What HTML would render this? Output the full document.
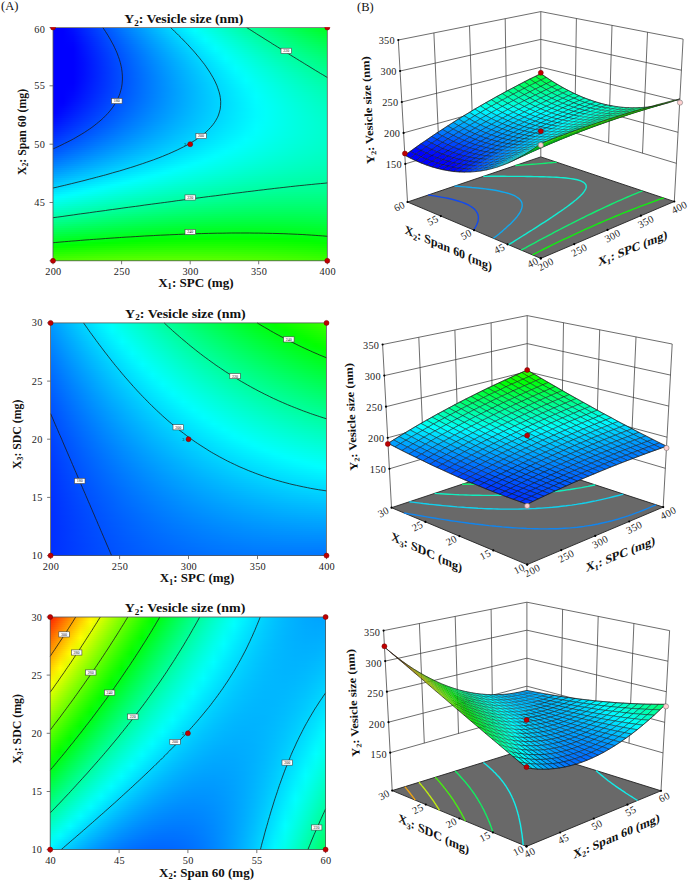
<!DOCTYPE html><html><head><meta charset="utf-8"><title>Figure</title><style>
html,body{margin:0;padding:0;background:#fff}
#w{position:relative;width:688px;height:882px;overflow:hidden;background:#fff;font-family:"Liberation Serif","DejaVu Serif",serif}
.hm{position:absolute;overflow:hidden}
.hm i{display:block;height:2px}
svg{position:absolute;left:0;top:0;opacity:.999}
text{font-family:"Liberation Serif","DejaVu Serif",serif;fill:#111;-webkit-font-smoothing:antialiased}
.a{stroke-width:.28}.b{stroke-width:.14}
.tk{font-size:10.3px;letter-spacing:0.3px;fill:#222}
</style></head><body><div id="w"><div class="hm" style="left:53px;top:27.5px;width:274.3px;height:233.3px"><i style="background:linear-gradient(90deg,#0000ff,#0000ff,#0011ff,#0027ff,#003cff,#0051ff,#0066ff,#007bff,#008fff,#00a3ff,#00b7ff,#00caff,#00ddff,#00f0ff,#00fffc,#00ffe9,#00ffd7,#00ffc5,#00ffb3,#00ffa2,#00ff91,#00ff81,#00ff70,#00ff60,#00ff51,#00ff41,#00ff32,#00ff23)"></i><i style="background:linear-gradient(90deg,#0000ff,#0000ff,#000eff,#0024ff,#0039ff,#004eff,#0063ff,#0078ff,#008cff,#009fff,#00b3ff,#00c6ff,#00d9ff,#00ecff,#00feff,#00ffee,#00ffdc,#00ffca,#00ffb9,#00ffa7,#00ff97,#00ff86,#00ff76,#00ff66,#00ff57,#00ff47,#00ff38,#00ff2a)"></i><i style="background:linear-gradient(90deg,#0000ff,#0000ff,#000cff,#0022ff,#0037ff,#004cff,#0060ff,#0075ff,#0089ff,#009cff,#00b0ff,#00c3ff,#00d5ff,#00e8ff,#00faff,#00fff2,#00ffe0,#00ffcf,#00ffbd,#00ffac,#00ff9c,#00ff8c,#00ff7c,#00ff6c,#00ff5c,#00ff4d,#00ff3f,#00ff30)"></i><i style="background:linear-gradient(90deg,#0000ff,#0000ff,#000aff,#0020ff,#0035ff,#0049ff,#005eff,#0072ff,#0086ff,#0099ff,#00acff,#00bfff,#00d2ff,#00e4ff,#00f6ff,#00fff7,#00ffe5,#00ffd3,#00ffc2,#00ffb1,#00ffa1,#00ff91,#00ff81,#00ff71,#00ff62,#00ff53,#00ff45,#00ff37)"></i><i style="background:linear-gradient(90deg,#0000ff,#0000ff,#0008ff,#001dff,#0032ff,#0047ff,#005bff,#006fff,#0083ff,#0096ff,#00a9ff,#00bcff,#00ceff,#00e0ff,#00f2ff,#00fffb,#00ffe9,#00ffd8,#00ffc7,#00ffb6,#00ffa6,#00ff96,#00ff86,#00ff77,#00ff68,#00ff59,#00ff4b,#00ff3d)"></i><i style="background:linear-gradient(90deg,#0000ff,#0000ff,#0007ff,#001cff,#0030ff,#0045ff,#0059ff,#006cff,#0080ff,#0093ff,#00a6ff,#00b8ff,#00cbff,#00dcff,#00eeff,#00ffff,#00ffed,#00ffdc,#00ffcb,#00ffbb,#00ffab,#00ff9b,#00ff8b,#00ff7c,#00ff6d,#00ff5f,#00ff51,#00ff43)"></i><i style="background:linear-gradient(90deg,#0000ff,#0000ff,#0005ff,#001aff,#002eff,#0042ff,#0056ff,#006aff,#007dff,#0090ff,#00a3ff,#00b5ff,#00c7ff,#00d9ff,#00eaff,#00fcff,#00fff1,#00ffe0,#00ffd0,#00ffbf,#00ffb0,#00ffa0,#00ff91,#00ff82,#00ff73,#00ff65,#00ff56,#00ff49)"></i><i style="background:linear-gradient(90deg,#0000ff,#0000ff,#0003ff,#0018ff,#002cff,#0040ff,#0054ff,#0068ff,#007bff,#008eff,#00a0ff,#00b2ff,#00c4ff,#00d6ff,#00e7ff,#00f8ff,#00fff5,#00ffe4,#00ffd4,#00ffc4,#00ffb4,#00ffa5,#00ff95,#00ff87,#00ff78,#00ff6a,#00ff5c,#00ff4f)"></i><i style="background:linear-gradient(90deg,#0000ff,#0000ff,#0002ff,#0016ff,#002bff,#003fff,#0052ff,#0065ff,#0078ff,#008bff,#009dff,#00afff,#00c1ff,#00d2ff,#00e4ff,#00f4ff,#00fff9,#00ffe8,#00ffd8,#00ffc8,#00ffb9,#00ffa9,#00ff9a,#00ff8c,#00ff7d,#00ff6f,#00ff62,#00ff54)"></i><i style="background:linear-gradient(90deg,#0000ff,#0000ff,#0001ff,#0015ff,#0029ff,#003dff,#0050ff,#0063ff,#0076ff,#0089ff,#009bff,#00adff,#00beff,#00cfff,#00e0ff,#00f1ff,#00fffd,#00ffec,#00ffdc,#00ffcc,#00ffbd,#00ffae,#00ff9f,#00ff90,#00ff82,#00ff74,#00ff67,#00ff5a)"></i><i style="background:linear-gradient(90deg,#0000ff,#0000ff,#0000ff,#0014ff,#0028ff,#003bff,#004eff,#0061ff,#0074ff,#0086ff,#0098ff,#00aaff,#00bbff,#00ccff,#00ddff,#00eeff,#00feff,#00fff0,#00ffe0,#00ffd0,#00ffc1,#00ffb2,#00ffa4,#00ff95,#00ff87,#00ff79,#00ff6c,#00ff5f)"></i><i style="background:linear-gradient(90deg,#0000ff,#0000ff,#0000ff,#0013ff,#0026ff,#003aff,#004dff,#0060ff,#0072ff,#0084ff,#0096ff,#00a8ff,#00b9ff,#00caff,#00daff,#00ebff,#00fbff,#00fff4,#00ffe4,#00ffd4,#00ffc5,#00ffb6,#00ffa8,#00ff9a,#00ff8c,#00ff7e,#00ff71,#00ff64)"></i><i style="background:linear-gradient(90deg,#0000ff,#0000ff,#0000ff,#0012ff,#0025ff,#0038ff,#004bff,#005eff,#0070ff,#0082ff,#0094ff,#00a5ff,#00b6ff,#00c7ff,#00d7ff,#00e8ff,#00f7ff,#00fff7,#00ffe7,#00ffd8,#00ffc9,#00ffbb,#00ffac,#00ff9e,#00ff91,#00ff83,#00ff76,#00ff69)"></i><i style="background:linear-gradient(90deg,#0000ff,#0000ff,#0000ff,#0011ff,#0024ff,#0037ff,#004aff,#005cff,#006eff,#0080ff,#0092ff,#00a3ff,#00b4ff,#00c4ff,#00d5ff,#00e5ff,#00f4ff,#00fffa,#00ffeb,#00ffdc,#00ffcd,#00ffbf,#00ffb0,#00ffa3,#00ff95,#00ff88,#00ff7b,#00ff6e)"></i><i style="background:linear-gradient(90deg,#0000ff,#0000ff,#0000ff,#0010ff,#0023ff,#0036ff,#0049ff,#005bff,#006dff,#007eff,#0090ff,#00a1ff,#00b2ff,#00c2ff,#00d2ff,#00e2ff,#00f1ff,#00fffd,#00ffee,#00ffdf,#00ffd1,#00ffc2,#00ffb4,#00ffa7,#00ff99,#00ff8c,#00ff80,#00ff73)"></i><i style="background:linear-gradient(90deg,#0000ff,#0000ff,#0000ff,#000fff,#0022ff,#0035ff,#0047ff,#0059ff,#006bff,#007dff,#008eff,#009fff,#00afff,#00c0ff,#00d0ff,#00dfff,#00efff,#00feff,#00fff1,#00ffe3,#00ffd4,#00ffc6,#00ffb8,#00ffab,#00ff9e,#00ff91,#00ff84,#00ff78)"></i><i style="background:linear-gradient(90deg,#0000ff,#0000ff,#0000ff,#000fff,#0021ff,#0034ff,#0046ff,#0058ff,#006aff,#007bff,#008cff,#009dff,#00adff,#00bdff,#00cdff,#00ddff,#00ecff,#00fbff,#00fff5,#00ffe6,#00ffd8,#00ffca,#00ffbc,#00ffaf,#00ffa2,#00ff95,#00ff89,#00ff7d)"></i><i style="background:linear-gradient(90deg,#0000ff,#0000ff,#0000ff,#000eff,#0021ff,#0033ff,#0045ff,#0057ff,#0069ff,#007aff,#008bff,#009bff,#00abff,#00bbff,#00cbff,#00daff,#00e9ff,#00f8ff,#00fff7,#00ffe9,#00ffdb,#00ffcd,#00ffc0,#00ffb3,#00ffa6,#00ff99,#00ff8d,#00ff81)"></i><i style="background:linear-gradient(90deg,#0000ff,#0000ff,#0000ff,#000eff,#0020ff,#0033ff,#0045ff,#0056ff,#0068ff,#0079ff,#0089ff,#009aff,#00aaff,#00b9ff,#00c9ff,#00d8ff,#00e7ff,#00f5ff,#00fffa,#00ffec,#00ffde,#00ffd0,#00ffc3,#00ffb6,#00ffaa,#00ff9d,#00ff91,#00ff85)"></i><i style="background:linear-gradient(90deg,#0000ff,#0000ff,#0000ff,#000eff,#0020ff,#0032ff,#0044ff,#0055ff,#0067ff,#0077ff,#0088ff,#0098ff,#00a8ff,#00b8ff,#00c7ff,#00d6ff,#00e5ff,#00f3ff,#00fffd,#00ffef,#00ffe1,#00ffd4,#00ffc7,#00ffba,#00ffad,#00ffa1,#00ff95,#00ff8a)"></i><i style="background:linear-gradient(90deg,#0000ff,#0000ff,#0000ff,#000eff,#0020ff,#0032ff,#0043ff,#0055ff,#0066ff,#0076ff,#0087ff,#0097ff,#00a7ff,#00b6ff,#00c5ff,#00d4ff,#00e2ff,#00f1ff,#00feff,#00fff2,#00ffe4,#00ffd7,#00ffca,#00ffbd,#00ffb1,#00ffa5,#00ff99,#00ff8e)"></i><i style="background:linear-gradient(90deg,#0000ff,#0000ff,#0000ff,#000eff,#0020ff,#0032ff,#0043ff,#0054ff,#0065ff,#0076ff,#0086ff,#0096ff,#00a5ff,#00b4ff,#00c3ff,#00d2ff,#00e0ff,#00eeff,#00fcff,#00fff4,#00ffe7,#00ffda,#00ffcd,#00ffc0,#00ffb4,#00ffa8,#00ff9d,#00ff92)"></i><i style="background:linear-gradient(90deg,#0000ff,#0000ff,#0000ff,#000eff,#0020ff,#0031ff,#0043ff,#0054ff,#0064ff,#0075ff,#0085ff,#0095ff,#00a4ff,#00b3ff,#00c2ff,#00d0ff,#00deff,#00ecff,#00faff,#00fff7,#00ffe9,#00ffdd,#00ffd0,#00ffc4,#00ffb8,#00ffac,#00ffa1,#00ff96)"></i><i style="background:linear-gradient(90deg,#0000ff,#0000ff,#0000ff,#000eff,#0020ff,#0032ff,#0043ff,#0053ff,#0064ff,#0074ff,#0084ff,#0094ff,#00a3ff,#00b2ff,#00c0ff,#00cfff,#00ddff,#00eaff,#00f8ff,#00fff9,#00ffec,#00ffdf,#00ffd3,#00ffc7,#00ffbb,#00ffaf,#00ffa4,#00ff99)"></i><i style="background:linear-gradient(90deg,#0000ff,#0000ff,#0000ff,#000fff,#0020ff,#0032ff,#0043ff,#0053ff,#0064ff,#0074ff,#0083ff,#0093ff,#00a2ff,#00b1ff,#00bfff,#00cdff,#00dbff,#00e9ff,#00f6ff,#00fffb,#00ffee,#00ffe2,#00ffd5,#00ffc9,#00ffbe,#00ffb2,#00ffa7,#00ff9d)"></i><i style="background:linear-gradient(90deg,#0000ff,#0000ff,#0000ff,#000fff,#0021ff,#0032ff,#0043ff,#0053ff,#0063ff,#0073ff,#0083ff,#0092ff,#00a1ff,#00b0ff,#00beff,#00ccff,#00d9ff,#00e7ff,#00f4ff,#00fffd,#00fff1,#00ffe4,#00ffd8,#00ffcc,#00ffc1,#00ffb6,#00ffab,#00ffa0)"></i><i style="background:linear-gradient(90deg,#0000ff,#0000ff,#0000ff,#0010ff,#0021ff,#0032ff,#0043ff,#0053ff,#0063ff,#0073ff,#0082ff,#0091ff,#00a0ff,#00afff,#00bdff,#00cbff,#00d8ff,#00e5ff,#00f2ff,#00ffff,#00fff3,#00ffe6,#00ffda,#00ffcf,#00ffc4,#00ffb9,#00ffae,#00ffa4)"></i><i style="background:linear-gradient(90deg,#0000ff,#0000ff,#0000ff,#0011ff,#0022ff,#0033ff,#0043ff,#0053ff,#0063ff,#0073ff,#0082ff,#0091ff,#00a0ff,#00aeff,#00bcff,#00c9ff,#00d7ff,#00e4ff,#00f1ff,#00fdff,#00fff5,#00ffe9,#00ffdd,#00ffd1,#00ffc6,#00ffbb,#00ffb1,#00ffa7)"></i><i style="background:linear-gradient(90deg,#0000ff,#0000ff,#0001ff,#0012ff,#0023ff,#0033ff,#0044ff,#0054ff,#0063ff,#0073ff,#0082ff,#0091ff,#009fff,#00adff,#00bbff,#00c8ff,#00d6ff,#00e2ff,#00efff,#00fbff,#00fff7,#00ffeb,#00ffdf,#00ffd4,#00ffc9,#00ffbe,#00ffb4,#00ffaa)"></i><i style="background:linear-gradient(90deg,#0000ff,#0000ff,#0002ff,#0013ff,#0024ff,#0034ff,#0044ff,#0054ff,#0064ff,#0073ff,#0082ff,#0090ff,#009fff,#00adff,#00baff,#00c8ff,#00d5ff,#00e1ff,#00eeff,#00faff,#00fff8,#00ffed,#00ffe1,#00ffd6,#00ffcb,#00ffc1,#00ffb7,#00ffad)"></i><i style="background:linear-gradient(90deg,#0000ff,#0000ff,#0003ff,#0014ff,#0025ff,#0035ff,#0045ff,#0055ff,#0064ff,#0073ff,#0082ff,#0090ff,#009eff,#00acff,#00baff,#00c7ff,#00d4ff,#00e0ff,#00ecff,#00f8ff,#00fffa,#00ffee,#00ffe3,#00ffd8,#00ffcd,#00ffc3,#00ffb9,#00ffaf)"></i><i style="background:linear-gradient(90deg,#0000ff,#0000ff,#0005ff,#0016ff,#0026ff,#0036ff,#0046ff,#0055ff,#0065ff,#0074ff,#0082ff,#0090ff,#009eff,#00acff,#00b9ff,#00c6ff,#00d3ff,#00dfff,#00ebff,#00f7ff,#00fffb,#00fff0,#00ffe5,#00ffda,#00ffd0,#00ffc5,#00ffbc,#00ffb2)"></i><i style="background:linear-gradient(90deg,#0000ff,#0000ff,#0007ff,#0017ff,#0027ff,#0037ff,#0047ff,#0056ff,#0065ff,#0074ff,#0082ff,#0091ff,#009eff,#00acff,#00b9ff,#00c6ff,#00d2ff,#00deff,#00eaff,#00f6ff,#00fffd,#00fff1,#00ffe7,#00ffdc,#00ffd2,#00ffc8,#00ffbe,#00ffb5)"></i><i style="background:linear-gradient(90deg,#0000ff,#0000ff,#0008ff,#0019ff,#0029ff,#0039ff,#0048ff,#0057ff,#0066ff,#0075ff,#0083ff,#0091ff,#009eff,#00acff,#00b9ff,#00c5ff,#00d2ff,#00deff,#00eaff,#00f5ff,#00fffe,#00fff3,#00ffe8,#00ffde,#00ffd3,#00ffca,#00ffc0,#00ffb7)"></i><i style="background:linear-gradient(90deg,#0000ff,#0000ff,#000aff,#001aff,#002aff,#003aff,#0049ff,#0058ff,#0067ff,#0075ff,#0083ff,#0091ff,#009fff,#00acff,#00b9ff,#00c5ff,#00d1ff,#00ddff,#00e9ff,#00f4ff,#00ffff,#00fff4,#00ffe9,#00ffdf,#00ffd5,#00ffcc,#00ffc2,#00ffb9)"></i><i style="background:linear-gradient(90deg,#0000ff,#0000ff,#000cff,#001cff,#002cff,#003cff,#004bff,#005aff,#0068ff,#0076ff,#0084ff,#0092ff,#009fff,#00acff,#00b9ff,#00c5ff,#00d1ff,#00ddff,#00e8ff,#00f3ff,#00feff,#00fff5,#00ffeb,#00ffe1,#00ffd7,#00ffcd,#00ffc4,#00ffbb)"></i><i style="background:linear-gradient(90deg,#0000ff,#0000ff,#000eff,#001eff,#002eff,#003dff,#004cff,#005bff,#0069ff,#0077ff,#0085ff,#0092ff,#00a0ff,#00acff,#00b9ff,#00c5ff,#00d1ff,#00dcff,#00e8ff,#00f3ff,#00fdff,#00fff6,#00ffec,#00ffe2,#00ffd8,#00ffcf,#00ffc6,#00ffbd)"></i><i style="background:linear-gradient(90deg,#0000ff,#0001ff,#0011ff,#0020ff,#0030ff,#003fff,#004eff,#005cff,#006bff,#0078ff,#0086ff,#0093ff,#00a0ff,#00adff,#00b9ff,#00c5ff,#00d1ff,#00dcff,#00e7ff,#00f2ff,#00fdff,#00fff7,#00ffed,#00ffe3,#00ffda,#00ffd1,#00ffc8,#00ffbf)"></i><i style="background:linear-gradient(90deg,#0000ff,#0003ff,#0013ff,#0023ff,#0032ff,#0041ff,#0050ff,#005eff,#006cff,#007aff,#0087ff,#0094ff,#00a1ff,#00adff,#00baff,#00c5ff,#00d1ff,#00dcff,#00e7ff,#00f2ff,#00fcff,#00fff8,#00ffee,#00ffe4,#00ffdb,#00ffd2,#00ffc9,#00ffc1)"></i><i style="background:linear-gradient(90deg,#0000ff,#0006ff,#0016ff,#0025ff,#0034ff,#0043ff,#0052ff,#0060ff,#006eff,#007bff,#0088ff,#0095ff,#00a2ff,#00aeff,#00baff,#00c6ff,#00d1ff,#00dcff,#00e7ff,#00f2ff,#00fcff,#00fff8,#00ffef,#00ffe5,#00ffdc,#00ffd3,#00ffcb,#00ffc3)"></i><i style="background:linear-gradient(90deg,#0000ff,#0009ff,#0018ff,#0028ff,#0037ff,#0045ff,#0054ff,#0062ff,#006fff,#007dff,#008aff,#0096ff,#00a3ff,#00afff,#00bbff,#00c6ff,#00d2ff,#00ddff,#00e7ff,#00f1ff,#00fbff,#00fff9,#00ffef,#00ffe6,#00ffdd,#00ffd4,#00ffcc,#00ffc4)"></i><i style="background:linear-gradient(90deg,#0000ff,#000cff,#001bff,#002aff,#0039ff,#0047ff,#0056ff,#0063ff,#0071ff,#007eff,#008bff,#0098ff,#00a4ff,#00b0ff,#00bcff,#00c7ff,#00d2ff,#00ddff,#00e7ff,#00f1ff,#00fbff,#00fff9,#00fff0,#00ffe7,#00ffde,#00ffd5,#00ffcd,#00ffc5)"></i><i style="background:linear-gradient(90deg,#0000ff,#000fff,#001eff,#002dff,#003cff,#004aff,#0058ff,#0066ff,#0073ff,#0080ff,#008dff,#0099ff,#00a5ff,#00b1ff,#00bdff,#00c8ff,#00d3ff,#00ddff,#00e8ff,#00f2ff,#00fbff,#00fff9,#00fff0,#00ffe7,#00ffdf,#00ffd6,#00ffce,#00ffc7)"></i><i style="background:linear-gradient(90deg,#0003ff,#0012ff,#0021ff,#0030ff,#003eff,#004cff,#005aff,#0068ff,#0075ff,#0082ff,#008fff,#009bff,#00a7ff,#00b2ff,#00beff,#00c9ff,#00d3ff,#00deff,#00e8ff,#00f2ff,#00fbff,#00fff9,#00fff0,#00ffe8,#00ffdf,#00ffd7,#00ffcf,#00ffc8)"></i><i style="background:linear-gradient(90deg,#0006ff,#0015ff,#0024ff,#0033ff,#0041ff,#004fff,#005dff,#006aff,#0077ff,#0084ff,#0090ff,#009cff,#00a8ff,#00b4ff,#00bfff,#00caff,#00d4ff,#00dfff,#00e9ff,#00f2ff,#00fbff,#00fff9,#00fff0,#00ffe8,#00ffe0,#00ffd8,#00ffd0,#00ffc9)"></i><i style="background:linear-gradient(90deg,#000aff,#0019ff,#0028ff,#0036ff,#0044ff,#0052ff,#005fff,#006dff,#007aff,#0086ff,#0092ff,#009eff,#00aaff,#00b5ff,#00c0ff,#00cbff,#00d5ff,#00dfff,#00e9ff,#00f3ff,#00fcff,#00fff9,#00fff0,#00ffe8,#00ffe0,#00ffd8,#00ffd1,#00ffca)"></i><i style="background:linear-gradient(90deg,#000dff,#001cff,#002bff,#0039ff,#0047ff,#0055ff,#0062ff,#006fff,#007cff,#0088ff,#0094ff,#00a0ff,#00acff,#00b7ff,#00c2ff,#00ccff,#00d6ff,#00e0ff,#00eaff,#00f3ff,#00fcff,#00fff9,#00fff0,#00ffe8,#00ffe0,#00ffd9,#00ffd1,#00ffca)"></i><i style="background:linear-gradient(90deg,#0011ff,#0020ff,#002fff,#003dff,#004aff,#0058ff,#0065ff,#0072ff,#007fff,#008bff,#0097ff,#00a2ff,#00aeff,#00b9ff,#00c3ff,#00ceff,#00d8ff,#00e1ff,#00ebff,#00f4ff,#00fdff,#00fff8,#00fff0,#00ffe8,#00ffe0,#00ffd9,#00ffd2,#00ffcb)"></i><i style="background:linear-gradient(90deg,#0015ff,#0024ff,#0032ff,#0040ff,#004eff,#005bff,#0068ff,#0075ff,#0081ff,#008dff,#0099ff,#00a5ff,#00b0ff,#00baff,#00c5ff,#00cfff,#00d9ff,#00e3ff,#00ecff,#00f5ff,#00feff,#00fff8,#00fff0,#00ffe8,#00ffe0,#00ffd9,#00ffd2,#00ffcb)"></i><i style="background:linear-gradient(90deg,#001aff,#0028ff,#0036ff,#0044ff,#0051ff,#005eff,#006bff,#0078ff,#0084ff,#0090ff,#009cff,#00a7ff,#00b2ff,#00bcff,#00c7ff,#00d1ff,#00dbff,#00e4ff,#00edff,#00f6ff,#00feff,#00fff7,#00ffef,#00ffe7,#00ffe0,#00ffd9,#00ffd2,#00ffcc)"></i><i style="background:linear-gradient(90deg,#001eff,#002cff,#003aff,#0048ff,#0055ff,#0062ff,#006fff,#007bff,#0087ff,#0093ff,#009eff,#00a9ff,#00b4ff,#00bfff,#00c9ff,#00d3ff,#00dcff,#00e6ff,#00eeff,#00f7ff,#00ffff,#00fff6,#00ffee,#00ffe7,#00ffe0,#00ffd9,#00ffd2,#00ffcc)"></i><i style="background:linear-gradient(90deg,#0022ff,#0030ff,#003eff,#004bff,#0059ff,#0065ff,#0072ff,#007eff,#008aff,#0096ff,#00a1ff,#00acff,#00b7ff,#00c1ff,#00cbff,#00d5ff,#00deff,#00e7ff,#00f0ff,#00f8ff,#00fffd,#00fff5,#00ffee,#00ffe6,#00ffdf,#00ffd8,#00ffd2,#00ffcc)"></i><i style="background:linear-gradient(90deg,#0027ff,#0035ff,#0042ff,#004fff,#005cff,#0069ff,#0075ff,#0082ff,#008dff,#0099ff,#00a4ff,#00afff,#00b9ff,#00c3ff,#00cdff,#00d7ff,#00e0ff,#00e9ff,#00f1ff,#00faff,#00fffc,#00fff4,#00ffed,#00ffe5,#00ffdf,#00ffd8,#00ffd2,#00ffcc)"></i><i style="background:linear-gradient(90deg,#002bff,#0039ff,#0047ff,#0054ff,#0060ff,#006dff,#0079ff,#0085ff,#0091ff,#009cff,#00a7ff,#00b1ff,#00bcff,#00c6ff,#00cfff,#00d9ff,#00e2ff,#00ebff,#00f3ff,#00fbff,#00fffb,#00fff3,#00ffec,#00ffe5,#00ffde,#00ffd7,#00ffd1,#00ffcb)"></i><i style="background:linear-gradient(90deg,#0030ff,#003eff,#004bff,#0058ff,#0065ff,#0071ff,#007dff,#0089ff,#0094ff,#009fff,#00aaff,#00b4ff,#00bfff,#00c8ff,#00d2ff,#00dbff,#00e4ff,#00edff,#00f5ff,#00fdff,#00fff9,#00fff2,#00ffea,#00ffe4,#00ffdd,#00ffd7,#00ffd1,#00ffcb)"></i><i style="background:linear-gradient(90deg,#0035ff,#0042ff,#0050ff,#005cff,#0069ff,#0075ff,#0081ff,#008cff,#0098ff,#00a3ff,#00adff,#00b7ff,#00c1ff,#00cbff,#00d5ff,#00deff,#00e6ff,#00efff,#00f7ff,#00ffff,#00fff8,#00fff0,#00ffe9,#00ffe2,#00ffdc,#00ffd6,#00ffd0,#00ffcb)"></i><i style="background:linear-gradient(90deg,#003aff,#0047ff,#0054ff,#0061ff,#006dff,#0079ff,#0085ff,#0090ff,#009bff,#00a6ff,#00b1ff,#00bbff,#00c5ff,#00ceff,#00d7ff,#00e0ff,#00e9ff,#00f1ff,#00f9ff,#00fffd,#00fff6,#00ffef,#00ffe8,#00ffe1,#00ffdb,#00ffd5,#00ffcf,#00ffca)"></i><i style="background:linear-gradient(90deg,#003fff,#004cff,#0059ff,#0066ff,#0072ff,#007eff,#0089ff,#0094ff,#009fff,#00aaff,#00b4ff,#00beff,#00c8ff,#00d1ff,#00daff,#00e3ff,#00ebff,#00f3ff,#00fbff,#00fffb,#00fff4,#00ffed,#00ffe6,#00ffe0,#00ffda,#00ffd4,#00ffce,#00ffc9)"></i><i style="background:linear-gradient(90deg,#0044ff,#0051ff,#005eff,#006aff,#0076ff,#0082ff,#008dff,#0098ff,#00a3ff,#00aeff,#00b8ff,#00c2ff,#00cbff,#00d4ff,#00ddff,#00e6ff,#00eeff,#00f6ff,#00fdff,#00fff9,#00fff2,#00ffeb,#00ffe4,#00ffde,#00ffd8,#00ffd3,#00ffcd,#00ffc8)"></i><i style="background:linear-gradient(90deg,#004aff,#0057ff,#0063ff,#006fff,#007bff,#0087ff,#0092ff,#009dff,#00a7ff,#00b1ff,#00bbff,#00c5ff,#00ceff,#00d7ff,#00e0ff,#00e9ff,#00f1ff,#00f8ff,#00fffe,#00fff7,#00fff0,#00ffe9,#00ffe3,#00ffdd,#00ffd7,#00ffd1,#00ffcc,#00ffc7)"></i><i style="background:linear-gradient(90deg,#004fff,#005cff,#0068ff,#0074ff,#0080ff,#008bff,#0096ff,#00a1ff,#00abff,#00b6ff,#00bfff,#00c9ff,#00d2ff,#00dbff,#00e3ff,#00ecff,#00f4ff,#00fbff,#00fffb,#00fff4,#00ffed,#00ffe7,#00ffe1,#00ffdb,#00ffd5,#00ffd0,#00ffcb,#00ffc6)"></i><i style="background:linear-gradient(90deg,#0055ff,#0061ff,#006eff,#0079ff,#0085ff,#0090ff,#009bff,#00a6ff,#00b0ff,#00baff,#00c3ff,#00cdff,#00d6ff,#00deff,#00e7ff,#00efff,#00f7ff,#00feff,#00fff9,#00fff2,#00ffeb,#00ffe5,#00ffdf,#00ffd9,#00ffd3,#00ffce,#00ffca,#00ffc5)"></i><i style="background:linear-gradient(90deg,#005bff,#0067ff,#0073ff,#007fff,#008aff,#0095ff,#00a0ff,#00aaff,#00b4ff,#00beff,#00c7ff,#00d1ff,#00d9ff,#00e2ff,#00eaff,#00f2ff,#00faff,#00fffd,#00fff6,#00ffef,#00ffe8,#00ffe2,#00ffdc,#00ffd7,#00ffd1,#00ffcd,#00ffc8,#00ffc4)"></i><i style="background:linear-gradient(90deg,#0061ff,#006dff,#0079ff,#0084ff,#008fff,#009aff,#00a5ff,#00afff,#00b9ff,#00c2ff,#00ccff,#00d5ff,#00ddff,#00e6ff,#00eeff,#00f6ff,#00fdff,#00fffa,#00fff3,#00ffec,#00ffe6,#00ffe0,#00ffda,#00ffd5,#00ffcf,#00ffcb,#00ffc6,#00ffc2)"></i><i style="background:linear-gradient(90deg,#0067ff,#0073ff,#007eff,#008aff,#0095ff,#009fff,#00aaff,#00b4ff,#00beff,#00c7ff,#00d0ff,#00d9ff,#00e2ff,#00eaff,#00f2ff,#00f9ff,#00fffe,#00fff6,#00fff0,#00ffe9,#00ffe3,#00ffdd,#00ffd7,#00ffd2,#00ffcd,#00ffc9,#00ffc4,#00ffc1)"></i><i style="background:linear-gradient(90deg,#006dff,#0079ff,#0084ff,#008fff,#009aff,#00a5ff,#00afff,#00b9ff,#00c2ff,#00ccff,#00d5ff,#00ddff,#00e6ff,#00eeff,#00f5ff,#00fdff,#00fffa,#00fff3,#00ffec,#00ffe6,#00ffe0,#00ffda,#00ffd5,#00ffd0,#00ffcb,#00ffc7,#00ffc3,#00ffbf)"></i><i style="background:linear-gradient(90deg,#0073ff,#007fff,#008aff,#0095ff,#00a0ff,#00aaff,#00b4ff,#00beff,#00c7ff,#00d1ff,#00d9ff,#00e2ff,#00eaff,#00f2ff,#00f9ff,#00fffd,#00fff6,#00ffef,#00ffe9,#00ffe3,#00ffdd,#00ffd7,#00ffd2,#00ffcd,#00ffc9,#00ffc4,#00ffc0,#00ffbd)"></i><i style="background:linear-gradient(90deg,#007aff,#0085ff,#0090ff,#009bff,#00a6ff,#00b0ff,#00baff,#00c3ff,#00ccff,#00d5ff,#00deff,#00e6ff,#00eeff,#00f6ff,#00feff,#00fff9,#00fff2,#00ffec,#00ffe5,#00ffdf,#00ffda,#00ffd4,#00ffcf,#00ffca,#00ffc6,#00ffc2,#00ffbe,#00ffbb)"></i><i style="background:linear-gradient(90deg,#0080ff,#008bff,#0096ff,#00a1ff,#00abff,#00b5ff,#00bfff,#00c9ff,#00d2ff,#00dbff,#00e3ff,#00ebff,#00f3ff,#00fbff,#00fffc,#00fff5,#00ffee,#00ffe8,#00ffe2,#00ffdc,#00ffd6,#00ffd1,#00ffcc,#00ffc8,#00ffc3,#00ffc0,#00ffbc,#00ffb9)"></i><i style="background:linear-gradient(90deg,#0087ff,#0092ff,#009dff,#00a7ff,#00b1ff,#00bbff,#00c5ff,#00ceff,#00d7ff,#00e0ff,#00e8ff,#00f0ff,#00f8ff,#00ffff,#00fff8,#00fff1,#00ffea,#00ffe4,#00ffde,#00ffd8,#00ffd3,#00ffce,#00ffc9,#00ffc5,#00ffc1,#00ffbd,#00ffb9,#00ffb6)"></i><i style="background:linear-gradient(90deg,#008eff,#0099ff,#00a3ff,#00aeff,#00b8ff,#00c1ff,#00cbff,#00d4ff,#00ddff,#00e5ff,#00edff,#00f5ff,#00fdff,#00fffa,#00fff3,#00ffec,#00ffe6,#00ffe0,#00ffda,#00ffd4,#00ffcf,#00ffca,#00ffc6,#00ffc2,#00ffbe,#00ffba,#00ffb7,#00ffb4)"></i><i style="background:linear-gradient(90deg,#0095ff,#009fff,#00aaff,#00b4ff,#00beff,#00c7ff,#00d1ff,#00daff,#00e2ff,#00eaff,#00f2ff,#00faff,#00fffc,#00fff5,#00ffee,#00ffe8,#00ffe1,#00ffdb,#00ffd6,#00ffd0,#00ffcb,#00ffc7,#00ffc2,#00ffbe,#00ffbb,#00ffb7,#00ffb4,#00ffb1)"></i><i style="background:linear-gradient(90deg,#009cff,#00a6ff,#00b1ff,#00bbff,#00c4ff,#00ceff,#00d7ff,#00dfff,#00e8ff,#00f0ff,#00f8ff,#00ffff,#00fff7,#00fff0,#00ffe9,#00ffe3,#00ffdd,#00ffd7,#00ffd2,#00ffcc,#00ffc8,#00ffc3,#00ffbf,#00ffbb,#00ffb7,#00ffb4,#00ffb1,#00ffaf)"></i><i style="background:linear-gradient(90deg,#00a3ff,#00adff,#00b7ff,#00c1ff,#00cbff,#00d4ff,#00ddff,#00e5ff,#00eeff,#00f6ff,#00fdff,#00fff9,#00fff2,#00ffeb,#00ffe4,#00ffde,#00ffd8,#00ffd3,#00ffcd,#00ffc8,#00ffc4,#00ffbf,#00ffbb,#00ffb7,#00ffb4,#00ffb1,#00ffae,#00ffac)"></i><i style="background:linear-gradient(90deg,#00aaff,#00b4ff,#00beff,#00c8ff,#00d1ff,#00daff,#00e3ff,#00ecff,#00f4ff,#00fcff,#00fffb,#00fff3,#00ffec,#00ffe6,#00ffdf,#00ffd9,#00ffd3,#00ffce,#00ffc9,#00ffc4,#00ffbf,#00ffbb,#00ffb7,#00ffb4,#00ffb1,#00ffae,#00ffab,#00ffa9)"></i><i style="background:linear-gradient(90deg,#00b2ff,#00bcff,#00c5ff,#00cfff,#00d8ff,#00e1ff,#00eaff,#00f2ff,#00faff,#00fffc,#00fff5,#00ffee,#00ffe7,#00ffe0,#00ffda,#00ffd4,#00ffce,#00ffc9,#00ffc4,#00ffbf,#00ffbb,#00ffb7,#00ffb3,#00ffb0,#00ffad,#00ffaa,#00ffa8,#00ffa6)"></i><i style="background:linear-gradient(90deg,#00b9ff,#00c3ff,#00cdff,#00d6ff,#00dfff,#00e8ff,#00f0ff,#00f8ff,#00fffe,#00fff6,#00ffef,#00ffe8,#00ffe1,#00ffdb,#00ffd5,#00ffcf,#00ffc9,#00ffc4,#00ffbf,#00ffbb,#00ffb7,#00ffb3,#00ffaf,#00ffac,#00ffa9,#00ffa7,#00ffa5,#00ffa3)"></i><i style="background:linear-gradient(90deg,#00c1ff,#00cbff,#00d4ff,#00ddff,#00e6ff,#00efff,#00f7ff,#00ffff,#00fff7,#00fff0,#00ffe9,#00ffe2,#00ffdb,#00ffd5,#00ffcf,#00ffc9,#00ffc4,#00ffbf,#00ffbb,#00ffb6,#00ffb2,#00ffaf,#00ffab,#00ffa8,#00ffa5,#00ffa3,#00ffa1,#00ff9f)"></i><i style="background:linear-gradient(90deg,#00c9ff,#00d2ff,#00dcff,#00e5ff,#00edff,#00f6ff,#00feff,#00fff8,#00fff1,#00ffe9,#00ffe2,#00ffdc,#00ffd5,#00ffcf,#00ffc9,#00ffc4,#00ffbf,#00ffba,#00ffb6,#00ffb1,#00ffae,#00ffaa,#00ffa7,#00ffa4,#00ffa2,#00ff9f,#00ff9d,#00ff9c)"></i><i style="background:linear-gradient(90deg,#00d1ff,#00daff,#00e3ff,#00ecff,#00f5ff,#00fdff,#00fff9,#00fff1,#00ffea,#00ffe3,#00ffdc,#00ffd5,#00ffcf,#00ffc9,#00ffc4,#00ffbe,#00ffb9,#00ffb5,#00ffb0,#00ffac,#00ffa9,#00ffa5,#00ffa2,#00ffa0,#00ff9d,#00ff9b,#00ff9a,#00ff98)"></i><i style="background:linear-gradient(90deg,#00d9ff,#00e2ff,#00ebff,#00f4ff,#00fcff,#00fffa,#00fff2,#00ffea,#00ffe3,#00ffdc,#00ffd5,#00ffcf,#00ffc9,#00ffc3,#00ffbe,#00ffb9,#00ffb4,#00ffaf,#00ffab,#00ffa7,#00ffa4,#00ffa1,#00ff9e,#00ff9b,#00ff99,#00ff97,#00ff96,#00ff94)"></i><i style="background:linear-gradient(90deg,#00e1ff,#00eaff,#00f3ff,#00fbff,#00fffa,#00fff2,#00ffea,#00ffe3,#00ffdc,#00ffd5,#00ffce,#00ffc8,#00ffc2,#00ffbd,#00ffb8,#00ffb3,#00ffae,#00ffaa,#00ffa6,#00ffa2,#00ff9f,#00ff9c,#00ff99,#00ff97,#00ff95,#00ff93,#00ff92,#00ff91)"></i><i style="background:linear-gradient(90deg,#00e9ff,#00f2ff,#00fbff,#00fffb,#00fff3,#00ffeb,#00ffe3,#00ffdc,#00ffd5,#00ffce,#00ffc8,#00ffc2,#00ffbc,#00ffb6,#00ffb1,#00ffad,#00ffa8,#00ffa4,#00ffa0,#00ff9d,#00ff9a,#00ff97,#00ff94,#00ff92,#00ff90,#00ff8f,#00ff8e,#00ff8d)"></i><i style="background:linear-gradient(90deg,#00f2ff,#00faff,#00fffb,#00fff3,#00ffeb,#00ffe3,#00ffdb,#00ffd4,#00ffcd,#00ffc7,#00ffc1,#00ffbb,#00ffb5,#00ffb0,#00ffab,#00ffa7,#00ffa2,#00ff9e,#00ff9b,#00ff97,#00ff94,#00ff92,#00ff8f,#00ff8d,#00ff8c,#00ff8a,#00ff89,#00ff89)"></i><i style="background:linear-gradient(90deg,#00faff,#00fffb,#00fff3,#00ffea,#00ffe2,#00ffdb,#00ffd3,#00ffcc,#00ffc6,#00ffc0,#00ffb9,#00ffb4,#00ffae,#00ffa9,#00ffa5,#00ffa0,#00ff9c,#00ff98,#00ff95,#00ff92,#00ff8f,#00ff8c,#00ff8a,#00ff88,#00ff87,#00ff86,#00ff85,#00ff84)"></i><i style="background:linear-gradient(90deg,#00fffb,#00fff2,#00ffea,#00ffe2,#00ffda,#00ffd3,#00ffcc,#00ffc5,#00ffbe,#00ffb8,#00ffb2,#00ffad,#00ffa8,#00ffa3,#00ff9e,#00ff9a,#00ff96,#00ff92,#00ff8f,#00ff8c,#00ff89,#00ff87,#00ff85,#00ff83,#00ff82,#00ff81,#00ff80,#00ff80)"></i><i style="background:linear-gradient(90deg,#00fff2,#00ffe9,#00ffe1,#00ffd9,#00ffd2,#00ffca,#00ffc3,#00ffbd,#00ffb7,#00ffb1,#00ffab,#00ffa6,#00ffa0,#00ff9c,#00ff97,#00ff93,#00ff90,#00ff8c,#00ff89,#00ff86,#00ff84,#00ff82,#00ff80,#00ff7e,#00ff7d,#00ff7c,#00ff7c,#00ff7b)"></i><i style="background:linear-gradient(90deg,#00ffe9,#00ffe0,#00ffd8,#00ffd1,#00ffc9,#00ffc2,#00ffbb,#00ffb5,#00ffaf,#00ffa9,#00ffa3,#00ff9e,#00ff99,#00ff95,#00ff91,#00ff8d,#00ff89,#00ff86,#00ff83,#00ff80,#00ff7e,#00ff7c,#00ff7a,#00ff79,#00ff78,#00ff77,#00ff77,#00ff77)"></i><i style="background:linear-gradient(90deg,#00ffe0,#00ffd7,#00ffcf,#00ffc8,#00ffc1,#00ffba,#00ffb3,#00ffad,#00ffa7,#00ffa1,#00ff9c,#00ff97,#00ff92,#00ff8e,#00ff8a,#00ff86,#00ff82,#00ff7f,#00ff7d,#00ff7a,#00ff78,#00ff76,#00ff75,#00ff73,#00ff73,#00ff72,#00ff72,#00ff72)"></i><i style="background:linear-gradient(90deg,#00ffd6,#00ffce,#00ffc6,#00ffbf,#00ffb8,#00ffb1,#00ffab,#00ffa4,#00ff9f,#00ff99,#00ff94,#00ff8f,#00ff8b,#00ff86,#00ff82,#00ff7f,#00ff7c,#00ff79,#00ff76,#00ff74,#00ff72,#00ff70,#00ff6f,#00ff6e,#00ff6d,#00ff6d,#00ff6d,#00ff6d)"></i><i style="background:linear-gradient(90deg,#00ffcc,#00ffc5,#00ffbd,#00ffb6,#00ffaf,#00ffa8,#00ffa2,#00ff9c,#00ff96,#00ff91,#00ff8c,#00ff87,#00ff83,#00ff7f,#00ff7b,#00ff78,#00ff75,#00ff72,#00ff70,#00ff6d,#00ff6c,#00ff6a,#00ff69,#00ff68,#00ff68,#00ff67,#00ff68,#00ff68)"></i><i style="background:linear-gradient(90deg,#00ffc3,#00ffbb,#00ffb4,#00ffad,#00ffa6,#00ff9f,#00ff99,#00ff93,#00ff8e,#00ff89,#00ff84,#00ff80,#00ff7b,#00ff77,#00ff74,#00ff71,#00ff6e,#00ff6b,#00ff69,#00ff67,#00ff65,#00ff64,#00ff63,#00ff62,#00ff62,#00ff62,#00ff62,#00ff63)"></i><i style="background:linear-gradient(90deg,#00ffb9,#00ffb1,#00ffaa,#00ffa3,#00ff9d,#00ff96,#00ff90,#00ff8b,#00ff86,#00ff81,#00ff7c,#00ff78,#00ff74,#00ff70,#00ff6c,#00ff69,#00ff67,#00ff64,#00ff62,#00ff60,#00ff5f,#00ff5e,#00ff5d,#00ff5c,#00ff5c,#00ff5c,#00ff5d,#00ff5e)"></i><i style="background:linear-gradient(90deg,#00ffaf,#00ffa8,#00ffa1,#00ff9a,#00ff93,#00ff8d,#00ff87,#00ff82,#00ff7d,#00ff78,#00ff74,#00ff6f,#00ff6c,#00ff68,#00ff65,#00ff62,#00ff5f,#00ff5d,#00ff5b,#00ff5a,#00ff58,#00ff57,#00ff57,#00ff56,#00ff56,#00ff57,#00ff57,#00ff58)"></i><i style="background:linear-gradient(90deg,#00ffa5,#00ff9e,#00ff97,#00ff90,#00ff8a,#00ff84,#00ff7e,#00ff79,#00ff74,#00ff6f,#00ff6b,#00ff67,#00ff63,#00ff60,#00ff5d,#00ff5a,#00ff58,#00ff56,#00ff54,#00ff53,#00ff51,#00ff51,#00ff50,#00ff50,#00ff50,#00ff51,#00ff51,#00ff53)"></i><i style="background:linear-gradient(90deg,#00ff9b,#00ff94,#00ff8d,#00ff86,#00ff80,#00ff7b,#00ff75,#00ff70,#00ff6b,#00ff67,#00ff63,#00ff5f,#00ff5b,#00ff58,#00ff55,#00ff53,#00ff50,#00ff4e,#00ff4d,#00ff4c,#00ff4b,#00ff4a,#00ff4a,#00ff4a,#00ff4a,#00ff4b,#00ff4c,#00ff4d)"></i><i style="background:linear-gradient(90deg,#00ff90,#00ff89,#00ff83,#00ff7d,#00ff77,#00ff71,#00ff6c,#00ff67,#00ff62,#00ff5e,#00ff5a,#00ff56,#00ff53,#00ff50,#00ff4d,#00ff4b,#00ff49,#00ff47,#00ff46,#00ff44,#00ff44,#00ff43,#00ff43,#00ff43,#00ff44,#00ff45,#00ff46,#00ff47)"></i><i style="background:linear-gradient(90deg,#00ff86,#00ff7f,#00ff79,#00ff73,#00ff6d,#00ff67,#00ff62,#00ff5e,#00ff59,#00ff55,#00ff51,#00ff4e,#00ff4a,#00ff48,#00ff45,#00ff43,#00ff41,#00ff3f,#00ff3e,#00ff3d,#00ff3d,#00ff3c,#00ff3c,#00ff3d,#00ff3d,#00ff3e,#00ff40,#00ff41)"></i><i style="background:linear-gradient(90deg,#00ff7b,#00ff75,#00ff6e,#00ff68,#00ff63,#00ff5e,#00ff59,#00ff54,#00ff50,#00ff4c,#00ff48,#00ff45,#00ff42,#00ff3f,#00ff3d,#00ff3b,#00ff39,#00ff38,#00ff36,#00ff36,#00ff35,#00ff35,#00ff35,#00ff36,#00ff37,#00ff38,#00ff39,#00ff3b)"></i><i style="background:linear-gradient(90deg,#00ff70,#00ff6a,#00ff64,#00ff5e,#00ff59,#00ff54,#00ff4f,#00ff4b,#00ff46,#00ff43,#00ff3f,#00ff3c,#00ff39,#00ff37,#00ff34,#00ff32,#00ff31,#00ff30,#00ff2f,#00ff2e,#00ff2e,#00ff2e,#00ff2e,#00ff2f,#00ff30,#00ff31,#00ff33,#00ff35)"></i><i style="background:linear-gradient(90deg,#00ff65,#00ff5f,#00ff59,#00ff54,#00ff4f,#00ff4a,#00ff45,#00ff41,#00ff3d,#00ff39,#00ff36,#00ff33,#00ff30,#00ff2e,#00ff2c,#00ff2a,#00ff29,#00ff28,#00ff27,#00ff26,#00ff26,#00ff27,#00ff27,#00ff28,#00ff29,#00ff2b,#00ff2c,#00ff2f)"></i><i style="background:linear-gradient(90deg,#00ff5a,#00ff54,#00ff4f,#00ff49,#00ff44,#00ff40,#00ff3b,#00ff37,#00ff33,#00ff30,#00ff2d,#00ff2a,#00ff27,#00ff25,#00ff23,#00ff22,#00ff20,#00ff20,#00ff1f,#00ff1f,#00ff1f,#00ff1f,#00ff20,#00ff21,#00ff22,#00ff24,#00ff26,#00ff28)"></i><i style="background:linear-gradient(90deg,#00ff4f,#00ff49,#00ff44,#00ff3f,#00ff3a,#00ff35,#00ff31,#00ff2d,#00ff29,#00ff26,#00ff23,#00ff20,#00ff1e,#00ff1c,#00ff1a,#00ff19,#00ff18,#00ff17,#00ff17,#00ff17,#00ff17,#00ff17,#00ff18,#00ff1a,#00ff1b,#00ff1d,#00ff1f,#00ff21)"></i><i style="background:linear-gradient(90deg,#00ff44,#00ff3e,#00ff39,#00ff34,#00ff2f,#00ff2b,#00ff27,#00ff23,#00ff1f,#00ff1c,#00ff1a,#00ff17,#00ff15,#00ff13,#00ff11,#00ff10,#00ff0f,#00ff0f,#00ff0f,#00ff0f,#00ff0f,#00ff10,#00ff11,#00ff12,#00ff14,#00ff16,#00ff18,#00ff1b)"></i><i style="background:linear-gradient(90deg,#00ff39,#00ff33,#00ff2e,#00ff29,#00ff24,#00ff20,#00ff1c,#00ff19,#00ff15,#00ff12,#00ff10,#00ff0d,#00ff0b,#00ff0a,#00ff08,#00ff07,#00ff07,#00ff06,#00ff06,#00ff06,#00ff07,#00ff08,#00ff09,#00ff0b,#00ff0c,#00ff0f,#00ff11,#00ff14)"></i><i style="background:linear-gradient(90deg,#00ff2d,#00ff28,#00ff23,#00ff1e,#00ff1a,#00ff16,#00ff12,#00ff0e,#00ff0b,#00ff08,#00ff06,#00ff04,#00ff02,#00ff00,#01ff00,#01ff00,#02ff00,#02ff00,#02ff00,#02ff00,#01ff00,#00ff00,#00ff01,#00ff03,#00ff05,#00ff07,#00ff0a,#00ff0d)"></i><i style="background:linear-gradient(90deg,#00ff21,#00ff1c,#00ff17,#00ff13,#00ff0f,#00ff0b,#00ff07,#00ff04,#00ff01,#02ff00,#04ff00,#05ff00,#07ff00,#08ff00,#09ff00,#09ff00,#0aff00,#0aff00,#0aff00,#09ff00,#08ff00,#07ff00,#06ff00,#04ff00,#02ff00,#00ff00,#00ff03,#00ff06)"></i><i style="background:linear-gradient(90deg,#00ff16,#00ff11,#00ff0c,#00ff08,#00ff03,#00ff00,#03ff00,#06ff00,#08ff00,#0bff00,#0cff00,#0eff00,#0fff00,#10ff00,#11ff00,#12ff00,#12ff00,#12ff00,#11ff00,#11ff00,#10ff00,#0fff00,#0dff00,#0bff00,#09ff00,#07ff00,#04ff00,#01ff00)"></i><i style="background:linear-gradient(90deg,#00ff0a,#00ff05,#00ff00,#03ff00,#07ff00,#0aff00,#0dff00,#0fff00,#12ff00,#14ff00,#15ff00,#17ff00,#18ff00,#19ff00,#1aff00,#1aff00,#1aff00,#1aff00,#19ff00,#18ff00,#17ff00,#16ff00,#14ff00,#12ff00,#10ff00,#0eff00,#0bff00,#08ff00)"></i><i style="background:linear-gradient(90deg,#02ff00,#06ff00,#0aff00,#0eff00,#11ff00,#14ff00,#17ff00,#19ff00,#1bff00,#1dff00,#1fff00,#20ff00,#21ff00,#22ff00,#22ff00,#22ff00,#22ff00,#22ff00,#21ff00,#20ff00,#1fff00,#1dff00,#1cff00,#1aff00,#17ff00,#15ff00,#12ff00,#0eff00)"></i><i style="background:linear-gradient(90deg,#0dff00,#11ff00,#15ff00,#18ff00,#1bff00,#1eff00,#20ff00,#23ff00,#25ff00,#26ff00,#28ff00,#29ff00,#2aff00,#2aff00,#2bff00,#2bff00,#2bff00,#2aff00,#29ff00,#28ff00,#27ff00,#25ff00,#23ff00,#21ff00,#1eff00,#1cff00,#18ff00,#15ff00)"></i><i style="background:linear-gradient(90deg,#18ff00,#1cff00,#1fff00,#22ff00,#25ff00,#28ff00,#2aff00,#2dff00,#2eff00,#30ff00,#31ff00,#32ff00,#33ff00,#33ff00,#34ff00,#33ff00,#33ff00,#32ff00,#31ff00,#30ff00,#2fff00,#2dff00,#2bff00,#28ff00,#26ff00,#23ff00,#1fff00,#1cff00)"></i><i style="background:linear-gradient(90deg,#23ff00,#26ff00,#2aff00,#2dff00,#30ff00,#32ff00,#34ff00,#36ff00,#38ff00,#3aff00,#3bff00,#3cff00,#3cff00,#3cff00,#3cff00,#3cff00,#3cff00,#3bff00,#3aff00,#38ff00,#37ff00,#35ff00,#32ff00,#30ff00,#2dff00,#2aff00,#27ff00,#23ff00)"></i><i style="background:linear-gradient(90deg,#2eff00,#31ff00,#35ff00,#37ff00,#3aff00,#3dff00,#3fff00,#41ff00,#42ff00,#43ff00,#44ff00,#45ff00,#45ff00,#46ff00,#45ff00,#45ff00,#44ff00,#43ff00,#42ff00,#41ff00,#3fff00,#3dff00,#3aff00,#38ff00,#35ff00,#31ff00,#2eff00,#2aff00)"></i><i style="background:linear-gradient(90deg,#39ff00,#3cff00,#3fff00,#42ff00,#45ff00,#47ff00,#49ff00,#4bff00,#4cff00,#4dff00,#4eff00,#4fff00,#4fff00,#4fff00,#4fff00,#4eff00,#4dff00,#4cff00,#4bff00,#49ff00,#47ff00,#45ff00,#42ff00,#3fff00,#3cff00,#39ff00,#35ff00,#31ff00)"></i><i style="background:linear-gradient(90deg,#44ff00,#47ff00,#4aff00,#4dff00,#4fff00,#52ff00,#53ff00,#55ff00,#56ff00,#57ff00,#58ff00,#58ff00,#58ff00,#58ff00,#58ff00,#57ff00,#56ff00,#55ff00,#53ff00,#51ff00,#4fff00,#4dff00,#4aff00,#47ff00,#44ff00,#40ff00,#3dff00,#38ff00)"></i><i style="background:linear-gradient(90deg,#50ff00,#53ff00,#56ff00,#58ff00,#5aff00,#5cff00,#5eff00,#5fff00,#60ff00,#61ff00,#62ff00,#62ff00,#62ff00,#62ff00,#61ff00,#60ff00,#5fff00,#5eff00,#5cff00,#5aff00,#58ff00,#55ff00,#52ff00,#4fff00,#4cff00,#48ff00,#44ff00,#40ff00)"></i></div><div class="hm" style="left:50.6px;top:322.9px;width:275.9px;height:232.7px"><i style="background:linear-gradient(90deg,#009aff,#00adff,#00bfff,#00d1ff,#00e3ff,#00f5ff,#00fff7,#00ffe6,#00ffd4,#00ffc3,#00ffb3,#00ffa2,#00ff92,#00ff82,#00ff72,#00ff63,#00ff54,#00ff45,#00ff36,#00ff28,#00ff1a,#00ff0c,#01ff00,#0dff00,#18ff00,#23ff00,#2eff00,#39ff00)"></i><i style="background:linear-gradient(90deg,#0098ff,#00aaff,#00bdff,#00cfff,#00e1ff,#00f2ff,#00fffa,#00ffe9,#00ffd7,#00ffc7,#00ffb6,#00ffa5,#00ff95,#00ff86,#00ff76,#00ff67,#00ff58,#00ff49,#00ff3a,#00ff2c,#00ff1e,#00ff11,#00ff03,#09ff00,#14ff00,#1fff00,#2aff00,#34ff00)"></i><i style="background:linear-gradient(90deg,#0096ff,#00a8ff,#00bbff,#00cdff,#00deff,#00f0ff,#00fffd,#00ffec,#00ffda,#00ffca,#00ffb9,#00ffa9,#00ff99,#00ff89,#00ff7a,#00ff6a,#00ff5c,#00ff4d,#00ff3f,#00ff31,#00ff23,#00ff15,#00ff08,#04ff00,#10ff00,#1bff00,#25ff00,#30ff00)"></i><i style="background:linear-gradient(90deg,#0094ff,#00a6ff,#00b8ff,#00caff,#00dcff,#00edff,#00feff,#00ffee,#00ffdd,#00ffcd,#00ffbc,#00ffac,#00ff9c,#00ff8d,#00ff7d,#00ff6e,#00ff5f,#00ff51,#00ff43,#00ff35,#00ff27,#00ff1a,#00ff0d,#00ff00,#0bff00,#16ff00,#21ff00,#2bff00)"></i><i style="background:linear-gradient(90deg,#0092ff,#00a4ff,#00b6ff,#00c8ff,#00d9ff,#00ebff,#00fcff,#00fff1,#00ffe0,#00ffd0,#00ffc0,#00ffaf,#00ffa0,#00ff90,#00ff81,#00ff72,#00ff63,#00ff55,#00ff47,#00ff39,#00ff2b,#00ff1e,#00ff11,#00ff04,#07ff00,#12ff00,#1cff00,#27ff00)"></i><i style="background:linear-gradient(90deg,#0090ff,#00a2ff,#00b4ff,#00c6ff,#00d7ff,#00e8ff,#00f9ff,#00fff4,#00ffe3,#00ffd3,#00ffc3,#00ffb3,#00ffa3,#00ff94,#00ff85,#00ff76,#00ff67,#00ff59,#00ff4b,#00ff3d,#00ff30,#00ff23,#00ff16,#00ff09,#03ff00,#0eff00,#18ff00,#22ff00)"></i><i style="background:linear-gradient(90deg,#008eff,#00a0ff,#00b2ff,#00c3ff,#00d4ff,#00e6ff,#00f6ff,#00fff7,#00ffe6,#00ffd6,#00ffc6,#00ffb6,#00ffa7,#00ff97,#00ff88,#00ff7a,#00ff6b,#00ff5d,#00ff4f,#00ff41,#00ff34,#00ff27,#00ff1a,#00ff0e,#00ff01,#09ff00,#14ff00,#1eff00)"></i><i style="background:linear-gradient(90deg,#008cff,#009eff,#00afff,#00c1ff,#00d2ff,#00e3ff,#00f4ff,#00fffa,#00ffe9,#00ffd9,#00ffc9,#00ffb9,#00ffaa,#00ff9b,#00ff8c,#00ff7d,#00ff6f,#00ff61,#00ff53,#00ff46,#00ff38,#00ff2b,#00ff1f,#00ff12,#00ff06,#05ff00,#0fff00,#19ff00)"></i><i style="background:linear-gradient(90deg,#008aff,#009cff,#00adff,#00bfff,#00d0ff,#00e1ff,#00f1ff,#00fffd,#00ffec,#00ffdc,#00ffcc,#00ffbd,#00ffad,#00ff9e,#00ff8f,#00ff81,#00ff73,#00ff65,#00ff57,#00ff4a,#00ff3d,#00ff30,#00ff23,#00ff17,#00ff0b,#01ff00,#0bff00,#15ff00)"></i><i style="background:linear-gradient(90deg,#0088ff,#009aff,#00abff,#00bcff,#00cdff,#00deff,#00eeff,#00ffff,#00ffef,#00ffdf,#00ffcf,#00ffc0,#00ffb1,#00ffa2,#00ff93,#00ff85,#00ff76,#00ff69,#00ff5b,#00ff4e,#00ff41,#00ff34,#00ff28,#00ff1b,#00ff10,#00ff04,#07ff00,#10ff00)"></i><i style="background:linear-gradient(90deg,#0086ff,#0098ff,#00a9ff,#00baff,#00cbff,#00dcff,#00ecff,#00fcff,#00fff2,#00ffe2,#00ffd2,#00ffc3,#00ffb4,#00ffa5,#00ff96,#00ff88,#00ff7a,#00ff6d,#00ff5f,#00ff52,#00ff45,#00ff38,#00ff2c,#00ff20,#00ff14,#00ff09,#02ff00,#0cff00)"></i><i style="background:linear-gradient(90deg,#0084ff,#0096ff,#00a7ff,#00b8ff,#00c9ff,#00d9ff,#00e9ff,#00f9ff,#00fff5,#00ffe5,#00ffd5,#00ffc6,#00ffb7,#00ffa8,#00ff9a,#00ff8c,#00ff7e,#00ff70,#00ff63,#00ff56,#00ff49,#00ff3d,#00ff30,#00ff24,#00ff19,#00ff0d,#00ff02,#08ff00)"></i><i style="background:linear-gradient(90deg,#0082ff,#0094ff,#00a5ff,#00b6ff,#00c6ff,#00d7ff,#00e7ff,#00f7ff,#00fff8,#00ffe8,#00ffd8,#00ffc9,#00ffba,#00ffac,#00ff9e,#00ff8f,#00ff82,#00ff74,#00ff67,#00ff5a,#00ff4d,#00ff41,#00ff35,#00ff29,#00ff1d,#00ff12,#00ff07,#03ff00)"></i><i style="background:linear-gradient(90deg,#0080ff,#0092ff,#00a3ff,#00b4ff,#00c4ff,#00d4ff,#00e4ff,#00f4ff,#00fffa,#00ffeb,#00ffdb,#00ffcc,#00ffbe,#00ffaf,#00ffa1,#00ff93,#00ff85,#00ff78,#00ff6b,#00ff5e,#00ff51,#00ff45,#00ff39,#00ff2d,#00ff22,#00ff17,#00ff0c,#00ff01)"></i><i style="background:linear-gradient(90deg,#007fff,#0090ff,#00a1ff,#00b1ff,#00c2ff,#00d2ff,#00e2ff,#00f1ff,#00fffd,#00ffee,#00ffde,#00ffd0,#00ffc1,#00ffb3,#00ffa4,#00ff97,#00ff89,#00ff7c,#00ff6f,#00ff62,#00ff56,#00ff49,#00ff3e,#00ff32,#00ff27,#00ff1c,#00ff11,#00ff06)"></i><i style="background:linear-gradient(90deg,#007dff,#008eff,#009fff,#00afff,#00c0ff,#00d0ff,#00dfff,#00efff,#00feff,#00fff1,#00ffe1,#00ffd3,#00ffc4,#00ffb6,#00ffa8,#00ff9a,#00ff8d,#00ff80,#00ff73,#00ff66,#00ff5a,#00ff4e,#00ff42,#00ff36,#00ff2b,#00ff20,#00ff16,#00ff0b)"></i><i style="background:linear-gradient(90deg,#007bff,#008cff,#009dff,#00adff,#00bdff,#00cdff,#00ddff,#00ecff,#00fbff,#00fff3,#00ffe4,#00ffd6,#00ffc7,#00ffb9,#00ffab,#00ff9e,#00ff90,#00ff83,#00ff77,#00ff6a,#00ff5e,#00ff52,#00ff46,#00ff3b,#00ff30,#00ff25,#00ff1a,#00ff10)"></i><i style="background:linear-gradient(90deg,#0079ff,#008aff,#009bff,#00abff,#00bbff,#00cbff,#00dbff,#00eaff,#00f9ff,#00fff6,#00ffe7,#00ffd9,#00ffca,#00ffbc,#00ffaf,#00ffa1,#00ff94,#00ff87,#00ff7a,#00ff6e,#00ff62,#00ff56,#00ff4a,#00ff3f,#00ff34,#00ff29,#00ff1f,#00ff15)"></i><i style="background:linear-gradient(90deg,#0078ff,#0088ff,#0099ff,#00a9ff,#00b9ff,#00c9ff,#00d8ff,#00e7ff,#00f6ff,#00fff9,#00ffea,#00ffdc,#00ffce,#00ffc0,#00ffb2,#00ffa5,#00ff98,#00ff8b,#00ff7e,#00ff72,#00ff66,#00ff5a,#00ff4f,#00ff44,#00ff39,#00ff2e,#00ff24,#00ff1a)"></i><i style="background:linear-gradient(90deg,#0076ff,#0086ff,#0097ff,#00a7ff,#00b7ff,#00c6ff,#00d6ff,#00e5ff,#00f4ff,#00fffc,#00ffed,#00ffdf,#00ffd1,#00ffc3,#00ffb5,#00ffa8,#00ff9b,#00ff8e,#00ff82,#00ff76,#00ff6a,#00ff5e,#00ff53,#00ff48,#00ff3d,#00ff33,#00ff28,#00ff1f)"></i><i style="background:linear-gradient(90deg,#0074ff,#0085ff,#0095ff,#00a5ff,#00b5ff,#00c4ff,#00d3ff,#00e2ff,#00f1ff,#00ffff,#00fff0,#00ffe2,#00ffd4,#00ffc6,#00ffb9,#00ffac,#00ff9f,#00ff92,#00ff86,#00ff7a,#00ff6e,#00ff62,#00ff57,#00ff4c,#00ff42,#00ff37,#00ff2d,#00ff23)"></i><i style="background:linear-gradient(90deg,#0072ff,#0083ff,#0093ff,#00a3ff,#00b3ff,#00c2ff,#00d1ff,#00e0ff,#00eeff,#00fdff,#00fff3,#00ffe5,#00ffd7,#00ffc9,#00ffbc,#00ffaf,#00ffa2,#00ff96,#00ff89,#00ff7e,#00ff72,#00ff67,#00ff5b,#00ff51,#00ff46,#00ff3c,#00ff32,#00ff28)"></i><i style="background:linear-gradient(90deg,#0071ff,#0081ff,#0091ff,#00a1ff,#00b1ff,#00c0ff,#00cfff,#00deff,#00ecff,#00faff,#00fff6,#00ffe8,#00ffda,#00ffcc,#00ffbf,#00ffb2,#00ffa6,#00ff99,#00ff8d,#00ff81,#00ff76,#00ff6b,#00ff60,#00ff55,#00ff4a,#00ff40,#00ff36,#00ff2d)"></i><i style="background:linear-gradient(90deg,#006fff,#007fff,#008fff,#009fff,#00aeff,#00beff,#00ccff,#00dbff,#00e9ff,#00f8ff,#00fff8,#00ffeb,#00ffdd,#00ffd0,#00ffc3,#00ffb6,#00ffa9,#00ff9d,#00ff91,#00ff85,#00ff7a,#00ff6f,#00ff64,#00ff59,#00ff4f,#00ff45,#00ff3b,#00ff32)"></i><i style="background:linear-gradient(90deg,#006eff,#007eff,#008dff,#009dff,#00acff,#00bbff,#00caff,#00d9ff,#00e7ff,#00f5ff,#00fffb,#00ffed,#00ffe0,#00ffd3,#00ffc6,#00ffb9,#00ffad,#00ffa0,#00ff95,#00ff89,#00ff7e,#00ff73,#00ff68,#00ff5d,#00ff53,#00ff49,#00ff40,#00ff36)"></i><i style="background:linear-gradient(90deg,#006cff,#007cff,#008cff,#009bff,#00aaff,#00b9ff,#00c8ff,#00d6ff,#00e4ff,#00f2ff,#00fffe,#00fff0,#00ffe3,#00ffd6,#00ffc9,#00ffbc,#00ffb0,#00ffa4,#00ff98,#00ff8d,#00ff82,#00ff77,#00ff6c,#00ff62,#00ff58,#00ff4e,#00ff44,#00ff3b)"></i><i style="background:linear-gradient(90deg,#006aff,#007aff,#008aff,#0099ff,#00a8ff,#00b7ff,#00c6ff,#00d4ff,#00e2ff,#00f0ff,#00fdff,#00fff3,#00ffe6,#00ffd9,#00ffcc,#00ffc0,#00ffb4,#00ffa8,#00ff9c,#00ff91,#00ff85,#00ff7b,#00ff70,#00ff66,#00ff5c,#00ff52,#00ff49,#00ff40)"></i><i style="background:linear-gradient(90deg,#0069ff,#0079ff,#0088ff,#0097ff,#00a6ff,#00b5ff,#00c4ff,#00d2ff,#00e0ff,#00edff,#00fbff,#00fff6,#00ffe9,#00ffdc,#00ffcf,#00ffc3,#00ffb7,#00ffab,#00ffa0,#00ff94,#00ff89,#00ff7f,#00ff74,#00ff6a,#00ff60,#00ff57,#00ff4d,#00ff44)"></i><i style="background:linear-gradient(90deg,#0067ff,#0077ff,#0086ff,#0096ff,#00a4ff,#00b3ff,#00c1ff,#00cfff,#00ddff,#00ebff,#00f8ff,#00fff9,#00ffec,#00ffdf,#00ffd2,#00ffc6,#00ffba,#00ffaf,#00ffa3,#00ff98,#00ff8d,#00ff83,#00ff78,#00ff6e,#00ff64,#00ff5b,#00ff52,#00ff49)"></i><i style="background:linear-gradient(90deg,#0066ff,#0075ff,#0085ff,#0094ff,#00a2ff,#00b1ff,#00bfff,#00cdff,#00dbff,#00e8ff,#00f5ff,#00fffc,#00ffef,#00ffe2,#00ffd6,#00ffc9,#00ffbe,#00ffb2,#00ffa7,#00ff9c,#00ff91,#00ff87,#00ff7c,#00ff72,#00ff69,#00ff5f,#00ff56,#00ff4d)"></i><i style="background:linear-gradient(90deg,#0064ff,#0074ff,#0083ff,#0092ff,#00a0ff,#00afff,#00bdff,#00cbff,#00d8ff,#00e6ff,#00f3ff,#00fffe,#00fff2,#00ffe5,#00ffd9,#00ffcd,#00ffc1,#00ffb6,#00ffaa,#00ff9f,#00ff95,#00ff8a,#00ff80,#00ff77,#00ff6d,#00ff64,#00ff5b,#00ff52)"></i><i style="background:linear-gradient(90deg,#0063ff,#0072ff,#0081ff,#0090ff,#009fff,#00adff,#00bbff,#00c9ff,#00d6ff,#00e3ff,#00f0ff,#00fdff,#00fff4,#00ffe8,#00ffdc,#00ffd0,#00ffc4,#00ffb9,#00ffae,#00ffa3,#00ff99,#00ff8e,#00ff84,#00ff7b,#00ff71,#00ff68,#00ff5f,#00ff57)"></i><i style="background:linear-gradient(90deg,#0061ff,#0071ff,#0080ff,#008eff,#009dff,#00abff,#00b9ff,#00c6ff,#00d4ff,#00e1ff,#00eeff,#00faff,#00fff7,#00ffeb,#00ffdf,#00ffd3,#00ffc8,#00ffbc,#00ffb1,#00ffa7,#00ff9c,#00ff92,#00ff88,#00ff7f,#00ff75,#00ff6c,#00ff64,#00ff5b)"></i><i style="background:linear-gradient(90deg,#0060ff,#006fff,#007eff,#008cff,#009bff,#00a9ff,#00b7ff,#00c4ff,#00d1ff,#00deff,#00ebff,#00f8ff,#00fffa,#00ffee,#00ffe2,#00ffd6,#00ffcb,#00ffc0,#00ffb5,#00ffaa,#00ffa0,#00ff96,#00ff8c,#00ff83,#00ff7a,#00ff71,#00ff68,#00ff60)"></i><i style="background:linear-gradient(90deg,#005fff,#006eff,#007cff,#008bff,#0099ff,#00a7ff,#00b5ff,#00c2ff,#00cfff,#00dcff,#00e9ff,#00f5ff,#00fffd,#00fff1,#00ffe5,#00ffd9,#00ffce,#00ffc3,#00ffb8,#00ffae,#00ffa4,#00ff9a,#00ff90,#00ff87,#00ff7e,#00ff75,#00ff6c,#00ff64)"></i><i style="background:linear-gradient(90deg,#005dff,#006cff,#007bff,#0089ff,#0097ff,#00a5ff,#00b3ff,#00c0ff,#00cdff,#00daff,#00e6ff,#00f2ff,#00feff,#00fff4,#00ffe8,#00ffdd,#00ffd1,#00ffc6,#00ffbc,#00ffb1,#00ffa7,#00ff9e,#00ff94,#00ff8b,#00ff82,#00ff79,#00ff71,#00ff69)"></i><i style="background:linear-gradient(90deg,#005cff,#006bff,#0079ff,#0087ff,#0095ff,#00a3ff,#00b1ff,#00beff,#00cbff,#00d7ff,#00e4ff,#00f0ff,#00fcff,#00fff7,#00ffeb,#00ffe0,#00ffd5,#00ffca,#00ffbf,#00ffb5,#00ffab,#00ffa1,#00ff98,#00ff8f,#00ff86,#00ff7d,#00ff75,#00ff6d)"></i><i style="background:linear-gradient(90deg,#005aff,#0069ff,#0078ff,#0086ff,#0094ff,#00a1ff,#00afff,#00bcff,#00c8ff,#00d5ff,#00e1ff,#00edff,#00f9ff,#00fff9,#00ffee,#00ffe3,#00ffd8,#00ffcd,#00ffc3,#00ffb9,#00ffaf,#00ffa5,#00ff9c,#00ff93,#00ff8a,#00ff82,#00ff79,#00ff72)"></i><i style="background:linear-gradient(90deg,#0059ff,#0068ff,#0076ff,#0084ff,#0092ff,#009fff,#00adff,#00b9ff,#00c6ff,#00d3ff,#00dfff,#00ebff,#00f6ff,#00fffc,#00fff1,#00ffe6,#00ffdb,#00ffd0,#00ffc6,#00ffbc,#00ffb2,#00ffa9,#00ffa0,#00ff97,#00ff8e,#00ff86,#00ff7e,#00ff76)"></i><i style="background:linear-gradient(90deg,#0058ff,#0066ff,#0074ff,#0082ff,#0090ff,#009dff,#00abff,#00b7ff,#00c4ff,#00d0ff,#00dcff,#00e8ff,#00f4ff,#00ffff,#00fff4,#00ffe9,#00ffde,#00ffd4,#00ffc9,#00ffc0,#00ffb6,#00ffad,#00ffa4,#00ff9b,#00ff92,#00ff8a,#00ff82,#00ff7a)"></i><i style="background:linear-gradient(90deg,#0056ff,#0065ff,#0073ff,#0081ff,#008eff,#009cff,#00a9ff,#00b5ff,#00c2ff,#00ceff,#00daff,#00e6ff,#00f1ff,#00fcff,#00fff7,#00ffec,#00ffe1,#00ffd7,#00ffcd,#00ffc3,#00ffba,#00ffb0,#00ffa7,#00ff9f,#00ff96,#00ff8e,#00ff86,#00ff7f)"></i><i style="background:linear-gradient(90deg,#0055ff,#0063ff,#0071ff,#007fff,#008dff,#009aff,#00a7ff,#00b3ff,#00c0ff,#00ccff,#00d8ff,#00e3ff,#00eeff,#00faff,#00fffa,#00ffef,#00ffe4,#00ffda,#00ffd0,#00ffc6,#00ffbd,#00ffb4,#00ffab,#00ffa3,#00ff9a,#00ff92,#00ff8a,#00ff83)"></i><i style="background:linear-gradient(90deg,#0054ff,#0062ff,#0070ff,#007eff,#008bff,#0098ff,#00a5ff,#00b1ff,#00beff,#00caff,#00d5ff,#00e1ff,#00ecff,#00f7ff,#00fffc,#00fff2,#00ffe7,#00ffdd,#00ffd3,#00ffca,#00ffc1,#00ffb8,#00ffaf,#00ffa6,#00ff9e,#00ff96,#00ff8f,#00ff87)"></i><i style="background:linear-gradient(90deg,#0053ff,#0061ff,#006fff,#007cff,#0089ff,#0096ff,#00a3ff,#00afff,#00bbff,#00c7ff,#00d3ff,#00deff,#00e9ff,#00f4ff,#00ffff,#00fff5,#00ffea,#00ffe0,#00ffd7,#00ffcd,#00ffc4,#00ffbb,#00ffb3,#00ffaa,#00ffa2,#00ff9a,#00ff93,#00ff8c)"></i><i style="background:linear-gradient(90deg,#0052ff,#005fff,#006dff,#007aff,#0088ff,#0094ff,#00a1ff,#00adff,#00b9ff,#00c5ff,#00d1ff,#00dcff,#00e7ff,#00f2ff,#00fcff,#00fff8,#00ffee,#00ffe4,#00ffda,#00ffd1,#00ffc8,#00ffbf,#00ffb6,#00ffae,#00ffa6,#00ff9e,#00ff97,#00ff90)"></i><i style="background:linear-gradient(90deg,#0050ff,#005eff,#006cff,#0079ff,#0086ff,#0093ff,#009fff,#00abff,#00b7ff,#00c3ff,#00ceff,#00d9ff,#00e4ff,#00efff,#00f9ff,#00fffb,#00fff1,#00ffe7,#00ffdd,#00ffd4,#00ffcb,#00ffc2,#00ffba,#00ffb2,#00ffaa,#00ffa3,#00ff9b,#00ff94)"></i><i style="background:linear-gradient(90deg,#004fff,#005dff,#006aff,#0077ff,#0084ff,#0091ff,#009dff,#00a9ff,#00b5ff,#00c1ff,#00ccff,#00d7ff,#00e2ff,#00ecff,#00f7ff,#00fffd,#00fff4,#00ffea,#00ffe0,#00ffd7,#00ffcf,#00ffc6,#00ffbe,#00ffb6,#00ffae,#00ffa7,#00ff9f,#00ff98)"></i><i style="background:linear-gradient(90deg,#004eff,#005cff,#0069ff,#0076ff,#0083ff,#008fff,#009cff,#00a8ff,#00b3ff,#00bfff,#00caff,#00d5ff,#00dfff,#00eaff,#00f4ff,#00feff,#00fff7,#00ffed,#00ffe4,#00ffdb,#00ffd2,#00ffca,#00ffc1,#00ffb9,#00ffb2,#00ffab,#00ffa3,#00ff9d)"></i><i style="background:linear-gradient(90deg,#004dff,#005aff,#0068ff,#0075ff,#0081ff,#008eff,#009aff,#00a6ff,#00b1ff,#00bdff,#00c8ff,#00d2ff,#00ddff,#00e7ff,#00f1ff,#00fbff,#00fff9,#00fff0,#00ffe7,#00ffde,#00ffd5,#00ffcd,#00ffc5,#00ffbd,#00ffb6,#00ffae,#00ffa8,#00ffa1)"></i><i style="background:linear-gradient(90deg,#004cff,#0059ff,#0066ff,#0073ff,#0080ff,#008cff,#0098ff,#00a4ff,#00afff,#00baff,#00c5ff,#00d0ff,#00dbff,#00e5ff,#00efff,#00f8ff,#00fffc,#00fff3,#00ffea,#00ffe1,#00ffd9,#00ffd1,#00ffc9,#00ffc1,#00ffba,#00ffb2,#00ffac,#00ffa5)"></i><i style="background:linear-gradient(90deg,#004bff,#0058ff,#0065ff,#0072ff,#007eff,#008aff,#0096ff,#00a2ff,#00adff,#00b8ff,#00c3ff,#00ceff,#00d8ff,#00e2ff,#00ecff,#00f5ff,#00ffff,#00fff6,#00ffed,#00ffe5,#00ffdc,#00ffd4,#00ffcc,#00ffc5,#00ffbd,#00ffb6,#00ffb0,#00ffa9)"></i><i style="background:linear-gradient(90deg,#004aff,#0057ff,#0064ff,#0070ff,#007dff,#0089ff,#0095ff,#00a0ff,#00abff,#00b6ff,#00c1ff,#00ccff,#00d6ff,#00e0ff,#00e9ff,#00f3ff,#00fcff,#00fff9,#00fff0,#00ffe8,#00ffdf,#00ffd8,#00ffd0,#00ffc8,#00ffc1,#00ffba,#00ffb4,#00ffad)"></i><i style="background:linear-gradient(90deg,#0049ff,#0056ff,#0062ff,#006fff,#007bff,#0087ff,#0093ff,#009eff,#00a9ff,#00b4ff,#00bfff,#00c9ff,#00d3ff,#00ddff,#00e7ff,#00f0ff,#00f9ff,#00fffc,#00fff3,#00ffeb,#00ffe3,#00ffdb,#00ffd3,#00ffcc,#00ffc5,#00ffbe,#00ffb8,#00ffb1)"></i><i style="background:linear-gradient(90deg,#0048ff,#0055ff,#0061ff,#006eff,#007aff,#0086ff,#0091ff,#009cff,#00a8ff,#00b2ff,#00bdff,#00c7ff,#00d1ff,#00dbff,#00e4ff,#00edff,#00f6ff,#00ffff,#00fff6,#00ffee,#00ffe6,#00ffde,#00ffd7,#00ffd0,#00ffc9,#00ffc2,#00ffbc,#00ffb6)"></i><i style="background:linear-gradient(90deg,#0047ff,#0053ff,#0060ff,#006cff,#0078ff,#0084ff,#0090ff,#009bff,#00a6ff,#00b0ff,#00bbff,#00c5ff,#00cfff,#00d8ff,#00e2ff,#00ebff,#00f4ff,#00fcff,#00fffa,#00fff1,#00ffe9,#00ffe2,#00ffda,#00ffd3,#00ffcc,#00ffc6,#00ffc0,#00ffba)"></i><i style="background:linear-gradient(90deg,#0046ff,#0052ff,#005fff,#006bff,#0077ff,#0083ff,#008eff,#0099ff,#00a4ff,#00aeff,#00b9ff,#00c3ff,#00ccff,#00d6ff,#00dfff,#00e8ff,#00f1ff,#00f9ff,#00fffd,#00fff4,#00ffed,#00ffe5,#00ffde,#00ffd7,#00ffd0,#00ffca,#00ffc4,#00ffbe)"></i><i style="background:linear-gradient(90deg,#0045ff,#0051ff,#005eff,#006aff,#0075ff,#0081ff,#008cff,#0097ff,#00a2ff,#00acff,#00b7ff,#00c1ff,#00caff,#00d4ff,#00ddff,#00e6ff,#00eeff,#00f6ff,#00feff,#00fff8,#00fff0,#00ffe8,#00ffe1,#00ffda,#00ffd4,#00ffce,#00ffc7,#00ffc2)"></i><i style="background:linear-gradient(90deg,#0044ff,#0050ff,#005cff,#0068ff,#0074ff,#0080ff,#008bff,#0096ff,#00a0ff,#00aaff,#00b5ff,#00beff,#00c8ff,#00d1ff,#00daff,#00e3ff,#00ebff,#00f4ff,#00fcff,#00fffb,#00fff3,#00ffec,#00ffe5,#00ffde,#00ffd8,#00ffd1,#00ffcb,#00ffc6)"></i><i style="background:linear-gradient(90deg,#0043ff,#004fff,#005bff,#0067ff,#0073ff,#007eff,#0089ff,#0094ff,#009eff,#00a9ff,#00b3ff,#00bcff,#00c6ff,#00cfff,#00d8ff,#00e0ff,#00e9ff,#00f1ff,#00f9ff,#00fffe,#00fff6,#00ffef,#00ffe8,#00ffe2,#00ffdb,#00ffd5,#00ffcf,#00ffca)"></i><i style="background:linear-gradient(90deg,#0042ff,#004eff,#005aff,#0066ff,#0071ff,#007dff,#0088ff,#0092ff,#009dff,#00a7ff,#00b1ff,#00baff,#00c3ff,#00cdff,#00d5ff,#00deff,#00e6ff,#00eeff,#00f6ff,#00fdff,#00fffa,#00fff2,#00ffec,#00ffe5,#00ffdf,#00ffd9,#00ffd3,#00ffce)"></i><i style="background:linear-gradient(90deg,#0041ff,#004dff,#0059ff,#0065ff,#0070ff,#007bff,#0086ff,#0091ff,#009bff,#00a5ff,#00afff,#00b8ff,#00c1ff,#00caff,#00d3ff,#00dbff,#00e3ff,#00ebff,#00f3ff,#00faff,#00fffd,#00fff6,#00ffef,#00ffe9,#00ffe2,#00ffdd,#00ffd7,#00ffd2)"></i><i style="background:linear-gradient(90deg,#0040ff,#004cff,#0058ff,#0064ff,#006fff,#007aff,#0084ff,#008fff,#0099ff,#00a3ff,#00adff,#00b6ff,#00bfff,#00c8ff,#00d0ff,#00d9ff,#00e1ff,#00e9ff,#00f0ff,#00f7ff,#00feff,#00fff9,#00fff2,#00ffec,#00ffe6,#00ffe0,#00ffdb,#00ffd6)"></i><i style="background:linear-gradient(90deg,#003fff,#004bff,#0057ff,#0062ff,#006eff,#0078ff,#0083ff,#008dff,#0097ff,#00a1ff,#00abff,#00b4ff,#00bdff,#00c6ff,#00ceff,#00d6ff,#00deff,#00e6ff,#00edff,#00f4ff,#00fbff,#00fffc,#00fff6,#00fff0,#00ffea,#00ffe4,#00ffdf,#00ffd9)"></i><i style="background:linear-gradient(90deg,#003fff,#004aff,#0056ff,#0061ff,#006cff,#0077ff,#0081ff,#008cff,#0096ff,#009fff,#00a9ff,#00b2ff,#00bbff,#00c3ff,#00ccff,#00d4ff,#00dcff,#00e3ff,#00eaff,#00f1ff,#00f8ff,#00ffff,#00fff9,#00fff3,#00ffed,#00ffe8,#00ffe2,#00ffdd)"></i><i style="background:linear-gradient(90deg,#003eff,#0049ff,#0055ff,#0060ff,#006bff,#0076ff,#0080ff,#008aff,#0094ff,#009eff,#00a7ff,#00b0ff,#00b9ff,#00c1ff,#00c9ff,#00d1ff,#00d9ff,#00e1ff,#00e8ff,#00efff,#00f5ff,#00fcff,#00fffc,#00fff6,#00fff1,#00ffeb,#00ffe6,#00ffe1)"></i><i style="background:linear-gradient(90deg,#003dff,#0049ff,#0054ff,#005fff,#006aff,#0074ff,#007fff,#0089ff,#0092ff,#009cff,#00a5ff,#00aeff,#00b7ff,#00bfff,#00c7ff,#00cfff,#00d7ff,#00deff,#00e5ff,#00ecff,#00f2ff,#00f8ff,#00feff,#00fffa,#00fff4,#00ffef,#00ffea,#00ffe5)"></i><i style="background:linear-gradient(90deg,#003cff,#0048ff,#0053ff,#005eff,#0069ff,#0073ff,#007dff,#0087ff,#0091ff,#009aff,#00a3ff,#00acff,#00b5ff,#00bdff,#00c5ff,#00cdff,#00d4ff,#00dbff,#00e2ff,#00e9ff,#00efff,#00f5ff,#00fbff,#00fffd,#00fff8,#00fff2,#00ffee,#00ffe9)"></i><i style="background:linear-gradient(90deg,#003bff,#0047ff,#0052ff,#005dff,#0067ff,#0072ff,#007cff,#0086ff,#008fff,#0098ff,#00a1ff,#00aaff,#00b2ff,#00bbff,#00c3ff,#00caff,#00d2ff,#00d9ff,#00dfff,#00e6ff,#00ecff,#00f2ff,#00f8ff,#00feff,#00fffb,#00fff6,#00fff1,#00ffed)"></i><i style="background:linear-gradient(90deg,#003bff,#0046ff,#0051ff,#005cff,#0066ff,#0070ff,#007aff,#0084ff,#008eff,#0097ff,#00a0ff,#00a8ff,#00b0ff,#00b8ff,#00c0ff,#00c8ff,#00cfff,#00d6ff,#00ddff,#00e3ff,#00e9ff,#00efff,#00f5ff,#00faff,#00ffff,#00fffa,#00fff5,#00fff0)"></i><i style="background:linear-gradient(90deg,#003aff,#0045ff,#0050ff,#005bff,#0065ff,#006fff,#0079ff,#0083ff,#008cff,#0095ff,#009eff,#00a6ff,#00aeff,#00b6ff,#00beff,#00c5ff,#00cdff,#00d3ff,#00daff,#00e0ff,#00e7ff,#00ecff,#00f2ff,#00f7ff,#00fcff,#00fffd,#00fff9,#00fff4)"></i><i style="background:linear-gradient(90deg,#0039ff,#0044ff,#004fff,#005aff,#0064ff,#006eff,#0078ff,#0081ff,#008aff,#0093ff,#009cff,#00a4ff,#00acff,#00b4ff,#00bcff,#00c3ff,#00caff,#00d1ff,#00d7ff,#00deff,#00e4ff,#00e9ff,#00efff,#00f4ff,#00f9ff,#00fdff,#00fffc,#00fff8)"></i><i style="background:linear-gradient(90deg,#0039ff,#0044ff,#004eff,#0059ff,#0063ff,#006dff,#0076ff,#0080ff,#0089ff,#0092ff,#009aff,#00a2ff,#00aaff,#00b2ff,#00baff,#00c1ff,#00c8ff,#00ceff,#00d5ff,#00dbff,#00e1ff,#00e6ff,#00ecff,#00f1ff,#00f6ff,#00faff,#00feff,#00fffc)"></i><i style="background:linear-gradient(90deg,#0038ff,#0043ff,#004eff,#0058ff,#0062ff,#006cff,#0075ff,#007eff,#0087ff,#0090ff,#0098ff,#00a1ff,#00a9ff,#00b0ff,#00b7ff,#00bfff,#00c5ff,#00ccff,#00d2ff,#00d8ff,#00deff,#00e3ff,#00e9ff,#00eeff,#00f2ff,#00f7ff,#00fbff,#00ffff)"></i><i style="background:linear-gradient(90deg,#0037ff,#0042ff,#004dff,#0057ff,#0061ff,#006aff,#0074ff,#007dff,#0086ff,#008eff,#0097ff,#009fff,#00a7ff,#00aeff,#00b5ff,#00bcff,#00c3ff,#00c9ff,#00d0ff,#00d6ff,#00dbff,#00e1ff,#00e6ff,#00eaff,#00efff,#00f3ff,#00f7ff,#00fbff)"></i><i style="background:linear-gradient(90deg,#0037ff,#0042ff,#004cff,#0056ff,#0060ff,#0069ff,#0073ff,#007cff,#0084ff,#008dff,#0095ff,#009dff,#00a5ff,#00acff,#00b3ff,#00baff,#00c1ff,#00c7ff,#00cdff,#00d3ff,#00d8ff,#00deff,#00e3ff,#00e7ff,#00ecff,#00f0ff,#00f4ff,#00f8ff)"></i><i style="background:linear-gradient(90deg,#0036ff,#0041ff,#004bff,#0055ff,#005fff,#0068ff,#0071ff,#007aff,#0083ff,#008bff,#0093ff,#009bff,#00a3ff,#00aaff,#00b1ff,#00b8ff,#00beff,#00c5ff,#00cbff,#00d0ff,#00d6ff,#00dbff,#00e0ff,#00e4ff,#00e9ff,#00edff,#00f0ff,#00f4ff)"></i><i style="background:linear-gradient(90deg,#0036ff,#0040ff,#004aff,#0054ff,#005eff,#0067ff,#0070ff,#0079ff,#0081ff,#008aff,#0092ff,#0099ff,#00a1ff,#00a8ff,#00afff,#00b6ff,#00bcff,#00c2ff,#00c8ff,#00ceff,#00d3ff,#00d8ff,#00ddff,#00e1ff,#00e5ff,#00e9ff,#00edff,#00f0ff)"></i><i style="background:linear-gradient(90deg,#0035ff,#0040ff,#004aff,#0053ff,#005dff,#0066ff,#006fff,#0078ff,#0080ff,#0088ff,#0090ff,#0098ff,#009fff,#00a6ff,#00adff,#00b3ff,#00baff,#00c0ff,#00c5ff,#00cbff,#00d0ff,#00d5ff,#00daff,#00deff,#00e2ff,#00e6ff,#00eaff,#00edff)"></i><i style="background:linear-gradient(90deg,#0035ff,#003fff,#0049ff,#0052ff,#005cff,#0065ff,#006eff,#0076ff,#007fff,#0087ff,#008fff,#0096ff,#009dff,#00a4ff,#00abff,#00b1ff,#00b7ff,#00bdff,#00c3ff,#00c8ff,#00cdff,#00d2ff,#00d7ff,#00dbff,#00dfff,#00e3ff,#00e6ff,#00e9ff)"></i><i style="background:linear-gradient(90deg,#0034ff,#003eff,#0048ff,#0052ff,#005bff,#0064ff,#006dff,#0075ff,#007dff,#0085ff,#008dff,#0094ff,#009bff,#00a2ff,#00a9ff,#00afff,#00b5ff,#00bbff,#00c1ff,#00c6ff,#00cbff,#00cfff,#00d4ff,#00d8ff,#00dcff,#00e0ff,#00e3ff,#00e6ff)"></i><i style="background:linear-gradient(90deg,#0034ff,#003eff,#0047ff,#0051ff,#005aff,#0063ff,#006cff,#0074ff,#007cff,#0084ff,#008bff,#0093ff,#009aff,#00a0ff,#00a7ff,#00adff,#00b3ff,#00b9ff,#00beff,#00c3ff,#00c8ff,#00cdff,#00d1ff,#00d5ff,#00d9ff,#00dcff,#00e0ff,#00e3ff)"></i><i style="background:linear-gradient(90deg,#0033ff,#003dff,#0047ff,#0050ff,#0059ff,#0062ff,#006aff,#0073ff,#007bff,#0082ff,#008aff,#0091ff,#0098ff,#009fff,#00a5ff,#00abff,#00b1ff,#00b6ff,#00bcff,#00c1ff,#00c5ff,#00caff,#00ceff,#00d2ff,#00d6ff,#00d9ff,#00dcff,#00dfff)"></i><i style="background:linear-gradient(90deg,#0033ff,#003dff,#0046ff,#004fff,#0058ff,#0061ff,#0069ff,#0071ff,#0079ff,#0081ff,#0088ff,#008fff,#0096ff,#009dff,#00a3ff,#00a9ff,#00afff,#00b4ff,#00b9ff,#00beff,#00c3ff,#00c7ff,#00cbff,#00cfff,#00d3ff,#00d6ff,#00d9ff,#00dcff)"></i><i style="background:linear-gradient(90deg,#0033ff,#003cff,#0046ff,#004fff,#0057ff,#0060ff,#0068ff,#0070ff,#0078ff,#0080ff,#0087ff,#008eff,#0094ff,#009bff,#00a1ff,#00a7ff,#00acff,#00b2ff,#00b7ff,#00bcff,#00c0ff,#00c4ff,#00c8ff,#00ccff,#00d0ff,#00d3ff,#00d6ff,#00d8ff)"></i><i style="background:linear-gradient(90deg,#0032ff,#003cff,#0045ff,#004eff,#0057ff,#005fff,#0067ff,#006fff,#0077ff,#007eff,#0085ff,#008cff,#0093ff,#0099ff,#009fff,#00a5ff,#00aaff,#00b0ff,#00b4ff,#00b9ff,#00beff,#00c2ff,#00c6ff,#00c9ff,#00cdff,#00d0ff,#00d3ff,#00d5ff)"></i><i style="background:linear-gradient(90deg,#0032ff,#003bff,#0044ff,#004dff,#0056ff,#005eff,#0066ff,#006eff,#0076ff,#007dff,#0084ff,#008bff,#0091ff,#0097ff,#009dff,#00a3ff,#00a8ff,#00adff,#00b2ff,#00b7ff,#00bbff,#00bfff,#00c3ff,#00c6ff,#00caff,#00cdff,#00cfff,#00d2ff)"></i><i style="background:linear-gradient(90deg,#0031ff,#003bff,#0044ff,#004dff,#0055ff,#005dff,#0065ff,#006dff,#0074ff,#007bff,#0082ff,#0089ff,#008fff,#0095ff,#009bff,#00a1ff,#00a6ff,#00abff,#00b0ff,#00b4ff,#00b9ff,#00bcff,#00c0ff,#00c4ff,#00c7ff,#00c9ff,#00ccff,#00ceff)"></i><i style="background:linear-gradient(90deg,#0031ff,#003aff,#0043ff,#004cff,#0054ff,#005cff,#0064ff,#006cff,#0073ff,#007aff,#0081ff,#0087ff,#008eff,#0094ff,#0099ff,#009fff,#00a4ff,#00a9ff,#00aeff,#00b2ff,#00b6ff,#00baff,#00bdff,#00c1ff,#00c4ff,#00c6ff,#00c9ff,#00cbff)"></i><i style="background:linear-gradient(90deg,#0031ff,#003aff,#0043ff,#004bff,#0054ff,#005cff,#0063ff,#006bff,#0072ff,#0079ff,#0080ff,#0086ff,#008cff,#0092ff,#0098ff,#009dff,#00a2ff,#00a7ff,#00abff,#00afff,#00b3ff,#00b7ff,#00bbff,#00beff,#00c1ff,#00c3ff,#00c6ff,#00c8ff)"></i><i style="background:linear-gradient(90deg,#0031ff,#0039ff,#0042ff,#004bff,#0053ff,#005bff,#0062ff,#006aff,#0071ff,#0078ff,#007eff,#0084ff,#008aff,#0090ff,#0096ff,#009bff,#00a0ff,#00a5ff,#00a9ff,#00adff,#00b1ff,#00b5ff,#00b8ff,#00bbff,#00beff,#00c0ff,#00c3ff,#00c5ff)"></i><i style="background:linear-gradient(90deg,#0030ff,#0039ff,#0042ff,#004aff,#0052ff,#005aff,#0061ff,#0069ff,#0070ff,#0076ff,#007dff,#0083ff,#0089ff,#008fff,#0094ff,#0099ff,#009eff,#00a2ff,#00a7ff,#00abff,#00afff,#00b2ff,#00b5ff,#00b8ff,#00bbff,#00bdff,#00bfff,#00c1ff)"></i><i style="background:linear-gradient(90deg,#0030ff,#0039ff,#0041ff,#0049ff,#0051ff,#0059ff,#0061ff,#0068ff,#006fff,#0075ff,#007bff,#0082ff,#0087ff,#008dff,#0092ff,#0097ff,#009cff,#00a0ff,#00a5ff,#00a8ff,#00acff,#00afff,#00b3ff,#00b5ff,#00b8ff,#00baff,#00bcff,#00beff)"></i><i style="background:linear-gradient(90deg,#0030ff,#0038ff,#0041ff,#0049ff,#0051ff,#0058ff,#0060ff,#0067ff,#006dff,#0074ff,#007aff,#0080ff,#0086ff,#008bff,#0090ff,#0095ff,#009aff,#009eff,#00a2ff,#00a6ff,#00aaff,#00adff,#00b0ff,#00b3ff,#00b5ff,#00b7ff,#00b9ff,#00bbff)"></i><i style="background:linear-gradient(90deg,#0030ff,#0038ff,#0040ff,#0048ff,#0050ff,#0058ff,#005fff,#0066ff,#006cff,#0073ff,#0079ff,#007fff,#0084ff,#008aff,#008fff,#0093ff,#0098ff,#009cff,#00a0ff,#00a4ff,#00a7ff,#00aaff,#00adff,#00b0ff,#00b2ff,#00b4ff,#00b6ff,#00b8ff)"></i><i style="background:linear-gradient(90deg,#002fff,#0038ff,#0040ff,#0048ff,#004fff,#0057ff,#005eff,#0065ff,#006bff,#0072ff,#0078ff,#007dff,#0083ff,#0088ff,#008dff,#0092ff,#0096ff,#009aff,#009eff,#00a2ff,#00a5ff,#00a8ff,#00abff,#00adff,#00b0ff,#00b2ff,#00b3ff,#00b5ff)"></i><i style="background:linear-gradient(90deg,#002fff,#0038ff,#0040ff,#0047ff,#004fff,#0056ff,#005dff,#0064ff,#006aff,#0070ff,#0076ff,#007cff,#0081ff,#0086ff,#008bff,#0090ff,#0094ff,#0098ff,#009cff,#009fff,#00a3ff,#00a5ff,#00a8ff,#00abff,#00adff,#00afff,#00b0ff,#00b2ff)"></i><i style="background:linear-gradient(90deg,#002fff,#0037ff,#003fff,#0047ff,#004eff,#0055ff,#005cff,#0063ff,#0069ff,#006fff,#0075ff,#007bff,#0080ff,#0085ff,#008aff,#008eff,#0092ff,#0096ff,#009aff,#009dff,#00a0ff,#00a3ff,#00a6ff,#00a8ff,#00aaff,#00acff,#00adff,#00aeff)"></i><i style="background:linear-gradient(90deg,#002fff,#0037ff,#003fff,#0046ff,#004eff,#0055ff,#005cff,#0062ff,#0068ff,#006eff,#0074ff,#0079ff,#007eff,#0083ff,#0088ff,#008cff,#0090ff,#0094ff,#0098ff,#009bff,#009eff,#00a1ff,#00a3ff,#00a5ff,#00a7ff,#00a9ff,#00aaff,#00abff)"></i><i style="background:linear-gradient(90deg,#002fff,#0037ff,#003fff,#0046ff,#004dff,#0054ff,#005bff,#0061ff,#0067ff,#006dff,#0073ff,#0078ff,#007dff,#0082ff,#0086ff,#008aff,#008eff,#0092ff,#0096ff,#0099ff,#009cff,#009eff,#00a1ff,#00a3ff,#00a4ff,#00a6ff,#00a7ff,#00a8ff)"></i><i style="background:linear-gradient(90deg,#002fff,#0037ff,#003eff,#0046ff,#004dff,#0053ff,#005aff,#0060ff,#0066ff,#006cff,#0071ff,#0077ff,#007cff,#0080ff,#0085ff,#0089ff,#008dff,#0090ff,#0093ff,#0097ff,#0099ff,#009cff,#009eff,#00a0ff,#00a2ff,#00a3ff,#00a4ff,#00a5ff)"></i><i style="background:linear-gradient(90deg,#002fff,#0037ff,#003eff,#0045ff,#004cff,#0053ff,#0059ff,#005fff,#0065ff,#006bff,#0070ff,#0075ff,#007aff,#007fff,#0083ff,#0087ff,#008bff,#008eff,#0091ff,#0094ff,#0097ff,#0099ff,#009cff,#009dff,#009fff,#00a0ff,#00a1ff,#00a2ff)"></i><i style="background:linear-gradient(90deg,#002fff,#0036ff,#003eff,#0045ff,#004cff,#0052ff,#0059ff,#005fff,#0064ff,#006aff,#006fff,#0074ff,#0079ff,#007dff,#0081ff,#0085ff,#0089ff,#008cff,#008fff,#0092ff,#0095ff,#0097ff,#0099ff,#009bff,#009cff,#009eff,#009fff,#009fff)"></i><i style="background:linear-gradient(90deg,#002fff,#0036ff,#003eff,#0045ff,#004bff,#0052ff,#0058ff,#005eff,#0064ff,#0069ff,#006eff,#0073ff,#0078ff,#007cff,#0080ff,#0084ff,#0087ff,#008aff,#008dff,#0090ff,#0093ff,#0095ff,#0097ff,#0098ff,#009aff,#009bff,#009cff,#009cff)"></i><i style="background:linear-gradient(90deg,#002fff,#0036ff,#003dff,#0044ff,#004bff,#0051ff,#0057ff,#005dff,#0063ff,#0068ff,#006dff,#0072ff,#0076ff,#007aff,#007eff,#0082ff,#0085ff,#0089ff,#008bff,#008eff,#0090ff,#0092ff,#0094ff,#0096ff,#0097ff,#0098ff,#0099ff,#0099ff)"></i><i style="background:linear-gradient(90deg,#002fff,#0036ff,#003dff,#0044ff,#004aff,#0051ff,#0057ff,#005cff,#0062ff,#0067ff,#006cff,#0071ff,#0075ff,#0079ff,#007dff,#0080ff,#0084ff,#0087ff,#008aff,#008cff,#008eff,#0090ff,#0092ff,#0093ff,#0094ff,#0095ff,#0096ff,#0096ff)"></i><i style="background:linear-gradient(90deg,#002fff,#0036ff,#003dff,#0044ff,#004aff,#0050ff,#0056ff,#005cff,#0061ff,#0066ff,#006bff,#006fff,#0074ff,#0078ff,#007bff,#007fff,#0082ff,#0085ff,#0088ff,#008aff,#008cff,#008eff,#0090ff,#0091ff,#0092ff,#0093ff,#0093ff,#0093ff)"></i><i style="background:linear-gradient(90deg,#002fff,#0036ff,#003dff,#0043ff,#004aff,#0050ff,#0055ff,#005bff,#0060ff,#0065ff,#006aff,#006eff,#0072ff,#0076ff,#007aff,#007dff,#0080ff,#0083ff,#0086ff,#0088ff,#008aff,#008cff,#008dff,#008eff,#008fff,#0090ff,#0090ff,#0090ff)"></i><i style="background:linear-gradient(90deg,#002fff,#0036ff,#003dff,#0043ff,#0049ff,#004fff,#0055ff,#005aff,#005fff,#0064ff,#0069ff,#006dff,#0071ff,#0075ff,#0078ff,#007cff,#007fff,#0081ff,#0084ff,#0086ff,#0088ff,#0089ff,#008bff,#008cff,#008dff,#008dff,#008eff,#008eff)"></i><i style="background:linear-gradient(90deg,#002fff,#0036ff,#003dff,#0043ff,#0049ff,#004fff,#0054ff,#005aff,#005fff,#0063ff,#0068ff,#006cff,#0070ff,#0074ff,#0077ff,#007aff,#007dff,#0080ff,#0082ff,#0084ff,#0086ff,#0087ff,#0089ff,#008aff,#008aff,#008bff,#008bff,#008bff)"></i><i style="background:linear-gradient(90deg,#002fff,#0036ff,#003cff,#0043ff,#0049ff,#004eff,#0054ff,#0059ff,#005eff,#0062ff,#0067ff,#006bff,#006fff,#0072ff,#0076ff,#0079ff,#007bff,#007eff,#0080ff,#0082ff,#0084ff,#0085ff,#0086ff,#0087ff,#0088ff,#0088ff,#0088ff,#0088ff)"></i><i style="background:linear-gradient(90deg,#002fff,#0036ff,#003cff,#0042ff,#0048ff,#004eff,#0053ff,#0058ff,#005dff,#0062ff,#0066ff,#006aff,#006eff,#0071ff,#0074ff,#0077ff,#007aff,#007cff,#007eff,#0080ff,#0082ff,#0083ff,#0084ff,#0085ff,#0085ff,#0085ff,#0085ff,#0085ff)"></i><i style="background:linear-gradient(90deg,#002fff,#0036ff,#003cff,#0042ff,#0048ff,#004eff,#0053ff,#0058ff,#005cff,#0061ff,#0065ff,#0069ff,#006cff,#0070ff,#0073ff,#0076ff,#0078ff,#007aff,#007cff,#007eff,#0080ff,#0081ff,#0082ff,#0082ff,#0083ff,#0083ff,#0083ff,#0082ff)"></i><i style="background:linear-gradient(90deg,#0030ff,#0036ff,#003cff,#0042ff,#0048ff,#004dff,#0052ff,#0057ff,#005cff,#0060ff,#0064ff,#0068ff,#006bff,#006fff,#0071ff,#0074ff,#0077ff,#0079ff,#007bff,#007cff,#007eff,#007fff,#007fff,#0080ff,#0080ff,#0080ff,#0080ff,#0080ff)"></i><i style="background:linear-gradient(90deg,#0030ff,#0036ff,#003cff,#0042ff,#0048ff,#004dff,#0052ff,#0057ff,#005bff,#005fff,#0063ff,#0067ff,#006aff,#006dff,#0070ff,#0073ff,#0075ff,#0077ff,#0079ff,#007aff,#007cff,#007dff,#007dff,#007eff,#007eff,#007eff,#007dff,#007dff)"></i><i style="background:linear-gradient(90deg,#0030ff,#0036ff,#003cff,#0042ff,#0047ff,#004dff,#0051ff,#0056ff,#005aff,#005eff,#0062ff,#0066ff,#0069ff,#006cff,#006fff,#0071ff,#0074ff,#0075ff,#0077ff,#0079ff,#007aff,#007aff,#007bff,#007bff,#007bff,#007bff,#007bff,#007aff)"></i><i style="background:linear-gradient(90deg,#0030ff,#0036ff,#003cff,#0042ff,#0047ff,#004cff,#0051ff,#0056ff,#005aff,#005eff,#0061ff,#0065ff,#0068ff,#006bff,#006eff,#0070ff,#0072ff,#0074ff,#0075ff,#0077ff,#0078ff,#0078ff,#0079ff,#0079ff,#0079ff,#0079ff,#0078ff,#0077ff)"></i><i style="background:linear-gradient(90deg,#0031ff,#0037ff,#003cff,#0042ff,#0047ff,#004cff,#0051ff,#0055ff,#0059ff,#005dff,#0061ff,#0064ff,#0067ff,#006aff,#006cff,#006fff,#0071ff,#0072ff,#0074ff,#0075ff,#0076ff,#0077ff,#0077ff,#0077ff,#0077ff,#0077ff,#0076ff,#0075ff)"></i></div><div class="hm" style="left:50.2px;top:617px;width:275.4px;height:232.6px"><i style="background:linear-gradient(90deg,#ff2100,#ff5900,#ff8f00,#ffc300,#fff400,#d9ff00,#abff00,#7fff00,#55ff00,#2dff00,#07ff00,#00ff21,#00ff47,#00ff6b,#00ff8c,#00ffaa,#00ffc7,#00ffe0,#00fff8,#00f2ff,#00e0ff,#00d0ff,#00c3ff,#00b8ff,#00b0ff,#00aaff,#00a6ff,#00a5ff)"></i><i style="background:linear-gradient(90deg,#ff2800,#ff6000,#ff9500,#ffc900,#fffa00,#d4ff00,#a5ff00,#79ff00,#50ff00,#28ff00,#02ff00,#00ff25,#00ff4b,#00ff6e,#00ff8f,#00ffad,#00ffc9,#00ffe3,#00fffa,#00f0ff,#00deff,#00cfff,#00c2ff,#00b8ff,#00b0ff,#00aaff,#00a6ff,#00a5ff)"></i><i style="background:linear-gradient(90deg,#ff2f00,#ff6700,#ff9c00,#ffcf00,#feff00,#ceff00,#a0ff00,#74ff00,#4bff00,#23ff00,#00ff02,#00ff2a,#00ff4f,#00ff72,#00ff93,#00ffb1,#00ffcc,#00ffe5,#00fffc,#00eeff,#00ddff,#00ceff,#00c1ff,#00b7ff,#00b0ff,#00aaff,#00a7ff,#00a6ff)"></i><i style="background:linear-gradient(90deg,#ff3700,#ff6e00,#ffa200,#ffd500,#f8ff00,#c8ff00,#9bff00,#6fff00,#46ff00,#1fff00,#00ff07,#00ff2e,#00ff53,#00ff76,#00ff96,#00ffb4,#00ffcf,#00ffe8,#00fffe,#00edff,#00dcff,#00cdff,#00c1ff,#00b7ff,#00b0ff,#00aaff,#00a8ff,#00a7ff)"></i><i style="background:linear-gradient(90deg,#ff3e00,#ff7400,#ffa900,#ffdb00,#f2ff00,#c2ff00,#95ff00,#6aff00,#41ff00,#1aff00,#00ff0c,#00ff33,#00ff57,#00ff7a,#00ff99,#00ffb7,#00ffd2,#00ffea,#00feff,#00ebff,#00daff,#00ccff,#00c0ff,#00b7ff,#00b0ff,#00abff,#00a8ff,#00a9ff)"></i><i style="background:linear-gradient(90deg,#ff4500,#ff7b00,#ffaf00,#ffe200,#ecff00,#bdff00,#90ff00,#65ff00,#3cff00,#16ff00,#00ff10,#00ff37,#00ff5b,#00ff7d,#00ff9d,#00ffba,#00ffd4,#00ffec,#00fcff,#00e9ff,#00d9ff,#00cbff,#00c0ff,#00b6ff,#00b0ff,#00abff,#00a9ff,#00aaff)"></i><i style="background:linear-gradient(90deg,#ff4c00,#ff8200,#ffb600,#ffe800,#e6ff00,#b7ff00,#8aff00,#60ff00,#38ff00,#11ff00,#00ff15,#00ff3b,#00ff5f,#00ff81,#00ffa0,#00ffbd,#00ffd7,#00ffef,#00faff,#00e8ff,#00d8ff,#00caff,#00bfff,#00b6ff,#00b0ff,#00acff,#00aaff,#00abff)"></i><i style="background:linear-gradient(90deg,#ff5300,#ff8800,#ffbc00,#ffee00,#e0ff00,#b1ff00,#85ff00,#5bff00,#33ff00,#0dff00,#00ff1a,#00ff40,#00ff63,#00ff85,#00ffa3,#00ffc0,#00ffda,#00fff1,#00f8ff,#00e6ff,#00d7ff,#00c9ff,#00beff,#00b6ff,#00b0ff,#00acff,#00abff,#00acff)"></i><i style="background:linear-gradient(90deg,#ff5a00,#ff8f00,#ffc300,#fff400,#daff00,#acff00,#80ff00,#56ff00,#2eff00,#09ff00,#00ff1e,#00ff44,#00ff67,#00ff88,#00ffa7,#00ffc3,#00ffdc,#00fff3,#00f6ff,#00e5ff,#00d5ff,#00c8ff,#00beff,#00b6ff,#00b0ff,#00acff,#00abff,#00adff)"></i><i style="background:linear-gradient(90deg,#ff6100,#ff9600,#ffc900,#fffa00,#d4ff00,#a6ff00,#7aff00,#51ff00,#29ff00,#04ff00,#00ff23,#00ff48,#00ff6b,#00ff8c,#00ffaa,#00ffc6,#00ffdf,#00fff6,#00f4ff,#00e3ff,#00d4ff,#00c8ff,#00bdff,#00b5ff,#00b0ff,#00adff,#00acff,#00aeff)"></i><i style="background:linear-gradient(90deg,#ff6700,#ff9c00,#ffcf00,#feff00,#ceff00,#a1ff00,#75ff00,#4cff00,#25ff00,#00ff00,#00ff28,#00ff4d,#00ff6f,#00ff90,#00ffad,#00ffc9,#00ffe1,#00fff8,#00f3ff,#00e2ff,#00d3ff,#00c7ff,#00bdff,#00b5ff,#00b0ff,#00adff,#00adff,#00afff)"></i><i style="background:linear-gradient(90deg,#ff6e00,#ffa300,#ffd600,#f8ff00,#c8ff00,#9bff00,#70ff00,#47ff00,#20ff00,#00ff05,#00ff2c,#00ff51,#00ff73,#00ff93,#00ffb1,#00ffcb,#00ffe4,#00fffa,#00f1ff,#00e0ff,#00d2ff,#00c6ff,#00bcff,#00b5ff,#00b0ff,#00aeff,#00aeff,#00b0ff)"></i><i style="background:linear-gradient(90deg,#ff7500,#ffaa00,#ffdc00,#f2ff00,#c2ff00,#95ff00,#6bff00,#42ff00,#1bff00,#00ff0a,#00ff31,#00ff55,#00ff77,#00ff97,#00ffb4,#00ffce,#00ffe7,#00fffc,#00efff,#00dfff,#00d1ff,#00c5ff,#00bcff,#00b5ff,#00b1ff,#00aeff,#00afff,#00b1ff)"></i><i style="background:linear-gradient(90deg,#ff7c00,#ffb000,#ffe200,#ebff00,#bdff00,#90ff00,#65ff00,#3dff00,#17ff00,#00ff0f,#00ff36,#00ff5a,#00ff7b,#00ff9a,#00ffb7,#00ffd1,#00ffe9,#00fffe,#00edff,#00ddff,#00d0ff,#00c4ff,#00bbff,#00b5ff,#00b1ff,#00afff,#00b0ff,#00b3ff)"></i><i style="background:linear-gradient(90deg,#ff8300,#ffb700,#ffe800,#e5ff00,#b7ff00,#8aff00,#60ff00,#38ff00,#12ff00,#00ff14,#00ff3a,#00ff5e,#00ff7f,#00ff9e,#00ffba,#00ffd4,#00ffec,#00fdff,#00ebff,#00dcff,#00ceff,#00c3ff,#00bbff,#00b5ff,#00b1ff,#00b0ff,#00b1ff,#00b4ff)"></i><i style="background:linear-gradient(90deg,#ff8a00,#ffbd00,#ffef00,#dfff00,#b1ff00,#85ff00,#5bff00,#33ff00,#0eff00,#00ff19,#00ff3f,#00ff62,#00ff83,#00ffa1,#00ffbd,#00ffd7,#00ffee,#00fbff,#00eaff,#00daff,#00cdff,#00c3ff,#00bbff,#00b5ff,#00b1ff,#00b0ff,#00b1ff,#00b5ff)"></i><i style="background:linear-gradient(90deg,#ff9100,#ffc400,#fff500,#d9ff00,#abff00,#7fff00,#56ff00,#2eff00,#09ff00,#00ff1e,#00ff43,#00ff66,#00ff87,#00ffa5,#00ffc0,#00ffda,#00fff0,#00f9ff,#00e8ff,#00d9ff,#00ccff,#00c2ff,#00baff,#00b5ff,#00b2ff,#00b1ff,#00b2ff,#00b6ff)"></i><i style="background:linear-gradient(90deg,#ff9800,#ffca00,#fffb00,#d3ff00,#a5ff00,#7aff00,#51ff00,#29ff00,#04ff00,#00ff22,#00ff48,#00ff6a,#00ff8a,#00ffa8,#00ffc4,#00ffdc,#00fff3,#00f7ff,#00e6ff,#00d8ff,#00cbff,#00c1ff,#00baff,#00b5ff,#00b2ff,#00b1ff,#00b3ff,#00b8ff)"></i><i style="background:linear-gradient(90deg,#ff9e00,#ffd100,#fdff00,#cdff00,#a0ff00,#75ff00,#4cff00,#25ff00,#00ff00,#00ff27,#00ff4c,#00ff6e,#00ff8e,#00ffac,#00ffc7,#00ffdf,#00fff5,#00f5ff,#00e5ff,#00d6ff,#00caff,#00c1ff,#00b9ff,#00b5ff,#00b2ff,#00b2ff,#00b4ff,#00b9ff)"></i><i style="background:linear-gradient(90deg,#ffa500,#ffd700,#f6ff00,#c7ff00,#9aff00,#6fff00,#46ff00,#20ff00,#00ff05,#00ff2c,#00ff51,#00ff73,#00ff92,#00ffaf,#00ffca,#00ffe2,#00fff8,#00f3ff,#00e3ff,#00d5ff,#00c9ff,#00c0ff,#00b9ff,#00b5ff,#00b2ff,#00b3ff,#00b5ff,#00baff)"></i><i style="background:linear-gradient(90deg,#ffac00,#ffde00,#f0ff00,#c1ff00,#94ff00,#6aff00,#41ff00,#1bff00,#00ff0a,#00ff31,#00ff55,#00ff77,#00ff96,#00ffb3,#00ffcd,#00ffe5,#00fffa,#00f1ff,#00e1ff,#00d4ff,#00c8ff,#00bfff,#00b9ff,#00b5ff,#00b3ff,#00b3ff,#00b6ff,#00bcff)"></i><i style="background:linear-gradient(90deg,#ffb300,#ffe400,#eaff00,#bbff00,#8fff00,#64ff00,#3cff00,#16ff00,#00ff0f,#00ff36,#00ff59,#00ff7b,#00ff9a,#00ffb6,#00ffd0,#00ffe7,#00fffc,#00efff,#00e0ff,#00d2ff,#00c7ff,#00bfff,#00b8ff,#00b5ff,#00b3ff,#00b4ff,#00b7ff,#00bdff)"></i><i style="background:linear-gradient(90deg,#ffb900,#ffeb00,#e3ff00,#b5ff00,#89ff00,#5fff00,#37ff00,#11ff00,#00ff14,#00ff3a,#00ff5e,#00ff7f,#00ff9d,#00ffb9,#00ffd3,#00ffea,#00ffff,#00edff,#00deff,#00d1ff,#00c6ff,#00beff,#00b8ff,#00b5ff,#00b4ff,#00b5ff,#00b9ff,#00bfff)"></i><i style="background:linear-gradient(90deg,#ffc000,#fff100,#ddff00,#afff00,#83ff00,#5aff00,#32ff00,#0dff00,#00ff1a,#00ff3f,#00ff62,#00ff83,#00ffa1,#00ffbd,#00ffd6,#00ffed,#00fdff,#00ebff,#00dcff,#00d0ff,#00c5ff,#00bdff,#00b8ff,#00b5ff,#00b4ff,#00b6ff,#00baff,#00c0ff)"></i><i style="background:linear-gradient(90deg,#ffc700,#fff800,#d7ff00,#a9ff00,#7eff00,#54ff00,#2dff00,#08ff00,#00ff1f,#00ff44,#00ff66,#00ff87,#00ffa5,#00ffc0,#00ffd9,#00ffef,#00fbff,#00eaff,#00dbff,#00ceff,#00c5ff,#00bdff,#00b8ff,#00b5ff,#00b4ff,#00b6ff,#00bbff,#00c1ff)"></i><i style="background:linear-gradient(90deg,#ffcd00,#fffe00,#d1ff00,#a3ff00,#78ff00,#4fff00,#28ff00,#03ff00,#00ff24,#00ff48,#00ff6b,#00ff8b,#00ffa8,#00ffc3,#00ffdc,#00fff2,#00f9ff,#00e8ff,#00d9ff,#00cdff,#00c4ff,#00bcff,#00b8ff,#00b5ff,#00b5ff,#00b7ff,#00bcff,#00c3ff)"></i><i style="background:linear-gradient(90deg,#ffd400,#faff00,#caff00,#9dff00,#72ff00,#4aff00,#23ff00,#00ff02,#00ff29,#00ff4d,#00ff6f,#00ff8f,#00ffac,#00ffc7,#00ffdf,#00fff5,#00f6ff,#00e6ff,#00d8ff,#00ccff,#00c3ff,#00bcff,#00b7ff,#00b5ff,#00b5ff,#00b8ff,#00bdff,#00c4ff)"></i><i style="background:linear-gradient(90deg,#ffdb00,#f3ff00,#c4ff00,#97ff00,#6dff00,#44ff00,#1eff00,#00ff07,#00ff2e,#00ff52,#00ff73,#00ff93,#00ffaf,#00ffca,#00ffe2,#00fff7,#00f4ff,#00e4ff,#00d6ff,#00cbff,#00c2ff,#00bbff,#00b7ff,#00b5ff,#00b6ff,#00b9ff,#00beff,#00c6ff)"></i><i style="background:linear-gradient(90deg,#ffe100,#edff00,#beff00,#92ff00,#67ff00,#3fff00,#19ff00,#00ff0c,#00ff32,#00ff56,#00ff78,#00ff97,#00ffb3,#00ffcd,#00ffe5,#00fffa,#00f2ff,#00e2ff,#00d5ff,#00caff,#00c1ff,#00bbff,#00b7ff,#00b5ff,#00b6ff,#00baff,#00bfff,#00c7ff)"></i><i style="background:linear-gradient(90deg,#ffe800,#e6ff00,#b8ff00,#8cff00,#62ff00,#3aff00,#14ff00,#00ff12,#00ff37,#00ff5b,#00ff7c,#00ff9a,#00ffb7,#00ffd0,#00ffe7,#00fffc,#00f0ff,#00e0ff,#00d3ff,#00c9ff,#00c0ff,#00baff,#00b7ff,#00b6ff,#00b7ff,#00bbff,#00c1ff,#00c9ff)"></i><i style="background:linear-gradient(90deg,#ffee00,#e0ff00,#b2ff00,#86ff00,#5cff00,#35ff00,#0fff00,#00ff17,#00ff3c,#00ff5f,#00ff80,#00ff9e,#00ffba,#00ffd3,#00ffea,#00ffff,#00eeff,#00dfff,#00d2ff,#00c8ff,#00c0ff,#00baff,#00b7ff,#00b6ff,#00b7ff,#00bbff,#00c2ff,#00caff)"></i><i style="background:linear-gradient(90deg,#fff500,#d9ff00,#acff00,#80ff00,#57ff00,#2fff00,#0aff00,#00ff1c,#00ff41,#00ff64,#00ff84,#00ffa2,#00ffbe,#00ffd7,#00ffed,#00fdff,#00ecff,#00ddff,#00d0ff,#00c6ff,#00bfff,#00baff,#00b7ff,#00b6ff,#00b8ff,#00bcff,#00c3ff,#00ccff)"></i><i style="background:linear-gradient(90deg,#fffc00,#d3ff00,#a6ff00,#7aff00,#51ff00,#2aff00,#05ff00,#00ff21,#00ff46,#00ff68,#00ff88,#00ffa6,#00ffc1,#00ffda,#00fff0,#00faff,#00eaff,#00dbff,#00cfff,#00c5ff,#00beff,#00b9ff,#00b7ff,#00b6ff,#00b9ff,#00bdff,#00c4ff,#00ceff)"></i><i style="background:linear-gradient(90deg,#fcff00,#cdff00,#9fff00,#74ff00,#4cff00,#25ff00,#01ff00,#00ff26,#00ff4b,#00ff6d,#00ff8d,#00ffaa,#00ffc5,#00ffdd,#00fff3,#00f8ff,#00e8ff,#00d9ff,#00ceff,#00c4ff,#00bdff,#00b9ff,#00b7ff,#00b7ff,#00b9ff,#00beff,#00c6ff,#00cfff)"></i><i style="background:linear-gradient(90deg,#f5ff00,#c6ff00,#99ff00,#6fff00,#46ff00,#20ff00,#00ff05,#00ff2c,#00ff50,#00ff71,#00ff91,#00ffae,#00ffc8,#00ffe0,#00fff5,#00f6ff,#00e6ff,#00d8ff,#00ccff,#00c3ff,#00bdff,#00b8ff,#00b7ff,#00b7ff,#00baff,#00bfff,#00c7ff,#00d1ff)"></i><i style="background:linear-gradient(90deg,#efff00,#c0ff00,#93ff00,#69ff00,#41ff00,#1bff00,#00ff0a,#00ff31,#00ff55,#00ff76,#00ff95,#00ffb1,#00ffcb,#00ffe3,#00fff8,#00f3ff,#00e4ff,#00d6ff,#00cbff,#00c2ff,#00bcff,#00b8ff,#00b7ff,#00b7ff,#00bbff,#00c0ff,#00c8ff,#00d3ff)"></i><i style="background:linear-gradient(90deg,#e8ff00,#baff00,#8dff00,#63ff00,#3bff00,#16ff00,#00ff10,#00ff36,#00ff59,#00ff7a,#00ff99,#00ffb5,#00ffcf,#00ffe6,#00fffb,#00f1ff,#00e2ff,#00d4ff,#00caff,#00c1ff,#00bbff,#00b8ff,#00b7ff,#00b8ff,#00bbff,#00c1ff,#00caff,#00d4ff)"></i><i style="background:linear-gradient(90deg,#e1ff00,#b3ff00,#87ff00,#5eff00,#36ff00,#11ff00,#00ff15,#00ff3b,#00ff5e,#00ff7f,#00ff9d,#00ffb9,#00ffd2,#00ffe9,#00fffe,#00efff,#00e0ff,#00d3ff,#00c8ff,#00c0ff,#00bbff,#00b7ff,#00b7ff,#00b8ff,#00bcff,#00c2ff,#00cbff,#00d6ff)"></i><i style="background:linear-gradient(90deg,#dbff00,#adff00,#81ff00,#58ff00,#31ff00,#0bff00,#00ff1b,#00ff40,#00ff63,#00ff83,#00ffa1,#00ffbd,#00ffd6,#00ffec,#00feff,#00ecff,#00deff,#00d1ff,#00c7ff,#00bfff,#00baff,#00b7ff,#00b7ff,#00b8ff,#00bdff,#00c3ff,#00ccff,#00d8ff)"></i><i style="background:linear-gradient(90deg,#d4ff00,#a7ff00,#7bff00,#52ff00,#2bff00,#06ff00,#00ff20,#00ff45,#00ff68,#00ff88,#00ffa5,#00ffc0,#00ffd9,#00ffef,#00fbff,#00eaff,#00dcff,#00d0ff,#00c6ff,#00beff,#00baff,#00b7ff,#00b7ff,#00b9ff,#00bdff,#00c4ff,#00ceff,#00d9ff)"></i><i style="background:linear-gradient(90deg,#ceff00,#a0ff00,#75ff00,#4dff00,#26ff00,#01ff00,#00ff26,#00ff4a,#00ff6c,#00ff8c,#00ffa9,#00ffc4,#00ffdc,#00fff2,#00f9ff,#00e8ff,#00daff,#00ceff,#00c5ff,#00beff,#00b9ff,#00b7ff,#00b7ff,#00b9ff,#00beff,#00c5ff,#00cfff,#00dbff)"></i><i style="background:linear-gradient(90deg,#c7ff00,#9aff00,#6fff00,#47ff00,#21ff00,#00ff04,#00ff2b,#00ff4f,#00ff71,#00ff90,#00ffad,#00ffc8,#00ffe0,#00fff5,#00f6ff,#00e6ff,#00d8ff,#00ccff,#00c3ff,#00bdff,#00b8ff,#00b6ff,#00b7ff,#00baff,#00bfff,#00c7ff,#00d1ff,#00ddff)"></i><i style="background:linear-gradient(90deg,#c1ff00,#94ff00,#6aff00,#41ff00,#1bff00,#00ff0a,#00ff30,#00ff54,#00ff76,#00ff95,#00ffb1,#00ffcb,#00ffe3,#00fff8,#00f3ff,#00e4ff,#00d6ff,#00cbff,#00c2ff,#00bcff,#00b8ff,#00b6ff,#00b7ff,#00baff,#00c0ff,#00c8ff,#00d2ff,#00dfff)"></i><i style="background:linear-gradient(90deg,#baff00,#8eff00,#64ff00,#3cff00,#16ff00,#00ff10,#00ff36,#00ff59,#00ff7a,#00ff99,#00ffb5,#00ffcf,#00ffe6,#00fffb,#00f1ff,#00e1ff,#00d4ff,#00c9ff,#00c1ff,#00bbff,#00b7ff,#00b6ff,#00b7ff,#00bbff,#00c1ff,#00c9ff,#00d4ff,#00e1ff)"></i><i style="background:linear-gradient(90deg,#b4ff00,#88ff00,#5eff00,#36ff00,#11ff00,#00ff15,#00ff3b,#00ff5e,#00ff7f,#00ff9d,#00ffb9,#00ffd2,#00ffe9,#00fffe,#00eeff,#00dfff,#00d2ff,#00c8ff,#00c0ff,#00baff,#00b7ff,#00b6ff,#00b7ff,#00bbff,#00c1ff,#00caff,#00d5ff,#00e2ff)"></i><i style="background:linear-gradient(90deg,#adff00,#81ff00,#58ff00,#31ff00,#0bff00,#00ff1b,#00ff40,#00ff63,#00ff83,#00ffa1,#00ffbd,#00ffd6,#00ffed,#00fdff,#00ecff,#00ddff,#00d1ff,#00c6ff,#00bfff,#00b9ff,#00b6ff,#00b6ff,#00b8ff,#00bcff,#00c2ff,#00cbff,#00d7ff,#00e4ff)"></i><i style="background:linear-gradient(90deg,#a7ff00,#7bff00,#52ff00,#2bff00,#06ff00,#00ff20,#00ff45,#00ff68,#00ff88,#00ffa6,#00ffc1,#00ffda,#00fff0,#00faff,#00eaff,#00dbff,#00cfff,#00c5ff,#00beff,#00b9ff,#00b6ff,#00b6ff,#00b8ff,#00bcff,#00c3ff,#00ccff,#00d8ff,#00e6ff)"></i><i style="background:linear-gradient(90deg,#a0ff00,#75ff00,#4cff00,#26ff00,#01ff00,#00ff26,#00ff4b,#00ff6d,#00ff8d,#00ffaa,#00ffc5,#00ffdd,#00fff3,#00f8ff,#00e7ff,#00d9ff,#00cdff,#00c4ff,#00bdff,#00b8ff,#00b6ff,#00b6ff,#00b8ff,#00bdff,#00c4ff,#00ceff,#00daff,#00e8ff)"></i><i style="background:linear-gradient(90deg,#9aff00,#6fff00,#47ff00,#20ff00,#00ff05,#00ff2c,#00ff50,#00ff72,#00ff91,#00ffae,#00ffc8,#00ffe1,#00fff6,#00f5ff,#00e5ff,#00d7ff,#00cbff,#00c2ff,#00bbff,#00b7ff,#00b5ff,#00b6ff,#00b8ff,#00bdff,#00c5ff,#00cfff,#00dbff,#00eaff)"></i><i style="background:linear-gradient(90deg,#93ff00,#69ff00,#41ff00,#1bff00,#00ff0b,#00ff31,#00ff55,#00ff76,#00ff96,#00ffb2,#00ffcc,#00ffe4,#00fff9,#00f2ff,#00e2ff,#00d5ff,#00caff,#00c1ff,#00baff,#00b6ff,#00b5ff,#00b5ff,#00b9ff,#00beff,#00c6ff,#00d0ff,#00ddff,#00ecff)"></i><i style="background:linear-gradient(90deg,#8dff00,#63ff00,#3bff00,#15ff00,#00ff11,#00ff37,#00ff5a,#00ff7b,#00ff9a,#00ffb6,#00ffd0,#00ffe7,#00fffc,#00f0ff,#00e0ff,#00d3ff,#00c8ff,#00bfff,#00b9ff,#00b6ff,#00b4ff,#00b5ff,#00b9ff,#00bfff,#00c7ff,#00d2ff,#00dfff,#00eeff)"></i><i style="background:linear-gradient(90deg,#87ff00,#5dff00,#35ff00,#10ff00,#00ff16,#00ff3c,#00ff5f,#00ff80,#00ff9e,#00ffba,#00ffd4,#00ffeb,#00ffff,#00edff,#00deff,#00d1ff,#00c6ff,#00beff,#00b8ff,#00b5ff,#00b4ff,#00b5ff,#00b9ff,#00bfff,#00c8ff,#00d3ff,#00e0ff,#00f0ff)"></i><i style="background:linear-gradient(90deg,#80ff00,#57ff00,#30ff00,#0aff00,#00ff1c,#00ff42,#00ff64,#00ff85,#00ffa3,#00ffbf,#00ffd8,#00ffee,#00fcff,#00eaff,#00dbff,#00cfff,#00c5ff,#00bdff,#00b7ff,#00b4ff,#00b4ff,#00b5ff,#00baff,#00c0ff,#00c9ff,#00d4ff,#00e2ff,#00f2ff)"></i><i style="background:linear-gradient(90deg,#7aff00,#51ff00,#2aff00,#05ff00,#00ff22,#00ff47,#00ff6a,#00ff8a,#00ffa7,#00ffc3,#00ffdb,#00fff2,#00f9ff,#00e8ff,#00d9ff,#00cdff,#00c3ff,#00bbff,#00b6ff,#00b4ff,#00b3ff,#00b5ff,#00baff,#00c1ff,#00caff,#00d6ff,#00e4ff,#00f4ff)"></i><i style="background:linear-gradient(90deg,#74ff00,#4bff00,#24ff00,#00ff01,#00ff28,#00ff4c,#00ff6f,#00ff8e,#00ffac,#00ffc7,#00ffdf,#00fff5,#00f6ff,#00e5ff,#00d7ff,#00cbff,#00c1ff,#00baff,#00b5ff,#00b3ff,#00b3ff,#00b6ff,#00baff,#00c1ff,#00cbff,#00d7ff,#00e5ff,#00f6ff)"></i><i style="background:linear-gradient(90deg,#6eff00,#45ff00,#1eff00,#00ff07,#00ff2d,#00ff52,#00ff74,#00ff93,#00ffb0,#00ffcb,#00ffe3,#00fff8,#00f3ff,#00e2ff,#00d4ff,#00c9ff,#00c0ff,#00b9ff,#00b4ff,#00b2ff,#00b3ff,#00b6ff,#00bbff,#00c2ff,#00ccff,#00d8ff,#00e7ff,#00f8ff)"></i><i style="background:linear-gradient(90deg,#67ff00,#3fff00,#19ff00,#00ff0d,#00ff33,#00ff57,#00ff79,#00ff98,#00ffb5,#00ffcf,#00ffe6,#00fffc,#00f0ff,#00e0ff,#00d2ff,#00c7ff,#00beff,#00b8ff,#00b4ff,#00b2ff,#00b3ff,#00b6ff,#00bbff,#00c3ff,#00cdff,#00daff,#00e9ff,#00faff)"></i><i style="background:linear-gradient(90deg,#61ff00,#39ff00,#13ff00,#00ff13,#00ff39,#00ff5d,#00ff7e,#00ff9d,#00ffb9,#00ffd3,#00ffea,#00ffff,#00edff,#00ddff,#00d0ff,#00c5ff,#00bdff,#00b6ff,#00b3ff,#00b1ff,#00b2ff,#00b6ff,#00bcff,#00c4ff,#00ceff,#00dbff,#00ebff,#00fcff)"></i><i style="background:linear-gradient(90deg,#5bff00,#33ff00,#0eff00,#00ff19,#00ff3f,#00ff62,#00ff83,#00ffa1,#00ffbd,#00ffd7,#00ffee,#00fcff,#00eaff,#00dbff,#00ceff,#00c3ff,#00bbff,#00b5ff,#00b2ff,#00b1ff,#00b2ff,#00b6ff,#00bcff,#00c5ff,#00cfff,#00ddff,#00ecff,#00feff)"></i><i style="background:linear-gradient(90deg,#55ff00,#2dff00,#08ff00,#00ff1f,#00ff44,#00ff67,#00ff88,#00ffa6,#00ffc1,#00ffdb,#00fff1,#00f9ff,#00e7ff,#00d8ff,#00ccff,#00c1ff,#00baff,#00b4ff,#00b1ff,#00b0ff,#00b2ff,#00b6ff,#00bdff,#00c5ff,#00d1ff,#00deff,#00eeff,#00fffd)"></i><i style="background:linear-gradient(90deg,#4eff00,#27ff00,#02ff00,#00ff25,#00ff4a,#00ff6d,#00ff8d,#00ffaa,#00ffc6,#00ffdf,#00fff5,#00f5ff,#00e4ff,#00d6ff,#00c9ff,#00c0ff,#00b8ff,#00b3ff,#00b0ff,#00b0ff,#00b2ff,#00b6ff,#00bdff,#00c6ff,#00d2ff,#00e0ff,#00f0ff,#00fffb)"></i><i style="background:linear-gradient(90deg,#48ff00,#21ff00,#00ff04,#00ff2b,#00ff50,#00ff72,#00ff92,#00ffaf,#00ffca,#00ffe2,#00fff9,#00f2ff,#00e2ff,#00d3ff,#00c7ff,#00beff,#00b7ff,#00b2ff,#00afff,#00afff,#00b2ff,#00b6ff,#00beff,#00c7ff,#00d3ff,#00e1ff,#00f2ff,#00fff9)"></i><i style="background:linear-gradient(90deg,#42ff00,#1cff00,#00ff0a,#00ff31,#00ff55,#00ff77,#00ff97,#00ffb4,#00ffce,#00ffe6,#00fffc,#00efff,#00dfff,#00d1ff,#00c5ff,#00bcff,#00b5ff,#00b1ff,#00afff,#00afff,#00b2ff,#00b7ff,#00beff,#00c8ff,#00d4ff,#00e3ff,#00f4ff,#00fff7)"></i><i style="background:linear-gradient(90deg,#3cff00,#16ff00,#00ff10,#00ff37,#00ff5b,#00ff7c,#00ff9b,#00ffb8,#00ffd2,#00ffea,#00feff,#00ecff,#00dcff,#00ceff,#00c3ff,#00baff,#00b4ff,#00b0ff,#00aeff,#00aeff,#00b1ff,#00b7ff,#00bfff,#00c9ff,#00d5ff,#00e4ff,#00f6ff,#00fff4)"></i><i style="background:linear-gradient(90deg,#36ff00,#10ff00,#00ff16,#00ff3d,#00ff60,#00ff82,#00ffa0,#00ffbd,#00ffd7,#00ffee,#00fbff,#00e9ff,#00d9ff,#00ccff,#00c1ff,#00b8ff,#00b2ff,#00aeff,#00adff,#00aeff,#00b1ff,#00b7ff,#00bfff,#00caff,#00d7ff,#00e6ff,#00f8ff,#00fff2)"></i><i style="background:linear-gradient(90deg,#30ff00,#0aff00,#00ff1d,#00ff42,#00ff66,#00ff87,#00ffa5,#00ffc1,#00ffdb,#00fff2,#00f8ff,#00e6ff,#00d6ff,#00c9ff,#00bfff,#00b7ff,#00b1ff,#00adff,#00acff,#00aeff,#00b1ff,#00b7ff,#00c0ff,#00cbff,#00d8ff,#00e8ff,#00faff,#00fff0)"></i><i style="background:linear-gradient(90deg,#2aff00,#04ff00,#00ff23,#00ff48,#00ff6b,#00ff8c,#00ffaa,#00ffc6,#00ffdf,#00fff6,#00f4ff,#00e3ff,#00d4ff,#00c7ff,#00bdff,#00b5ff,#00afff,#00acff,#00acff,#00adff,#00b1ff,#00b8ff,#00c0ff,#00ccff,#00d9ff,#00e9ff,#00fbff,#00ffed)"></i><i style="background:linear-gradient(90deg,#24ff00,#00ff01,#00ff29,#00ff4e,#00ff71,#00ff91,#00ffaf,#00ffca,#00ffe3,#00fffa,#00f1ff,#00e0ff,#00d1ff,#00c5ff,#00bbff,#00b3ff,#00aeff,#00abff,#00abff,#00adff,#00b1ff,#00b8ff,#00c1ff,#00cdff,#00dbff,#00ebff,#00fdff,#00ffeb)"></i><i style="background:linear-gradient(90deg,#1eff00,#00ff08,#00ff2f,#00ff54,#00ff76,#00ff96,#00ffb4,#00ffcf,#00ffe7,#00fffd,#00eeff,#00ddff,#00ceff,#00c2ff,#00b9ff,#00b2ff,#00adff,#00aaff,#00aaff,#00adff,#00b1ff,#00b8ff,#00c2ff,#00ceff,#00dcff,#00ecff,#00ffff,#00ffe9)"></i><i style="background:linear-gradient(90deg,#18ff00,#00ff0e,#00ff35,#00ff5a,#00ff7c,#00ff9b,#00ffb8,#00ffd3,#00ffeb,#00fdff,#00eaff,#00daff,#00ccff,#00c0ff,#00b7ff,#00b0ff,#00abff,#00a9ff,#00aaff,#00acff,#00b1ff,#00b9ff,#00c2ff,#00cfff,#00ddff,#00eeff,#00fffc,#00ffe6)"></i><i style="background:linear-gradient(90deg,#12ff00,#00ff15,#00ff3b,#00ff60,#00ff81,#00ffa0,#00ffbd,#00ffd7,#00ffef,#00f9ff,#00e7ff,#00d7ff,#00c9ff,#00beff,#00b5ff,#00aeff,#00aaff,#00a8ff,#00a9ff,#00acff,#00b1ff,#00b9ff,#00c3ff,#00d0ff,#00dfff,#00f0ff,#00fffa,#00ffe4)"></i><i style="background:linear-gradient(90deg,#0cff00,#00ff1b,#00ff42,#00ff65,#00ff87,#00ffa5,#00ffc2,#00ffdc,#00fff3,#00f6ff,#00e4ff,#00d4ff,#00c7ff,#00bcff,#00b3ff,#00adff,#00a9ff,#00a7ff,#00a8ff,#00acff,#00b1ff,#00b9ff,#00c4ff,#00d1ff,#00e0ff,#00f2ff,#00fff8,#00ffe1)"></i><i style="background:linear-gradient(90deg,#06ff00,#00ff22,#00ff48,#00ff6b,#00ff8c,#00ffab,#00ffc7,#00ffe0,#00fff7,#00f2ff,#00e0ff,#00d1ff,#00c4ff,#00b9ff,#00b1ff,#00abff,#00a8ff,#00a7ff,#00a8ff,#00abff,#00b1ff,#00baff,#00c5ff,#00d2ff,#00e1ff,#00f3ff,#00fff6,#00ffdf)"></i><i style="background:linear-gradient(90deg,#00ff00,#00ff28,#00ff4e,#00ff71,#00ff91,#00ffb0,#00ffcb,#00ffe5,#00fffb,#00efff,#00ddff,#00ceff,#00c1ff,#00b7ff,#00afff,#00aaff,#00a6ff,#00a6ff,#00a7ff,#00abff,#00b2ff,#00baff,#00c5ff,#00d3ff,#00e3ff,#00f5ff,#00fff4,#00ffdc)"></i><i style="background:linear-gradient(90deg,#00ff07,#00ff2f,#00ff54,#00ff76,#00ff97,#00ffb5,#00ffd0,#00ffe9,#00ffff,#00ebff,#00daff,#00cbff,#00bfff,#00b5ff,#00adff,#00a8ff,#00a5ff,#00a5ff,#00a7ff,#00abff,#00b2ff,#00bbff,#00c6ff,#00d4ff,#00e4ff,#00f7ff,#00fff2,#00ffda)"></i><i style="background:linear-gradient(90deg,#00ff0e,#00ff35,#00ff5a,#00ff7c,#00ff9c,#00ffba,#00ffd5,#00ffed,#00fbff,#00e8ff,#00d7ff,#00c8ff,#00bcff,#00b3ff,#00abff,#00a7ff,#00a4ff,#00a4ff,#00a6ff,#00abff,#00b2ff,#00bbff,#00c7ff,#00d5ff,#00e6ff,#00f9ff,#00fff0,#00ffd7)"></i><i style="background:linear-gradient(90deg,#00ff14,#00ff3b,#00ff60,#00ff82,#00ffa1,#00ffbf,#00ffd9,#00fff2,#00f7ff,#00e4ff,#00d4ff,#00c6ff,#00baff,#00b0ff,#00aaff,#00a5ff,#00a3ff,#00a3ff,#00a6ff,#00abff,#00b2ff,#00bcff,#00c8ff,#00d6ff,#00e7ff,#00fbff,#00ffed,#00ffd5)"></i><i style="background:linear-gradient(90deg,#00ff1b,#00ff42,#00ff66,#00ff87,#00ffa7,#00ffc3,#00ffde,#00fff6,#00f3ff,#00e1ff,#00d0ff,#00c3ff,#00b7ff,#00aeff,#00a8ff,#00a4ff,#00a2ff,#00a2ff,#00a5ff,#00aaff,#00b2ff,#00bcff,#00c9ff,#00d8ff,#00e9ff,#00fcff,#00ffeb,#00ffd2)"></i><i style="background:linear-gradient(90deg,#00ff22,#00ff48,#00ff6c,#00ff8d,#00ffac,#00ffc8,#00ffe2,#00fffa,#00efff,#00ddff,#00cdff,#00c0ff,#00b5ff,#00acff,#00a6ff,#00a2ff,#00a1ff,#00a1ff,#00a5ff,#00aaff,#00b2ff,#00bdff,#00caff,#00d9ff,#00eaff,#00feff,#00ffe9,#00ffcf)"></i><i style="background:linear-gradient(90deg,#00ff28,#00ff4e,#00ff72,#00ff93,#00ffb1,#00ffcd,#00ffe7,#00fffe,#00ecff,#00daff,#00caff,#00bdff,#00b2ff,#00aaff,#00a4ff,#00a1ff,#009fff,#00a1ff,#00a4ff,#00aaff,#00b3ff,#00bdff,#00caff,#00daff,#00ecff,#00fffe,#00ffe7,#00ffcd)"></i><i style="background:linear-gradient(90deg,#00ff2f,#00ff54,#00ff78,#00ff98,#00ffb6,#00ffd2,#00ffec,#00fcff,#00e8ff,#00d6ff,#00c7ff,#00baff,#00b0ff,#00a8ff,#00a2ff,#009fff,#009eff,#00a0ff,#00a4ff,#00aaff,#00b3ff,#00beff,#00cbff,#00dbff,#00edff,#00fffc,#00ffe4,#00ffca)"></i><i style="background:linear-gradient(90deg,#00ff35,#00ff5b,#00ff7d,#00ff9e,#00ffbc,#00ffd7,#00fff0,#00f8ff,#00e4ff,#00d3ff,#00c4ff,#00b8ff,#00aeff,#00a6ff,#00a1ff,#009eff,#009dff,#009fff,#00a3ff,#00aaff,#00b3ff,#00bfff,#00ccff,#00ddff,#00efff,#00fffa,#00ffe2,#00ffc7)"></i><i style="background:linear-gradient(90deg,#00ff3c,#00ff61,#00ff83,#00ffa3,#00ffc1,#00ffdc,#00fff5,#00f4ff,#00e0ff,#00cfff,#00c1ff,#00b5ff,#00abff,#00a4ff,#009fff,#009cff,#009cff,#009eff,#00a3ff,#00aaff,#00b3ff,#00bfff,#00cdff,#00deff,#00f1ff,#00fff8,#00ffe0,#00ffc5)"></i><i style="background:linear-gradient(90deg,#00ff43,#00ff67,#00ff89,#00ffa9,#00ffc6,#00ffe1,#00fff9,#00f0ff,#00ddff,#00ccff,#00beff,#00b2ff,#00a9ff,#00a2ff,#009dff,#009bff,#009bff,#009eff,#00a3ff,#00aaff,#00b4ff,#00c0ff,#00ceff,#00dfff,#00f2ff,#00fff6,#00ffdd,#00ffc2)"></i><i style="background:linear-gradient(90deg,#00ff49,#00ff6d,#00ff8f,#00ffae,#00ffcb,#00ffe6,#00fffe,#00ecff,#00d9ff,#00c9ff,#00bbff,#00b0ff,#00a7ff,#00a0ff,#009cff,#009aff,#009aff,#009dff,#00a2ff,#00aaff,#00b4ff,#00c0ff,#00cfff,#00e0ff,#00f4ff,#00fff4,#00ffdb,#00ffbf)"></i><i style="background:linear-gradient(90deg,#00ff50,#00ff73,#00ff95,#00ffb4,#00ffd0,#00ffea,#00fcff,#00e8ff,#00d5ff,#00c5ff,#00b8ff,#00adff,#00a4ff,#009eff,#009aff,#0098ff,#0099ff,#009cff,#00a2ff,#00aaff,#00b4ff,#00c1ff,#00d0ff,#00e2ff,#00f6ff,#00fff2,#00ffd8,#00ffbd)"></i><i style="background:linear-gradient(90deg,#00ff56,#00ff7a,#00ff9b,#00ffb9,#00ffd5,#00ffef,#00f8ff,#00e4ff,#00d2ff,#00c2ff,#00b5ff,#00aaff,#00a2ff,#009cff,#0098ff,#0097ff,#0098ff,#009cff,#00a2ff,#00aaff,#00b5ff,#00c2ff,#00d1ff,#00e3ff,#00f7ff,#00fff0,#00ffd6,#00ffba)"></i><i style="background:linear-gradient(90deg,#00ff5c,#00ff80,#00ffa0,#00ffbf,#00ffda,#00fff4,#00f4ff,#00e0ff,#00ceff,#00bfff,#00b2ff,#00a8ff,#00a0ff,#009aff,#0097ff,#0096ff,#0097ff,#009bff,#00a1ff,#00aaff,#00b5ff,#00c3ff,#00d2ff,#00e5ff,#00f9ff,#00ffed,#00ffd3,#00ffb7)"></i><i style="background:linear-gradient(90deg,#00ff63,#00ff86,#00ffa6,#00ffc4,#00ffe0,#00fff9,#00efff,#00dcff,#00caff,#00bcff,#00afff,#00a5ff,#009dff,#0098ff,#0095ff,#0095ff,#0096ff,#009bff,#00a1ff,#00aaff,#00b6ff,#00c3ff,#00d3ff,#00e6ff,#00fbff,#00ffeb,#00ffd1,#00ffb4)"></i><i style="background:linear-gradient(90deg,#00ff69,#00ff8c,#00ffac,#00ffc9,#00ffe5,#00fffd,#00ebff,#00d8ff,#00c7ff,#00b8ff,#00acff,#00a2ff,#009bff,#0096ff,#0094ff,#0093ff,#0095ff,#009aff,#00a1ff,#00aaff,#00b6ff,#00c4ff,#00d5ff,#00e7ff,#00fdff,#00ffe9,#00ffcf,#00ffb1)"></i><i style="background:linear-gradient(90deg,#00ff70,#00ff92,#00ffb2,#00ffcf,#00ffea,#00fcff,#00e7ff,#00d4ff,#00c3ff,#00b5ff,#00a9ff,#00a0ff,#0099ff,#0094ff,#0092ff,#0092ff,#0095ff,#0099ff,#00a1ff,#00aaff,#00b6ff,#00c5ff,#00d6ff,#00e9ff,#00feff,#00ffe7,#00ffcc,#00ffaf)"></i><i style="background:linear-gradient(90deg,#00ff76,#00ff98,#00ffb7,#00ffd4,#00ffef,#00f8ff,#00e3ff,#00d0ff,#00c0ff,#00b2ff,#00a6ff,#009dff,#0097ff,#0092ff,#0090ff,#0091ff,#0094ff,#0099ff,#00a1ff,#00abff,#00b7ff,#00c6ff,#00d7ff,#00eaff,#00fffe,#00ffe5,#00ffc9,#00ffac)"></i><i style="background:linear-gradient(90deg,#00ff7c,#00ff9e,#00ffbd,#00ffd9,#00fff4,#00f3ff,#00deff,#00ccff,#00bcff,#00afff,#00a4ff,#009bff,#0095ff,#0091ff,#008fff,#0090ff,#0093ff,#0098ff,#00a0ff,#00abff,#00b7ff,#00c6ff,#00d8ff,#00ecff,#00fffc,#00ffe3,#00ffc7,#00ffa9)"></i><i style="background:linear-gradient(90deg,#00ff83,#00ffa4,#00ffc2,#00ffdf,#00fff8,#00efff,#00daff,#00c8ff,#00b9ff,#00acff,#00a1ff,#0098ff,#0092ff,#008fff,#008dff,#008fff,#0092ff,#0098ff,#00a0ff,#00abff,#00b8ff,#00c7ff,#00d9ff,#00edff,#00fffa,#00ffe0,#00ffc4,#00ffa6)"></i><i style="background:linear-gradient(90deg,#00ff89,#00ffaa,#00ffc8,#00ffe4,#00fffd,#00eaff,#00d6ff,#00c5ff,#00b5ff,#00a8ff,#009eff,#0096ff,#0090ff,#008dff,#008cff,#008dff,#0091ff,#0097ff,#00a0ff,#00abff,#00b8ff,#00c8ff,#00daff,#00efff,#00fff8,#00ffde,#00ffc2,#00ffa3)"></i><i style="background:linear-gradient(90deg,#00ff8f,#00ffb0,#00ffce,#00ffe9,#00fcff,#00e6ff,#00d2ff,#00c1ff,#00b2ff,#00a5ff,#009bff,#0093ff,#008eff,#008bff,#008bff,#008cff,#0090ff,#0097ff,#00a0ff,#00abff,#00b9ff,#00c9ff,#00dcff,#00f0ff,#00fff6,#00ffdc,#00ffbf,#00ffa0)"></i><i style="background:linear-gradient(90deg,#00ff96,#00ffb6,#00ffd3,#00ffee,#00f7ff,#00e1ff,#00ceff,#00bdff,#00aeff,#00a2ff,#0098ff,#0091ff,#008cff,#0089ff,#0089ff,#008bff,#0090ff,#0097ff,#00a0ff,#00acff,#00baff,#00caff,#00ddff,#00f2ff,#00fff4,#00ffda,#00ffbc,#00ff9d)"></i><i style="background:linear-gradient(90deg,#00ff9c,#00ffbc,#00ffd9,#00fff4,#00f2ff,#00ddff,#00caff,#00b9ff,#00abff,#009fff,#0096ff,#008fff,#008aff,#0088ff,#0088ff,#008aff,#008fff,#0096ff,#00a0ff,#00acff,#00baff,#00cbff,#00deff,#00f4ff,#00fff2,#00ffd7,#00ffba,#00ff9a)"></i><i style="background:linear-gradient(90deg,#00ffa2,#00ffc1,#00ffde,#00fff9,#00eeff,#00d8ff,#00c6ff,#00b6ff,#00a8ff,#009cff,#0093ff,#008cff,#0088ff,#0086ff,#0086ff,#0089ff,#008eff,#0096ff,#00a0ff,#00acff,#00bbff,#00ccff,#00dfff,#00f5ff,#00fff0,#00ffd5,#00ffb7,#00ff97)"></i><i style="background:linear-gradient(90deg,#00ffa8,#00ffc7,#00ffe4,#00fffe,#00e9ff,#00d4ff,#00c2ff,#00b2ff,#00a4ff,#0099ff,#0090ff,#008aff,#0086ff,#0084ff,#0085ff,#0088ff,#008eff,#0095ff,#00a0ff,#00acff,#00bbff,#00cdff,#00e1ff,#00f7ff,#00ffee,#00ffd3,#00ffb4,#00ff94)"></i><i style="background:linear-gradient(90deg,#00ffae,#00ffcd,#00ffe9,#00fbff,#00e4ff,#00d0ff,#00beff,#00aeff,#00a1ff,#0096ff,#008eff,#0088ff,#0084ff,#0083ff,#0084ff,#0087ff,#008dff,#0095ff,#00a0ff,#00adff,#00bcff,#00ceff,#00e2ff,#00f8ff,#00ffec,#00ffd0,#00ffb2,#00ff91)"></i><i style="background:linear-gradient(90deg,#00ffb5,#00ffd3,#00ffef,#00f6ff,#00dfff,#00cbff,#00baff,#00aaff,#009eff,#0093ff,#008bff,#0085ff,#0082ff,#0081ff,#0082ff,#0086ff,#008cff,#0095ff,#00a0ff,#00adff,#00bdff,#00cfff,#00e3ff,#00faff,#00ffea,#00ffce,#00ffaf,#00ff8e)"></i><i style="background:linear-gradient(90deg,#00ffbb,#00ffd9,#00fff4,#00f1ff,#00dbff,#00c7ff,#00b6ff,#00a7ff,#009aff,#0090ff,#0088ff,#0083ff,#0080ff,#007fff,#0081ff,#0085ff,#008cff,#0094ff,#00a0ff,#00adff,#00bdff,#00d0ff,#00e5ff,#00fcff,#00ffe8,#00ffcb,#00ffac,#00ff8b)"></i><i style="background:linear-gradient(90deg,#00ffc1,#00ffdf,#00fffa,#00ecff,#00d6ff,#00c3ff,#00b2ff,#00a3ff,#0097ff,#008dff,#0086ff,#0081ff,#007eff,#007eff,#0080ff,#0084ff,#008bff,#0094ff,#00a0ff,#00aeff,#00beff,#00d1ff,#00e6ff,#00feff,#00ffe6,#00ffc9,#00ffa9,#00ff87)"></i><i style="background:linear-gradient(90deg,#00ffc7,#00ffe4,#00ffff,#00e7ff,#00d2ff,#00bfff,#00aeff,#00a0ff,#0094ff,#008aff,#0083ff,#007eff,#007cff,#007cff,#007eff,#0083ff,#008aff,#0094ff,#00a0ff,#00aeff,#00bfff,#00d2ff,#00e7ff,#00ffff,#00ffe4,#00ffc6,#00ffa7,#00ff84)"></i><i style="background:linear-gradient(90deg,#00ffcd,#00ffea,#00faff,#00e2ff,#00cdff,#00baff,#00aaff,#009cff,#0090ff,#0087ff,#0081ff,#007cff,#007aff,#007aff,#007dff,#0082ff,#008aff,#0094ff,#00a0ff,#00afff,#00c0ff,#00d3ff,#00e9ff,#00fffd,#00ffe2,#00ffc4,#00ffa4,#00ff81)"></i><i style="background:linear-gradient(90deg,#00ffd3,#00fff0,#00f4ff,#00ddff,#00c8ff,#00b6ff,#00a6ff,#0098ff,#008dff,#0084ff,#007eff,#007aff,#0078ff,#0079ff,#007cff,#0081ff,#0089ff,#0093ff,#00a0ff,#00afff,#00c0ff,#00d4ff,#00eaff,#00fffb,#00ffdf,#00ffc1,#00ffa1,#00ff7e)"></i><i style="background:linear-gradient(90deg,#00ffd9,#00fff5,#00efff,#00d8ff,#00c4ff,#00b2ff,#00a2ff,#0095ff,#008aff,#0082ff,#007bff,#0078ff,#0076ff,#0077ff,#007bff,#0081ff,#0089ff,#0093ff,#00a0ff,#00b0ff,#00c1ff,#00d5ff,#00ecff,#00fff9,#00ffdd,#00ffbf,#00ff9e,#00ff7b)"></i><i style="background:linear-gradient(90deg,#00ffdf,#00fffb,#00eaff,#00d4ff,#00bfff,#00aeff,#009eff,#0091ff,#0087ff,#007fff,#0079ff,#0075ff,#0074ff,#0076ff,#007aff,#0080ff,#0088ff,#0093ff,#00a0ff,#00b0ff,#00c2ff,#00d6ff,#00edff,#00fff7,#00ffdb,#00ffbc,#00ff9b,#00ff77)"></i><i style="background:linear-gradient(90deg,#00ffe5,#00fdff,#00e5ff,#00cfff,#00bbff,#00aaff,#009bff,#008eff,#0084ff,#007cff,#0076ff,#0073ff,#0073ff,#0074ff,#0078ff,#007fff,#0088ff,#0093ff,#00a1ff,#00b0ff,#00c3ff,#00d8ff,#00efff,#00fff5,#00ffd9,#00ffba,#00ff98,#00ff74)"></i><i style="background:linear-gradient(90deg,#00ffeb,#00f8ff,#00e0ff,#00caff,#00b6ff,#00a5ff,#0097ff,#008aff,#0081ff,#0079ff,#0074ff,#0071ff,#0071ff,#0073ff,#0077ff,#007eff,#0087ff,#0093ff,#00a1ff,#00b1ff,#00c4ff,#00d9ff,#00f0ff,#00fff4,#00ffd7,#00ffb7,#00ff95,#00ff71)"></i><i style="background:linear-gradient(90deg,#00fff1,#00f2ff,#00dbff,#00c5ff,#00b2ff,#00a1ff,#0093ff,#0087ff,#007dff,#0076ff,#0071ff,#006fff,#006fff,#0071ff,#0076ff,#007dff,#0087ff,#0093ff,#00a1ff,#00b2ff,#00c5ff,#00daff,#00f2ff,#00fff2,#00ffd4,#00ffb5,#00ff92,#00ff6e)"></i><i style="background:linear-gradient(90deg,#00fff7,#00edff,#00d5ff,#00c0ff,#00aeff,#009dff,#008fff,#0084ff,#007aff,#0074ff,#006fff,#006dff,#006dff,#0070ff,#0075ff,#007cff,#0086ff,#0093ff,#00a1ff,#00b2ff,#00c5ff,#00dbff,#00f3ff,#00fff0,#00ffd2,#00ffb2,#00ff8f,#00ff6a)"></i><i style="background:linear-gradient(90deg,#00fffd,#00e8ff,#00d0ff,#00bcff,#00a9ff,#0099ff,#008bff,#0080ff,#0077ff,#0071ff,#006dff,#006bff,#006cff,#006fff,#0074ff,#007cff,#0086ff,#0092ff,#00a1ff,#00b3ff,#00c6ff,#00dcff,#00f5ff,#00ffee,#00ffd0,#00ffaf,#00ff8c,#00ff67)"></i><i style="background:linear-gradient(90deg,#00fbff,#00e2ff,#00cbff,#00b7ff,#00a5ff,#0095ff,#0088ff,#007dff,#0074ff,#006eff,#006aff,#0069ff,#006aff,#006dff,#0073ff,#007bff,#0086ff,#0092ff,#00a2ff,#00b3ff,#00c7ff,#00deff,#00f7ff,#00ffec,#00ffcd,#00ffad,#00ff89,#00ff64)"></i><i style="background:linear-gradient(90deg,#00f6ff,#00ddff,#00c6ff,#00b2ff,#00a0ff,#0091ff,#0084ff,#0079ff,#0071ff,#006bff,#0068ff,#0067ff,#0068ff,#006cff,#0072ff,#007aff,#0085ff,#0092ff,#00a2ff,#00b4ff,#00c8ff,#00dfff,#00f8ff,#00ffea,#00ffcb,#00ffaa,#00ff86,#00ff60)"></i><i style="background:linear-gradient(90deg,#00f1ff,#00d8ff,#00c2ff,#00aeff,#009dff,#008eff,#0081ff,#0077ff,#006fff,#0069ff,#0066ff,#0065ff,#0067ff,#006bff,#0071ff,#007aff,#0085ff,#0092ff,#00a2ff,#00b4ff,#00c9ff,#00e0ff,#00faff,#00ffe8,#00ffc9,#00ffa8,#00ff84,#00ff5d)"></i></div><svg width="688" height="882" viewBox="0 0 688 882"><path d="M102.8 27.5L104.1 29.4L105.6 31.7L107.9 35.3L109 37.2L110.2 39.2L112.3 43.1L113.4 45L114.7 47.8L116.1 50.8L117 52.9L118.4 56.7L119.3 59.2L120.3 62.5L121.2 66.4L121.6 68.3L122.1 72.2L122.4 76.1L122.4 80L122.1 83.9L121.6 87.3L121 89.7L119.9 93.6L119.2 95.5L117.4 99.4L116.4 101.4L114.7 104.3L112.8 107.2L111.3 109.2L109.8 111.1L107.9 113.3L105.6 115.7L103.3 118L101 120.1L98.7 122L96.4 123.9L94.1 125.7L91.9 127.4L89.6 129L87.3 130.5L84.3 132.5L81.2 134.4L78.1 136.2L75.9 137.5L73.6 138.8L70.9 140.3L67.1 142.2L64.4 143.5L62.1 144.7L59.2 146.1L55.3 147.9L53 148.9M170.5 27.5L172.6 29.4L174.6 31.4L176.6 33.3L178.7 35.4L181 37.7L183.3 40L185.6 42.4L187.9 44.8L189.8 46.9L191.6 48.9L193.4 50.8L195.1 52.8L197 55.1L199.3 57.8L201.5 60.6L203 62.5L204.5 64.4L206.2 66.8L208.4 70.1L209.8 72.2L211 74.2L213 77.6L214.3 80L215.3 82L217 85.8L217.7 87.8L219 91.7L219.9 95.1L220.3 97.5L220.7 101.4L220.6 105.3L220.2 109.2L219.7 111.1L218.5 115L217.6 117.2L215.6 120.8L214.3 122.8L212.9 124.7L210.7 127.3L208.4 129.7L206.2 131.9L203.9 133.8L201.6 135.7L199.3 137.4L197 138.9L194.7 140.5L191.9 142.2L188.6 144.2L185.6 145.8L183.3 147L181 148.1L177.2 150L174.1 151.4L171.9 152.4L168.5 153.9L165 155.3L162.7 156.3L158.9 157.8L155.9 158.9L153.6 159.8L149 161.4L146.7 162.2L142.7 163.6L139.9 164.5L136.9 165.5L133 166.8L130.7 167.5L126.1 168.9L123.9 169.6L119.3 171L117 171.6L112.4 172.9L110.1 173.6L105.6 174.9L103.3 175.5L98.7 176.7L96.4 177.3L91.9 178.5L89.5 179.1L85 180.3L81.9 181.1L78.1 182L74.1 183L71.3 183.7L66.7 184.8L64.4 185.4L59.9 186.4L57.6 187L53 188M327.3 182.9L325 183.2L320.4 183.6L315.9 184L311.3 184.5L306.7 184.9L304.4 185.2L299.9 185.6L295.3 186.1L290.7 186.6L288.1 186.9L283.9 187.4L279.3 187.9L274.7 188.4L271.1 188.9L267.9 189.2L263.3 189.8L258.7 190.3L254.8 190.8L251.9 191.2L247.3 191.7L242.7 192.3L239 192.8L235.9 193.1L231.3 193.7L226.7 194.3L223.6 194.7L219.9 195.2L215.3 195.8L210.7 196.3L208.4 196.6L203.9 197.2L199.3 197.8L194.7 198.4L192.4 198.7L187.9 199.3L183.3 199.9L178.8 200.5L176.4 200.8L171.9 201.5L167.3 202.1L164.3 202.5L160.4 203L155.9 203.6L151.3 204.2L149 204.5L144.4 205.1L139.9 205.8L135.5 206.4L133 206.7L128.4 207.3L123.9 207.9L121.2 208.3L117 208.9L112.4 209.5L107.9 210.1L105.6 210.5L101 211.1L96.4 211.7L92.9 212.2L89.6 212.7L85 213.3L80.4 213.9L78.1 214.2L73.6 214.9L69 215.5L64.9 216.1L62.1 216.5L57.6 217.1L53 217.7M246.6 27.5L249.6 29.4L251.9 30.8L254.2 32.3L256.4 33.7L258.9 35.3L262 37.2L265.1 39.2L267.9 40.9L270.2 42.3L272.4 43.8L274.7 45.2L277.5 46.9L280.6 48.9L283.8 50.8L286.2 52.3L288.4 53.7L290.7 55.2L293.2 56.7L296.3 58.6L299.5 60.6L302.2 62.2L304.4 63.6L306.7 65L309 66.4L312.1 68.3L315.3 70.3L318.2 72L320.4 73.4L322.7 74.7L325 76.1L327.3 77.5M327.3 236.3L322.7 235.9L318.2 235.6L315.9 235.4L311.3 235.1L306.7 234.8L302.2 234.5L297.6 234.3L293 234.1L288.4 233.9L283.9 233.7L280 233.6L277 233.5L272.4 233.4L267.9 233.3L263.3 233.2L258.7 233.1L254.2 233.1L249.6 233L245 233L240.4 233L235.9 233L231.3 233L226.7 233.1L222.2 233.2L217.6 233.2L213 233.3L208.4 233.4L203.9 233.5L201.6 233.6L197 233.7L192.4 233.9L187.9 234L183.3 234.2L178.7 234.4L174.1 234.6L169.6 234.8L165 235L160.4 235.2L155.9 235.4L153.6 235.6L149 235.8L144.4 236L139.9 236.3L135.3 236.6L130.7 236.9L126.1 237.1L121.6 237.4L119.3 237.6L114.7 237.9L110.1 238.2L105.6 238.5L101 238.9L96.4 239.2L93.4 239.4L89.6 239.7L85 240L80.4 240.4L75.9 240.8L71.3 241.1L68.5 241.4L64.4 241.7L59.9 242.1L55.3 242.5L53 242.7" fill="none" stroke="#1a1a1a" stroke-width="0.8"/><rect x="53" y="27.5" width="274.3" height="233.3" fill="none" stroke="#555" stroke-width="0.8"/><text x="53.4" y="275.1" text-anchor="middle" class="tk">200</text><text x="122" y="275.1" text-anchor="middle" class="tk">250</text><text x="45.1" y="206" text-anchor="end" class="tk">45</text><text x="190.6" y="275.1" text-anchor="middle" class="tk">300</text><text x="45.1" y="147.7" text-anchor="end" class="tk">50</text><text x="259.1" y="275.1" text-anchor="middle" class="tk">350</text><text x="45.1" y="89.3" text-anchor="end" class="tk">55</text><text x="327.7" y="275.1" text-anchor="middle" class="tk">400</text><text x="45.1" y="32.5" text-anchor="end" class="tk">60</text><path d="M53 260.8v3.5M53 260.8h-3.5M121.6 260.8v3.5M53 202.5h-3.5M190.2 260.8v3.5M53 144.2h-3.5M258.7 260.8v3.5M53 85.8h-3.5M327.3 260.8v3.5M53 27.5h-3.5" stroke="#555" stroke-width="0.8" fill="none"/><rect x="111.6" y="98.4" width="10.5" height="5.2" fill="#fff" stroke="#444" stroke-width="0.6"/><text x="116.8" y="102.4" text-anchor="middle" font-size="4" fill="#666">180</text><rect x="195.9" y="133.4" width="10.5" height="5.2" fill="#fff" stroke="#444" stroke-width="0.6"/><text x="201.1" y="137.4" text-anchor="middle" font-size="4" fill="#666">200</text><rect x="185" y="194.9" width="10.5" height="5.2" fill="#fff" stroke="#444" stroke-width="0.6"/><text x="190.2" y="198.9" text-anchor="middle" font-size="4" fill="#666">220</text><rect x="185" y="229.4" width="10.5" height="5.2" fill="#fff" stroke="#444" stroke-width="0.6"/><text x="190.2" y="233.4" text-anchor="middle" font-size="4" fill="#666">240</text><rect x="281" y="48.2" width="10.5" height="5.2" fill="#fff" stroke="#444" stroke-width="0.6"/><text x="286.2" y="52.2" text-anchor="middle" font-size="4" fill="#666">220</text><circle cx="53" cy="27.5" r="2.5" fill="#bf0000" stroke="#700" stroke-width="0.5"/><circle cx="327.3" cy="27.5" r="2.5" fill="#bf0000" stroke="#700" stroke-width="0.5"/><circle cx="53" cy="260.8" r="2.5" fill="#bf0000" stroke="#700" stroke-width="0.5"/><circle cx="327.3" cy="260.8" r="2.5" fill="#bf0000" stroke="#700" stroke-width="0.5"/><circle cx="190.2" cy="144.2" r="2.5" fill="#bf0000" stroke="#700" stroke-width="0.5"/><text x="186.2" y="145.7" font-size="4" fill="#333" text-anchor="end">3</text><rect x="47" y="19.1" width="286.3" height="8" fill="#fff"/><text transform="translate(183.8 23.3) scale(1.133 1)" text-anchor="middle" font-size="12.2" font-weight="bold">Y<tspan font-size="8" dy="2.4">2</tspan><tspan dy="-2.4">: Vesicle size (nm)</tspan></text><text transform="translate(195.9 286.7) scale(1.074 1)" text-anchor="middle" font-size="12.2" font-weight="bold">X<tspan font-size="8" dy="2.4">1</tspan><tspan dy="-2.4">: SPC (mg)</tspan></text><text transform="translate(25.7 132) rotate(-90) scale(0.969 1)" text-anchor="middle" font-size="12.2" font-weight="bold">X<tspan font-size="8" dy="2.4">2</tspan><tspan dy="-2.4">: Span 60 (mg)</tspan></text><path d="M50.6 413.6L51.6 416L52.9 418.9L54.1 421.8L55.2 424.3L56.6 427.6L57.5 429.6L59.1 433.4L60 435.4L61.7 439.2L62.5 441.2L64.2 445.1L65 447L66.7 450.9L67.5 452.8L69 456.3L70 458.6L71.3 461.6L72.5 464.5L73.6 467L75 470.3L75.9 472.3L77.5 476.1L78.3 478L80 481.9L80.8 483.9L82.5 487.7L83.3 489.7L85 493.5L85.8 495.5L87.4 499.1L88.3 501.3L89.7 504.4L90.8 507.1L92 509.8L93.3 512.9L94.3 515.1L95.8 518.8L96.7 520.7L98.3 524.6L99.2 526.5L100.8 530.4L101.6 532.3L103.3 536.2L104.1 538.1L105.8 542L106.6 544L108.1 547.4L109.1 549.8L110.4 552.8L111.6 555.6M83.6 322.9L85.1 325.1L87.4 328.3L89 330.7L90.4 332.6L92 334.8L94.3 337.9L96.1 340.4L97.5 342.3L98.9 344.2L101.2 347.2L103.3 350L104.8 352L106.3 353.9L108.1 356.2L110.4 359.2L112.4 361.7L113.9 363.6L115.5 365.6L117.3 367.7L119.6 370.5L121.9 373.3L123.6 375.3L125.2 377.2L126.9 379.1L128.8 381.3L131.1 383.9L133.4 386.5L135.5 388.8L137.3 390.8L139.1 392.7L140.9 394.6L142.8 396.6L144.9 398.7L147.2 401.1L149.5 403.4L151.8 405.7L154.1 407.9L156.4 410.1L158.5 412.1L160.6 414L162.7 416L164.9 417.9L167.1 419.9L169.3 421.8L171.6 423.7L173.9 425.7L176.3 427.6L178.7 429.6L181.2 431.5L183.7 433.4L186.3 435.4L188.5 437.1L190.8 438.7L193.1 440.4L195.4 442L197.7 443.5L200.1 445.1L203.1 447L206.1 448.9L209.2 450.9L211.5 452.3L213.8 453.6L216.1 454.9L219.3 456.7L222.9 458.6L225.3 459.9L227.6 461.1L230.5 462.5L234.5 464.4L236.8 465.5L239.1 466.6L243.2 468.3L246 469.5L248.3 470.5L252.7 472.2L255.2 473.2L257.9 474.2L262.1 475.7L264.4 476.5L269 478L271.3 478.7L275.6 480L278.2 480.7L282.4 481.9L285.1 482.6L289.7 483.8L292 484.4L296.6 485.4L298.9 485.9L303.5 486.9L307.6 487.7L310.4 488.3L315 489.1L318.5 489.7L321.9 490.2L326.5 490.9M164.2 322.9L166.2 324.8L168.3 326.8L170.5 328.7L172.6 330.7L174.8 332.6L177.1 334.6L179.4 336.6L181.7 338.6L184 340.5L186.3 342.4L188.5 344.3L190.8 346.2L193.2 348.1L195.6 350L198.1 352L200.6 353.9L203.2 355.9L205.8 357.8L208.4 359.7L211.1 361.7L213.8 363.6L216.1 365.3L218.4 366.8L220.7 368.4L223 369.9L225.3 371.5L228.2 373.3L231.2 375.3L234.3 377.2L236.8 378.7L239.1 380.1L241.4 381.5L244.1 383L247.5 385L250.6 386.7L252.9 388L255.2 389.2L258.1 390.8L261.9 392.7L264.4 394L266.7 395.1L269.7 396.6L273.6 398.5L275.9 399.5L278.2 400.6L282.3 402.4L285.1 403.6L287.4 404.6L291.5 406.3L294.3 407.4L296.6 408.3L301.2 410.1L303.5 411L306.6 412.1L310.4 413.5L312.7 414.3L317.3 415.8L319.6 416.6L323.7 417.9L326.5 418.8M257.2 322.9L259.8 324.5L262.1 325.9L264.4 327.2L267 328.7L270.4 330.7L273.6 332.5L275.9 333.8L278.2 335L280.9 336.5L284.6 338.4L287.4 339.9L289.7 341.1L292.2 342.3L296.1 344.2L298.9 345.6L301.2 346.7L304.2 348.1L308.1 349.9L310.4 350.9L312.7 352L317.2 353.9L319.6 355L321.9 355.9L326.5 357.8L326.5 357.8" fill="none" stroke="#1a1a1a" stroke-width="0.8"/><rect x="50.6" y="322.9" width="275.9" height="232.7" fill="none" stroke="#555" stroke-width="0.8"/><text x="51" y="569.9" text-anchor="middle" class="tk">200</text><text x="42.7" y="559.1" text-anchor="end" class="tk">10</text><text x="120" y="569.9" text-anchor="middle" class="tk">250</text><text x="42.7" y="500.9" text-anchor="end" class="tk">15</text><text x="188.9" y="569.9" text-anchor="middle" class="tk">300</text><text x="42.7" y="442.8" text-anchor="end" class="tk">20</text><text x="257.9" y="569.9" text-anchor="middle" class="tk">350</text><text x="42.7" y="384.6" text-anchor="end" class="tk">25</text><text x="326.9" y="569.9" text-anchor="middle" class="tk">400</text><text x="42.7" y="326.4" text-anchor="end" class="tk">30</text><path d="M50.6 555.6v3.5M50.6 555.6h-3.5M119.6 555.6v3.5M50.6 497.4h-3.5M188.5 555.6v3.5M50.6 439.2h-3.5M257.5 555.6v3.5M50.6 381.1h-3.5M326.5 555.6v3.5M50.6 322.9h-3.5" stroke="#555" stroke-width="0.8" fill="none"/><rect x="74.5" y="478.3" width="10.5" height="5.2" fill="#fff" stroke="#444" stroke-width="0.6"/><text x="79.7" y="482.3" text-anchor="middle" font-size="4" fill="#666">180</text><rect x="173" y="424.7" width="10.5" height="5.2" fill="#fff" stroke="#444" stroke-width="0.6"/><text x="178.2" y="428.7" text-anchor="middle" font-size="4" fill="#666">200</text><rect x="229.8" y="373.5" width="10.5" height="5.2" fill="#fff" stroke="#444" stroke-width="0.6"/><text x="235" y="377.5" text-anchor="middle" font-size="4" fill="#666">220</text><rect x="283.6" y="336.8" width="10.5" height="5.2" fill="#fff" stroke="#444" stroke-width="0.6"/><text x="288.8" y="340.8" text-anchor="middle" font-size="4" fill="#666">240</text><circle cx="50.6" cy="322.9" r="2.5" fill="#bf0000" stroke="#700" stroke-width="0.5"/><circle cx="326.5" cy="322.9" r="2.5" fill="#bf0000" stroke="#700" stroke-width="0.5"/><circle cx="50.6" cy="555.6" r="2.5" fill="#bf0000" stroke="#700" stroke-width="0.5"/><circle cx="326.5" cy="555.6" r="2.5" fill="#bf0000" stroke="#700" stroke-width="0.5"/><circle cx="188.5" cy="439.2" r="2.5" fill="#bf0000" stroke="#700" stroke-width="0.5"/><text x="184.5" y="440.8" font-size="4" fill="#333" text-anchor="end">3</text><text transform="translate(185.4 317.7) scale(1.147 1)" text-anchor="middle" font-size="12.2" font-weight="bold">Y<tspan font-size="8" dy="2.4">2</tspan><tspan dy="-2.4">: Vesicle size (nm)</tspan></text><text transform="translate(197 582.2) scale(1.061 1)" text-anchor="middle" font-size="12.2" font-weight="bold">X<tspan font-size="8" dy="2.4">1</tspan><tspan dy="-2.4">: SPC (mg)</tspan></text><text transform="translate(20.8 434.3) rotate(-90) scale(0.968 1)" text-anchor="middle" font-size="12.2" font-weight="bold">X<tspan font-size="8" dy="2.4">3</tspan><tspan dy="-2.4">: SDC (mg)</tspan></text><path d="M61.2 849.6L63.4 847.7L65.7 845.7L67.9 843.8L70.2 841.8L72.4 839.9L74.7 838L76.9 836L79.2 834.1L81.4 832.2L83.6 830.2L85.9 828.3L88.1 826.3L90.3 824.4L92.5 822.5L94.7 820.5L96.9 818.6L99.1 816.6L101.3 814.7L103.5 812.8L105.7 810.8L107.9 808.9L110 807L112.2 805L114.5 803L116.8 800.9L119.1 798.8L121.3 796.8L123.6 794.7L125.9 792.6L128.2 790.5L130.5 788.4L132.8 786.3L135.1 784.1L137.4 782L139.7 779.9L141.8 777.9L143.9 775.9L145.9 774L148 772.1L150 770.1L152 768.2L154 766.3L156 764.3L158.1 762.3L160.4 760.1L162.7 757.8L165 755.5L167.2 753.2L169.5 750.9L171.6 748.8L173.5 746.9L175.4 744.9L177.3 743L179.1 741.1L181 739L183.3 736.6L185.6 734.1L187.9 731.6L189.9 729.4L191.6 727.5L193.4 725.5L195.1 723.6L197.1 721.3L199.4 718.6L201.7 715.9L203.3 713.9L204.9 712L206.5 710L208.6 707.5L210.9 704.6L212.6 702.3L214.1 700.3L215.6 698.4L217.7 695.5L219.8 692.6L221.2 690.7L222.6 688.7L224.6 685.7L226.5 682.9L227.8 681L229.2 678.8L231.5 675.1L232.7 673.2L233.9 671.3L236.1 667.5L237.3 665.5L238.4 663.5L240.6 659.6L241.6 657.7L243 655.1L244.7 651.9L245.7 650L247.6 646.1L248.5 644.1L249.9 641.3L251.2 638.3L252.2 636.3L253.8 632.5L254.7 630.6L256.3 626.7L257.1 624.8L258.7 620.9L259.5 618.9L260.2 617M325.6 692.9L323.3 696.2L321.8 698.4L320.5 700.3L318.7 703L316.7 706.2L315.4 708.1L314.1 710.2L311.9 713.9L310.7 715.9L309.5 717.9L307.4 721.7L306.3 723.6L304.9 726.1L303.2 729.4L302.2 731.4L300.4 734.9L299.2 737.2L298.1 739.6L296.4 743L295.6 744.9L293.8 748.8L292.9 750.7L291.2 754.6L290.4 756.6L288.9 760.3L288 762.4L286.6 766L285.7 768.2L284.3 771.9L283.5 774L282.1 777.9L281.4 779.8L280 783.7L279.3 785.6L278 789.5L277.4 791.5L276.1 795.3L275.1 798.3L274.2 801.1L273 805L272.4 807L271.2 810.8L270.5 813.1L269.5 816.6L268.3 820.5L267.8 822.5L266.7 826.3L265.9 829L265 832.2L264 836L263.5 838L262.4 841.8L261.4 845.7L260.9 847.7L260.4 849.6M50.2 812.9L52.2 810.8L54 808.9L55.9 807L57.7 805L59.6 803.1L61.7 800.9L64 798.4L66.3 796L68.6 793.6L70.5 791.5L72.3 789.5L74.1 787.6L75.9 785.6L77.7 783.6L80 781.1L82.3 778.6L84.6 776L86.5 774L88.2 772.1L89.9 770.1L91.6 768.2L93.8 765.7L96.1 763.1L98.4 760.5L100.1 758.5L101.8 756.6L103.5 754.6L105.3 752.5L107.6 749.8L109.9 747.1L111.7 744.9L113.3 743L114.9 741.1L116.8 738.8L119.1 736L121.2 733.3L122.8 731.4L124.4 729.4L125.9 727.5L128.2 724.6L130.5 721.7L132 719.7L133.5 717.8L135.1 715.7L137.4 712.7L139.5 710L140.9 708.1L142.4 706.2L144.3 703.6L146.6 700.5L148.1 698.4L149.5 696.5L151.2 694.1L153.5 690.9L155 688.7L156.4 686.8L158.1 684.4L160.4 681.1L161.8 679L163.1 677.1L165 674.3L167 671.3L168.3 669.3L169.5 667.4L171.8 663.9L173.3 661.6L174.6 659.6L176.4 656.7L178.2 653.8L179.4 651.9L181 649.3L183 646.1L184.2 644.1L185.6 641.7L187.6 638.3L188.8 636.4L190.2 633.9L192.1 630.6L193.2 628.6L194.8 625.9L196.5 622.8L197.6 620.9L199.4 617.6L199.7 617M325.6 808.9L323.8 812.8L322.9 814.7L321.2 818.6L320.3 820.5L318.7 824.1L317.7 826.3L316.4 829.3L315.2 832.2L314.1 834.6L312.7 838L311.8 840L310.3 843.8L309.5 845.7L307.9 849.6M50.2 770.1L52.5 767.4L54.8 764.7L56.7 762.4L58.3 760.4L59.9 758.5L61.7 756.4L64 753.6L66.3 750.8L67.9 748.8L69.4 746.9L71 744.9L73.2 742.3L75.4 739.4L77.2 737.2L78.7 735.2L80.3 733.3L82.3 730.7L84.6 727.7L86.3 725.5L87.8 723.6L89.3 721.7L91.5 718.8L93.7 715.9L95.2 713.9L96.6 712L98.4 709.6L100.7 706.5L102.4 704.2L103.8 702.3L105.3 700.3L107.6 697.1L109.4 694.5L110.8 692.6L112.2 690.7L114.5 687.5L116.3 684.8L117.7 682.9L119.1 680.9L121.3 677.6L123 675.1L124.3 673.2L125.9 670.8L128.2 667.4L129.6 665.5L130.8 663.5L132.8 660.5L134.7 657.7L135.9 655.8L137.4 653.5L139.7 650L140.9 648L142.1 646.1L144.3 642.7L145.8 640.3L147 638.3L148.9 635.3L150.6 632.5L151.8 630.6L153.5 627.7L155.3 624.8L156.4 622.8L158.1 620L159.8 617M50.2 730L52.2 727.5L53.6 725.5L55.1 723.6L57.1 721L59.4 718L61 715.9L62.4 713.9L64 711.8L66.3 708.7L68.1 706.2L69.6 704.2L71 702.3L73.2 699.3L75.2 696.5L76.6 694.5L78 692.6L80 689.7L82.1 686.8L83.5 684.8L84.8 682.9L86.9 679.9L88.9 677.1L90.2 675.1L91.5 673.2L93.8 669.9L95.5 667.4L96.8 665.5L98.4 663.1L100.7 659.7L102 657.7L103.3 655.8L105.3 652.7L107.1 650L108.4 648L109.9 645.7L112.1 642.2L113.4 640.3L114.6 638.3L116.8 634.9L118.3 632.5L119.5 630.6L121.3 627.6L123.1 624.8L124.3 622.8L125.9 620.1L127.8 617M50.2 692.2L52.5 689L54.1 686.8L55.4 684.8L57.1 682.5L59.4 679.2L60.8 677.1L62.2 675.1L64 672.6L66.2 669.3L67.5 667.4L68.8 665.5L70.9 662.5L72.8 659.6L74.1 657.7L75.4 655.6L77.7 652.2L79.2 650L80.5 648L82.3 645.2L84.3 642.2L85.5 640.3L86.9 638.1L89.2 634.6L90.5 632.5L91.8 630.6L93.8 627.3L95.4 624.8L96.7 622.8L98.4 620L100.3 617M50.2 656.3L51.8 653.8L53.1 651.9L54.8 649.4L57 646.1L58.3 644.1L59.6 642.2L61.7 639L63.4 636.4L64.6 634.4L66.3 631.9L68.4 628.6L69.6 626.7L70.9 624.7L73.2 621.1L74.5 618.9L75.7 617" fill="none" stroke="#1a1a1a" stroke-width="0.8"/><rect x="50.2" y="617" width="275.4" height="232.6" fill="none" stroke="#555" stroke-width="0.8"/><text x="50.6" y="863.9" text-anchor="middle" class="tk">40</text><text x="42.3" y="853.1" text-anchor="end" class="tk">10</text><text x="119.5" y="863.9" text-anchor="middle" class="tk">45</text><text x="42.3" y="795" text-anchor="end" class="tk">15</text><text x="188.3" y="863.9" text-anchor="middle" class="tk">50</text><text x="42.3" y="736.8" text-anchor="end" class="tk">20</text><text x="257.1" y="863.9" text-anchor="middle" class="tk">55</text><text x="42.3" y="678.6" text-anchor="end" class="tk">25</text><text x="326" y="863.9" text-anchor="middle" class="tk">60</text><text x="42.3" y="620.5" text-anchor="end" class="tk">30</text><path d="M50.2 849.6v3.5M50.2 849.6h-3.5M119.1 849.6v3.5M50.2 791.5h-3.5M187.9 849.6v3.5M50.2 733.3h-3.5M256.8 849.6v3.5M50.2 675.1h-3.5M325.6 849.6v3.5M50.2 617h-3.5" stroke="#555" stroke-width="0.8" fill="none"/><rect x="58.8" y="631.8" width="10.5" height="5.2" fill="#fff" stroke="#444" stroke-width="0.6"/><text x="64" y="635.8" text-anchor="middle" font-size="4" fill="#666">300</text><rect x="71.4" y="649.9" width="10.5" height="5.2" fill="#fff" stroke="#444" stroke-width="0.6"/><text x="76.6" y="653.9" text-anchor="middle" font-size="4" fill="#666">280</text><rect x="85.5" y="669.9" width="10.5" height="5.2" fill="#fff" stroke="#444" stroke-width="0.6"/><text x="90.7" y="673.9" text-anchor="middle" font-size="4" fill="#666">260</text><rect x="104.3" y="690" width="10.5" height="5.2" fill="#fff" stroke="#444" stroke-width="0.6"/><text x="109.5" y="694" text-anchor="middle" font-size="4" fill="#666">240</text><rect x="127.6" y="714" width="10.5" height="5.2" fill="#fff" stroke="#444" stroke-width="0.6"/><text x="132.8" y="718" text-anchor="middle" font-size="4" fill="#666">220</text><rect x="169.8" y="739.4" width="10.5" height="5.2" fill="#fff" stroke="#444" stroke-width="0.6"/><text x="175" y="743.4" text-anchor="middle" font-size="4" fill="#666">200</text><rect x="282" y="760" width="10.5" height="5.2" fill="#fff" stroke="#444" stroke-width="0.6"/><text x="287.2" y="764" text-anchor="middle" font-size="4" fill="#666">200</text><rect x="311.4" y="824.9" width="10.5" height="5.2" fill="#fff" stroke="#444" stroke-width="0.6"/><text x="316.6" y="828.9" text-anchor="middle" font-size="4" fill="#666">220</text><circle cx="50.2" cy="617" r="2.5" fill="#bf0000" stroke="#700" stroke-width="0.5"/><circle cx="325.6" cy="617" r="2.5" fill="#bf0000" stroke="#700" stroke-width="0.5"/><circle cx="50.2" cy="849.6" r="2.5" fill="#bf0000" stroke="#700" stroke-width="0.5"/><circle cx="325.6" cy="849.6" r="2.5" fill="#bf0000" stroke="#700" stroke-width="0.5"/><circle cx="187.9" cy="733.3" r="2.5" fill="#bf0000" stroke="#700" stroke-width="0.5"/><text x="183.9" y="734.8" font-size="4" fill="#333" text-anchor="end">3</text><text transform="translate(185 612.1) scale(1.147 1)" text-anchor="middle" font-size="12.2" font-weight="bold">Y<tspan font-size="8" dy="2.4">2</tspan><tspan dy="-2.4">: Vesicle size (nm)</tspan></text><text transform="translate(206.5 876.7) scale(1.067 1)" text-anchor="middle" font-size="12.2" font-weight="bold">X<tspan font-size="8" dy="2.4">2</tspan><tspan dy="-2.4">: Span 60 (mg)</tspan></text><text transform="translate(20.8 728.9) rotate(-90) scale(0.973 1)" text-anchor="middle" font-size="12.2" font-weight="bold">X<tspan font-size="8" dy="2.4">3</tspan><tspan dy="-2.4">: SDC (mg)</tspan></text><text x="1" y="10.3" font-size="12.5">(A)</text><text x="357" y="10.5" font-size="12.5">(B)</text><g><path d="M407.5 202L540.8 156.9L540.8 11.6L398.3 40Z" fill="#fff"/><path d="M674.3 201.5L540.8 156.9L540.8 11.6L683.1 39.1Z" fill="#fff"/><path d="M405.3 163.9L540.8 122.7L676.4 163.3M403.6 132.9L540.8 94.9L678.1 132.3M401.8 102L540.8 67.2L679.7 101.2M400.1 71L540.8 39.4L681.4 70.2M398.3 40L540.8 11.6L683.1 39.1M407.5 202L398.3 40M674.3 201.5L683.1 39.1M439.2 153.6L433.9 32.9M642.5 153.2L647.5 32.2M473.1 143.3L469.5 25.8M608.6 143L612 25.3M506.9 133L505.2 18.7M574.7 132.9L576.4 18.5M540.8 156.9L540.8 11.6" fill="none" stroke="#3c3c3c" stroke-width="0.75"/><path d="M407.5 202L540.8 156.9L674.3 201.5L540.8 258.4Z" fill="#696969" stroke="#222" stroke-width="0.9"/><path d="M428.2 195L430.9 195.4L435.8 196.1L438.3 196.6L441.1 197.1L445.4 197.9L447.6 198.3L452 199.3L454.7 200L458 201L461.7 202.2L465.2 203.5L468.3 204.9L471 206.5L472.2 207.3L474.4 209.1L475.3 210.1L476.3 211.4L477.3 213.1L477.8 214.3L478.2 215.5L478.3 216.7L478.4 218L478.3 219.3L478.1 220.7L477.7 222.2L477.2 223.5L476.8 224.6L476.3 225.7L475.6 227L474.6 228.7L473.7 230" fill="none" stroke="#124aed" stroke-width="1.4"/><path d="M454.5 186.1L457.5 186.3L461.3 186.6L465.2 186.9L469.1 187.2L471.9 187.5L474.7 187.7L477.6 188L482 188.5L485.3 188.9L487.9 189.2L491.9 189.8L495.1 190.3L497.7 190.8L501.8 191.7L505.6 192.6L507.8 193.2L511.3 194.4L514.5 195.7L515.9 196.5L518.3 198.1L519.4 199.1L520.9 200.9L521.5 201.9L521.9 203L522.1 204.2L522.2 205.4L522.1 206.7L521.8 208.1L521.3 209.6L520.7 211L520.1 212.1L519.5 213.1L518.6 214.5L517.4 216.2L516.6 217.2L515.7 218.2L514.1 220.1L513.2 221L512 222.3L510.4 223.9L509.4 224.8L507.4 226.6L506.4 227.6L504.6 229.1L503.3 230.3L501.8 231.6L500.1 233L498.7 234.2L496.8 235.7L495.4 236.8L493.4 238.3" fill="none" stroke="#12a8ed" stroke-width="1.4"/><path d="M483.3 176.4L486.8 176.4L490.3 176.3L493.8 176.3L497.2 176.3L500.7 176.3L504.1 176.3L507.4 176.4L510.7 176.4L514 176.4L517.3 176.4L520.7 176.4L524 176.4L527.4 176.5L530.8 176.5L534 176.6L537.2 176.6L540.3 176.7L543.4 176.8L546.4 176.9L549.4 177L552.7 177.1L556.7 177.3L560.8 177.6L563.5 177.8L566.1 178L570.7 178.6L573.2 179L577.3 179.8L580.8 180.9L583.6 182.3L585.1 183.6L586 185L586.2 186.1L586.2 187.4L585.8 188.7L585.3 189.7L584.7 190.7L583.9 191.9L582.5 193.7L581.6 194.6L580.5 195.7L578.8 197.3L577.8 198.2L575.8 200L574.7 200.8L572.5 202.6L571.4 203.4L569.2 205.1L568 206L565.7 207.7L564.5 208.5L562.2 210.2L561 211L558.5 212.7L556.8 213.9L554.9 215.2L552.4 216.8L551.2 217.7L548.7 219.3L547.1 220.4L544.9 221.8L542.3 223.4L541.1 224.2L538.5 225.9L536.3 227.3L534.7 228.3L532.1 230L530.6 230.9L528.2 232.4L525.6 234.1L524.3 234.9L521.7 236.5L519.1 238.2L517.7 239L515.1 240.6L512.5 242.3L511.2 243.1L508.5 244.7" fill="none" stroke="#12edd2" stroke-width="1.4"/><path d="M642.5 190.9L639.2 192.2L635.8 193.6L632.5 194.9L629.7 196.1L627.6 197L624.4 198.4L621.2 199.8L618 201.2L614.8 202.6L611.7 204L608.6 205.5L605.5 206.9L602.4 208.4L600.3 209.4L597.8 210.5L594.7 212L591.7 213.5L588.7 214.9L585.6 216.4L583.5 217.5L581.1 218.6L578.1 220.1L575.2 221.6L572.2 223.1L569.6 224.5L567.8 225.4L564.8 226.9L561.9 228.4L558.9 230L557.1 230.9L554.5 232.2L551.6 233.8L548.7 235.3L545.8 236.9L544.3 237.6L541.4 239.2L538.5 240.7L535.6 242.3L534.2 243.1L531.3 244.6L528.4 246.2L525.5 247.8L523.9 248.6L521.2 250.1M515.3 165.5L518.9 165.3L521.6 165.1L524.4 164.9L528.1 164.6L532.4 164.3L535.2 164.1L537.9 163.9L541.1 163.6L545.5 163.2L548.7 162.9L551.3 162.7L554.5 162.4L556.6 162.2" fill="none" stroke="#12ed72" stroke-width="1.4"/><path d="M663.7 198L660 199.2L656.3 200.5L652.7 201.8L650.9 202.5L647.3 203.8L643.8 205.1L640.2 206.4L636.7 207.8L633.3 209.1L629.8 210.5L626.4 211.8L623 213.2L619.6 214.6L616.2 216L612.9 217.4L609.6 218.8L606.3 220.2L603 221.6L599.7 223L596.5 224.4L593.2 225.9L590 227.3L586.8 228.7L583.6 230.2L580.4 231.6L577.2 233.1L574.1 234.6L572.4 235.4L569.4 236.8L566.2 238.3L563.1 239.7L560 241.2L556.9 242.7L553.8 244.2L550.8 245.7L549.2 246.5L546.1 248L543.1 249.5L540 251L537 252.6L534 254.1L532.5 254.9" fill="none" stroke="#12ed12" stroke-width="1.4"/><g stroke="#111" stroke-width="0.45" stroke-linejoin="round"><path d="M540.8 80.1L546.3 77.4L540.8 73.6L535.3 76.4Z" fill="#00ff37"/><path d="M546.3 83.7L551.9 81L546.3 77.4L540.8 80.1Z" fill="#00ff53"/><path d="M551.8 87L557.4 84.4L551.9 81L546.3 83.7Z" fill="#00ff6c"/><path d="M557.4 90.2L562.9 87.6L557.4 84.4L551.8 87Z" fill="#00ff82"/><path d="M562.9 93.1L568.4 90.5L562.9 87.6L557.4 90.2Z" fill="#00ff95"/><path d="M568.4 95.8L573.9 93.3L568.4 90.5L562.9 93.1Z" fill="#00ffa6"/><path d="M573.9 98.2L579.4 95.8L573.9 93.3L568.4 95.8Z" fill="#00ffb4"/><path d="M579.4 100.5L584.9 98.1L579.4 95.8L573.9 98.2Z" fill="#00ffbf"/><path d="M584.9 102.5L590.4 100.1L584.9 98.1L579.4 100.5Z" fill="#00ffc7"/><path d="M590.4 104.2L595.9 101.9L590.4 100.1L584.9 102.5Z" fill="#00ffcc"/><path d="M595.9 105.8L601.4 103.5L595.9 101.9L590.4 104.2Z" fill="#00ffcf"/><path d="M601.4 107.1L606.9 104.9L601.4 103.5L595.9 105.8Z" fill="#00ffce"/><path d="M606.9 108.1L612.4 105.9L606.9 104.9L601.4 107.1Z" fill="#00ffcb"/><path class="a" d="M612.4 108.9L617.9 106.8L612.4 105.9L606.9 108.1Z" fill="#00ffc5"/><path class="a" d="M618 109.4L623.5 107.4L617.9 106.8L612.4 108.9Z" fill="#00ffbc"/><path class="a" d="M623.5 109.7L629 107.7L623.5 107.4L618 109.4Z" fill="#00ffb0"/><path class="a" d="M629.1 109.8L634.6 107.8L629 107.7L623.5 109.7Z" fill="#00ffa2"/><path class="a" d="M634.7 109.5L640.2 107.6L634.6 107.8L629.1 109.8Z" fill="#00ff90"/><path class="b" d="M640.3 109L645.8 107.2L640.2 107.6L634.7 109.5Z" fill="#00ff7c"/><path class="b" d="M645.9 108.3L651.4 106.5L645.8 107.2L640.3 109Z" fill="#00ff65"/><path class="b" d="M651.5 107.2L657.1 105.5L651.4 106.5L645.9 108.3Z" fill="#00ff4b"/><path class="b" d="M657.2 105.9L662.7 104.3L657.1 105.5L651.5 107.2Z" fill="#00ff2e"/><path class="b" d="M662.9 104.3L668.4 102.8L662.7 104.3L657.2 105.9Z" fill="#00ff0f"/><path class="b" d="M668.6 102.4L674.1 101L668.4 102.8L662.9 104.3Z" fill="#11ff00"/><path class="b" d="M674.3 100.3L679.9 98.9L674.1 101L668.6 102.4Z" fill="#32ff00"/><path d="M535.3 82.9L540.8 80.1L535.3 76.4L529.7 79.1Z" fill="#00ff46"/><path d="M540.8 86.4L546.3 83.7L540.8 80.1L535.3 82.9Z" fill="#00ff62"/><path d="M546.3 89.7L551.8 87L546.3 83.7L540.8 86.4Z" fill="#00ff7a"/><path d="M551.8 92.8L557.4 90.2L551.8 87L546.3 89.7Z" fill="#00ff8f"/><path d="M557.3 95.7L562.9 93.1L557.4 90.2L551.8 92.8Z" fill="#00ffa2"/><path d="M562.8 98.3L568.4 95.8L562.9 93.1L557.3 95.7Z" fill="#00ffb2"/><path d="M568.3 100.7L573.9 98.2L568.4 95.8L562.8 98.3Z" fill="#00ffbf"/><path d="M573.8 102.9L579.4 100.5L573.9 98.2L568.3 100.7Z" fill="#00ffc9"/><path d="M579.3 104.9L584.9 102.5L579.4 100.5L573.8 102.9Z" fill="#00ffd0"/><path d="M584.8 106.6L590.4 104.2L584.9 102.5L579.3 104.9Z" fill="#00ffd4"/><path d="M590.3 108.1L595.9 105.8L590.4 104.2L584.8 106.6Z" fill="#00ffd6"/><path d="M595.9 109.3L601.4 107.1L595.9 105.8L590.3 108.1Z" fill="#00ffd5"/><path d="M601.4 110.3L606.9 108.1L601.4 107.1L595.9 109.3Z" fill="#00ffd1"/><path class="a" d="M606.9 111L612.4 108.9L606.9 108.1L601.4 110.3Z" fill="#00ffca"/><path class="a" d="M612.4 111.5L618 109.4L612.4 108.9L606.9 111Z" fill="#00ffc0"/><path class="a" d="M618 111.7L623.5 109.7L618 109.4L612.4 111.5Z" fill="#00ffb3"/><path class="a" d="M623.6 111.7L629.1 109.8L623.5 109.7L618 111.7Z" fill="#00ffa4"/><path class="a" d="M629.1 111.4L634.7 109.5L629.1 109.8L623.6 111.7Z" fill="#00ff92"/><path class="b" d="M634.7 110.9L640.3 109L634.7 109.5L629.1 111.4Z" fill="#00ff7c"/><path class="b" d="M640.4 110L645.9 108.3L640.3 109L634.7 110.9Z" fill="#00ff65"/><path class="b" d="M646 108.9L651.5 107.2L645.9 108.3L640.4 110Z" fill="#00ff4a"/><path class="b" d="M651.7 107.5L657.2 105.9L651.5 107.2L646 108.9Z" fill="#00ff2c"/><path class="b" d="M657.3 105.9L662.9 104.3L657.2 105.9L651.7 107.5Z" fill="#00ff0c"/><path class="b" d="M663 103.9L668.6 102.4L662.9 104.3L657.3 105.9Z" fill="#15ff00"/><path class="b" d="M668.8 101.7L674.3 100.3L668.6 102.4L663 103.9Z" fill="#36ff00"/><path d="M529.7 85.6L535.3 82.9L529.7 79.1L524.2 81.9Z" fill="#00ff57"/><path d="M535.3 89.1L540.8 86.4L535.3 82.9L529.7 85.6Z" fill="#00ff71"/><path d="M540.8 92.4L546.3 89.7L540.8 86.4L535.3 89.1Z" fill="#00ff88"/><path d="M546.3 95.4L551.8 92.8L546.3 89.7L540.8 92.4Z" fill="#00ff9d"/><path d="M551.8 98.3L557.3 95.7L551.8 92.8L546.3 95.4Z" fill="#00ffaf"/><path d="M557.3 100.9L562.8 98.3L557.3 95.7L551.8 98.3Z" fill="#00ffbe"/><path d="M562.8 103.3L568.3 100.7L562.8 98.3L557.3 100.9Z" fill="#00ffca"/><path d="M568.3 105.4L573.8 102.9L568.3 100.7L562.8 103.3Z" fill="#00ffd3"/><path d="M573.8 107.3L579.3 104.9L573.8 102.9L568.3 105.4Z" fill="#00ffd9"/><path d="M579.3 109L584.8 106.6L579.3 104.9L573.8 107.3Z" fill="#00ffdd"/><path d="M584.8 110.4L590.3 108.1L584.8 106.6L579.3 109Z" fill="#00ffde"/><path d="M590.3 111.6L595.9 109.3L590.3 108.1L584.8 110.4Z" fill="#00ffdb"/><path class="a" d="M595.9 112.5L601.4 110.3L595.9 109.3L590.3 111.6Z" fill="#00ffd7"/><path class="a" d="M601.4 113.2L606.9 111L601.4 110.3L595.9 112.5Z" fill="#00ffcf"/><path class="a" d="M606.9 113.6L612.4 111.5L606.9 111L601.4 113.2Z" fill="#00ffc4"/><path class="a" d="M612.5 113.8L618 111.7L612.4 111.5L606.9 113.6Z" fill="#00ffb7"/><path class="a" d="M618 113.7L623.6 111.7L618 111.7L612.5 113.8Z" fill="#00ffa6"/><path class="a" d="M623.6 113.4L629.1 111.4L623.6 111.7L618 113.7Z" fill="#00ff93"/><path class="b" d="M629.2 112.7L634.7 110.9L629.1 111.4L623.6 113.4Z" fill="#00ff7d"/><path class="b" d="M634.8 111.8L640.4 110L634.7 110.9L629.2 112.7Z" fill="#00ff65"/><path class="b" d="M640.5 110.7L646 108.9L640.4 110L634.8 111.8Z" fill="#00ff49"/><path class="b" d="M646.1 109.2L651.7 107.5L646 108.9L640.5 110.7Z" fill="#00ff2a"/><path class="b" d="M651.8 107.5L657.3 105.9L651.7 107.5L646.1 109.2Z" fill="#00ff09"/><path class="b" d="M657.5 105.5L663 103.9L657.3 105.9L651.8 107.5Z" fill="#18ff00"/><path class="b" d="M663.2 103.2L668.8 101.7L663 103.9L657.5 105.5Z" fill="#3aff00"/><path d="M524.2 88.4L529.7 85.6L524.2 81.9L518.7 84.8Z" fill="#00ff67"/><path d="M529.8 91.9L535.3 89.1L529.7 85.6L524.2 88.4Z" fill="#00ff81"/><path d="M535.3 95.1L540.8 92.4L535.3 89.1L529.8 91.9Z" fill="#00ff97"/><path d="M540.8 98.1L546.3 95.4L540.8 92.4L535.3 95.1Z" fill="#00ffab"/><path d="M546.3 100.9L551.8 98.3L546.3 95.4L540.8 98.1Z" fill="#00ffbc"/><path d="M551.8 103.5L557.3 100.9L551.8 98.3L546.3 100.9Z" fill="#00ffca"/><path d="M557.3 105.8L562.8 103.3L557.3 100.9L551.8 103.5Z" fill="#00ffd5"/><path d="M562.8 107.9L568.3 105.4L562.8 103.3L557.3 105.8Z" fill="#00ffdd"/><path d="M568.3 109.8L573.8 107.3L568.3 105.4L562.8 107.9Z" fill="#00ffe3"/><path d="M573.8 111.4L579.3 109L573.8 107.3L568.3 109.8Z" fill="#00ffe6"/><path d="M579.3 112.8L584.8 110.4L579.3 109L573.8 111.4Z" fill="#00ffe6"/><path d="M584.8 113.9L590.3 111.6L584.8 110.4L579.3 112.8Z" fill="#00ffe3"/><path class="a" d="M590.3 114.8L595.9 112.5L590.3 111.6L584.8 113.9Z" fill="#00ffdd"/><path class="a" d="M595.9 115.4L601.4 113.2L595.9 112.5L590.3 114.8Z" fill="#00ffd4"/><path class="a" d="M601.4 115.8L606.9 113.6L601.4 113.2L595.9 115.4Z" fill="#00ffc9"/><path class="a" d="M607 115.9L612.5 113.8L606.9 113.6L601.4 115.8Z" fill="#00ffba"/><path class="a" d="M612.5 115.7L618 113.7L612.5 113.8L607 115.9Z" fill="#00ffa9"/><path class="b" d="M618.1 115.3L623.6 113.4L618 113.7L612.5 115.7Z" fill="#00ff95"/><path class="b" d="M623.7 114.6L629.2 112.7L623.6 113.4L618.1 115.3Z" fill="#00ff7f"/><path class="b" d="M629.3 113.7L634.8 111.8L629.2 112.7L623.7 114.6Z" fill="#00ff65"/><path class="b" d="M634.9 112.4L640.5 110.7L634.8 111.8L629.3 113.7Z" fill="#00ff48"/><path class="b" d="M640.6 110.9L646.1 109.2L640.5 110.7L634.9 112.4Z" fill="#00ff29"/><path class="b" d="M646.3 109.1L651.8 107.5L646.1 109.2L640.6 110.9Z" fill="#00ff07"/><path class="b" d="M652 107L657.5 105.5L651.8 107.5L646.3 109.1Z" fill="#1aff00"/><path class="b" d="M657.7 104.6L663.2 103.2L657.5 105.5L652 107Z" fill="#3dff00"/><path d="M518.7 91.3L524.2 88.4L518.7 84.8L513.2 87.7Z" fill="#00ff78"/><path d="M524.3 94.7L529.8 91.9L524.2 88.4L518.7 91.3Z" fill="#00ff91"/><path d="M529.8 97.9L535.3 95.1L529.8 91.9L524.3 94.7Z" fill="#00ffa6"/><path d="M535.3 100.9L540.8 98.1L535.3 95.1L529.8 97.9Z" fill="#00ffb9"/><path d="M540.8 103.6L546.3 100.9L540.8 98.1L535.3 100.9Z" fill="#00ffc9"/><path d="M546.3 106.2L551.8 103.5L546.3 100.9L540.8 103.6Z" fill="#00ffd6"/><path d="M551.8 108.4L557.3 105.8L551.8 103.5L546.3 106.2Z" fill="#00ffe1"/><path d="M557.3 110.5L562.8 107.9L557.3 105.8L551.8 108.4Z" fill="#00ffe8"/><path d="M562.8 112.3L568.3 109.8L562.8 107.9L557.3 110.5Z" fill="#00ffed"/><path d="M568.3 113.9L573.8 111.4L568.3 109.8L562.8 112.3Z" fill="#00ffef"/><path d="M573.8 115.2L579.3 112.8L573.8 111.4L568.3 113.9Z" fill="#00ffee"/><path d="M579.3 116.3L584.8 113.9L579.3 112.8L573.8 115.2Z" fill="#00ffea"/><path class="a" d="M584.8 117.1L590.3 114.8L584.8 113.9L579.3 116.3Z" fill="#00ffe4"/><path class="a" d="M590.4 117.7L595.9 115.4L590.3 114.8L584.8 117.1Z" fill="#00ffda"/><path class="a" d="M595.9 118L601.4 115.8L595.9 115.4L590.4 117.7Z" fill="#00ffce"/><path class="a" d="M601.4 118L607 115.9L601.4 115.8L595.9 118Z" fill="#00ffbf"/><path class="a" d="M607 117.8L612.5 115.7L607 115.9L601.4 118Z" fill="#00ffad"/><path class="b" d="M612.6 117.3L618.1 115.3L612.5 115.7L607 117.8Z" fill="#00ff98"/><path class="b" d="M618.2 116.6L623.7 114.6L618.1 115.3L612.6 117.3Z" fill="#00ff80"/><path class="b" d="M623.8 115.5L629.3 113.7L623.7 114.6L618.2 116.6Z" fill="#00ff66"/><path class="b" d="M629.4 114.2L634.9 112.4L629.3 113.7L623.8 115.5Z" fill="#00ff48"/><path class="b" d="M635 112.6L640.6 110.9L634.9 112.4L629.4 114.2Z" fill="#00ff28"/><path class="b" d="M640.7 110.8L646.3 109.1L640.6 110.9L635 112.6Z" fill="#00ff05"/><path class="b" d="M646.4 108.6L652 107L646.3 109.1L640.7 110.8Z" fill="#1dff00"/><path class="b" d="M652.1 106.2L657.7 104.6L652 107L646.4 108.6Z" fill="#41ff00"/><path d="M513.2 94.2L518.7 91.3L513.2 87.7L507.7 90.6Z" fill="#00ff89"/><path d="M518.7 97.6L524.3 94.7L518.7 91.3L513.2 94.2Z" fill="#00ffa1"/><path d="M524.3 100.7L529.8 97.9L524.3 94.7L518.7 97.6Z" fill="#00ffb6"/><path d="M529.8 103.7L535.3 100.9L529.8 97.9L524.3 100.7Z" fill="#00ffc8"/><path d="M535.3 106.4L540.8 103.6L535.3 100.9L529.8 103.7Z" fill="#00ffd7"/><path d="M540.8 108.9L546.3 106.2L540.8 103.6L535.3 106.4Z" fill="#00ffe3"/><path d="M546.3 111.1L551.8 108.4L546.3 106.2L540.8 108.9Z" fill="#00ffed"/><path d="M551.8 113.1L557.3 110.5L551.8 108.4L546.3 111.1Z" fill="#00fff4"/><path d="M557.3 114.9L562.8 112.3L557.3 110.5L551.8 113.1Z" fill="#00fff8"/><path d="M562.8 116.4L568.3 113.9L562.8 112.3L557.3 114.9Z" fill="#00fff9"/><path d="M568.3 117.7L573.8 115.2L568.3 113.9L562.8 116.4Z" fill="#00fff7"/><path d="M573.8 118.7L579.3 116.3L573.8 115.2L568.3 117.7Z" fill="#00fff2"/><path class="a" d="M579.3 119.4L584.8 117.1L579.3 116.3L573.8 118.7Z" fill="#00ffeb"/><path class="a" d="M584.8 120L590.4 117.7L584.8 117.1L579.3 119.4Z" fill="#00ffe0"/><path class="a" d="M590.4 120.2L595.9 118L590.4 117.7L584.8 120Z" fill="#00ffd3"/><path class="a" d="M595.9 120.2L601.4 118L595.9 118L590.4 120.2Z" fill="#00ffc3"/><path class="a" d="M601.5 119.9L607 117.8L601.4 118L595.9 120.2Z" fill="#00ffb0"/><path class="b" d="M607 119.4L612.6 117.3L607 117.8L601.5 119.9Z" fill="#00ff9b"/><path class="b" d="M612.6 118.5L618.2 116.6L612.6 117.3L607 119.4Z" fill="#00ff82"/><path class="b" d="M618.2 117.5L623.8 115.5L618.2 116.6L612.6 118.5Z" fill="#00ff67"/><path class="b" d="M623.9 116.1L629.4 114.2L623.8 115.5L618.2 117.5Z" fill="#00ff49"/><path class="b" d="M629.5 114.4L635 112.6L629.4 114.2L623.9 116.1Z" fill="#00ff28"/><path class="b" d="M635.2 112.5L640.7 110.8L635 112.6L629.5 114.4Z" fill="#00ff04"/><path class="b" d="M640.9 110.2L646.4 108.6L640.7 110.8L635.2 112.5Z" fill="#1fff00"/><path class="b" d="M646.6 107.7L652.1 106.2L646.4 108.6L640.9 110.2Z" fill="#43ff00"/><path d="M507.7 97.1L513.2 94.2L507.7 90.6L502.2 93.6Z" fill="#00ff9b"/><path d="M513.3 100.5L518.7 97.6L513.2 94.2L507.7 97.1Z" fill="#00ffb2"/><path d="M518.8 103.6L524.3 100.7L518.7 97.6L513.3 100.5Z" fill="#00ffc6"/><path d="M524.3 106.5L529.8 103.7L524.3 100.7L518.8 103.6Z" fill="#00ffd7"/><path d="M529.8 109.2L535.3 106.4L529.8 103.7L524.3 106.5Z" fill="#00ffe5"/><path d="M535.3 111.6L540.8 108.9L535.3 106.4L529.8 109.2Z" fill="#00fff1"/><path d="M540.8 113.8L546.3 111.1L540.8 108.9L535.3 111.6Z" fill="#00fffa"/><path d="M546.3 115.7L551.8 113.1L546.3 111.1L540.8 113.8Z" fill="#00ffff"/><path d="M551.8 117.5L557.3 114.9L551.8 113.1L546.3 115.7Z" fill="#00fcff"/><path d="M557.3 118.9L562.8 116.4L557.3 114.9L551.8 117.5Z" fill="#00fcff"/><path d="M562.8 120.1L568.3 117.7L562.8 116.4L557.3 118.9Z" fill="#00feff"/><path d="M568.3 121.1L573.8 118.7L568.3 117.7L562.8 120.1Z" fill="#00fffa"/><path class="a" d="M573.8 121.8L579.3 119.4L573.8 118.7L568.3 121.1Z" fill="#00fff2"/><path class="a" d="M579.3 122.3L584.8 120L579.3 119.4L573.8 121.8Z" fill="#00ffe7"/><path class="a" d="M584.9 122.5L590.4 120.2L584.8 120L579.3 122.3Z" fill="#00ffd9"/><path class="a" d="M590.4 122.4L595.9 120.2L590.4 120.2L584.9 122.5Z" fill="#00ffc8"/><path class="a" d="M595.9 122.1L601.5 119.9L595.9 120.2L590.4 122.4Z" fill="#00ffb4"/><path class="b" d="M601.5 121.4L607 119.4L601.5 119.9L595.9 122.1Z" fill="#00ff9e"/><path class="b" d="M607.1 120.6L612.6 118.5L607 119.4L601.5 121.4Z" fill="#00ff84"/><path class="b" d="M612.7 119.4L618.2 117.5L612.6 118.5L607.1 120.6Z" fill="#00ff68"/><path class="b" d="M618.3 117.9L623.9 116.1L618.2 117.5L612.7 119.4Z" fill="#00ff49"/><path class="b" d="M624 116.2L629.5 114.4L623.9 116.1L618.3 117.9Z" fill="#00ff27"/><path class="b" d="M629.6 114.2L635.2 112.5L629.5 114.4L624 116.2Z" fill="#00ff03"/><path class="b" d="M635.3 111.9L640.9 110.2L635.2 112.5L629.6 114.2Z" fill="#20ff00"/><path class="b" d="M641 109.3L646.6 107.7L640.9 110.2L635.3 111.9Z" fill="#46ff00"/><path d="M502.2 100.1L507.7 97.1L502.2 93.6L496.7 96.6Z" fill="#00ffad"/><path d="M507.8 103.4L513.3 100.5L507.7 97.1L502.2 100.1Z" fill="#00ffc3"/><path d="M513.3 106.5L518.8 103.6L513.3 100.5L507.8 103.4Z" fill="#00ffd6"/><path d="M518.8 109.4L524.3 106.5L518.8 103.6L513.3 106.5Z" fill="#00ffe7"/><path d="M524.3 112L529.8 109.2L524.3 106.5L518.8 109.4Z" fill="#00fff4"/><path d="M529.8 114.4L535.3 111.6L529.8 109.2L524.3 112Z" fill="#00ffff"/><path d="M535.3 116.5L540.8 113.8L535.3 111.6L529.8 114.4Z" fill="#00f8ff"/><path d="M540.8 118.4L546.3 115.7L540.8 113.8L535.3 116.5Z" fill="#00f3ff"/><path d="M546.3 120.1L551.8 117.5L546.3 115.7L540.8 118.4Z" fill="#00f1ff"/><path d="M551.8 121.5L557.3 118.9L551.8 117.5L546.3 120.1Z" fill="#00f1ff"/><path d="M557.3 122.7L562.8 120.1L557.3 118.9L551.8 121.5Z" fill="#00f5ff"/><path d="M562.8 123.6L568.3 121.1L562.8 120.1L557.3 122.7Z" fill="#00fbff"/><path class="a" d="M568.3 124.2L573.8 121.8L568.3 121.1L562.8 123.6Z" fill="#00fffa"/><path class="a" d="M573.8 124.6L579.3 122.3L573.8 121.8L568.3 124.2Z" fill="#00ffee"/><path class="a" d="M579.3 124.8L584.9 122.5L579.3 122.3L573.8 124.6Z" fill="#00ffdf"/><path class="a" d="M584.9 124.6L590.4 122.4L584.9 122.5L579.3 124.8Z" fill="#00ffcd"/><path class="a" d="M590.4 124.2L595.9 122.1L590.4 122.4L584.9 124.6Z" fill="#00ffb9"/><path class="b" d="M596 123.6L601.5 121.4L595.9 122.1L590.4 124.2Z" fill="#00ffa1"/><path class="b" d="M601.6 122.6L607.1 120.6L601.5 121.4L596 123.6Z" fill="#00ff87"/><path class="b" d="M607.2 121.4L612.7 119.4L607.1 120.6L601.6 122.6Z" fill="#00ff6a"/><path class="b" d="M612.8 119.9L618.3 117.9L612.7 119.4L607.2 121.4Z" fill="#00ff4a"/><path class="b" d="M618.4 118.1L624 116.2L618.3 117.9L612.8 119.9Z" fill="#00ff28"/><path class="b" d="M624.1 116L629.6 114.2L624 116.2L618.4 118.1Z" fill="#00ff02"/><path class="b" d="M629.8 113.6L635.3 111.9L629.6 114.2L624.1 116Z" fill="#22ff00"/><path class="b" d="M635.5 110.9L641 109.3L635.3 111.9L629.8 113.6Z" fill="#48ff00"/><path d="M496.8 103.2L502.2 100.1L496.7 96.6L491.2 99.7Z" fill="#00ffbf"/><path d="M502.3 106.4L507.8 103.4L502.2 100.1L496.8 103.2Z" fill="#00ffd5"/><path d="M507.8 109.5L513.3 106.5L507.8 103.4L502.3 106.4Z" fill="#00ffe7"/><path d="M513.3 112.3L518.8 109.4L513.3 106.5L507.8 109.5Z" fill="#00fff6"/><path d="M518.8 114.9L524.3 112L518.8 109.4L513.3 112.3Z" fill="#00fbff"/><path d="M524.3 117.2L529.8 114.4L524.3 112L518.8 114.9Z" fill="#00f2ff"/><path d="M529.8 119.3L535.3 116.5L529.8 114.4L524.3 117.2Z" fill="#00ebff"/><path d="M535.3 121.2L540.8 118.4L535.3 116.5L529.8 119.3Z" fill="#00e7ff"/><path d="M540.8 122.8L546.3 120.1L540.8 118.4L535.3 121.2Z" fill="#00e5ff"/><path d="M546.3 124.1L551.8 121.5L546.3 120.1L540.8 122.8Z" fill="#00e7ff"/><path d="M551.8 125.2L557.3 122.7L551.8 121.5L546.3 124.1Z" fill="#00ebff"/><path d="M557.3 126.1L562.8 123.6L557.3 122.7L551.8 125.2Z" fill="#00f2ff"/><path class="a" d="M562.8 126.7L568.3 124.2L562.8 123.6L557.3 126.1Z" fill="#00fcff"/><path class="a" d="M568.3 127L573.8 124.6L568.3 124.2L562.8 126.7Z" fill="#00fff5"/><path class="a" d="M573.8 127.1L579.3 124.8L573.8 124.6L568.3 127Z" fill="#00ffe6"/><path class="a" d="M579.4 126.9L584.9 124.6L579.3 124.8L573.8 127.1Z" fill="#00ffd3"/><path class="a" d="M584.9 126.4L590.4 124.2L584.9 124.6L579.4 126.9Z" fill="#00ffbe"/><path class="b" d="M590.5 125.7L596 123.6L590.4 124.2L584.9 126.4Z" fill="#00ffa5"/><path class="b" d="M596 124.7L601.6 122.6L596 123.6L590.5 125.7Z" fill="#00ff8a"/><path class="b" d="M601.6 123.4L607.2 121.4L601.6 122.6L596 124.7Z" fill="#00ff6c"/><path class="b" d="M607.2 121.8L612.8 119.9L607.2 121.4L601.6 123.4Z" fill="#00ff4c"/><path class="b" d="M612.9 119.9L618.4 118.1L612.8 119.9L607.2 121.8Z" fill="#00ff28"/><path class="b" d="M618.5 117.8L624.1 116L618.4 118.1L612.9 119.9Z" fill="#00ff02"/><path class="b" d="M624.2 115.3L629.8 113.6L624.1 116L618.5 117.8Z" fill="#23ff00"/><path class="b" d="M629.9 112.5L635.5 110.9L629.8 113.6L624.2 115.3Z" fill="#4aff00"/><path d="M491.3 106.2L496.8 103.2L491.2 99.7L485.7 102.8Z" fill="#00ffd2"/><path d="M496.8 109.5L502.3 106.4L496.8 103.2L491.3 106.2Z" fill="#00ffe6"/><path d="M502.3 112.5L507.8 109.5L502.3 106.4L496.8 109.5Z" fill="#00fff8"/><path d="M507.8 115.2L513.3 112.3L507.8 109.5L502.3 112.5Z" fill="#00f8ff"/><path d="M513.3 117.8L518.8 114.9L513.3 112.3L507.8 115.2Z" fill="#00ecff"/><path d="M518.8 120.1L524.3 117.2L518.8 114.9L513.3 117.8Z" fill="#00e3ff"/><path d="M524.3 122.1L529.8 119.3L524.3 117.2L518.8 120.1Z" fill="#00ddff"/><path d="M529.8 123.9L535.3 121.2L529.8 119.3L524.3 122.1Z" fill="#00daff"/><path d="M535.3 125.5L540.8 122.8L535.3 121.2L529.8 123.9Z" fill="#00daff"/><path d="M540.8 126.8L546.3 124.1L540.8 122.8L535.3 125.5Z" fill="#00dcff"/><path d="M546.3 127.9L551.8 125.2L546.3 124.1L540.8 126.8Z" fill="#00e1ff"/><path d="M551.8 128.7L557.3 126.1L551.8 125.2L546.3 127.9Z" fill="#00e9ff"/><path class="a" d="M557.3 129.2L562.8 126.7L557.3 126.1L551.8 128.7Z" fill="#00f4ff"/><path class="a" d="M562.8 129.5L568.3 127L562.8 126.7L557.3 129.2Z" fill="#00fffd"/><path class="a" d="M568.3 129.5L573.8 127.1L568.3 127L562.8 129.5Z" fill="#00ffec"/><path class="a" d="M573.8 129.2L579.4 126.9L573.8 127.1L568.3 129.5Z" fill="#00ffd9"/><path class="a" d="M579.4 128.7L584.9 126.4L579.4 126.9L573.8 129.2Z" fill="#00ffc3"/><path class="b" d="M584.9 127.9L590.5 125.7L584.9 126.4L579.4 128.7Z" fill="#00ffaa"/><path class="b" d="M590.5 126.8L596 124.7L590.5 125.7L584.9 127.9Z" fill="#00ff8e"/><path class="b" d="M596.1 125.4L601.6 123.4L596 124.7L590.5 126.8Z" fill="#00ff6f"/><path class="b" d="M601.7 123.8L607.2 121.8L601.6 123.4L596.1 125.4Z" fill="#00ff4d"/><path class="b" d="M607.3 121.8L612.9 119.9L607.2 121.8L601.7 123.8Z" fill="#00ff29"/><path class="b" d="M613 119.6L618.5 117.8L612.9 119.9L607.3 121.8Z" fill="#00ff02"/><path class="b" d="M618.6 117.1L624.2 115.3L618.5 117.8L613 119.6Z" fill="#23ff00"/><path class="b" d="M624.3 114.2L629.9 112.5L624.2 115.3L618.6 117.1Z" fill="#4bff00"/><path d="M485.8 109.3L491.3 106.2L485.7 102.8L480.3 105.9Z" fill="#00ffe5"/><path d="M491.3 112.5L496.8 109.5L491.3 106.2L485.8 109.3Z" fill="#00fff9"/><path d="M496.9 115.5L502.3 112.5L496.8 109.5L491.3 112.5Z" fill="#00f5ff"/><path d="M502.4 118.2L507.8 115.2L502.3 112.5L496.9 115.5Z" fill="#00e7ff"/><path d="M507.9 120.7L513.3 117.8L507.8 115.2L502.4 118.2Z" fill="#00ddff"/><path d="M513.4 123L518.8 120.1L513.3 117.8L507.9 120.7Z" fill="#00d5ff"/><path d="M518.9 125L524.3 122.1L518.8 120.1L513.4 123Z" fill="#00d0ff"/><path d="M524.3 126.7L529.8 123.9L524.3 122.1L518.9 125Z" fill="#00cdff"/><path d="M529.8 128.2L535.3 125.5L529.8 123.9L524.3 126.7Z" fill="#00ceff"/><path d="M535.3 129.5L540.8 126.8L535.3 125.5L529.8 128.2Z" fill="#00d1ff"/><path d="M540.8 130.5L546.3 127.9L540.8 126.8L535.3 129.5Z" fill="#00d7ff"/><path d="M546.3 131.3L551.8 128.7L546.3 127.9L540.8 130.5Z" fill="#00e0ff"/><path class="a" d="M551.8 131.7L557.3 129.2L551.8 128.7L546.3 131.3Z" fill="#00ebff"/><path class="a" d="M557.3 132L562.8 129.5L557.3 129.2L551.8 131.7Z" fill="#00f9ff"/><path class="a" d="M562.8 131.9L568.3 129.5L562.8 129.5L557.3 132Z" fill="#00fff4"/><path class="a" d="M568.3 131.6L573.8 129.2L568.3 129.5L562.8 131.9Z" fill="#00ffdf"/><path class="a" d="M573.9 131L579.4 128.7L573.8 129.2L568.3 131.6Z" fill="#00ffc8"/><path class="b" d="M579.4 130.1L584.9 127.9L579.4 128.7L573.9 131Z" fill="#00ffae"/><path class="b" d="M585 129L590.5 126.8L584.9 127.9L579.4 130.1Z" fill="#00ff92"/><path class="b" d="M590.6 127.5L596.1 125.4L590.5 126.8L585 129Z" fill="#00ff72"/><path class="b" d="M596.2 125.8L601.7 123.8L596.1 125.4L590.6 127.5Z" fill="#00ff50"/><path class="b" d="M601.8 123.8L607.3 121.8L601.7 123.8L596.2 125.8Z" fill="#00ff2a"/><path class="b" d="M607.4 121.5L613 119.6L607.3 121.8L601.8 123.8Z" fill="#00ff02"/><path class="b" d="M613.1 118.8L618.6 117.1L613 119.6L607.4 121.5Z" fill="#24ff00"/><path class="b" d="M618.8 115.9L624.3 114.2L618.6 117.1L613.1 118.8Z" fill="#4cff00"/><path d="M480.4 112.5L485.8 109.3L480.3 105.9L474.8 109.1Z" fill="#00fff9"/><path d="M485.9 115.7L491.3 112.5L485.8 109.3L480.4 112.5Z" fill="#00f3ff"/><path d="M491.4 118.6L496.9 115.5L491.3 112.5L485.9 115.7Z" fill="#00e4ff"/><path d="M496.9 121.3L502.4 118.2L496.9 115.5L491.4 118.6Z" fill="#00d7ff"/><path d="M502.4 123.7L507.9 120.7L502.4 118.2L496.9 121.3Z" fill="#00cdff"/><path d="M507.9 125.9L513.4 123L507.9 120.7L502.4 123.7Z" fill="#00c6ff"/><path d="M513.4 127.9L518.9 125L513.4 123L507.9 125.9Z" fill="#00c2ff"/><path d="M518.9 129.6L524.3 126.7L518.9 125L513.4 127.9Z" fill="#00c0ff"/><path d="M524.4 131L529.8 128.2L524.3 126.7L518.9 129.6Z" fill="#00c1ff"/><path d="M529.8 132.3L535.3 129.5L529.8 128.2L524.4 131Z" fill="#00c5ff"/><path d="M535.3 133.2L540.8 130.5L535.3 129.5L529.8 132.3Z" fill="#00ccff"/><path d="M540.8 133.9L546.3 131.3L540.8 130.5L535.3 133.2Z" fill="#00d6ff"/><path class="a" d="M546.3 134.3L551.8 131.7L546.3 131.3L540.8 133.9Z" fill="#00e2ff"/><path class="a" d="M551.8 134.5L557.3 132L551.8 131.7L546.3 134.3Z" fill="#00f1ff"/><path class="a" d="M557.3 134.4L562.8 131.9L557.3 132L551.8 134.5Z" fill="#00fffb"/><path class="a" d="M562.8 134L568.3 131.6L562.8 131.9L557.3 134.4Z" fill="#00ffe6"/><path class="a" d="M568.3 133.3L573.9 131L568.3 131.6L562.8 134Z" fill="#00ffce"/><path class="b" d="M573.9 132.4L579.4 130.1L573.9 131L568.3 133.3Z" fill="#00ffb3"/><path class="b" d="M579.4 131.1L585 129L579.4 130.1L573.9 132.4Z" fill="#00ff96"/><path class="b" d="M585 129.6L590.6 127.5L585 129L579.4 131.1Z" fill="#00ff75"/><path class="b" d="M590.6 127.8L596.2 125.8L590.6 127.5L585 129.6Z" fill="#00ff52"/><path class="b" d="M596.2 125.7L601.8 123.8L596.2 125.8L590.6 127.8Z" fill="#00ff2c"/><path class="b" d="M601.9 123.4L607.4 121.5L601.8 123.8L596.2 125.7Z" fill="#00ff03"/><path class="b" d="M607.5 120.7L613.1 118.8L607.4 121.5L601.9 123.4Z" fill="#24ff00"/><path class="b" d="M613.2 117.7L618.8 115.9L613.1 118.8L607.5 120.7Z" fill="#4dff00"/><path d="M474.9 115.7L480.4 112.5L474.8 109.1L469.4 112.4Z" fill="#00f2ff"/><path d="M480.4 118.8L485.9 115.7L480.4 112.5L474.9 115.7Z" fill="#00e0ff"/><path d="M486 121.7L491.4 118.6L485.9 115.7L480.4 118.8Z" fill="#00d2ff"/><path d="M491.5 124.4L496.9 121.3L491.4 118.6L486 121.7Z" fill="#00c6ff"/><path d="M497 126.8L502.4 123.7L496.9 121.3L491.5 124.4Z" fill="#00bdff"/><path d="M502.4 128.9L507.9 125.9L502.4 123.7L497 126.8Z" fill="#00b7ff"/><path d="M507.9 130.8L513.4 127.9L507.9 125.9L502.4 128.9Z" fill="#00b3ff"/><path d="M513.4 132.5L518.9 129.6L513.4 127.9L507.9 130.8Z" fill="#00b3ff"/><path d="M518.9 133.9L524.4 131L518.9 129.6L513.4 132.5Z" fill="#00b5ff"/><path d="M524.4 135L529.8 132.3L524.4 131L518.9 133.9Z" fill="#00b9ff"/><path d="M529.8 135.9L535.3 133.2L529.8 132.3L524.4 135Z" fill="#00c1ff"/><path d="M535.3 136.6L540.8 133.9L535.3 133.2L529.8 135.9Z" fill="#00cbff"/><path class="a" d="M540.8 136.9L546.3 134.3L540.8 133.9L535.3 136.6Z" fill="#00d8ff"/><path class="a" d="M546.3 137L551.8 134.5L546.3 134.3L540.8 136.9Z" fill="#00e8ff"/><path class="a" d="M551.8 136.9L557.3 134.4L551.8 134.5L546.3 137Z" fill="#00fbff"/><path class="a" d="M557.3 136.4L562.8 134L557.3 134.4L551.8 136.9Z" fill="#00ffed"/><path class="a" d="M562.8 135.7L568.3 133.3L562.8 134L557.3 136.4Z" fill="#00ffd5"/><path class="b" d="M568.4 134.7L573.9 132.4L568.3 133.3L562.8 135.7Z" fill="#00ffb9"/><path class="b" d="M573.9 133.4L579.4 131.1L573.9 132.4L568.4 134.7Z" fill="#00ff9a"/><path class="b" d="M579.5 131.8L585 129.6L579.4 131.1L573.9 133.4Z" fill="#00ff79"/><path class="b" d="M585.1 129.9L590.6 127.8L585 129.6L579.5 131.8Z" fill="#00ff55"/><path class="b" d="M590.7 127.8L596.2 125.7L590.6 127.8L585.1 129.9Z" fill="#00ff2e"/><path class="b" d="M596.3 125.3L601.9 123.4L596.2 125.7L590.7 127.8Z" fill="#00ff04"/><path class="b" d="M602 122.5L607.5 120.7L601.9 123.4L596.3 125.3Z" fill="#24ff00"/><path class="b" d="M607.6 119.5L613.2 117.7L607.5 120.7L602 122.5Z" fill="#4dff00"/><path d="M469.5 119L474.9 115.7L469.4 112.4L463.9 115.7Z" fill="#00deff"/><path d="M475 122.1L480.4 118.8L474.9 115.7L469.5 119Z" fill="#00cdff"/><path d="M480.5 124.9L486 121.7L480.4 118.8L475 122.1Z" fill="#00c0ff"/><path d="M486 127.5L491.5 124.4L486 121.7L480.5 124.9Z" fill="#00b5ff"/><path d="M491.5 129.8L497 126.8L491.5 124.4L486 127.5Z" fill="#00adff"/><path d="M497 132L502.4 128.9L497 126.8L491.5 129.8Z" fill="#00a7ff"/><path d="M502.5 133.8L507.9 130.8L502.4 128.9L497 132Z" fill="#00a5ff"/><path d="M507.9 135.4L513.4 132.5L507.9 130.8L502.5 133.8Z" fill="#00a5ff"/><path d="M513.4 136.8L518.9 133.9L513.4 132.5L507.9 135.4Z" fill="#00a8ff"/><path d="M518.9 137.9L524.4 135L518.9 133.9L513.4 136.8Z" fill="#00adff"/><path d="M524.4 138.7L529.8 135.9L524.4 135L518.9 137.9Z" fill="#00b6ff"/><path d="M529.8 139.3L535.3 136.6L529.8 135.9L524.4 138.7Z" fill="#00c1ff"/><path class="a" d="M535.3 139.6L540.8 136.9L535.3 136.6L529.8 139.3Z" fill="#00cfff"/><path class="a" d="M540.8 139.6L546.3 137L540.8 136.9L535.3 139.6Z" fill="#00dfff"/><path class="a" d="M546.3 139.4L551.8 136.9L546.3 137L540.8 139.6Z" fill="#00f3ff"/><path class="a" d="M551.8 138.9L557.3 136.4L551.8 136.9L546.3 139.4Z" fill="#00fff5"/><path class="a" d="M557.3 138.1L562.8 135.7L557.3 136.4L551.8 138.9Z" fill="#00ffdb"/><path class="b" d="M562.9 137L568.4 134.7L562.8 135.7L557.3 138.1Z" fill="#00ffbf"/><path class="b" d="M568.4 135.6L573.9 133.4L568.4 134.7L562.9 137Z" fill="#00ff9f"/><path class="b" d="M574 134L579.5 131.8L573.9 133.4L568.4 135.6Z" fill="#00ff7d"/><path class="b" d="M579.5 132L585.1 129.9L579.5 131.8L574 134Z" fill="#00ff58"/><path class="b" d="M585.1 129.8L590.7 127.8L585.1 129.9L579.5 132Z" fill="#00ff30"/><path class="b" d="M590.8 127.3L596.3 125.3L590.7 127.8L585.1 129.8Z" fill="#00ff06"/><path class="b" d="M596.4 124.4L602 122.5L596.3 125.3L590.8 127.3Z" fill="#23ff00"/><path class="b" d="M602.1 121.3L607.6 119.5L602 122.5L596.4 124.4Z" fill="#4dff00"/><path d="M464 122.3L469.5 119L463.9 115.7L458.5 119Z" fill="#00caff"/><path d="M469.6 125.3L475 122.1L469.5 119L464 122.3Z" fill="#00baff"/><path d="M475.1 128.1L480.5 124.9L475 122.1L469.6 125.3Z" fill="#00adff"/><path d="M480.6 130.7L486 127.5L480.5 124.9L475.1 128.1Z" fill="#00a3ff"/><path d="M486.1 133L491.5 129.8L486 127.5L480.6 130.7Z" fill="#009cff"/><path d="M491.5 135L497 132L491.5 129.8L486.1 133Z" fill="#0097ff"/><path d="M497 136.8L502.5 133.8L497 132L491.5 135Z" fill="#0095ff"/><path d="M502.5 138.4L507.9 135.4L502.5 133.8L497 136.8Z" fill="#0096ff"/><path d="M508 139.7L513.4 136.8L507.9 135.4L502.5 138.4Z" fill="#009aff"/><path d="M513.4 140.7L518.9 137.9L513.4 136.8L508 139.7Z" fill="#00a1ff"/><path d="M518.9 141.5L524.4 138.7L518.9 137.9L513.4 140.7Z" fill="#00aaff"/><path d="M524.4 142L529.8 139.3L524.4 138.7L518.9 141.5Z" fill="#00b6ff"/><path class="a" d="M529.8 142.3L535.3 139.6L529.8 139.3L524.4 142Z" fill="#00c4ff"/><path class="a" d="M535.3 142.3L540.8 139.6L535.3 139.6L529.8 142.3Z" fill="#00d6ff"/><path class="a" d="M540.8 142L546.3 139.4L540.8 139.6L535.3 142.3Z" fill="#00eaff"/><path class="a" d="M546.3 141.4L551.8 138.9L546.3 139.4L540.8 142Z" fill="#00fffd"/><path class="b" d="M551.8 140.5L557.3 138.1L551.8 138.9L546.3 141.4Z" fill="#00ffe2"/><path class="b" d="M557.3 139.4L562.9 137L557.3 138.1L551.8 140.5Z" fill="#00ffc5"/><path class="b" d="M562.9 137.9L568.4 135.6L562.9 137L557.3 139.4Z" fill="#00ffa5"/><path class="b" d="M568.4 136.2L574 134L568.4 135.6L562.9 137.9Z" fill="#00ff82"/><path class="b" d="M574 134.2L579.5 132L574 134L568.4 136.2Z" fill="#00ff5c"/><path class="b" d="M579.6 131.9L585.1 129.8L579.5 132L574 134.2Z" fill="#00ff33"/><path class="b" d="M585.2 129.3L590.8 127.3L585.1 129.8L579.6 131.9Z" fill="#00ff08"/><path class="b" d="M590.8 126.3L596.4 124.4L590.8 127.3L585.2 129.3Z" fill="#22ff00"/><path class="b" d="M596.5 123.1L602.1 121.3L596.4 124.4L590.8 126.3Z" fill="#4dff00"/><path d="M458.6 125.7L464 122.3L458.5 119L453.1 122.4Z" fill="#00b5ff"/><path d="M464.1 128.6L469.6 125.3L464 122.3L458.6 125.7Z" fill="#00a7ff"/><path d="M469.7 131.4L475.1 128.1L469.6 125.3L464.1 128.6Z" fill="#009bff"/><path d="M475.1 133.9L480.6 130.7L475.1 128.1L469.7 131.4Z" fill="#0091ff"/><path d="M480.6 136.2L486.1 133L480.6 130.7L475.1 133.9Z" fill="#008bff"/><path d="M486.1 138.2L491.5 135L486.1 133L480.6 136.2Z" fill="#0087ff"/><path d="M491.6 139.9L497 136.8L491.5 135L486.1 138.2Z" fill="#0086ff"/><path d="M497 141.4L502.5 138.4L497 136.8L491.6 139.9Z" fill="#0088ff"/><path d="M502.5 142.7L508 139.7L502.5 138.4L497 141.4Z" fill="#008cff"/><path d="M508 143.7L513.4 140.7L508 139.7L502.5 142.7Z" fill="#0094ff"/><path d="M513.4 144.4L518.9 141.5L513.4 140.7L508 143.7Z" fill="#009eff"/><path d="M518.9 144.8L524.4 142L518.9 141.5L513.4 144.4Z" fill="#00aaff"/><path class="a" d="M524.4 145L529.8 142.3L524.4 142L518.9 144.8Z" fill="#00baff"/><path class="a" d="M529.8 144.9L535.3 142.3L529.8 142.3L524.4 145Z" fill="#00ccff"/><path class="a" d="M535.3 144.6L540.8 142L535.3 142.3L529.8 144.9Z" fill="#00e1ff"/><path class="a" d="M540.8 143.9L546.3 141.4L540.8 142L535.3 144.6Z" fill="#00f9ff"/><path class="b" d="M546.3 143L551.8 140.5L546.3 141.4L540.8 143.9Z" fill="#00ffea"/><path class="b" d="M551.8 141.8L557.3 139.4L551.8 140.5L546.3 143Z" fill="#00ffcb"/><path class="b" d="M557.4 140.3L562.9 137.9L557.3 139.4L551.8 141.8Z" fill="#00ffaa"/><path class="b" d="M562.9 138.5L568.4 136.2L562.9 137.9L557.4 140.3Z" fill="#00ff87"/><path class="b" d="M568.5 136.4L574 134.2L568.4 136.2L562.9 138.5Z" fill="#00ff60"/><path class="b" d="M574 134L579.6 131.9L574 134.2L568.5 136.4Z" fill="#00ff36"/><path class="b" d="M579.6 131.3L585.2 129.3L579.6 131.9L574 134Z" fill="#00ff0a"/><path class="b" d="M585.3 128.3L590.8 126.3L585.2 129.3L579.6 131.3Z" fill="#21ff00"/><path class="b" d="M590.9 125L596.5 123.1L590.8 126.3L585.3 128.3Z" fill="#4dff00"/><path d="M453.2 129.1L458.6 125.7L453.1 122.4L447.7 125.9Z" fill="#00a1ff"/><path d="M458.7 132L464.1 128.6L458.6 125.7L453.2 129.1Z" fill="#0093ff"/><path d="M464.2 134.7L469.7 131.4L464.1 128.6L458.7 132Z" fill="#0087ff"/><path d="M469.7 137.2L475.1 133.9L469.7 131.4L464.2 134.7Z" fill="#007fff"/><path d="M475.2 139.4L480.6 136.2L475.1 133.9L469.7 137.2Z" fill="#0079ff"/><path d="M480.7 141.3L486.1 138.2L480.6 136.2L475.2 139.4Z" fill="#0076ff"/><path d="M486.1 143L491.6 139.9L486.1 138.2L480.7 141.3Z" fill="#0076ff"/><path d="M491.6 144.5L497 141.4L491.6 139.9L486.1 143Z" fill="#0079ff"/><path d="M497 145.7L502.5 142.7L497 141.4L491.6 144.5Z" fill="#007eff"/><path d="M502.5 146.6L508 143.7L502.5 142.7L497 145.7Z" fill="#0086ff"/><path d="M508 147.3L513.4 144.4L508 143.7L502.5 146.6Z" fill="#0091ff"/><path d="M513.4 147.7L518.9 144.8L513.4 144.4L508 147.3Z" fill="#009fff"/><path class="a" d="M518.9 147.8L524.4 145L518.9 144.8L513.4 147.7Z" fill="#00afff"/><path class="a" d="M524.3 147.7L529.8 144.9L524.4 145L518.9 147.8Z" fill="#00c2ff"/><path class="a" d="M529.8 147.2L535.3 144.6L529.8 144.9L524.3 147.7Z" fill="#00d8ff"/><path class="a" d="M535.3 146.5L540.8 143.9L535.3 144.6L529.8 147.2Z" fill="#00f1ff"/><path class="b" d="M540.8 145.5L546.3 143L540.8 143.9L535.3 146.5Z" fill="#00fff1"/><path class="b" d="M546.3 144.2L551.8 141.8L546.3 143L540.8 145.5Z" fill="#00ffd2"/><path class="b" d="M551.8 142.7L557.4 140.3L551.8 141.8L546.3 144.2Z" fill="#00ffb1"/><path class="b" d="M557.4 140.8L562.9 138.5L557.4 140.3L551.8 142.7Z" fill="#00ff8c"/><path class="b" d="M562.9 138.6L568.5 136.4L562.9 138.5L557.4 140.8Z" fill="#00ff64"/><path class="b" d="M568.5 136.2L574 134L568.5 136.4L562.9 138.6Z" fill="#00ff3a"/><path class="b" d="M574.1 133.4L579.6 131.3L574 134L568.5 136.2Z" fill="#00ff0d"/><path class="b" d="M579.7 130.3L585.3 128.3L579.6 131.3L574.1 133.4Z" fill="#1fff00"/><path class="b" d="M585.4 126.9L590.9 125L585.3 128.3L579.7 130.3Z" fill="#4cff00"/><path d="M447.8 132.5L453.2 129.1L447.7 125.9L442.3 129.4Z" fill="#008bff"/><path d="M453.3 135.4L458.7 132L453.2 129.1L447.8 132.5Z" fill="#007eff"/><path d="M458.8 138.1L464.2 134.7L458.7 132L453.3 135.4Z" fill="#0074ff"/><path d="M464.3 140.5L469.7 137.2L464.2 134.7L458.8 138.1Z" fill="#006cff"/><path d="M469.8 142.6L475.2 139.4L469.7 137.2L464.3 140.5Z" fill="#0067ff"/><path d="M475.2 144.6L480.7 141.3L475.2 139.4L469.8 142.6Z" fill="#0065ff"/><path d="M480.7 146.2L486.1 143L480.7 141.3L475.2 144.6Z" fill="#0066ff"/><path d="M486.2 147.6L491.6 144.5L486.1 143L480.7 146.2Z" fill="#0069ff"/><path d="M491.6 148.8L497 145.7L491.6 144.5L486.2 147.6Z" fill="#006fff"/><path d="M497.1 149.6L502.5 146.6L497 145.7L491.6 148.8Z" fill="#0078ff"/><path d="M502.5 150.2L508 147.3L502.5 146.6L497.1 149.6Z" fill="#0084ff"/><path class="a" d="M508 150.6L513.4 147.7L508 147.3L502.5 150.2Z" fill="#0093ff"/><path class="a" d="M513.4 150.6L518.9 147.8L513.4 147.7L508 150.6Z" fill="#00a4ff"/><path class="a" d="M518.9 150.4L524.3 147.7L518.9 147.8L513.4 150.6Z" fill="#00b8ff"/><path class="a" d="M524.3 149.9L529.8 147.2L524.3 147.7L518.9 150.4Z" fill="#00cfff"/><path class="a" d="M529.8 149.2L535.3 146.5L529.8 147.2L524.3 149.9Z" fill="#00e8ff"/><path class="b" d="M535.3 148.1L540.8 145.5L535.3 146.5L529.8 149.2Z" fill="#00fffa"/><path class="b" d="M540.8 146.7L546.3 144.2L540.8 145.5L535.3 148.1Z" fill="#00ffda"/><path class="b" d="M546.3 145.1L551.8 142.7L546.3 144.2L540.8 146.7Z" fill="#00ffb7"/><path class="b" d="M551.8 143.1L557.4 140.8L551.8 142.7L546.3 145.1Z" fill="#00ff91"/><path class="b" d="M557.4 140.9L562.9 138.6L557.4 140.8L551.8 143.1Z" fill="#00ff69"/><path class="b" d="M563 138.4L568.5 136.2L562.9 138.6L557.4 140.9Z" fill="#00ff3e"/><path class="b" d="M568.5 135.5L574.1 133.4L568.5 136.2L563 138.4Z" fill="#00ff10"/><path class="b" d="M574.2 132.4L579.7 130.3L574.1 133.4L568.5 135.5Z" fill="#1dff00"/><path class="b" d="M579.8 128.9L585.4 126.9L579.7 130.3L574.2 132.4Z" fill="#4bff00"/><path d="M442.4 136L447.8 132.5L442.3 129.4L436.9 132.9Z" fill="#0076ff"/><path d="M447.9 138.9L453.3 135.4L447.8 132.5L442.4 136Z" fill="#0069ff"/><path d="M453.4 141.5L458.8 138.1L453.3 135.4L447.9 138.9Z" fill="#0060ff"/><path d="M458.9 143.8L464.3 140.5L458.8 138.1L453.4 141.5Z" fill="#0059ff"/><path d="M464.4 146L469.8 142.6L464.3 140.5L458.9 143.8Z" fill="#0055ff"/><path d="M469.8 147.8L475.2 144.6L469.8 142.6L464.4 146Z" fill="#0054ff"/><path d="M475.3 149.4L480.7 146.2L475.2 144.6L469.8 147.8Z" fill="#0055ff"/><path d="M480.7 150.8L486.2 147.6L480.7 146.2L475.3 149.4Z" fill="#005aff"/><path d="M486.2 151.9L491.6 148.8L486.2 147.6L480.7 150.8Z" fill="#0061ff"/><path d="M491.6 152.7L497.1 149.6L491.6 148.8L486.2 151.9Z" fill="#006aff"/><path d="M497.1 153.2L502.5 150.2L497.1 149.6L491.6 152.7Z" fill="#0077ff"/><path class="a" d="M502.5 153.5L508 150.6L502.5 150.2L497.1 153.2Z" fill="#0086ff"/><path class="a" d="M507.9 153.5L513.4 150.6L508 150.6L502.5 153.5Z" fill="#0098ff"/><path class="a" d="M513.4 153.2L518.9 150.4L513.4 150.6L507.9 153.5Z" fill="#00adff"/><path class="a" d="M518.9 152.7L524.3 149.9L518.9 150.4L513.4 153.2Z" fill="#00c5ff"/><path class="a" d="M524.3 151.8L529.8 149.2L524.3 149.9L518.9 152.7Z" fill="#00dfff"/><path class="b" d="M529.8 150.7L535.3 148.1L529.8 149.2L524.3 151.8Z" fill="#00fcff"/><path class="b" d="M535.3 149.3L540.8 146.7L535.3 148.1L529.8 150.7Z" fill="#00ffe1"/><path class="b" d="M540.8 147.5L546.3 145.1L540.8 146.7L535.3 149.3Z" fill="#00ffbe"/><path class="b" d="M546.3 145.5L551.8 143.1L546.3 145.1L540.8 147.5Z" fill="#00ff97"/><path class="b" d="M551.9 143.2L557.4 140.9L551.8 143.1L546.3 145.5Z" fill="#00ff6e"/><path class="b" d="M557.4 140.6L563 138.4L557.4 140.9L551.9 143.2Z" fill="#00ff42"/><path class="b" d="M563 137.7L568.5 135.5L563 138.4L557.4 140.6Z" fill="#00ff13"/><path class="b" d="M568.6 134.4L574.2 132.4L568.5 135.5L563 137.7Z" fill="#1bff00"/><path class="b" d="M574.2 130.9L579.8 128.9L574.2 132.4L568.6 134.4Z" fill="#49ff00"/><path d="M437.1 139.6L442.4 136L436.9 132.9L431.5 136.5Z" fill="#0060ff"/><path d="M442.6 142.4L447.9 138.9L442.4 136L437.1 139.6Z" fill="#0054ff"/><path d="M448 144.9L453.4 141.5L447.9 138.9L442.6 142.4Z" fill="#004cff"/><path d="M453.5 147.3L458.9 143.8L453.4 141.5L448 144.9Z" fill="#0046ff"/><path d="M459 149.3L464.4 146L458.9 143.8L453.5 147.3Z" fill="#0042ff"/><path d="M464.4 151.1L469.8 147.8L464.4 146L459 149.3Z" fill="#0042ff"/><path d="M469.9 152.7L475.3 149.4L469.8 147.8L464.4 151.1Z" fill="#0044ff"/><path d="M475.3 154L480.7 150.8L475.3 149.4L469.9 152.7Z" fill="#0049ff"/><path d="M480.7 155L486.2 151.9L480.7 150.8L475.3 154Z" fill="#0051ff"/><path d="M486.2 155.8L491.6 152.7L486.2 151.9L480.7 155Z" fill="#005cff"/><path d="M491.6 156.3L497.1 153.2L491.6 152.7L486.2 155.8Z" fill="#0069ff"/><path class="a" d="M497 156.5L502.5 153.5L497.1 153.2L491.6 156.3Z" fill="#0079ff"/><path class="a" d="M502.5 156.4L507.9 153.5L502.5 153.5L497 156.5Z" fill="#008cff"/><path class="a" d="M507.9 156.1L513.4 153.2L507.9 153.5L502.5 156.4Z" fill="#00a2ff"/><path class="a" d="M513.4 155.4L518.9 152.7L513.4 153.2L507.9 156.1Z" fill="#00baff"/><path class="a" d="M518.8 154.5L524.3 151.8L518.9 152.7L513.4 155.4Z" fill="#00d5ff"/><path class="b" d="M524.3 153.3L529.8 150.7L524.3 151.8L518.8 154.5Z" fill="#00f3ff"/><path class="b" d="M529.8 151.8L535.3 149.3L529.8 150.7L524.3 153.3Z" fill="#00ffe9"/><path class="b" d="M535.3 150.1L540.8 147.5L535.3 149.3L529.8 151.8Z" fill="#00ffc5"/><path class="b" d="M540.8 148L546.3 145.5L540.8 147.5L535.3 150.1Z" fill="#00ff9e"/><path class="b" d="M546.3 145.6L551.9 143.2L546.3 145.5L540.8 148Z" fill="#00ff74"/><path class="b" d="M551.9 142.9L557.4 140.6L551.9 143.2L546.3 145.6Z" fill="#00ff47"/><path class="b" d="M557.4 139.9L563 137.7L557.4 140.6L551.9 142.9Z" fill="#00ff17"/><path class="b" d="M563 136.5L568.6 134.4L563 137.7L557.4 139.9Z" fill="#18ff00"/><path class="b" d="M568.6 132.9L574.2 130.9L568.6 134.4L563 136.5Z" fill="#47ff00"/><path d="M431.7 143.2L437.1 139.6L431.5 136.5L426.2 140.2Z" fill="#004aff"/><path d="M437.2 145.9L442.6 142.4L437.1 139.6L431.7 143.2Z" fill="#003fff"/><path d="M442.7 148.5L448 144.9L442.6 142.4L437.2 145.9Z" fill="#0037ff"/><path d="M448.1 150.7L453.5 147.3L448 144.9L442.7 148.5Z" fill="#0032ff"/><path d="M453.6 152.7L459 149.3L453.5 147.3L448.1 150.7Z" fill="#0030ff"/><path d="M459 154.5L464.4 151.1L459 149.3L453.6 152.7Z" fill="#0030ff"/><path d="M464.5 156L469.9 152.7L464.4 151.1L459 154.5Z" fill="#0033ff"/><path d="M469.9 157.2L475.3 154L469.9 152.7L464.5 156Z" fill="#0039ff"/><path d="M475.3 158.2L480.7 155L475.3 154L469.9 157.2Z" fill="#0042ff"/><path d="M480.7 158.9L486.2 155.8L480.7 155L475.3 158.2Z" fill="#004dff"/><path d="M486.2 159.3L491.6 156.3L486.2 155.8L480.7 158.9Z" fill="#005bff"/><path class="a" d="M491.6 159.5L497 156.5L491.6 156.3L486.2 159.3Z" fill="#006cff"/><path class="a" d="M497 159.4L502.5 156.4L497 156.5L491.6 159.5Z" fill="#0080ff"/><path class="a" d="M502.5 159L507.9 156.1L502.5 156.4L497 159.4Z" fill="#0096ff"/><path class="a" d="M507.9 158.3L513.4 155.4L507.9 156.1L502.5 159Z" fill="#00b0ff"/><path class="a" d="M513.4 157.3L518.8 154.5L513.4 155.4L507.9 158.3Z" fill="#00ccff"/><path class="b" d="M518.8 156L524.3 153.3L518.8 154.5L513.4 157.3Z" fill="#00eaff"/><path class="b" d="M524.3 154.5L529.8 151.8L524.3 153.3L518.8 156Z" fill="#00fff2"/><path class="b" d="M529.8 152.6L535.3 150.1L529.8 151.8L524.3 154.5Z" fill="#00ffcd"/><path class="b" d="M535.3 150.4L540.8 148L535.3 150.1L529.8 152.6Z" fill="#00ffa5"/><path class="b" d="M540.8 148L546.3 145.6L540.8 148L535.3 150.4Z" fill="#00ff7a"/><path class="b" d="M546.3 145.2L551.9 142.9L546.3 145.6L540.8 148Z" fill="#00ff4c"/><path class="b" d="M551.9 142.1L557.4 139.9L551.9 142.9L546.3 145.2Z" fill="#00ff1b"/><path class="b" d="M557.5 138.7L563 136.5L557.4 139.9L551.9 142.1Z" fill="#15ff00"/><path class="b" d="M563.1 135L568.6 132.9L563 136.5L557.5 138.7Z" fill="#45ff00"/><path d="M426.3 146.8L431.7 143.2L426.2 140.2L420.8 143.8Z" fill="#0033ff"/><path d="M431.8 149.5L437.2 145.9L431.7 143.2L426.3 146.8Z" fill="#0029ff"/><path d="M437.3 152L442.7 148.5L437.2 145.9L431.8 149.5Z" fill="#0022ff"/><path d="M442.7 154.2L448.1 150.7L442.7 148.5L437.3 152Z" fill="#001eff"/><path d="M448.2 156.2L453.6 152.7L448.1 150.7L442.7 154.2Z" fill="#001cff"/><path d="M453.6 157.9L459 154.5L453.6 152.7L448.2 156.2Z" fill="#001dff"/><path d="M459.1 159.4L464.5 156L459 154.5L453.6 157.9Z" fill="#0021ff"/><path d="M464.5 160.5L469.9 157.2L464.5 156L459.1 159.4Z" fill="#0028ff"/><path d="M469.9 161.4L475.3 158.2L469.9 157.2L464.5 160.5Z" fill="#0032ff"/><path d="M475.3 162.1L480.7 158.9L475.3 158.2L469.9 161.4Z" fill="#003eff"/><path d="M480.7 162.5L486.2 159.3L480.7 158.9L475.3 162.1Z" fill="#004dff"/><path class="a" d="M486.2 162.6L491.6 159.5L486.2 159.3L480.7 162.5Z" fill="#005fff"/><path class="a" d="M491.6 162.4L497 159.4L491.6 159.5L486.2 162.6Z" fill="#0073ff"/><path class="a" d="M497 161.9L502.5 159L497 159.4L491.6 162.4Z" fill="#008aff"/><path class="a" d="M502.4 161.1L507.9 158.3L502.5 159L497 161.9Z" fill="#00a4ff"/><path class="a" d="M507.9 160.1L513.4 157.3L507.9 158.3L502.4 161.1Z" fill="#00c1ff"/><path class="b" d="M513.3 158.7L518.8 156L513.4 157.3L507.9 160.1Z" fill="#00e1ff"/><path class="b" d="M518.8 157.1L524.3 154.5L518.8 156L513.3 158.7Z" fill="#00fffb"/><path class="b" d="M524.3 155.2L529.8 152.6L524.3 154.5L518.8 157.1Z" fill="#00ffd5"/><path class="b" d="M529.8 152.9L535.3 150.4L529.8 152.6L524.3 155.2Z" fill="#00ffac"/><path class="b" d="M535.3 150.4L540.8 148L535.3 150.4L529.8 152.9Z" fill="#00ff80"/><path class="b" d="M540.8 147.5L546.3 145.2L540.8 148L535.3 150.4Z" fill="#00ff51"/><path class="b" d="M546.3 144.4L551.9 142.1L546.3 145.2L540.8 147.5Z" fill="#00ff20"/><path class="b" d="M551.9 140.9L557.5 138.7L551.9 142.1L546.3 144.4Z" fill="#12ff00"/><path class="b" d="M557.5 137.1L563.1 135L557.5 138.7L551.9 140.9Z" fill="#43ff00"/><path d="M421 150.5L426.3 146.8L420.8 143.8L415.5 147.6Z" fill="#001cff"/><path d="M426.5 153.2L431.8 149.5L426.3 146.8L421 150.5Z" fill="#0013ff"/><path d="M431.9 155.6L437.3 152L431.8 149.5L426.5 153.2Z" fill="#000dff"/><path d="M437.4 157.8L442.7 154.2L437.3 152L431.9 155.6Z" fill="#0009ff"/><path d="M442.8 159.7L448.2 156.2L442.7 154.2L437.4 157.8Z" fill="#0009ff"/><path d="M448.2 161.4L453.6 157.9L448.2 156.2L442.8 159.7Z" fill="#000bff"/><path d="M453.7 162.8L459.1 159.4L453.6 157.9L448.2 161.4Z" fill="#000fff"/><path d="M459.1 163.9L464.5 160.5L459.1 159.4L453.7 162.8Z" fill="#0017ff"/><path d="M464.5 164.7L469.9 161.4L464.5 160.5L459.1 163.9Z" fill="#0021ff"/><path d="M469.9 165.3L475.3 162.1L469.9 161.4L464.5 164.7Z" fill="#002eff"/><path d="M475.3 165.6L480.7 162.5L475.3 162.1L469.9 165.3Z" fill="#003eff"/><path class="a" d="M480.7 165.7L486.2 162.6L480.7 162.5L475.3 165.6Z" fill="#0051ff"/><path class="a" d="M486.1 165.4L491.6 162.4L486.2 162.6L480.7 165.7Z" fill="#0066ff"/><path class="a" d="M491.6 164.9L497 161.9L491.6 162.4L486.1 165.4Z" fill="#007eff"/><path class="a" d="M497 164L502.4 161.1L497 161.9L491.6 164.9Z" fill="#0099ff"/><path class="a" d="M502.4 162.9L507.9 160.1L502.4 161.1L497 164Z" fill="#00b7ff"/><path class="b" d="M507.9 161.5L513.3 158.7L507.9 160.1L502.4 162.9Z" fill="#00d7ff"/><path class="b" d="M513.3 159.8L518.8 157.1L513.3 158.7L507.9 161.5Z" fill="#00faff"/><path class="b" d="M518.8 157.8L524.3 155.2L518.8 157.1L513.3 159.8Z" fill="#00ffdd"/><path class="b" d="M524.3 155.5L529.8 152.9L524.3 155.2L518.8 157.8Z" fill="#00ffb3"/><path class="b" d="M529.7 152.9L535.3 150.4L529.8 152.9L524.3 155.5Z" fill="#00ff87"/><path class="b" d="M535.3 149.9L540.8 147.5L535.3 150.4L529.7 152.9Z" fill="#00ff57"/><path class="b" d="M540.8 146.7L546.3 144.4L540.8 147.5L535.3 149.9Z" fill="#00ff25"/><path class="b" d="M546.4 143.1L551.9 140.9L546.3 144.4L540.8 146.7Z" fill="#0eff00"/><path class="b" d="M551.9 139.2L557.5 137.1L551.9 140.9L546.4 143.1Z" fill="#40ff00"/><path d="M415.6 154.3L421 150.5L415.5 147.6L410.2 151.4Z" fill="#0005ff"/><path d="M421.1 156.9L426.5 153.2L421 150.5L415.6 154.3Z" fill="#0000ff"/><path d="M426.6 159.3L431.9 155.6L426.5 153.2L421.1 156.9Z" fill="#0000ff"/><path d="M432 161.4L437.4 157.8L431.9 155.6L426.6 159.3Z" fill="#0000ff"/><path d="M437.4 163.3L442.8 159.7L437.4 157.8L432 161.4Z" fill="#0000ff"/><path d="M442.9 164.9L448.2 161.4L442.8 159.7L437.4 163.3Z" fill="#0000ff"/><path d="M448.3 166.2L453.7 162.8L448.2 161.4L442.9 164.9Z" fill="#0000ff"/><path d="M453.7 167.3L459.1 163.9L453.7 162.8L448.3 166.2Z" fill="#0005ff"/><path d="M459.1 168.1L464.5 164.7L459.1 163.9L453.7 167.3Z" fill="#0010ff"/><path d="M464.5 168.6L469.9 165.3L464.5 164.7L459.1 168.1Z" fill="#001eff"/><path d="M469.9 168.8L475.3 165.6L469.9 165.3L464.5 168.6Z" fill="#002fff"/><path class="a" d="M475.3 168.8L480.7 165.7L475.3 165.6L469.9 168.8Z" fill="#0042ff"/><path class="a" d="M480.7 168.5L486.1 165.4L480.7 165.7L475.3 168.8Z" fill="#0059ff"/><path class="a" d="M486.1 167.9L491.6 164.9L486.1 165.4L480.7 168.5Z" fill="#0072ff"/><path class="a" d="M491.5 167L497 164L491.6 164.9L486.1 167.9Z" fill="#008dff"/><path class="a" d="M496.9 165.8L502.4 162.9L497 164L491.5 167Z" fill="#00acff"/><path class="b" d="M502.4 164.3L507.9 161.5L502.4 162.9L496.9 165.8Z" fill="#00cdff"/><path class="b" d="M507.8 162.6L513.3 159.8L507.9 161.5L502.4 164.3Z" fill="#00f1ff"/><path class="b" d="M513.3 160.5L518.8 157.8L513.3 159.8L507.8 162.6Z" fill="#00ffe6"/><path class="b" d="M518.7 158.1L524.3 155.5L518.8 157.8L513.3 160.5Z" fill="#00ffbb"/><path class="b" d="M524.2 155.4L529.7 152.9L524.3 155.5L518.7 158.1Z" fill="#00ff8e"/><path class="b" d="M529.7 152.4L535.3 149.9L529.7 152.9L524.2 155.4Z" fill="#00ff5d"/><path class="b" d="M535.3 149L540.8 146.7L535.3 149.9L529.7 152.4Z" fill="#00ff2a"/><path class="b" d="M540.8 145.4L546.4 143.1L540.8 146.7L535.3 149Z" fill="#0aff00"/><path class="b" d="M546.4 141.4L551.9 139.2L546.4 143.1L540.8 145.4Z" fill="#3dff00"/><path d="M410.3 158.1L415.6 154.3L410.2 151.4L404.8 155.2Z" fill="#0000ff"/><path d="M415.8 160.7L421.1 156.9L415.6 154.3L410.3 158.1Z" fill="#0000ff"/><path d="M421.2 163L426.6 159.3L421.1 156.9L415.8 160.7Z" fill="#0000ff"/><path d="M426.7 165.1L432 161.4L426.6 159.3L421.2 163Z" fill="#0000ff"/><path d="M432.1 166.9L437.4 163.3L432 161.4L426.7 165.1Z" fill="#0000ff"/><path d="M437.5 168.4L442.9 164.9L437.4 163.3L432.1 166.9Z" fill="#0000ff"/><path d="M442.9 169.7L448.3 166.2L442.9 164.9L437.5 168.4Z" fill="#0000ff"/><path d="M448.3 170.7L453.7 167.3L448.3 166.2L442.9 169.7Z" fill="#0000ff"/><path d="M453.7 171.5L459.1 168.1L453.7 167.3L448.3 170.7Z" fill="#0000ff"/><path d="M459.1 171.9L464.5 168.6L459.1 168.1L453.7 171.5Z" fill="#000eff"/><path d="M464.5 172.1L469.9 168.8L464.5 168.6L459.1 171.9Z" fill="#0020ff"/><path class="a" d="M469.9 172L475.3 168.8L469.9 168.8L464.5 172.1Z" fill="#0034ff"/><path class="a" d="M475.3 171.6L480.7 168.5L475.3 168.8L469.9 172Z" fill="#004bff"/><path class="a" d="M480.7 171L486.1 167.9L480.7 168.5L475.3 171.6Z" fill="#0065ff"/><path class="a" d="M486.1 170L491.5 167L486.1 167.9L480.7 171Z" fill="#0081ff"/><path class="a" d="M491.5 168.7L496.9 165.8L491.5 167L486.1 170Z" fill="#00a0ff"/><path class="b" d="M496.9 167.2L502.4 164.3L496.9 165.8L491.5 168.7Z" fill="#00c2ff"/><path class="b" d="M502.3 165.3L507.8 162.6L502.4 164.3L496.9 167.2Z" fill="#00e7ff"/><path class="b" d="M507.8 163.2L513.3 160.5L507.8 162.6L502.3 165.3Z" fill="#00ffef"/><path class="b" d="M513.2 160.7L518.7 158.1L513.3 160.5L507.8 163.2Z" fill="#00ffc3"/><path class="b" d="M518.7 157.9L524.2 155.4L518.7 158.1L513.2 160.7Z" fill="#00ff95"/><path class="b" d="M524.2 154.8L529.7 152.4L524.2 155.4L518.7 157.9Z" fill="#00ff64"/><path class="b" d="M529.7 151.4L535.3 149L529.7 152.4L524.2 154.8Z" fill="#00ff30"/><path class="b" d="M535.2 147.7L540.8 145.4L535.3 149L529.7 151.4Z" fill="#06ff00"/><path class="b" d="M540.8 143.7L546.4 141.4L540.8 145.4L535.2 147.7Z" fill="#39ff00"/></g><path d="M540.8 143.7L546.4 141.4L551.9 139.2L557.5 137.1L563.1 135L568.6 132.9L574.2 130.9L579.8 128.9L585.4 126.9L590.9 125L596.5 123.1L602.1 121.3L607.6 119.5L613.2 117.7L618.8 115.9L624.3 114.2L629.9 112.5L635.5 110.9L641 109.3L646.6 107.7L652.1 106.2L657.7 104.6L663.2 103.2L668.8 101.7L674.3 100.3L679.9 98.9L679.9 98.9L674.1 101L668.4 102.8L662.7 104.3L657.1 105.5L651.4 106.5L645.8 107.2L640.2 107.6L634.6 107.8L629 107.7L623.5 107.4L617.9 106.8L612.4 105.9L606.9 104.9L601.4 103.5L595.9 101.9L590.4 100.1L584.9 98.1L579.4 95.8L573.9 93.3L568.4 90.5L562.9 87.6L557.4 84.4L551.9 81L546.3 77.4L540.8 73.6L540.8 73.6L535.3 76.4L529.7 79.1L524.2 81.9L518.7 84.8L513.2 87.7L507.7 90.6L502.2 93.6L496.7 96.6L491.2 99.7L485.7 102.8L480.3 105.9L474.8 109.1L469.4 112.4L463.9 115.7L458.5 119L453.1 122.4L447.7 125.9L442.3 129.4L436.9 132.9L431.5 136.5L426.2 140.2L420.8 143.8L415.5 147.6L410.2 151.4L404.8 155.2L404.8 155.2L410.3 158.1L415.8 160.7L421.2 163L426.7 165.1L432.1 166.9L437.5 168.4L442.9 169.7L448.3 170.7L453.7 171.5L459.1 171.9L464.5 172.1L469.9 172L475.3 171.6L480.7 171L486.1 170L491.5 168.7L496.9 167.2L502.3 165.3L507.8 163.2L513.2 160.7L518.7 157.9L524.2 154.8L529.7 151.4L535.2 147.7L540.8 143.7Z" fill="none" stroke="#1a1a1a" stroke-width="0.6" stroke-linejoin="round"/><circle cx="404.9" cy="153.5" r="2.5" fill="#bf0000" stroke="#700" stroke-width="0.5"/><circle cx="540.8" cy="72.8" r="2.5" fill="#bf0000" stroke="#700" stroke-width="0.5"/><circle cx="540.8" cy="131.1" r="2.5" fill="#bf0000" stroke="#700" stroke-width="0.5"/><circle cx="540.8" cy="145.1" r="2.6" fill="#ffd0d0" stroke="#777" stroke-width="0.6"/><circle cx="680" cy="102.6" r="2.6" fill="#ffd0d0" stroke="#777" stroke-width="0.6"/><circle cx="405.3" cy="163.9" r="1.1" fill="#000"/><text x="402" y="168" text-anchor="end" class="tk">150</text><circle cx="403.6" cy="132.9" r="1.1" fill="#000"/><text x="400.3" y="137" text-anchor="end" class="tk">200</text><circle cx="401.8" cy="102" r="1.1" fill="#000"/><text x="398.5" y="106.1" text-anchor="end" class="tk">250</text><circle cx="400.1" cy="71" r="1.1" fill="#000"/><text x="396.8" y="75.1" text-anchor="end" class="tk">300</text><circle cx="398.3" cy="40" r="1.1" fill="#000"/><text x="395" y="44.1" text-anchor="end" class="tk">350</text><circle cx="407.5" cy="202" r="1.1" fill="#000"/><text transform="translate(401.1 209.4) rotate(-28)" text-anchor="middle" class="tk">60</text><circle cx="440.8" cy="216.1" r="1.1" fill="#000"/><text transform="translate(434.4 223.5) rotate(-28)" text-anchor="middle" class="tk">55</text><circle cx="474.1" cy="230.2" r="1.1" fill="#000"/><text transform="translate(467.8 237.6) rotate(-28)" text-anchor="middle" class="tk">50</text><circle cx="507.5" cy="244.3" r="1.1" fill="#000"/><text transform="translate(501.1 251.7) rotate(-28)" text-anchor="middle" class="tk">45</text><circle cx="540.8" cy="258.4" r="1.1" fill="#000"/><text transform="translate(534.4 265.8) rotate(-28)" text-anchor="middle" class="tk">40</text><circle cx="540.8" cy="258.4" r="1.1" fill="#000"/><text transform="translate(547.4 267.4) rotate(-28)" text-anchor="middle" class="tk">200</text><circle cx="574.2" cy="244.2" r="1.1" fill="#000"/><text transform="translate(580.8 253.2) rotate(-28)" text-anchor="middle" class="tk">250</text><circle cx="607.5" cy="229.9" r="1.1" fill="#000"/><text transform="translate(614.1 238.9) rotate(-28)" text-anchor="middle" class="tk">300</text><circle cx="640.9" cy="215.7" r="1.1" fill="#000"/><text transform="translate(647.5 224.7) rotate(-28)" text-anchor="middle" class="tk">350</text><circle cx="674.3" cy="201.5" r="1.1" fill="#000"/><text transform="translate(680.9 210.5) rotate(-28)" text-anchor="middle" class="tk">400</text><text transform="translate(448.1 252.2) rotate(23.5) skewX(20) scale(1.122 1)" text-anchor="middle" font-size="11.6" font-weight="bold">X<tspan font-size="7.6" dy="2.3">2</tspan><tspan dy="-2.3">: Span 60 (mg)</tspan></text><text transform="translate(633 252.2) rotate(-22) skewX(-18) scale(1.114 1)" text-anchor="middle" font-size="11.6" font-weight="bold">X<tspan font-size="7.6" dy="2.3">1</tspan><tspan dy="-2.3">: SPC (mg)</tspan></text><text transform="translate(371.8 110) rotate(-93) scale(1.117 1)" text-anchor="middle" font-size="11.2" font-weight="bold">Y<tspan font-size="7.3" dy="2.2">2</tspan><tspan dy="-2.2">: Vesicle size (nm)</tspan></text></g><g><path d="M391.5 507.7L527.2 462.6L527.2 315.6L382.6 344.5Z" fill="#fff"/><path d="M663.2 507.1L527.2 462.6L527.2 315.6L672.2 344Z" fill="#fff"/><path d="M389.4 468.8L527.2 427.6L665.3 468.3M387.7 437.8L527.2 399.6L667.1 437.2M386 406.7L527.2 371.6L668.8 406.1M384.3 375.6L527.2 343.6L670.5 375.1M382.6 344.5L527.2 315.6L672.2 344M391.5 507.7L382.6 344.5M663.2 507.1L672.2 344M423.8 458.5L418.8 337.3M630.8 458.1L636 336.9M458.3 448.2L454.9 330.1M596.3 447.9L599.7 329.8M492.7 437.9L491.1 322.8M561.7 437.8L563.5 322.7M527.2 462.6L527.2 315.6" fill="none" stroke="#3c3c3c" stroke-width="0.75"/><path d="M391.5 507.7L527.2 462.6L663.2 507.1L527.2 564.6Z" fill="#696969" stroke="#222" stroke-width="0.9"/><path d="M403.9 512.9L408.1 513.7L410.5 514.1L414.7 514.8L418 515.4L420.5 515.8L425.2 516.6L428 517.1L430.5 517.5L435.6 518.3L438.1 518.7L440.8 519.1L445.8 519.9L448.3 520.3L450.9 520.7L455.8 521.4L458.6 521.8L461.2 522.1L465.6 522.7L469.1 523.2L471.7 523.5L475.2 524L479.7 524.5L482.3 524.8L485 525.1L489 525.6L493.2 526L496 526.3L498.7 526.5L502.2 526.9L506.5 527.2L510 527.5L512.9 527.7L515.8 527.9L518.8 528.1L522.8 528.3L526.7 528.5L530.5 528.6L534 528.7L537.1 528.8L540.3 528.9L543.6 528.9L547 528.9L550.4 528.8L553.9 528.8L557.5 528.7L561.2 528.5L564.4 528.3L567.4 528.1L570.3 527.9L573.2 527.6L577.4 527.2L581.4 526.7L584 526.4L586.9 525.9L591.6 525.2L594.1 524.7L598 524L601.1 523.3L604.7 522.5L607.8 521.8L612.1 520.7L614.2 520.1L618.3 519L622.3 517.7L624.2 517.1L628.1 515.9L631.8 514.6L635.5 513.2L639.1 511.9L642.6 510.5L646.1 509.1L649.5 507.7L652.8 506.2L656.1 504.8" fill="none" stroke="#1285ed" stroke-width="1.4"/><path d="M409.4 501.8L412.1 502.1L416 502.6L420.3 503.1L423.1 503.5L425.8 503.8L429.2 504.2L433.5 504.6L437 505L439.8 505.3L442.7 505.6L446.2 505.9L450.3 506.3L454.2 506.6L457.1 506.9L460.1 507.1L463 507.3L466.4 507.6L470.3 507.8L474.1 508L477.9 508.3L481.2 508.4L484.3 508.6L487.5 508.7L490.7 508.8L493.9 508.9L497.1 509L500.4 509.1L503.7 509.1L507.1 509.1L510.5 509.1L514 509.1L517.5 509.1L521.1 509L524.7 508.9L528.4 508.8L532.2 508.6L535.6 508.5L538.6 508.3L541.5 508.1L544.4 507.9L548.2 507.6L552.5 507.3L555.7 507L558.4 506.7L561.4 506.3L566.2 505.8L569 505.4L571.6 505.1L576.4 504.4L579.1 503.9L581.9 503.5L586.3 502.7L588.7 502.2L593.3 501.3L595.6 500.9L600.1 499.9L602.3 499.4L606.7 498.4L608.8 497.9L613.1 496.8L617.2 495.7L619.3 495.2L623.3 494.1" fill="none" stroke="#12d0ed" stroke-width="1.4"/><path d="M434.6 493.4L437.7 493.6L440.7 493.8L444.4 494L448.1 494.2L451.8 494.4L455.5 494.6L459.1 494.8L462.7 494.9L466.1 495L469.4 495.1L472.7 495.2L476 495.3L479.4 495.3L482.8 495.4L486.3 495.4L489.8 495.4L493.3 495.4L496.5 495.3L499.7 495.3L502.9 495.2L506 495.1L509.1 495L512.2 494.9L515.6 494.8L519.6 494.6L523.6 494.4L527 494.1L529.8 493.9L532.7 493.7L536.2 493.5L540.6 493.1L543.7 492.8L546.4 492.5L549.8 492.1L554.4 491.6L557 491.3L559.5 491L564.6 490.3L567.1 489.9L570.1 489.5L574.4 488.8L576.8 488.4L581.6 487.6L583.9 487.1L588 486.4L590.8 485.8L594.7 485L595.3 484.9" fill="none" stroke="#12edbe" stroke-width="1.4"/><path d="M462.1 484.2L465.6 484.3L469.1 484.3L472.6 484.3L476.2 484.3L479.6 484.3L482.8 484.2L485.9 484.2L489 484.1L492.1 484L495.1 483.9L498.7 483.8L502.6 483.6L506.6 483.4L510 483.3L512.8 483.1L515.7 482.9L519.1 482.7L523.4 482.4L526.9 482.1L529.7 481.8L532.4 481.6L536.9 481.2L540.4 480.8L543 480.5L546.5 480.1L550.8 479.6L553.3 479.3L556.7 478.8L560.8 478.3L563.3 477.9L567.7 477.2L570.5 476.8" fill="none" stroke="#12ed72" stroke-width="1.4"/><path d="M492.6 474.1L496.6 473.9L499.6 473.8L502.5 473.6L505.3 473.4L509.2 473.2L513.5 472.9L516.5 472.6L519.2 472.4L522.5 472.1L527.1 471.7L529.9 471.4L532.6 471.2L536.7 470.7L540.4 470.3L542.9 470L546.8 469.6L548 469.4" fill="none" stroke="#12ed24" stroke-width="1.4"/><g stroke="#111" stroke-width="0.45" stroke-linejoin="round"><path d="M528.6 376.7L534.3 374.2L527.2 370.1L521.6 372.5Z" fill="#28ff00"/><path d="M535.7 380.8L541.3 378.4L534.3 374.2L528.6 376.7Z" fill="#0fff00"/><path d="M542.7 384.9L548.4 382.5L541.3 378.4L535.7 380.8Z" fill="#00ff0c"/><path d="M549.8 388.9L555.4 386.5L548.4 382.5L542.7 384.9Z" fill="#00ff28"/><path d="M556.8 392.9L562.4 390.6L555.4 386.5L549.8 388.9Z" fill="#00ff43"/><path d="M563.8 396.9L569.4 394.6L562.4 390.6L556.8 392.9Z" fill="#00ff5d"/><path d="M570.8 400.8L576.4 398.5L569.4 394.6L563.8 396.9Z" fill="#00ff77"/><path d="M577.8 404.7L583.4 402.4L576.4 398.5L570.8 400.8Z" fill="#00ff90"/><path d="M584.8 408.6L590.4 406.3L583.4 402.4L577.8 404.7Z" fill="#00ffa8"/><path d="M591.7 412.4L597.4 410.2L590.4 406.3L584.8 408.6Z" fill="#00ffc0"/><path d="M598.7 416.2L604.3 414L597.4 410.2L591.7 412.4Z" fill="#00ffd7"/><path d="M605.7 419.9L611.3 417.7L604.3 414L598.7 416.2Z" fill="#00ffed"/><path d="M612.6 423.6L618.2 421.5L611.3 417.7L605.7 419.9Z" fill="#00fcff"/><path d="M619.5 427.3L625.1 425.1L618.2 421.5L612.6 423.6Z" fill="#00e8ff"/><path d="M626.5 430.9L632.1 428.8L625.1 425.1L619.5 427.3Z" fill="#00d4ff"/><path d="M633.4 434.4L639 432.4L632.1 428.8L626.5 430.9Z" fill="#00c1ff"/><path d="M640.3 438L645.9 435.9L639 432.4L633.4 434.4Z" fill="#00afff"/><path d="M647.2 441.4L652.8 439.4L645.9 435.9L640.3 438Z" fill="#009eff"/><path d="M654.1 444.8L659.7 442.9L652.8 439.4L647.2 441.4Z" fill="#008dff"/><path d="M661 448.2L666.6 446.2L659.7 442.9L654.1 444.8Z" fill="#007dff"/><path d="M523 379.2L528.6 376.7L521.6 372.5L515.9 375Z" fill="#1dff00"/><path d="M530.1 383.3L535.7 380.8L528.6 376.7L523 379.2Z" fill="#04ff00"/><path d="M537.1 387.3L542.7 384.9L535.7 380.8L530.1 383.3Z" fill="#00ff18"/><path d="M544.1 391.4L549.8 388.9L542.7 384.9L537.1 387.3Z" fill="#00ff33"/><path d="M551.2 395.3L556.8 392.9L549.8 388.9L544.1 391.4Z" fill="#00ff4d"/><path d="M558.2 399.3L563.8 396.9L556.8 392.9L551.2 395.3Z" fill="#00ff67"/><path d="M565.2 403.2L570.8 400.8L563.8 396.9L558.2 399.3Z" fill="#00ff80"/><path d="M572.2 407.1L577.8 404.7L570.8 400.8L565.2 403.2Z" fill="#00ff98"/><path d="M579.2 410.9L584.8 408.6L577.8 404.7L572.2 407.1Z" fill="#00ffb0"/><path d="M586.1 414.7L591.7 412.4L584.8 408.6L579.2 410.9Z" fill="#00ffc6"/><path d="M593.1 418.5L598.7 416.2L591.7 412.4L586.1 414.7Z" fill="#00ffdd"/><path d="M600 422.2L605.7 419.9L598.7 416.2L593.1 418.5Z" fill="#00fff2"/><path d="M607 425.8L612.6 423.6L605.7 419.9L600 422.2Z" fill="#00f8ff"/><path d="M613.9 429.5L619.5 427.3L612.6 423.6L607 425.8Z" fill="#00e4ff"/><path d="M620.9 433L626.5 430.9L619.5 427.3L613.9 429.5Z" fill="#00d1ff"/><path d="M627.8 436.6L633.4 434.4L626.5 430.9L620.9 433Z" fill="#00bfff"/><path d="M634.7 440L640.3 438L633.4 434.4L627.8 436.6Z" fill="#00aeff"/><path d="M641.6 443.5L647.2 441.4L640.3 438L634.7 440Z" fill="#009dff"/><path d="M648.5 446.8L654.1 444.8L647.2 441.4L641.6 443.5Z" fill="#008dff"/><path d="M655.4 450.2L661 448.2L654.1 444.8L648.5 446.8Z" fill="#007eff"/><path d="M517.3 381.7L523 379.2L515.9 375L510.3 377.6Z" fill="#11ff00"/><path d="M524.4 385.8L530.1 383.3L523 379.2L517.3 381.7Z" fill="#00ff08"/><path d="M531.5 389.8L537.1 387.3L530.1 383.3L524.4 385.8Z" fill="#00ff23"/><path d="M538.5 393.8L544.1 391.4L537.1 387.3L531.5 389.8Z" fill="#00ff3e"/><path d="M545.5 397.8L551.2 395.3L544.1 391.4L538.5 393.8Z" fill="#00ff58"/><path d="M552.6 401.7L558.2 399.3L551.2 395.3L545.5 397.8Z" fill="#00ff70"/><path d="M559.6 405.6L565.2 403.2L558.2 399.3L552.6 401.7Z" fill="#00ff89"/><path d="M566.6 409.4L572.2 407.1L565.2 403.2L559.6 405.6Z" fill="#00ffa0"/><path d="M573.5 413.3L579.2 410.9L572.2 407.1L566.6 409.4Z" fill="#00ffb7"/><path d="M580.5 417L586.1 414.7L579.2 410.9L573.5 413.3Z" fill="#00ffcd"/><path d="M587.5 420.7L593.1 418.5L586.1 414.7L580.5 417Z" fill="#00ffe3"/><path d="M594.4 424.4L600 422.2L593.1 418.5L587.5 420.7Z" fill="#00fff7"/><path d="M601.4 428.1L607 425.8L600 422.2L594.4 424.4Z" fill="#00f3ff"/><path d="M608.3 431.6L613.9 429.5L607 425.8L601.4 428.1Z" fill="#00e0ff"/><path d="M615.3 435.2L620.9 433L613.9 429.5L608.3 431.6Z" fill="#00ceff"/><path d="M622.2 438.7L627.8 436.6L620.9 433L615.3 435.2Z" fill="#00bdff"/><path d="M629.1 442.1L634.7 440L627.8 436.6L622.2 438.7Z" fill="#00acff"/><path d="M636 445.5L641.6 443.5L634.7 440L629.1 442.1Z" fill="#009cff"/><path d="M642.9 448.9L648.5 446.8L641.6 443.5L636 445.5Z" fill="#008dff"/><path d="M649.8 452.2L655.4 450.2L648.5 446.8L642.9 448.9Z" fill="#007eff"/><path d="M511.7 384.2L517.3 381.7L510.3 377.6L504.6 380.2Z" fill="#05ff00"/><path d="M518.8 388.3L524.4 385.8L517.3 381.7L511.7 384.2Z" fill="#00ff15"/><path d="M525.8 392.3L531.5 389.8L524.4 385.8L518.8 388.3Z" fill="#00ff30"/><path d="M532.9 396.3L538.5 393.8L531.5 389.8L525.8 392.3Z" fill="#00ff49"/><path d="M539.9 400.2L545.5 397.8L538.5 393.8L532.9 396.3Z" fill="#00ff62"/><path d="M546.9 404.2L552.6 401.7L545.5 397.8L539.9 400.2Z" fill="#00ff7b"/><path d="M553.9 408L559.6 405.6L552.6 401.7L546.9 404.2Z" fill="#00ff92"/><path d="M560.9 411.8L566.6 409.4L559.6 405.6L553.9 408Z" fill="#00ffa9"/><path d="M567.9 415.6L573.5 413.3L566.6 409.4L560.9 411.8Z" fill="#00ffbf"/><path d="M574.9 419.4L580.5 417L573.5 413.3L567.9 415.6Z" fill="#00ffd4"/><path d="M581.9 423.1L587.5 420.7L580.5 417L574.9 419.4Z" fill="#00ffe9"/><path d="M588.8 426.7L594.4 424.4L587.5 420.7L581.9 423.1Z" fill="#00fffd"/><path d="M595.8 430.3L601.4 428.1L594.4 424.4L588.8 426.7Z" fill="#00eeff"/><path d="M602.7 433.9L608.3 431.6L601.4 428.1L595.8 430.3Z" fill="#00dcff"/><path d="M609.7 437.4L615.3 435.2L608.3 431.6L602.7 433.9Z" fill="#00cbff"/><path d="M616.6 440.9L622.2 438.7L615.3 435.2L609.7 437.4Z" fill="#00baff"/><path d="M623.5 444.3L629.1 442.1L622.2 438.7L616.6 440.9Z" fill="#00aaff"/><path d="M630.4 447.6L636 445.5L629.1 442.1L623.5 444.3Z" fill="#009aff"/><path d="M637.4 450.9L642.9 448.9L636 445.5L630.4 447.6Z" fill="#008cff"/><path d="M644.3 454.2L649.8 452.2L642.9 448.9L637.4 450.9Z" fill="#007eff"/><path d="M506.1 386.8L511.7 384.2L504.6 380.2L499 382.8Z" fill="#00ff08"/><path d="M513.2 390.9L518.8 388.3L511.7 384.2L506.1 386.8Z" fill="#00ff22"/><path d="M520.2 394.9L525.8 392.3L518.8 388.3L513.2 390.9Z" fill="#00ff3c"/><path d="M527.3 398.8L532.9 396.3L525.8 392.3L520.2 394.9Z" fill="#00ff55"/><path d="M534.3 402.8L539.9 400.2L532.9 396.3L527.3 398.8Z" fill="#00ff6d"/><path d="M541.3 406.6L546.9 404.2L539.9 400.2L534.3 402.8Z" fill="#00ff85"/><path d="M548.3 410.5L553.9 408L546.9 404.2L541.3 406.6Z" fill="#00ff9c"/><path d="M555.3 414.3L560.9 411.8L553.9 408L548.3 410.5Z" fill="#00ffb2"/><path d="M562.3 418L567.9 415.6L560.9 411.8L555.3 414.3Z" fill="#00ffc7"/><path d="M569.3 421.7L574.9 419.4L567.9 415.6L562.3 418Z" fill="#00ffdc"/><path d="M576.3 425.4L581.9 423.1L574.9 419.4L569.3 421.7Z" fill="#00fff0"/><path d="M583.2 429L588.8 426.7L581.9 423.1L576.3 425.4Z" fill="#00fbff"/><path d="M590.2 432.6L595.8 430.3L588.8 426.7L583.2 429Z" fill="#00e9ff"/><path d="M597.1 436.1L602.7 433.9L595.8 430.3L590.2 432.6Z" fill="#00d7ff"/><path d="M604.1 439.6L609.7 437.4L602.7 433.9L597.1 436.1Z" fill="#00c7ff"/><path d="M611 443.1L616.6 440.9L609.7 437.4L604.1 439.6Z" fill="#00b7ff"/><path d="M617.9 446.4L623.5 444.3L616.6 440.9L611 443.1Z" fill="#00a7ff"/><path d="M624.9 449.8L630.4 447.6L623.5 444.3L617.9 446.4Z" fill="#0099ff"/><path d="M631.8 453L637.4 450.9L630.4 447.6L624.9 449.8Z" fill="#008bff"/><path d="M638.7 456.3L644.3 454.2L637.4 450.9L631.8 453Z" fill="#007eff"/><path d="M500.5 389.5L506.1 386.8L499 382.8L493.4 385.4Z" fill="#00ff16"/><path d="M507.5 393.5L513.2 390.9L506.1 386.8L500.5 389.5Z" fill="#00ff30"/><path d="M514.6 397.5L520.2 394.9L513.2 390.9L507.5 393.5Z" fill="#00ff49"/><path d="M521.6 401.4L527.3 398.8L520.2 394.9L514.6 397.5Z" fill="#00ff61"/><path d="M528.7 405.3L534.3 402.8L527.3 398.8L521.6 401.4Z" fill="#00ff79"/><path d="M535.7 409.2L541.3 406.6L534.3 402.8L528.7 405.3Z" fill="#00ff90"/><path d="M542.7 413L548.3 410.5L541.3 406.6L535.7 409.2Z" fill="#00ffa6"/><path d="M549.7 416.7L555.3 414.3L548.3 410.5L542.7 413Z" fill="#00ffbb"/><path d="M556.7 420.5L562.3 418L555.3 414.3L549.7 416.7Z" fill="#00ffd0"/><path d="M563.7 424.2L569.3 421.7L562.3 418L556.7 420.5Z" fill="#00ffe4"/><path d="M570.6 427.8L576.3 425.4L569.3 421.7L563.7 424.2Z" fill="#00fff7"/><path d="M577.6 431.4L583.2 429L576.3 425.4L570.6 427.8Z" fill="#00f5ff"/><path d="M584.6 434.9L590.2 432.6L583.2 429L577.6 431.4Z" fill="#00e3ff"/><path d="M591.5 438.4L597.1 436.1L590.2 432.6L584.6 434.9Z" fill="#00d2ff"/><path d="M598.5 441.9L604.1 439.6L597.1 436.1L591.5 438.4Z" fill="#00c2ff"/><path d="M605.4 445.3L611 443.1L604.1 439.6L598.5 441.9Z" fill="#00b3ff"/><path d="M612.3 448.6L617.9 446.4L611 443.1L605.4 445.3Z" fill="#00a5ff"/><path d="M619.3 451.9L624.9 449.8L617.9 446.4L612.3 448.6Z" fill="#0097ff"/><path d="M626.2 455.2L631.8 453L624.9 449.8L619.3 451.9Z" fill="#0089ff"/><path d="M633.1 458.4L638.7 456.3L631.8 453L626.2 455.2Z" fill="#007dff"/><path d="M494.9 392.1L500.5 389.5L493.4 385.4L487.8 388.1Z" fill="#00ff25"/><path d="M501.9 396.1L507.5 393.5L500.5 389.5L494.9 392.1Z" fill="#00ff3e"/><path d="M509 400.1L514.6 397.5L507.5 393.5L501.9 396.1Z" fill="#00ff56"/><path d="M516 404L521.6 401.4L514.6 397.5L509 400.1Z" fill="#00ff6e"/><path d="M523.1 407.9L528.7 405.3L521.6 401.4L516 404Z" fill="#00ff84"/><path d="M530.1 411.7L535.7 409.2L528.7 405.3L523.1 407.9Z" fill="#00ff9b"/><path d="M537.1 415.5L542.7 413L535.7 409.2L530.1 411.7Z" fill="#00ffb0"/><path d="M544.1 419.2L549.7 416.7L542.7 413L537.1 415.5Z" fill="#00ffc5"/><path d="M551.1 423L556.7 420.5L549.7 416.7L544.1 419.2Z" fill="#00ffd9"/><path d="M558.1 426.6L563.7 424.2L556.7 420.5L551.1 423Z" fill="#00ffec"/><path d="M565 430.2L570.6 427.8L563.7 424.2L558.1 426.6Z" fill="#00ffff"/><path d="M572 433.8L577.6 431.4L570.6 427.8L565 430.2Z" fill="#00eeff"/><path d="M579 437.3L584.6 434.9L577.6 431.4L572 433.8Z" fill="#00ddff"/><path d="M585.9 440.8L591.5 438.4L584.6 434.9L579 437.3Z" fill="#00cdff"/><path d="M592.9 444.2L598.5 441.9L591.5 438.4L585.9 440.8Z" fill="#00beff"/><path d="M599.8 447.5L605.4 445.3L598.5 441.9L592.9 444.2Z" fill="#00afff"/><path d="M606.8 450.9L612.3 448.6L605.4 445.3L599.8 447.5Z" fill="#00a1ff"/><path d="M613.7 454.1L619.3 451.9L612.3 448.6L606.8 450.9Z" fill="#0094ff"/><path d="M620.6 457.3L626.2 455.2L619.3 451.9L613.7 454.1Z" fill="#0088ff"/><path d="M627.5 460.5L633.1 458.4L626.2 455.2L620.6 457.3Z" fill="#007cff"/><path d="M489.2 394.8L494.9 392.1L487.8 388.1L482.2 390.8Z" fill="#00ff34"/><path d="M496.3 398.8L501.9 396.1L494.9 392.1L489.2 394.8Z" fill="#00ff4c"/><path d="M503.4 402.7L509 400.1L501.9 396.1L496.3 398.8Z" fill="#00ff63"/><path d="M510.4 406.6L516 404L509 400.1L503.4 402.7Z" fill="#00ff7a"/><path d="M517.4 410.5L523.1 407.9L516 404L510.4 406.6Z" fill="#00ff90"/><path d="M524.5 414.3L530.1 411.7L523.1 407.9L517.4 410.5Z" fill="#00ffa6"/><path d="M531.5 418.1L537.1 415.5L530.1 411.7L524.5 414.3Z" fill="#00ffbb"/><path d="M538.5 421.8L544.1 419.2L537.1 415.5L531.5 418.1Z" fill="#00ffcf"/><path d="M545.5 425.5L551.1 423L544.1 419.2L538.5 421.8Z" fill="#00ffe2"/><path d="M552.5 429.1L558.1 426.6L551.1 423L545.5 425.5Z" fill="#00fff5"/><path d="M559.4 432.7L565 430.2L558.1 426.6L552.5 429.1Z" fill="#00f8ff"/><path d="M566.4 436.2L572 433.8L565 430.2L559.4 432.7Z" fill="#00e7ff"/><path d="M573.4 439.7L579 437.3L572 433.8L566.4 436.2Z" fill="#00d7ff"/><path d="M580.3 443.1L585.9 440.8L579 437.3L573.4 439.7Z" fill="#00c8ff"/><path d="M587.3 446.5L592.9 444.2L585.9 440.8L580.3 443.1Z" fill="#00b9ff"/><path d="M594.2 449.8L599.8 447.5L592.9 444.2L587.3 446.5Z" fill="#00abff"/><path d="M601.2 453.1L606.8 450.9L599.8 447.5L594.2 449.8Z" fill="#009eff"/><path d="M608.1 456.3L613.7 454.1L606.8 450.9L601.2 453.1Z" fill="#0091ff"/><path d="M615 459.5L620.6 457.3L613.7 454.1L608.1 456.3Z" fill="#0086ff"/><path d="M622 462.6L627.5 460.5L620.6 457.3L615 459.5Z" fill="#007aff"/><path d="M483.6 397.6L489.2 394.8L482.2 390.8L476.6 393.6Z" fill="#00ff43"/><path d="M490.7 401.5L496.3 398.8L489.2 394.8L483.6 397.6Z" fill="#00ff5a"/><path d="M497.8 405.4L503.4 402.7L496.3 398.8L490.7 401.5Z" fill="#00ff71"/><path d="M504.8 409.3L510.4 406.6L503.4 402.7L497.8 405.4Z" fill="#00ff87"/><path d="M511.8 413.1L517.4 410.5L510.4 406.6L504.8 409.3Z" fill="#00ff9d"/><path d="M518.9 416.9L524.5 414.3L517.4 410.5L511.8 413.1Z" fill="#00ffb2"/><path d="M525.9 420.7L531.5 418.1L524.5 414.3L518.9 416.9Z" fill="#00ffc6"/><path d="M532.9 424.4L538.5 421.8L531.5 418.1L525.9 420.7Z" fill="#00ffd9"/><path d="M539.9 428L545.5 425.5L538.5 421.8L532.9 424.4Z" fill="#00ffeb"/><path d="M546.9 431.6L552.5 429.1L545.5 425.5L539.9 428Z" fill="#00fffd"/><path d="M553.8 435.2L559.4 432.7L552.5 429.1L546.9 431.6Z" fill="#00f0ff"/><path d="M560.8 438.7L566.4 436.2L559.4 432.7L553.8 435.2Z" fill="#00e0ff"/><path d="M567.8 442.1L573.4 439.7L566.4 436.2L560.8 438.7Z" fill="#00d1ff"/><path d="M574.7 445.5L580.3 443.1L573.4 439.7L567.8 442.1Z" fill="#00c2ff"/><path d="M581.7 448.9L587.3 446.5L580.3 443.1L574.7 445.5Z" fill="#00b4ff"/><path d="M588.6 452.2L594.2 449.8L587.3 446.5L581.7 448.9Z" fill="#00a7ff"/><path d="M595.6 455.4L601.2 453.1L594.2 449.8L588.6 452.2Z" fill="#009aff"/><path d="M602.5 458.6L608.1 456.3L601.2 453.1L595.6 455.4Z" fill="#008eff"/><path d="M609.5 461.7L615 459.5L608.1 456.3L602.5 458.6Z" fill="#0083ff"/><path d="M616.4 464.8L622 462.6L615 459.5L609.5 461.7Z" fill="#0079ff"/><path d="M478 400.4L483.6 397.6L476.6 393.6L471 396.4Z" fill="#00ff52"/><path d="M485.1 404.3L490.7 401.5L483.6 397.6L478 400.4Z" fill="#00ff69"/><path d="M492.2 408.2L497.8 405.4L490.7 401.5L485.1 404.3Z" fill="#00ff7f"/><path d="M499.2 412L504.8 409.3L497.8 405.4L492.2 408.2Z" fill="#00ff95"/><path d="M506.2 415.8L511.8 413.1L504.8 409.3L499.2 412Z" fill="#00ffa9"/><path d="M513.3 419.6L518.9 416.9L511.8 413.1L506.2 415.8Z" fill="#00ffbe"/><path d="M520.3 423.3L525.9 420.7L518.9 416.9L513.3 419.6Z" fill="#00ffd1"/><path d="M527.3 427L532.9 424.4L525.9 420.7L520.3 423.3Z" fill="#00ffe3"/><path d="M534.3 430.6L539.9 428L532.9 424.4L527.3 427Z" fill="#00fff5"/><path d="M541.3 434.2L546.9 431.6L539.9 428L534.3 430.6Z" fill="#00f8ff"/><path d="M548.2 437.7L553.8 435.2L546.9 431.6L541.3 434.2Z" fill="#00e8ff"/><path d="M555.2 441.2L560.8 438.7L553.8 435.2L548.2 437.7Z" fill="#00d8ff"/><path d="M562.2 444.6L567.8 442.1L560.8 438.7L555.2 441.2Z" fill="#00caff"/><path d="M569.1 447.9L574.7 445.5L567.8 442.1L562.2 444.6Z" fill="#00bcff"/><path d="M576.1 451.3L581.7 448.9L574.7 445.5L569.1 447.9Z" fill="#00afff"/><path d="M583 454.5L588.6 452.2L581.7 448.9L576.1 451.3Z" fill="#00a2ff"/><path d="M590 457.7L595.6 455.4L588.6 452.2L583 454.5Z" fill="#0096ff"/><path d="M596.9 460.9L602.5 458.6L595.6 455.4L590 457.7Z" fill="#008bff"/><path d="M603.9 464L609.5 461.7L602.5 458.6L596.9 460.9Z" fill="#0081ff"/><path d="M610.8 467L616.4 464.8L609.5 461.7L603.9 464Z" fill="#0077ff"/><path d="M472.5 403.2L478 400.4L471 396.4L465.4 399.2Z" fill="#00ff62"/><path d="M479.5 407.1L485.1 404.3L478 400.4L472.5 403.2Z" fill="#00ff78"/><path d="M486.6 411L492.2 408.2L485.1 404.3L479.5 407.1Z" fill="#00ff8e"/><path d="M493.6 414.8L499.2 412L492.2 408.2L486.6 411Z" fill="#00ffa2"/><path d="M500.6 418.6L506.2 415.8L499.2 412L493.6 414.8Z" fill="#00ffb6"/><path d="M507.7 422.3L513.3 419.6L506.2 415.8L500.6 418.6Z" fill="#00ffca"/><path d="M514.7 426L520.3 423.3L513.3 419.6L507.7 422.3Z" fill="#00ffdc"/><path d="M521.7 429.6L527.3 427L520.3 423.3L514.7 426Z" fill="#00ffee"/><path d="M528.7 433.2L534.3 430.6L527.3 427L521.7 429.6Z" fill="#00ffff"/><path d="M535.7 436.7L541.3 434.2L534.3 430.6L528.7 433.2Z" fill="#00efff"/><path d="M542.7 440.2L548.2 437.7L541.3 434.2L535.7 436.7Z" fill="#00dfff"/><path d="M549.6 443.7L555.2 441.2L548.2 437.7L542.7 440.2Z" fill="#00d1ff"/><path d="M556.6 447.1L562.2 444.6L555.2 441.2L549.6 443.7Z" fill="#00c3ff"/><path d="M563.6 450.4L569.1 447.9L562.2 444.6L556.6 447.1Z" fill="#00b5ff"/><path d="M570.5 453.7L576.1 451.3L569.1 447.9L563.6 450.4Z" fill="#00a9ff"/><path d="M577.5 456.9L583 454.5L576.1 451.3L570.5 453.7Z" fill="#009dff"/><path d="M584.4 460.1L590 457.7L583 454.5L577.5 456.9Z" fill="#0092ff"/><path d="M591.3 463.2L596.9 460.9L590 457.7L584.4 460.1Z" fill="#0087ff"/><path d="M598.3 466.3L603.9 464L596.9 460.9L591.3 463.2Z" fill="#007eff"/><path d="M605.2 469.3L610.8 467L603.9 464L598.3 466.3Z" fill="#0074ff"/><path d="M466.9 406L472.5 403.2L465.4 399.2L459.8 402.1Z" fill="#00ff72"/><path d="M473.9 409.9L479.5 407.1L472.5 403.2L466.9 406Z" fill="#00ff88"/><path d="M481 413.8L486.6 411L479.5 407.1L473.9 409.9Z" fill="#00ff9c"/><path d="M488 417.6L493.6 414.8L486.6 411L481 413.8Z" fill="#00ffb0"/><path d="M495.1 421.3L500.6 418.6L493.6 414.8L488 417.6Z" fill="#00ffc4"/><path d="M502.1 425L507.7 422.3L500.6 418.6L495.1 421.3Z" fill="#00ffd6"/><path d="M509.1 428.7L514.7 426L507.7 422.3L502.1 425Z" fill="#00ffe8"/><path d="M516.1 432.3L521.7 429.6L514.7 426L509.1 428.7Z" fill="#00fff9"/><path d="M523.1 435.9L528.7 433.2L521.7 429.6L516.1 432.3Z" fill="#00f4ff"/><path d="M530.1 439.4L535.7 436.7L528.7 433.2L523.1 435.9Z" fill="#00e5ff"/><path d="M537.1 442.8L542.7 440.2L535.7 436.7L530.1 439.4Z" fill="#00d6ff"/><path d="M544 446.2L549.6 443.7L542.7 440.2L537.1 442.8Z" fill="#00c8ff"/><path d="M551 449.6L556.6 447.1L549.6 443.7L544 446.2Z" fill="#00bbff"/><path d="M558 452.9L563.6 450.4L556.6 447.1L551 449.6Z" fill="#00afff"/><path d="M564.9 456.2L570.5 453.7L563.6 450.4L558 452.9Z" fill="#00a3ff"/><path d="M571.9 459.4L577.5 456.9L570.5 453.7L564.9 456.2Z" fill="#0098ff"/><path d="M578.8 462.5L584.4 460.1L577.5 456.9L571.9 459.4Z" fill="#008dff"/><path d="M585.8 465.6L591.3 463.2L584.4 460.1L578.8 462.5Z" fill="#0083ff"/><path d="M592.7 468.6L598.3 466.3L591.3 463.2L585.8 465.6Z" fill="#007aff"/><path d="M599.6 471.6L605.2 469.3L598.3 466.3L592.7 468.6Z" fill="#0072ff"/><path d="M461.3 408.9L466.9 406L459.8 402.1L454.2 405Z" fill="#00ff83"/><path d="M468.4 412.8L473.9 409.9L466.9 406L461.3 408.9Z" fill="#00ff98"/><path d="M475.4 416.6L481 413.8L473.9 409.9L468.4 412.8Z" fill="#00ffac"/><path d="M482.4 420.4L488 417.6L481 413.8L475.4 416.6Z" fill="#00ffbf"/><path d="M489.5 424.1L495.1 421.3L488 417.6L482.4 420.4Z" fill="#00ffd1"/><path d="M496.5 427.8L502.1 425L495.1 421.3L489.5 424.1Z" fill="#00ffe3"/><path d="M503.5 431.4L509.1 428.7L502.1 425L496.5 427.8Z" fill="#00fff5"/><path d="M510.5 435L516.1 432.3L509.1 428.7L503.5 431.4Z" fill="#00f9ff"/><path d="M517.5 438.5L523.1 435.9L516.1 432.3L510.5 435Z" fill="#00eaff"/><path d="M524.5 442L530.1 439.4L523.1 435.9L517.5 438.5Z" fill="#00dbff"/><path d="M531.5 445.5L537.1 442.8L530.1 439.4L524.5 442Z" fill="#00cdff"/><path d="M538.4 448.8L544 446.2L537.1 442.8L531.5 445.5Z" fill="#00c0ff"/><path d="M545.4 452.2L551 449.6L544 446.2L538.4 448.8Z" fill="#00b3ff"/><path d="M552.4 455.4L558 452.9L551 449.6L545.4 452.2Z" fill="#00a8ff"/><path d="M559.3 458.7L564.9 456.2L558 452.9L552.4 455.4Z" fill="#009cff"/><path d="M566.3 461.8L571.9 459.4L564.9 456.2L559.3 458.7Z" fill="#0092ff"/><path d="M573.2 464.9L578.8 462.5L571.9 459.4L566.3 461.8Z" fill="#0088ff"/><path d="M580.2 468L585.8 465.6L578.8 462.5L573.2 464.9Z" fill="#007fff"/><path d="M587.1 470.9L592.7 468.6L585.8 465.6L580.2 468Z" fill="#0077ff"/><path d="M594.1 473.9L599.6 471.6L592.7 468.6L587.1 470.9Z" fill="#006fff"/><path d="M455.7 411.9L461.3 408.9L454.2 405L448.7 408Z" fill="#00ff94"/><path d="M462.8 415.7L468.4 412.8L461.3 408.9L455.7 411.9Z" fill="#00ffa8"/><path d="M469.8 419.5L475.4 416.6L468.4 412.8L462.8 415.7Z" fill="#00ffbb"/><path d="M476.9 423.3L482.4 420.4L475.4 416.6L469.8 419.5Z" fill="#00ffce"/><path d="M483.9 427L489.5 424.1L482.4 420.4L476.9 423.3Z" fill="#00ffdf"/><path d="M490.9 430.6L496.5 427.8L489.5 424.1L483.9 427Z" fill="#00fff1"/><path d="M497.9 434.2L503.5 431.4L496.5 427.8L490.9 430.6Z" fill="#00fdff"/><path d="M504.9 437.8L510.5 435L503.5 431.4L497.9 434.2Z" fill="#00eeff"/><path d="M511.9 441.3L517.5 438.5L510.5 435L504.9 437.8Z" fill="#00dfff"/><path d="M518.9 444.7L524.5 442L517.5 438.5L511.9 441.3Z" fill="#00d1ff"/><path d="M525.9 448.1L531.5 445.5L524.5 442L518.9 444.7Z" fill="#00c4ff"/><path d="M532.9 451.5L538.4 448.8L531.5 445.5L525.9 448.1Z" fill="#00b7ff"/><path d="M539.8 454.8L545.4 452.2L538.4 448.8L532.9 451.5Z" fill="#00abff"/><path d="M546.8 458L552.4 455.4L545.4 452.2L539.8 454.8Z" fill="#00a0ff"/><path d="M553.7 461.2L559.3 458.7L552.4 455.4L546.8 458Z" fill="#0096ff"/><path d="M560.7 464.3L566.3 461.8L559.3 458.7L553.7 461.2Z" fill="#008cff"/><path d="M567.7 467.4L573.2 464.9L566.3 461.8L560.7 464.3Z" fill="#0083ff"/><path d="M574.6 470.4L580.2 468L573.2 464.9L567.7 467.4Z" fill="#007aff"/><path d="M581.5 473.3L587.1 470.9L580.2 468L574.6 470.4Z" fill="#0073ff"/><path d="M588.5 476.2L594.1 473.9L587.1 470.9L581.5 473.3Z" fill="#006cff"/><path d="M450.2 414.9L455.7 411.9L448.7 408L443.1 411Z" fill="#00ffa5"/><path d="M457.2 418.7L462.8 415.7L455.7 411.9L450.2 414.9Z" fill="#00ffb8"/><path d="M464.3 422.4L469.8 419.5L462.8 415.7L457.2 418.7Z" fill="#00ffcb"/><path d="M471.3 426.2L476.9 423.3L469.8 419.5L464.3 422.4Z" fill="#00ffdd"/><path d="M478.3 429.8L483.9 427L476.9 423.3L471.3 426.2Z" fill="#00ffee"/><path d="M485.3 433.5L490.9 430.6L483.9 427L478.3 429.8Z" fill="#00fffe"/><path d="M492.4 437L497.9 434.2L490.9 430.6L485.3 433.5Z" fill="#00f0ff"/><path d="M499.4 440.6L504.9 437.8L497.9 434.2L492.4 437Z" fill="#00e2ff"/><path d="M506.3 444L511.9 441.3L504.9 437.8L499.4 440.6Z" fill="#00d4ff"/><path d="M513.3 447.5L518.9 444.7L511.9 441.3L506.3 444Z" fill="#00c7ff"/><path d="M520.3 450.8L525.9 448.1L518.9 444.7L513.3 447.5Z" fill="#00baff"/><path d="M527.3 454.1L532.9 451.5L525.9 448.1L520.3 450.8Z" fill="#00aeff"/><path d="M534.2 457.4L539.8 454.8L532.9 451.5L527.3 454.1Z" fill="#00a3ff"/><path d="M541.2 460.6L546.8 458L539.8 454.8L534.2 457.4Z" fill="#0098ff"/><path d="M548.2 463.8L553.7 461.2L546.8 458L541.2 460.6Z" fill="#008fff"/><path d="M555.1 466.8L560.7 464.3L553.7 461.2L548.2 463.8Z" fill="#0086ff"/><path d="M562.1 469.9L567.7 467.4L560.7 464.3L555.1 466.8Z" fill="#007dff"/><path d="M569 472.8L574.6 470.4L567.7 467.4L562.1 469.9Z" fill="#0075ff"/><path d="M576 475.7L581.5 473.3L574.6 470.4L569 472.8Z" fill="#006eff"/><path d="M582.9 478.6L588.5 476.2L581.5 473.3L576 475.7Z" fill="#0068ff"/><path d="M444.6 417.9L450.2 414.9L443.1 411L437.5 414Z" fill="#00ffb6"/><path d="M451.7 421.7L457.2 418.7L450.2 414.9L444.6 417.9Z" fill="#00ffc9"/><path d="M458.7 425.4L464.3 422.4L457.2 418.7L451.7 421.7Z" fill="#00ffdb"/><path d="M465.7 429.1L471.3 426.2L464.3 422.4L458.7 425.4Z" fill="#00ffec"/><path d="M472.8 432.8L478.3 429.8L471.3 426.2L465.7 429.1Z" fill="#00fffc"/><path d="M479.8 436.3L485.3 433.5L478.3 429.8L472.8 432.8Z" fill="#00f2ff"/><path d="M486.8 439.9L492.4 437L485.3 433.5L479.8 436.3Z" fill="#00e4ff"/><path d="M493.8 443.4L499.4 440.6L492.4 437L486.8 439.9Z" fill="#00d6ff"/><path d="M500.8 446.8L506.3 444L499.4 440.6L493.8 443.4Z" fill="#00c8ff"/><path d="M507.8 450.2L513.3 447.5L506.3 444L500.8 446.8Z" fill="#00bcff"/><path d="M514.7 453.6L520.3 450.8L513.3 447.5L507.8 450.2Z" fill="#00b0ff"/><path d="M521.7 456.8L527.3 454.1L520.3 450.8L514.7 453.6Z" fill="#00a5ff"/><path d="M528.7 460.1L534.2 457.4L527.3 454.1L521.7 456.8Z" fill="#009aff"/><path d="M535.6 463.2L541.2 460.6L534.2 457.4L528.7 460.1Z" fill="#0090ff"/><path d="M542.6 466.4L548.2 463.8L541.2 460.6L535.6 463.2Z" fill="#0087ff"/><path d="M549.5 469.4L555.1 466.8L548.2 463.8L542.6 466.4Z" fill="#007fff"/><path d="M556.5 472.4L562.1 469.9L555.1 466.8L549.5 469.4Z" fill="#0077ff"/><path d="M563.4 475.3L569 472.8L562.1 469.9L556.5 472.4Z" fill="#0070ff"/><path d="M570.4 478.2L576 475.7L569 472.8L563.4 475.3Z" fill="#006aff"/><path d="M577.3 481L582.9 478.6L576 475.7L570.4 478.2Z" fill="#0064ff"/><path d="M439.1 420.9L444.6 417.9L437.5 414L432 417.1Z" fill="#00ffc8"/><path d="M446.1 424.7L451.7 421.7L444.6 417.9L439.1 420.9Z" fill="#00ffda"/><path d="M453.2 428.4L458.7 425.4L451.7 421.7L446.1 424.7Z" fill="#00ffeb"/><path d="M460.2 432.1L465.7 429.1L458.7 425.4L453.2 428.4Z" fill="#00fffb"/><path d="M467.2 435.7L472.8 432.8L465.7 429.1L460.2 432.1Z" fill="#00f3ff"/><path d="M474.2 439.3L479.8 436.3L472.8 432.8L467.2 435.7Z" fill="#00e4ff"/><path d="M481.2 442.8L486.8 439.9L479.8 436.3L474.2 439.3Z" fill="#00d6ff"/><path d="M488.2 446.3L493.8 443.4L486.8 439.9L481.2 442.8Z" fill="#00c9ff"/><path d="M495.2 449.7L500.8 446.8L493.8 443.4L488.2 446.3Z" fill="#00bdff"/><path d="M502.2 453L507.8 450.2L500.8 446.8L495.2 449.7Z" fill="#00b1ff"/><path d="M509.2 456.3L514.7 453.6L507.8 450.2L502.2 453Z" fill="#00a6ff"/><path d="M516.1 459.6L521.7 456.8L514.7 453.6L509.2 456.3Z" fill="#009bff"/><path d="M523.1 462.8L528.7 460.1L521.7 456.8L516.1 459.6Z" fill="#0091ff"/><path d="M530.1 465.9L535.6 463.2L528.7 460.1L523.1 462.8Z" fill="#0088ff"/><path d="M537 469L542.6 466.4L535.6 463.2L530.1 465.9Z" fill="#0080ff"/><path d="M544 472L549.5 469.4L542.6 466.4L537 469Z" fill="#0078ff"/><path d="M550.9 475L556.5 472.4L549.5 469.4L544 472Z" fill="#0071ff"/><path d="M557.9 477.9L563.4 475.3L556.5 472.4L550.9 475Z" fill="#006bff"/><path d="M564.8 480.7L570.4 478.2L563.4 475.3L557.9 477.9Z" fill="#0065ff"/><path d="M571.8 483.4L577.3 481L570.4 478.2L564.8 480.7Z" fill="#0060ff"/><path d="M433.5 424L439.1 420.9L432 417.1L426.5 420.2Z" fill="#00ffda"/><path d="M440.6 427.8L446.1 424.7L439.1 420.9L433.5 424Z" fill="#00ffeb"/><path d="M447.6 431.5L453.2 428.4L446.1 424.7L440.6 427.8Z" fill="#00fffc"/><path d="M454.6 435.1L460.2 432.1L453.2 428.4L447.6 431.5Z" fill="#00f3ff"/><path d="M461.7 438.7L467.2 435.7L460.2 432.1L454.6 435.1Z" fill="#00e4ff"/><path d="M468.7 442.2L474.2 439.3L467.2 435.7L461.7 438.7Z" fill="#00d6ff"/><path d="M475.7 445.7L481.2 442.8L474.2 439.3L468.7 442.2Z" fill="#00c9ff"/><path d="M482.7 449.2L488.2 446.3L481.2 442.8L475.7 445.7Z" fill="#00bcff"/><path d="M489.6 452.6L495.2 449.7L488.2 446.3L482.7 449.2Z" fill="#00b1ff"/><path d="M496.6 455.9L502.2 453L495.2 449.7L489.6 452.6Z" fill="#00a5ff"/><path d="M503.6 459.2L509.2 456.3L502.2 453L496.6 455.9Z" fill="#009bff"/><path d="M510.6 462.4L516.1 459.6L509.2 456.3L503.6 459.2Z" fill="#0091ff"/><path d="M517.5 465.5L523.1 462.8L516.1 459.6L510.6 462.4Z" fill="#0088ff"/><path d="M524.5 468.6L530.1 465.9L523.1 462.8L517.5 465.5Z" fill="#0080ff"/><path d="M531.4 471.7L537 469L530.1 465.9L524.5 468.6Z" fill="#0078ff"/><path d="M538.4 474.6L544 472L537 469L531.4 471.7Z" fill="#0071ff"/><path d="M545.3 477.6L550.9 475L544 472L538.4 474.6Z" fill="#006aff"/><path d="M552.3 480.4L557.9 477.9L550.9 475L545.3 477.6Z" fill="#0065ff"/><path d="M559.2 483.2L564.8 480.7L557.9 477.9L552.3 480.4Z" fill="#0060ff"/><path d="M566.2 485.9L571.8 483.4L564.8 480.7L559.2 483.2Z" fill="#005cff"/><path d="M428 427.2L433.5 424L426.5 420.2L420.9 423.4Z" fill="#00ffec"/><path d="M435 430.9L440.6 427.8L433.5 424L428 427.2Z" fill="#00fffd"/><path d="M442.1 434.6L447.6 431.5L440.6 427.8L435 430.9Z" fill="#00f2ff"/><path d="M449.1 438.2L454.6 435.1L447.6 431.5L442.1 434.6Z" fill="#00e3ff"/><path d="M456.1 441.7L461.7 438.7L454.6 435.1L449.1 438.2Z" fill="#00d5ff"/><path d="M463.1 445.3L468.7 442.2L461.7 438.7L456.1 441.7Z" fill="#00c8ff"/><path d="M470.1 448.7L475.7 445.7L468.7 442.2L463.1 445.3Z" fill="#00bbff"/><path d="M477.1 452.1L482.7 449.2L475.7 445.7L470.1 448.7Z" fill="#00afff"/><path d="M484.1 455.5L489.6 452.6L482.7 449.2L477.1 452.1Z" fill="#00a4ff"/><path d="M491.1 458.8L496.6 455.9L489.6 452.6L484.1 455.5Z" fill="#009aff"/><path d="M498 462L503.6 459.2L496.6 455.9L491.1 458.8Z" fill="#0090ff"/><path d="M505 465.2L510.6 462.4L503.6 459.2L498 462Z" fill="#0087ff"/><path d="M512 468.3L517.5 465.5L510.6 462.4L505 465.2Z" fill="#007eff"/><path d="M518.9 471.4L524.5 468.6L517.5 465.5L512 468.3Z" fill="#0077ff"/><path d="M525.9 474.4L531.4 471.7L524.5 468.6L518.9 471.4Z" fill="#0070ff"/><path d="M532.8 477.3L538.4 474.6L531.4 471.7L525.9 474.4Z" fill="#0069ff"/><path d="M539.8 480.2L545.3 477.6L538.4 474.6L532.8 477.3Z" fill="#0064ff"/><path d="M546.7 483L552.3 480.4L545.3 477.6L539.8 480.2Z" fill="#005fff"/><path d="M553.7 485.8L559.2 483.2L552.3 480.4L546.7 483Z" fill="#005aff"/><path d="M560.6 488.4L566.2 485.9L559.2 483.2L553.7 485.8Z" fill="#0057ff"/><path d="M422.5 430.4L428 427.2L420.9 423.4L415.4 426.6Z" fill="#00ffff"/><path d="M429.5 434L435 430.9L428 427.2L422.5 430.4Z" fill="#00f0ff"/><path d="M436.5 437.7L442.1 434.6L435 430.9L429.5 434Z" fill="#00e1ff"/><path d="M443.6 441.3L449.1 438.2L442.1 434.6L436.5 437.7Z" fill="#00d3ff"/><path d="M450.6 444.8L456.1 441.7L449.1 438.2L443.6 441.3Z" fill="#00c6ff"/><path d="M457.6 448.3L463.1 445.3L456.1 441.7L450.6 444.8Z" fill="#00b9ff"/><path d="M464.6 451.7L470.1 448.7L463.1 445.3L457.6 448.3Z" fill="#00adff"/><path d="M471.6 455.1L477.1 452.1L470.1 448.7L464.6 451.7Z" fill="#00a2ff"/><path d="M478.5 458.4L484.1 455.5L477.1 452.1L471.6 455.1Z" fill="#0097ff"/><path d="M485.5 461.7L491.1 458.8L484.1 455.5L478.5 458.4Z" fill="#008eff"/><path d="M492.5 464.9L498 462L491.1 458.8L485.5 461.7Z" fill="#0085ff"/><path d="M499.4 468L505 465.2L498 462L492.5 464.9Z" fill="#007cff"/><path d="M506.4 471.1L512 468.3L505 465.2L499.4 468Z" fill="#0074ff"/><path d="M513.4 474.2L518.9 471.4L512 468.3L506.4 471.1Z" fill="#006dff"/><path d="M520.3 477.1L525.9 474.4L518.9 471.4L513.4 474.2Z" fill="#0067ff"/><path d="M527.3 480L532.8 477.3L525.9 474.4L520.3 477.1Z" fill="#0061ff"/><path d="M534.2 482.9L539.8 480.2L532.8 477.3L527.3 480Z" fill="#005cff"/><path d="M541.1 485.6L546.7 483L539.8 480.2L534.2 482.9Z" fill="#0058ff"/><path d="M548.1 488.3L553.7 485.8L546.7 483L541.1 485.6Z" fill="#0055ff"/><path d="M555 491L560.6 488.4L553.7 485.8L548.1 488.3Z" fill="#0052ff"/><path d="M417 433.6L422.5 430.4L415.4 426.6L409.9 429.9Z" fill="#00ecff"/><path d="M424 437.2L429.5 434L422.5 430.4L417 433.6Z" fill="#00deff"/><path d="M431 440.9L436.5 437.7L429.5 434L424 437.2Z" fill="#00d0ff"/><path d="M438 444.4L443.6 441.3L436.5 437.7L431 440.9Z" fill="#00c2ff"/><path d="M445 447.9L450.6 444.8L443.6 441.3L438 444.4Z" fill="#00b6ff"/><path d="M452 451.4L457.6 448.3L450.6 444.8L445 447.9Z" fill="#00aaff"/><path d="M459 454.8L464.6 451.7L457.6 448.3L452 451.4Z" fill="#009fff"/><path d="M466 458.1L471.6 455.1L464.6 451.7L459 454.8Z" fill="#0094ff"/><path d="M473 461.4L478.5 458.4L471.6 455.1L466 458.1Z" fill="#008aff"/><path d="M480 464.7L485.5 461.7L478.5 458.4L473 461.4Z" fill="#0081ff"/><path d="M486.9 467.8L492.5 464.9L485.5 461.7L480 464.7Z" fill="#0079ff"/><path d="M493.9 470.9L499.4 468L492.5 464.9L486.9 467.8Z" fill="#0071ff"/><path d="M500.8 474L506.4 471.1L499.4 468L493.9 470.9Z" fill="#006aff"/><path d="M507.8 477L513.4 474.2L506.4 471.1L500.8 474Z" fill="#0064ff"/><path d="M514.7 479.9L520.3 477.1L513.4 474.2L507.8 477Z" fill="#005eff"/><path d="M521.7 482.8L527.3 480L520.3 477.1L514.7 479.9Z" fill="#0059ff"/><path d="M528.6 485.6L534.2 482.9L527.3 480L521.7 482.8Z" fill="#0055ff"/><path d="M535.6 488.3L541.1 485.6L534.2 482.9L528.6 485.6Z" fill="#0051ff"/><path d="M542.5 491L548.1 488.3L541.1 485.6L535.6 488.3Z" fill="#004eff"/><path d="M549.5 493.6L555 491L548.1 488.3L542.5 491Z" fill="#004cff"/><path d="M411.5 436.8L417 433.6L409.9 429.9L404.4 433.2Z" fill="#00d9ff"/><path d="M418.5 440.5L424 437.2L417 433.6L411.5 436.8Z" fill="#00cbff"/><path d="M425.5 444.1L431 440.9L424 437.2L418.5 440.5Z" fill="#00beff"/><path d="M432.5 447.6L438 444.4L431 440.9L425.5 444.1Z" fill="#00b2ff"/><path d="M439.5 451.1L445 447.9L438 444.4L432.5 447.6Z" fill="#00a6ff"/><path d="M446.5 454.5L452 451.4L445 447.9L439.5 451.1Z" fill="#009bff"/><path d="M453.5 457.9L459 454.8L452 451.4L446.5 454.5Z" fill="#0090ff"/><path d="M460.5 461.2L466 458.1L459 454.8L453.5 457.9Z" fill="#0086ff"/><path d="M467.4 464.5L473 461.4L466 458.1L460.5 461.2Z" fill="#007dff"/><path d="M474.4 467.7L480 464.7L473 461.4L467.4 464.5Z" fill="#0075ff"/><path d="M481.4 470.8L486.9 467.8L480 464.7L474.4 467.7Z" fill="#006dff"/><path d="M488.3 473.9L493.9 470.9L486.9 467.8L481.4 470.8Z" fill="#0066ff"/><path d="M495.3 476.9L500.8 474L493.9 470.9L488.3 473.9Z" fill="#0060ff"/><path d="M502.2 479.8L507.8 477L500.8 474L495.3 476.9Z" fill="#005aff"/><path d="M509.2 482.7L514.7 479.9L507.8 477L502.2 479.8Z" fill="#0055ff"/><path d="M516.1 485.6L521.7 482.8L514.7 479.9L509.2 482.7Z" fill="#0051ff"/><path d="M523.1 488.3L528.6 485.6L521.7 482.8L516.1 485.6Z" fill="#004dff"/><path d="M530 491L535.6 488.3L528.6 485.6L523.1 488.3Z" fill="#004aff"/><path d="M537 493.6L542.5 491L535.6 488.3L530 491Z" fill="#0048ff"/><path d="M543.9 496.2L549.5 493.6L542.5 491L537 493.6Z" fill="#0046ff"/><path d="M406 440.2L411.5 436.8L404.4 433.2L398.9 436.5Z" fill="#00c6ff"/><path d="M413 443.8L418.5 440.5L411.5 436.8L406 440.2Z" fill="#00b9ff"/><path d="M420 447.3L425.5 444.1L418.5 440.5L413 443.8Z" fill="#00acff"/><path d="M427 450.8L432.5 447.6L425.5 444.1L420 447.3Z" fill="#00a1ff"/><path d="M434 454.3L439.5 451.1L432.5 447.6L427 450.8Z" fill="#0095ff"/><path d="M441 457.7L446.5 454.5L439.5 451.1L434 454.3Z" fill="#008bff"/><path d="M448 461L453.5 457.9L446.5 454.5L441 457.7Z" fill="#0081ff"/><path d="M454.9 464.3L460.5 461.2L453.5 457.9L448 461Z" fill="#0078ff"/><path d="M461.9 467.5L467.4 464.5L460.5 461.2L454.9 464.3Z" fill="#006fff"/><path d="M468.9 470.7L474.4 467.7L467.4 464.5L461.9 467.5Z" fill="#0068ff"/><path d="M475.8 473.8L481.4 470.8L474.4 467.7L468.9 470.7Z" fill="#0061ff"/><path d="M482.8 476.8L488.3 473.9L481.4 470.8L475.8 473.8Z" fill="#005aff"/><path d="M489.7 479.8L495.3 476.9L488.3 473.9L482.8 476.8Z" fill="#0055ff"/><path d="M496.7 482.7L502.2 479.8L495.3 476.9L489.7 479.8Z" fill="#0050ff"/><path d="M503.6 485.6L509.2 482.7L502.2 479.8L496.7 482.7Z" fill="#004bff"/><path d="M510.6 488.4L516.1 485.6L509.2 482.7L503.6 485.6Z" fill="#0048ff"/><path d="M517.5 491.1L523.1 488.3L516.1 485.6L510.6 488.4Z" fill="#0045ff"/><path d="M524.4 493.8L530 491L523.1 488.3L517.5 491.1Z" fill="#0043ff"/><path d="M531.4 496.3L537 493.6L530 491L524.4 493.8Z" fill="#0041ff"/><path d="M538.3 498.8L543.9 496.2L537 493.6L531.4 496.3Z" fill="#0040ff"/><path d="M400.5 443.5L406 440.2L398.9 436.5L393.5 439.9Z" fill="#00b3ff"/><path d="M407.5 447.1L413 443.8L406 440.2L400.5 443.5Z" fill="#00a6ff"/><path d="M414.5 450.6L420 447.3L413 443.8L407.5 447.1Z" fill="#009aff"/><path d="M421.5 454.1L427 450.8L420 447.3L414.5 450.6Z" fill="#008fff"/><path d="M428.5 457.5L434 454.3L427 450.8L421.5 454.1Z" fill="#0085ff"/><path d="M435.5 460.9L441 457.7L434 454.3L428.5 457.5Z" fill="#007bff"/><path d="M442.4 464.2L448 461L441 457.7L435.5 460.9Z" fill="#0072ff"/><path d="M449.4 467.5L454.9 464.3L448 461L442.4 464.2Z" fill="#0069ff"/><path d="M456.4 470.6L461.9 467.5L454.9 464.3L449.4 467.5Z" fill="#0061ff"/><path d="M463.3 473.8L468.9 470.7L461.9 467.5L456.4 470.6Z" fill="#005aff"/><path d="M470.3 476.8L475.8 473.8L468.9 470.7L463.3 473.8Z" fill="#0054ff"/><path d="M477.2 479.9L482.8 476.8L475.8 473.8L470.3 476.8Z" fill="#004eff"/><path d="M484.2 482.8L489.7 479.8L482.8 476.8L477.2 479.9Z" fill="#0049ff"/><path d="M491.1 485.7L496.7 482.7L489.7 479.8L484.2 482.8Z" fill="#0045ff"/><path d="M498.1 488.5L503.6 485.6L496.7 482.7L491.1 485.7Z" fill="#0042ff"/><path d="M505 491.2L510.6 488.4L503.6 485.6L498.1 488.5Z" fill="#003fff"/><path d="M512 493.9L517.5 491.1L510.6 488.4L505 491.2Z" fill="#003cff"/><path d="M518.9 496.5L524.4 493.8L517.5 491.1L512 493.9Z" fill="#003bff"/><path d="M525.8 499.1L531.4 496.3L524.4 493.8L518.9 496.5Z" fill="#003aff"/><path d="M532.8 501.5L538.3 498.8L531.4 496.3L525.8 499.1Z" fill="#003aff"/><path d="M395 446.9L400.5 443.5L393.5 439.9L388 443.3Z" fill="#009fff"/><path d="M402 450.5L407.5 447.1L400.5 443.5L395 446.9Z" fill="#0093ff"/><path d="M409 454L414.5 450.6L407.5 447.1L402 450.5Z" fill="#0088ff"/><path d="M416 457.4L421.5 454.1L414.5 450.6L409 454Z" fill="#007dff"/><path d="M423 460.8L428.5 457.5L421.5 454.1L416 457.4Z" fill="#0074ff"/><path d="M430 464.2L435.5 460.9L428.5 457.5L423 460.8Z" fill="#006aff"/><path d="M436.9 467.4L442.4 464.2L435.5 460.9L430 464.2Z" fill="#0062ff"/><path d="M443.9 470.6L449.4 467.5L442.4 464.2L436.9 467.4Z" fill="#005aff"/><path d="M450.9 473.8L456.4 470.6L449.4 467.5L443.9 470.6Z" fill="#0053ff"/><path d="M457.8 476.9L463.3 473.8L456.4 470.6L450.9 473.8Z" fill="#004dff"/><path d="M464.8 479.9L470.3 476.8L463.3 473.8L457.8 476.9Z" fill="#0047ff"/><path d="M471.7 482.9L477.2 479.9L470.3 476.8L464.8 479.9Z" fill="#0042ff"/><path d="M478.7 485.8L484.2 482.8L477.2 479.9L471.7 482.9Z" fill="#003eff"/><path d="M485.6 488.7L491.1 485.7L484.2 482.8L478.7 485.8Z" fill="#003aff"/><path d="M492.5 491.4L498.1 488.5L491.1 485.7L485.6 488.7Z" fill="#0037ff"/><path d="M499.5 494.1L505 491.2L498.1 488.5L492.5 491.4Z" fill="#0035ff"/><path d="M506.4 496.8L512 493.9L505 491.2L499.5 494.1Z" fill="#0034ff"/><path d="M513.3 499.3L518.9 496.5L512 493.9L506.4 496.8Z" fill="#0033ff"/><path d="M520.3 501.8L525.8 499.1L518.9 496.5L513.3 499.3Z" fill="#0033ff"/><path d="M527.2 504.3L532.8 501.5L525.8 499.1L520.3 501.8Z" fill="#0033ff"/></g><path d="M527.2 504.3L532.8 501.5L538.3 498.8L543.9 496.2L549.5 493.6L555 491L560.6 488.4L566.2 485.9L571.8 483.4L577.3 481L582.9 478.6L588.5 476.2L594.1 473.9L599.6 471.6L605.2 469.3L610.8 467L616.4 464.8L622 462.6L627.5 460.5L633.1 458.4L638.7 456.3L644.3 454.2L649.8 452.2L655.4 450.2L661 448.2L666.6 446.2L666.6 446.2L659.7 442.9L652.8 439.4L645.9 435.9L639 432.4L632.1 428.8L625.1 425.1L618.2 421.5L611.3 417.7L604.3 414L597.4 410.2L590.4 406.3L583.4 402.4L576.4 398.5L569.4 394.6L562.4 390.6L555.4 386.5L548.4 382.5L541.3 378.4L534.3 374.2L527.2 370.1L527.2 370.1L521.6 372.5L515.9 375L510.3 377.6L504.6 380.2L499 382.8L493.4 385.4L487.8 388.1L482.2 390.8L476.6 393.6L471 396.4L465.4 399.2L459.8 402.1L454.2 405L448.7 408L443.1 411L437.5 414L432 417.1L426.5 420.2L420.9 423.4L415.4 426.6L409.9 429.9L404.4 433.2L398.9 436.5L393.5 439.9L388 443.3L388 443.3L395 446.9L402 450.5L409 454L416 457.4L423 460.8L430 464.2L436.9 467.4L443.9 470.6L450.9 473.8L457.8 476.9L464.8 479.9L471.7 482.9L478.7 485.8L485.6 488.7L492.5 491.4L499.5 494.1L506.4 496.8L513.3 499.3L520.3 501.8L527.2 504.3Z" fill="none" stroke="#1a1a1a" stroke-width="0.6" stroke-linejoin="round"/><circle cx="387.8" cy="443.9" r="2.5" fill="#bf0000" stroke="#700" stroke-width="0.5"/><circle cx="527.2" cy="370" r="2.5" fill="#bf0000" stroke="#700" stroke-width="0.5"/><circle cx="527.2" cy="435.5" r="2.5" fill="#bf0000" stroke="#700" stroke-width="0.5"/><circle cx="527.2" cy="505.9" r="2.6" fill="#ffd0d0" stroke="#777" stroke-width="0.6"/><circle cx="666.5" cy="448" r="2.6" fill="#ffd0d0" stroke="#777" stroke-width="0.6"/><circle cx="389.4" cy="468.8" r="1.1" fill="#000"/><text x="386.1" y="473.4" text-anchor="end" class="tk">150</text><circle cx="387.7" cy="437.8" r="1.1" fill="#000"/><text x="384.4" y="442.4" text-anchor="end" class="tk">200</text><circle cx="386" cy="406.7" r="1.1" fill="#000"/><text x="382.7" y="411.3" text-anchor="end" class="tk">250</text><circle cx="384.3" cy="375.6" r="1.1" fill="#000"/><text x="381" y="380.2" text-anchor="end" class="tk">300</text><circle cx="382.6" cy="344.5" r="1.1" fill="#000"/><text x="379.3" y="349.1" text-anchor="end" class="tk">350</text><circle cx="391.5" cy="507.7" r="1.1" fill="#000"/><text transform="translate(385.1 515.1) rotate(-28)" text-anchor="middle" class="tk">30</text><circle cx="425.4" cy="521.9" r="1.1" fill="#000"/><text transform="translate(419 529.3) rotate(-28)" text-anchor="middle" class="tk">25</text><circle cx="459.4" cy="536.1" r="1.1" fill="#000"/><text transform="translate(453 543.5) rotate(-28)" text-anchor="middle" class="tk">20</text><circle cx="493.3" cy="550.4" r="1.1" fill="#000"/><text transform="translate(486.9 557.8) rotate(-28)" text-anchor="middle" class="tk">15</text><circle cx="527.2" cy="564.6" r="1.1" fill="#000"/><text transform="translate(520.8 572) rotate(-28)" text-anchor="middle" class="tk">10</text><circle cx="527.2" cy="564.6" r="1.1" fill="#000"/><text transform="translate(533.8 573.6) rotate(-28)" text-anchor="middle" class="tk">200</text><circle cx="561.2" cy="550.2" r="1.1" fill="#000"/><text transform="translate(567.8 559.2) rotate(-28)" text-anchor="middle" class="tk">250</text><circle cx="595.2" cy="535.9" r="1.1" fill="#000"/><text transform="translate(601.8 544.9) rotate(-28)" text-anchor="middle" class="tk">300</text><circle cx="629.2" cy="521.5" r="1.1" fill="#000"/><text transform="translate(635.8 530.5) rotate(-28)" text-anchor="middle" class="tk">350</text><circle cx="663.2" cy="507.1" r="1.1" fill="#000"/><text transform="translate(669.8 516.1) rotate(-28)" text-anchor="middle" class="tk">400</text><text transform="translate(426.4 556.1) rotate(24.5) skewX(20) scale(1.143 1)" text-anchor="middle" font-size="11.6" font-weight="bold">X<tspan font-size="7.6" dy="2.3">3</tspan><tspan dy="-2.3">: SDC (mg)</tspan></text><text transform="translate(620.7 558.1) rotate(-22) skewX(-18) scale(1.114 1)" text-anchor="middle" font-size="11.6" font-weight="bold">X<tspan font-size="7.6" dy="2.3">1</tspan><tspan dy="-2.3">: SPC (mg)</tspan></text><text transform="translate(355 416.7) rotate(-93) scale(1.117 1)" text-anchor="middle" font-size="11.2" font-weight="bold">Y<tspan font-size="7.3" dy="2.2">2</tspan><tspan dy="-2.2">: Vesicle size (nm)</tspan></text></g><g><path d="M392.2 790.6L526.9 748.9L526.9 602.2L383.6 630.6Z" fill="#fff"/><path d="M661 790.8L526.9 748.9L526.9 602.2L669.6 630.6Z" fill="#fff"/><path d="M390.2 752.7L526.9 714.2L663 752.9M388.5 722.2L526.9 686.2L664.7 722.3M386.9 691.7L526.9 658.2L666.3 691.7M385.2 661.1L526.9 630.2L668 661.2M383.6 630.6L526.9 602.2L669.6 630.6M392.2 790.6L383.6 630.6M661 790.8L669.6 630.6M424.3 743.1L419.4 623.5M629 743.2L633.9 623.5M458.5 733.5L455.2 616.4M595 733.5L598.2 616.4M492.7 723.8L491.1 609.3M560.9 723.9L562.6 609.3M526.9 748.9L526.9 602.2" fill="none" stroke="#3c3c3c" stroke-width="0.75"/><path d="M392.2 790.6L526.9 748.9L661 790.8L526.5 846.4Z" fill="#696969" stroke="#222" stroke-width="0.9"/><path d="M523.2 845L523 843.7L522.9 842.3L522.8 841L522.6 839.7L522.5 838.4L522.3 837.1L522.2 835.8L522 834.5L521.8 833.2L521.6 832L521.4 830.6L521.2 829.2L521 827.8L520.7 826.3L520.5 824.9L520.2 823.5L519.9 822.1L519.6 820.8L519.4 819.6L519.1 818.4L518.8 817.2L518.6 816L518.3 814.8L517.9 813.5L517.5 812L517.1 810.6L516.6 809.1L516.3 807.9L515.9 806.8L515.5 805.7L515.1 804.6L514.7 803.3L514.1 801.9L513.5 800.4L513 799.1L512.5 798.1L512 797L511.5 795.9L510.7 794.4L510 792.9L509.4 791.8L508.8 790.8L508.2 789.8L507.3 788.3L506.4 786.9L505.8 785.9L505.1 785L504.2 783.6L503.1 782.1L502.4 781.2L501.6 780.3L500.4 778.7L499.4 777.5L498.6 776.6L497.4 775.4L496.1 774L495.3 773.1L494 771.9L492.7 770.6L491.8 769.7L490.2 768.3L489.1 767.2L488.1 766.4L486.2 764.8L485.2 764L483.5 762.6L483.3 762.4M596.1 770.5L597.6 771.9L598.5 772.7L600 774L601.3 775.1L602.3 775.9L604.2 777.5L605.2 778.3L607 779.7L608.2 780.7L609.7 781.8L611.3 783L612.5 783.9L614.5 785.3L615.6 786.1L617.8 787.6L618.9 788.4L621.2 789.9L622.3 790.7L624.6 792.2L625.7 793L628.1 794.5L629.6 795.5L631.6 796.7L633.6 798L635.2 799L637.6 800.5" fill="none" stroke="#12edea" stroke-width="1.4"/><path d="M493.1 832.5L492.7 831.2L492.2 830L491.8 828.8L491.4 827.7L490.9 826.2L490.3 824.7L489.7 823.1L489.2 821.9L488.7 820.8L488.2 819.6L487.7 818.4L487 816.8L486.3 815.2L485.8 814.1L485.2 813L484.7 811.9L484 810.4L483.2 808.8L482.5 807.6L482 806.5L481.4 805.5L480.6 804L479.6 802.4L479 801.3L478.4 800.3L477.7 799.1L476.6 797.5L475.8 796.2L475.2 795.2L474.5 794.2L473.3 792.5L472.5 791.3L471.8 790.3L470.9 789.2L469.7 787.5L468.9 786.5L468.1 785.5L467 784.1L465.9 782.7L465.1 781.8L464.1 780.7L462.7 779.1L461.9 778.2L461 777.2L459.5 775.5L458.6 774.6L457.7 773.6L456.1 772L455.2 771.1" fill="none" stroke="#12ed61" stroke-width="1.4"/><path d="M465.4 821L464.5 819.3L463.9 818.1L463.4 817.1L462.8 816L461.9 814.4L461 812.7L460.4 811.7L459.8 810.6L459.1 809.3L458.1 807.7L457.3 806.4L456.7 805.4L456 804.3L454.9 802.6L454 801.2L453.4 800.2L452.7 799.2L451.5 797.5L450.6 796.2L449.9 795.2L449.1 794.1L447.8 792.4L447 791.3L446.3 790.3L445.2 788.9L444 787.5L443.3 786.5L442.4 785.4L441 783.7L440.2 782.8L439.4 781.8L437.9 780.1L437 779.1L436.1 778.2L435.3 777.2" fill="none" stroke="#46ed12" stroke-width="1.4"/><path d="M439.5 810.3L438.7 809L438.1 808L437.3 806.8L436.2 805.1L435.4 803.8L434.7 802.8L433.9 801.6L432.7 799.9L431.9 798.8L431.2 797.8L430.2 796.4L429 794.8L428.3 793.8L427.5 792.8L426.2 791.1L425.3 789.9L424.5 788.9L423.4 787.5L422.2 786.1L421.4 785.1L420.4 784L419 782.3" fill="none" stroke="#bfed12" stroke-width="1.4"/><path d="M415.2 800.2L414 798.4L413.2 797.4L412.5 796.4L411.3 794.8L410.3 793.5L409.5 792.5L408.5 791.2L407.2 789.6L406.4 788.6L405.7 787.6L404.9 786.7" fill="none" stroke="#eda212" stroke-width="1.4"/><g stroke="#111" stroke-width="0.45" stroke-linejoin="round"><path class="a" d="M528.3 693.3L533.8 691.8L526.9 690.4L521.4 691.7Z" fill="#00a7ff"/><path class="a" d="M535.1 694.7L540.7 693L533.8 691.8L528.3 693.3Z" fill="#00acff"/><path class="a" d="M542 696.1L547.5 694.2L540.7 693L535.1 694.7Z" fill="#00b2ff"/><path d="M548.9 697.5L554.4 695.4L547.5 694.2L542 696.1Z" fill="#00b9ff"/><path d="M555.8 698.8L561.3 696.5L554.4 695.4L548.9 697.5Z" fill="#00c0ff"/><path d="M562.7 700L568.2 697.5L561.3 696.5L555.8 698.8Z" fill="#00c8ff"/><path d="M569.6 701.2L575.1 698.4L568.2 697.5L562.7 700Z" fill="#00d1ff"/><path d="M576.5 702.2L582 699.3L575.1 698.4L569.6 701.2Z" fill="#00daff"/><path d="M583.4 703.3L589 700.1L582 699.3L576.5 702.2Z" fill="#00e4ff"/><path d="M590.3 704.2L595.9 700.9L589 700.1L583.4 703.3Z" fill="#00efff"/><path d="M597.2 705.1L602.8 701.5L595.9 700.9L590.3 704.2Z" fill="#00faff"/><path d="M604.2 705.9L609.8 702.1L602.8 701.5L597.2 705.1Z" fill="#00fff8"/><path d="M611.1 706.7L616.7 702.7L609.8 702.1L604.2 705.9Z" fill="#00ffeb"/><path d="M618 707.3L623.7 703.1L616.7 702.7L611.1 706.7Z" fill="#00ffdd"/><path d="M625 707.9L630.6 703.5L623.7 703.1L618 707.3Z" fill="#00ffce"/><path d="M631.9 708.5L637.6 703.8L630.6 703.5L625 707.9Z" fill="#00ffbf"/><path d="M638.9 708.9L644.6 704.1L637.6 703.8L631.9 708.5Z" fill="#00ffaf"/><path d="M645.9 709.3L651.6 704.2L644.6 704.1L638.9 708.9Z" fill="#00ff9f"/><path d="M652.9 709.6L658.6 704.3L651.6 704.2L645.9 709.3Z" fill="#00ff8d"/><path d="M659.9 709.8L665.6 704.3L658.6 704.3L652.9 709.6Z" fill="#00ff7b"/><path class="a" d="M522.7 694.5L528.3 693.3L521.4 691.7L515.8 692.8Z" fill="#00a9ff"/><path class="a" d="M529.6 696.2L535.1 694.7L528.3 693.3L522.7 694.5Z" fill="#00acff"/><path class="a" d="M536.5 697.8L542 696.1L535.1 694.7L529.6 696.2Z" fill="#00b0ff"/><path d="M543.4 699.4L548.9 697.5L542 696.1L536.5 697.8Z" fill="#00b5ff"/><path d="M550.3 700.9L555.8 698.8L548.9 697.5L543.4 699.4Z" fill="#00baff"/><path d="M557.1 702.3L562.7 700L555.8 698.8L550.3 700.9Z" fill="#00c0ff"/><path d="M564 703.7L569.6 701.2L562.7 700L557.1 702.3Z" fill="#00c6ff"/><path d="M570.9 704.9L576.5 702.2L569.6 701.2L564 703.7Z" fill="#00cdff"/><path d="M577.8 706.2L583.4 703.3L576.5 702.2L570.9 704.9Z" fill="#00d5ff"/><path d="M584.7 707.3L590.3 704.2L583.4 703.3L577.8 706.2Z" fill="#00deff"/><path d="M591.6 708.4L597.2 705.1L590.3 704.2L584.7 707.3Z" fill="#00e7ff"/><path d="M598.6 709.5L604.2 705.9L597.2 705.1L591.6 708.4Z" fill="#00f1ff"/><path d="M605.5 710.4L611.1 706.7L604.2 705.9L598.6 709.5Z" fill="#00fcff"/><path d="M612.4 711.3L618 707.3L611.1 706.7L605.5 710.4Z" fill="#00fff7"/><path d="M619.4 712.1L625 707.9L618 707.3L612.4 711.3Z" fill="#00ffeb"/><path d="M626.3 712.9L631.9 708.5L625 707.9L619.4 712.1Z" fill="#00ffdd"/><path d="M633.3 713.6L638.9 708.9L631.9 708.5L626.3 712.9Z" fill="#00ffd0"/><path d="M640.2 714.2L645.9 709.3L638.9 708.9L633.3 713.6Z" fill="#00ffc1"/><path d="M647.2 714.7L652.9 709.6L645.9 709.3L640.2 714.2Z" fill="#00ffb2"/><path d="M654.2 715.2L659.9 709.8L652.9 709.6L647.2 714.7Z" fill="#00ffa2"/><path class="a" d="M517.2 695.6L522.7 694.5L515.8 692.8L510.3 693.7Z" fill="#00aeff"/><path class="a" d="M524.1 697.5L529.6 696.2L522.7 694.5L517.2 695.6Z" fill="#00afff"/><path class="a" d="M531 699.3L536.5 697.8L529.6 696.2L524.1 697.5Z" fill="#00b1ff"/><path class="a" d="M537.8 701L543.4 699.4L536.5 697.8L531 699.3Z" fill="#00b3ff"/><path d="M544.7 702.7L550.3 700.9L543.4 699.4L537.8 701Z" fill="#00b6ff"/><path d="M551.6 704.3L557.1 702.3L550.3 700.9L544.7 702.7Z" fill="#00baff"/><path d="M558.5 705.9L564 703.7L557.1 702.3L551.6 704.3Z" fill="#00beff"/><path d="M565.4 707.4L570.9 704.9L564 703.7L558.5 705.9Z" fill="#00c3ff"/><path d="M572.3 708.9L577.8 706.2L570.9 704.9L565.4 707.4Z" fill="#00c9ff"/><path d="M579.2 710.2L584.7 707.3L577.8 706.2L572.3 708.9Z" fill="#00d0ff"/><path d="M586.1 711.5L591.6 708.4L584.7 707.3L579.2 710.2Z" fill="#00d7ff"/><path d="M593 712.8L598.6 709.5L591.6 708.4L586.1 711.5Z" fill="#00dfff"/><path d="M599.9 714L605.5 710.4L598.6 709.5L593 712.8Z" fill="#00e7ff"/><path d="M606.8 715.1L612.4 711.3L605.5 710.4L599.9 714Z" fill="#00f1ff"/><path d="M613.7 716.1L619.4 712.1L612.4 711.3L606.8 715.1Z" fill="#00faff"/><path d="M620.7 717.1L626.3 712.9L619.4 712.1L613.7 716.1Z" fill="#00fff9"/><path d="M627.6 718L633.3 713.6L626.3 712.9L620.7 717.1Z" fill="#00ffed"/><path d="M634.6 718.8L640.2 714.2L633.3 713.6L627.6 718Z" fill="#00ffe1"/><path d="M641.5 719.6L647.2 714.7L640.2 714.2L634.6 718.8Z" fill="#00ffd4"/><path d="M648.5 720.2L654.2 715.2L647.2 714.7L641.5 719.6Z" fill="#00ffc6"/><path class="a" d="M511.7 696.4L517.2 695.6L510.3 693.7L504.8 694.3Z" fill="#00b6ff"/><path class="a" d="M518.6 698.5L524.1 697.5L517.2 695.6L511.7 696.4Z" fill="#00b5ff"/><path class="a" d="M525.4 700.5L531 699.3L524.1 697.5L518.6 698.5Z" fill="#00b4ff"/><path class="a" d="M532.3 702.4L537.8 701L531 699.3L525.4 700.5Z" fill="#00b4ff"/><path d="M539.2 704.3L544.7 702.7L537.8 701L532.3 702.4Z" fill="#00b5ff"/><path d="M546.1 706.2L551.6 704.3L544.7 702.7L539.2 704.3Z" fill="#00b7ff"/><path d="M553 707.9L558.5 705.9L551.6 704.3L546.1 706.2Z" fill="#00b9ff"/><path d="M559.9 709.7L565.4 707.4L558.5 705.9L553 707.9Z" fill="#00bcff"/><path d="M566.7 711.3L572.3 708.9L565.4 707.4L559.9 709.7Z" fill="#00c0ff"/><path d="M573.6 712.9L579.2 710.2L572.3 708.9L566.7 711.3Z" fill="#00c4ff"/><path d="M580.5 714.4L586.1 711.5L579.2 710.2L573.6 712.9Z" fill="#00c9ff"/><path d="M587.4 715.9L593 712.8L586.1 711.5L580.5 714.4Z" fill="#00cfff"/><path d="M594.3 717.3L599.9 714L593 712.8L587.4 715.9Z" fill="#00d6ff"/><path d="M601.2 718.6L606.8 715.1L599.9 714L594.3 717.3Z" fill="#00ddff"/><path d="M608.1 719.8L613.7 716.1L606.8 715.1L601.2 718.6Z" fill="#00e5ff"/><path d="M615.1 721L620.7 717.1L613.7 716.1L608.1 719.8Z" fill="#00edff"/><path d="M622 722.1L627.6 718L620.7 717.1L615.1 721Z" fill="#00f6ff"/><path d="M628.9 723.2L634.6 718.8L627.6 718L622 722.1Z" fill="#00fffe"/><path d="M635.9 724.2L641.5 719.6L634.6 718.8L628.9 723.2Z" fill="#00fff3"/><path d="M642.8 725.1L648.5 720.2L641.5 719.6L635.9 724.2Z" fill="#00ffe7"/><path class="a" d="M506.1 696.9L511.7 696.4L504.8 694.3L499.2 694.6Z" fill="#00c0ff"/><path class="a" d="M513 699.2L518.6 698.5L511.7 696.4L506.1 696.9Z" fill="#00bdff"/><path class="a" d="M519.9 701.4L525.4 700.5L518.6 698.5L513 699.2Z" fill="#00baff"/><path class="a" d="M526.8 703.6L532.3 702.4L525.4 700.5L519.9 701.4Z" fill="#00b8ff"/><path class="a" d="M533.7 705.7L539.2 704.3L532.3 702.4L526.8 703.6Z" fill="#00b7ff"/><path d="M540.6 707.7L546.1 706.2L539.2 704.3L533.7 705.7Z" fill="#00b7ff"/><path d="M547.4 709.7L553 707.9L546.1 706.2L540.6 707.7Z" fill="#00b7ff"/><path d="M554.3 711.6L559.9 709.7L553 707.9L547.4 709.7Z" fill="#00b8ff"/><path d="M561.2 713.5L566.7 711.3L559.9 709.7L554.3 711.6Z" fill="#00baff"/><path d="M568.1 715.3L573.6 712.9L566.7 711.3L561.2 713.5Z" fill="#00bcff"/><path d="M575 717L580.5 714.4L573.6 712.9L568.1 715.3Z" fill="#00bfff"/><path d="M581.9 718.7L587.4 715.9L580.5 714.4L575 717Z" fill="#00c3ff"/><path d="M588.8 720.3L594.3 717.3L587.4 715.9L581.9 718.7Z" fill="#00c7ff"/><path d="M595.7 721.9L601.2 718.6L594.3 717.3L588.8 720.3Z" fill="#00ccff"/><path d="M602.6 723.3L608.1 719.8L601.2 718.6L595.7 721.9Z" fill="#00d2ff"/><path d="M609.5 724.7L615.1 721L608.1 719.8L602.6 723.3Z" fill="#00d8ff"/><path d="M616.4 726.1L622 722.1L615.1 721L609.5 724.7Z" fill="#00dfff"/><path d="M623.3 727.4L628.9 723.2L622 722.1L616.4 726.1Z" fill="#00e7ff"/><path d="M630.2 728.6L635.9 724.2L628.9 723.2L623.3 727.4Z" fill="#00f0ff"/><path d="M637.2 729.7L642.8 725.1L635.9 724.2L630.2 728.6Z" fill="#00f9ff"/><path class="a" d="M500.6 697.3L506.1 696.9L499.2 694.6L493.7 694.7Z" fill="#00cdff"/><path class="a" d="M507.5 699.7L513 699.2L506.1 696.9L500.6 697.3Z" fill="#00c8ff"/><path class="a" d="M514.4 702.2L519.9 701.4L513 699.2L507.5 699.7Z" fill="#00c3ff"/><path class="a" d="M521.3 704.5L526.8 703.6L519.9 701.4L514.4 702.2Z" fill="#00bfff"/><path class="a" d="M528.1 706.8L533.7 705.7L526.8 703.6L521.3 704.5Z" fill="#00bcff"/><path d="M535 709.1L540.6 707.7L533.7 705.7L528.1 706.8Z" fill="#00baff"/><path d="M541.9 711.3L547.4 709.7L540.6 707.7L535 709.1Z" fill="#00b8ff"/><path d="M548.8 713.4L554.3 711.6L547.4 709.7L541.9 711.3Z" fill="#00b7ff"/><path d="M555.7 715.5L561.2 713.5L554.3 711.6L548.8 713.4Z" fill="#00b6ff"/><path d="M562.6 717.5L568.1 715.3L561.2 713.5L555.7 715.5Z" fill="#00b6ff"/><path d="M569.5 719.4L575 717L568.1 715.3L562.6 717.5Z" fill="#00b7ff"/><path d="M576.3 721.3L581.9 718.7L575 717L569.5 719.4Z" fill="#00b9ff"/><path d="M583.2 723.1L588.8 720.3L581.9 718.7L576.3 721.3Z" fill="#00bbff"/><path d="M590.1 724.9L595.7 721.9L588.8 720.3L583.2 723.1Z" fill="#00beff"/><path d="M597 726.6L602.6 723.3L595.7 721.9L590.1 724.9Z" fill="#00c2ff"/><path d="M603.9 728.2L609.5 724.7L602.6 723.3L597 726.6Z" fill="#00c6ff"/><path d="M610.8 729.8L616.4 726.1L609.5 724.7L603.9 728.2Z" fill="#00cbff"/><path d="M617.7 731.3L623.3 727.4L616.4 726.1L610.8 729.8Z" fill="#00d1ff"/><path d="M624.6 732.7L630.2 728.6L623.3 727.4L617.7 731.3Z" fill="#00d7ff"/><path d="M631.5 734.1L637.2 729.7L630.2 728.6L624.6 732.7Z" fill="#00deff"/><path class="a" d="M495 697.3L500.6 697.3L493.7 694.7L488.1 694.6Z" fill="#00ddff"/><path class="a" d="M501.9 700L507.5 699.7L500.6 697.3L495 697.3Z" fill="#00d6ff"/><path class="a" d="M508.8 702.6L514.4 702.2L507.5 699.7L501.9 700Z" fill="#00cfff"/><path class="a" d="M515.7 705.2L521.3 704.5L514.4 702.2L508.8 702.6Z" fill="#00c9ff"/><path class="a" d="M522.6 707.7L528.1 706.8L521.3 704.5L515.7 705.2Z" fill="#00c4ff"/><path class="a" d="M529.5 710.2L535 709.1L528.1 706.8L522.6 707.7Z" fill="#00bfff"/><path d="M536.4 712.6L541.9 711.3L535 709.1L529.5 710.2Z" fill="#00bbff"/><path d="M543.3 714.9L548.8 713.4L541.9 711.3L536.4 712.6Z" fill="#00b8ff"/><path d="M550.2 717.2L555.7 715.5L548.8 713.4L543.3 714.9Z" fill="#00b5ff"/><path d="M557 719.4L562.6 717.5L555.7 715.5L550.2 717.2Z" fill="#00b3ff"/><path d="M563.9 721.6L569.5 719.4L562.6 717.5L557 719.4Z" fill="#00b2ff"/><path d="M570.8 723.7L576.3 721.3L569.5 719.4L563.9 721.6Z" fill="#00b2ff"/><path d="M577.7 725.7L583.2 723.1L576.3 721.3L570.8 723.7Z" fill="#00b2ff"/><path d="M584.6 727.7L590.1 724.9L583.2 723.1L577.7 725.7Z" fill="#00b3ff"/><path d="M591.5 729.6L597 726.6L590.1 724.9L584.6 727.7Z" fill="#00b4ff"/><path d="M598.3 731.5L603.9 728.2L597 726.6L591.5 729.6Z" fill="#00b6ff"/><path d="M605.2 733.2L610.8 729.8L603.9 728.2L598.3 731.5Z" fill="#00b9ff"/><path d="M612.1 735L617.7 731.3L610.8 729.8L605.2 733.2Z" fill="#00bdff"/><path d="M619 736.6L624.6 732.7L617.7 731.3L612.1 735Z" fill="#00c1ff"/><path d="M625.9 738.2L631.5 734.1L624.6 732.7L619 736.6Z" fill="#00c6ff"/><path class="a" d="M489.5 697.1L495 697.3L488.1 694.6L482.6 694.2Z" fill="#00f0ff"/><path class="a" d="M496.4 700L501.9 700L495 697.3L489.5 697.1Z" fill="#00e6ff"/><path class="a" d="M503.3 702.8L508.8 702.6L501.9 700L496.4 700Z" fill="#00deff"/><path class="a" d="M510.2 705.6L515.7 705.2L508.8 702.6L503.3 702.8Z" fill="#00d5ff"/><path class="a" d="M517.1 708.3L522.6 707.7L515.7 705.2L510.2 705.6Z" fill="#00ceff"/><path class="a" d="M524 711L529.5 710.2L522.6 707.7L517.1 708.3Z" fill="#00c7ff"/><path d="M530.9 713.6L536.4 712.6L529.5 710.2L524 711Z" fill="#00c1ff"/><path d="M537.8 716.2L543.3 714.9L536.4 712.6L530.9 713.6Z" fill="#00bcff"/><path d="M544.6 718.6L550.2 717.2L543.3 714.9L537.8 716.2Z" fill="#00b7ff"/><path d="M551.5 721.1L557 719.4L550.2 717.2L544.6 718.6Z" fill="#00b3ff"/><path d="M558.4 723.5L563.9 721.6L557 719.4L551.5 721.1Z" fill="#00b0ff"/><path d="M565.3 725.8L570.8 723.7L563.9 721.6L558.4 723.5Z" fill="#00adff"/><path d="M572.2 728L577.7 725.7L570.8 723.7L565.3 725.8Z" fill="#00abff"/><path d="M579 730.2L584.6 727.7L577.7 725.7L572.2 728Z" fill="#00aaff"/><path d="M585.9 732.4L591.5 729.6L584.6 727.7L579 730.2Z" fill="#00aaff"/><path d="M592.8 734.5L598.3 731.5L591.5 729.6L585.9 732.4Z" fill="#00aaff"/><path d="M599.7 736.5L605.2 733.2L598.3 731.5L592.8 734.5Z" fill="#00abff"/><path d="M606.6 738.4L612.1 735L605.2 733.2L599.7 736.5Z" fill="#00acff"/><path d="M613.4 740.3L619 736.6L612.1 735L606.6 738.4Z" fill="#00aeff"/><path d="M620.3 742.1L625.9 738.2L619 736.6L613.4 740.3Z" fill="#00b1ff"/><path class="a" d="M483.9 696.7L489.5 697.1L482.6 694.2L477 693.6Z" fill="#00fff8"/><path class="a" d="M490.8 699.8L496.4 700L489.5 697.1L483.9 696.7Z" fill="#00faff"/><path class="a" d="M497.7 702.8L503.3 702.8L496.4 700L490.8 699.8Z" fill="#00efff"/><path class="a" d="M504.6 705.8L510.2 705.6L503.3 702.8L497.7 702.8Z" fill="#00e5ff"/><path class="a" d="M511.6 708.7L517.1 708.3L510.2 705.6L504.6 705.8Z" fill="#00dbff"/><path class="a" d="M518.4 711.6L524 711L517.1 708.3L511.6 708.7Z" fill="#00d2ff"/><path class="a" d="M525.3 714.4L530.9 713.6L524 711L518.4 711.6Z" fill="#00caff"/><path d="M532.2 717.2L537.8 716.2L530.9 713.6L525.3 714.4Z" fill="#00c3ff"/><path d="M539.1 719.9L544.6 718.6L537.8 716.2L532.2 717.2Z" fill="#00bcff"/><path d="M546 722.5L551.5 721.1L544.6 718.6L539.1 719.9Z" fill="#00b6ff"/><path d="M552.9 725.1L558.4 723.5L551.5 721.1L546 722.5Z" fill="#00b0ff"/><path d="M559.8 727.6L565.3 725.8L558.4 723.5L552.9 725.1Z" fill="#00acff"/><path d="M566.6 730.1L572.2 728L565.3 725.8L559.8 727.6Z" fill="#00a8ff"/><path d="M573.5 732.5L579 730.2L572.2 728L566.6 730.1Z" fill="#00a4ff"/><path d="M580.4 734.9L585.9 732.4L579 730.2L573.5 732.5Z" fill="#00a2ff"/><path d="M587.3 737.2L592.8 734.5L585.9 732.4L580.4 734.9Z" fill="#00a0ff"/><path d="M594.1 739.4L599.7 736.5L592.8 734.5L587.3 737.2Z" fill="#009fff"/><path d="M601 741.6L606.6 738.4L599.7 736.5L594.1 739.4Z" fill="#009eff"/><path d="M607.9 743.7L613.4 740.3L606.6 738.4L601 741.6Z" fill="#009eff"/><path d="M614.8 745.7L620.3 742.1L613.4 740.3L607.9 743.7Z" fill="#009fff"/><path class="a" d="M478.3 696L483.9 696.7L477 693.6L471.4 692.7Z" fill="#00ffe0"/><path class="a" d="M485.2 699.3L490.8 699.8L483.9 696.7L478.3 696Z" fill="#00ffee"/><path class="a" d="M492.2 702.5L497.7 702.8L490.8 699.8L485.2 699.3Z" fill="#00fffb"/><path class="a" d="M499.1 705.7L504.6 705.8L497.7 702.8L492.2 702.5Z" fill="#00f7ff"/><path class="a" d="M506 708.8L511.6 708.7L504.6 705.8L499.1 705.7Z" fill="#00ebff"/><path class="a" d="M512.9 711.9L518.4 711.6L511.6 708.7L506 708.8Z" fill="#00e0ff"/><path class="a" d="M519.8 714.9L525.3 714.4L518.4 711.6L512.9 711.9Z" fill="#00d6ff"/><path d="M526.7 717.9L532.2 717.2L525.3 714.4L519.8 714.9Z" fill="#00ccff"/><path d="M533.6 720.8L539.1 719.9L532.2 717.2L526.7 717.9Z" fill="#00c3ff"/><path d="M540.5 723.7L546 722.5L539.1 719.9L533.6 720.8Z" fill="#00bbff"/><path d="M547.4 726.5L552.9 725.1L546 722.5L540.5 723.7Z" fill="#00b4ff"/><path d="M554.2 729.3L559.8 727.6L552.9 725.1L547.4 726.5Z" fill="#00adff"/><path d="M561.1 731.9L566.6 730.1L559.8 727.6L554.2 729.3Z" fill="#00a7ff"/><path d="M568 734.6L573.5 732.5L566.6 730.1L561.1 731.9Z" fill="#00a1ff"/><path d="M574.9 737.2L580.4 734.9L573.5 732.5L568 734.6Z" fill="#009dff"/><path d="M581.7 739.7L587.3 737.2L580.4 734.9L574.9 737.2Z" fill="#0099ff"/><path d="M588.6 742.1L594.1 739.4L587.3 737.2L581.7 739.7Z" fill="#0095ff"/><path d="M595.5 744.5L601 741.6L594.1 739.4L588.6 742.1Z" fill="#0093ff"/><path d="M602.3 746.9L607.9 743.7L601 741.6L595.5 744.5Z" fill="#0091ff"/><path d="M609.2 749.1L614.8 745.7L607.9 743.7L602.3 746.9Z" fill="#008fff"/><path class="a" d="M472.7 695.1L478.3 696L471.4 692.7L465.8 691.6Z" fill="#00ffc4"/><path class="a" d="M479.7 698.6L485.2 699.3L478.3 696L472.7 695.1Z" fill="#00ffd4"/><path class="a" d="M486.6 702L492.2 702.5L485.2 699.3L479.7 698.6Z" fill="#00ffe3"/><path class="a" d="M493.5 705.4L499.1 705.7L492.2 702.5L486.6 702Z" fill="#00fff2"/><path class="a" d="M500.5 708.7L506 708.8L499.1 705.7L493.5 705.4Z" fill="#00feff"/><path class="a" d="M507.4 712L512.9 711.9L506 708.8L500.5 708.7Z" fill="#00f1ff"/><path class="a" d="M514.3 715.2L519.8 714.9L512.9 711.9L507.4 712Z" fill="#00e4ff"/><path class="a" d="M521.2 718.4L526.7 717.9L519.8 714.9L514.3 715.2Z" fill="#00d9ff"/><path d="M528.1 721.5L533.6 720.8L526.7 717.9L521.2 718.4Z" fill="#00ceff"/><path d="M535 724.6L540.5 723.7L533.6 720.8L528.1 721.5Z" fill="#00c3ff"/><path d="M541.8 727.6L547.4 726.5L540.5 723.7L535 724.6Z" fill="#00baff"/><path d="M548.7 730.6L554.2 729.3L547.4 726.5L541.8 727.6Z" fill="#00b1ff"/><path d="M555.6 733.5L561.1 731.9L554.2 729.3L548.7 730.6Z" fill="#00a9ff"/><path d="M562.5 736.4L568 734.6L561.1 731.9L555.6 733.5Z" fill="#00a1ff"/><path d="M569.3 739.2L574.9 737.2L568 734.6L562.5 736.4Z" fill="#009aff"/><path d="M576.2 741.9L581.7 739.7L574.9 737.2L569.3 739.2Z" fill="#0094ff"/><path d="M583.1 744.6L588.6 742.1L581.7 739.7L576.2 741.9Z" fill="#008fff"/><path d="M589.9 747.2L595.5 744.5L588.6 742.1L583.1 744.6Z" fill="#008aff"/><path d="M596.8 749.8L602.3 746.9L595.5 744.5L589.9 747.2Z" fill="#0086ff"/><path d="M603.7 752.3L609.2 749.1L602.3 746.9L596.8 749.8Z" fill="#0083ff"/><path class="a" d="M467.1 693.9L472.7 695.1L465.8 691.6L460.1 690.2Z" fill="#00ffa5"/><path class="a" d="M474.1 697.5L479.7 698.6L472.7 695.1L467.1 693.9Z" fill="#00ffb8"/><path class="a" d="M481 701.2L486.6 702L479.7 698.6L474.1 697.5Z" fill="#00ffc9"/><path class="a" d="M488 704.8L493.5 705.4L486.6 702L481 701.2Z" fill="#00ffda"/><path class="a" d="M494.9 708.3L500.5 708.7L493.5 705.4L488 704.8Z" fill="#00ffea"/><path class="a" d="M501.8 711.8L507.4 712L500.5 708.7L494.9 708.3Z" fill="#00fffa"/><path class="a" d="M508.7 715.2L514.3 715.2L507.4 712L501.8 711.8Z" fill="#00f6ff"/><path class="a" d="M515.6 718.6L521.2 718.4L514.3 715.2L508.7 715.2Z" fill="#00e8ff"/><path class="a" d="M522.5 722L528.1 721.5L521.2 718.4L515.6 718.6Z" fill="#00dbff"/><path d="M529.4 725.3L535 724.6L528.1 721.5L522.5 722Z" fill="#00ceff"/><path d="M536.3 728.5L541.8 727.6L535 724.6L529.4 725.3Z" fill="#00c3ff"/><path d="M543.2 731.7L548.7 730.6L541.8 727.6L536.3 728.5Z" fill="#00b8ff"/><path d="M550.1 734.8L555.6 733.5L548.7 730.6L543.2 731.7Z" fill="#00adff"/><path d="M557 737.9L562.5 736.4L555.6 733.5L550.1 734.8Z" fill="#00a4ff"/><path d="M563.8 740.9L569.3 739.2L562.5 736.4L557 737.9Z" fill="#009bff"/><path d="M570.7 743.9L576.2 741.9L569.3 739.2L563.8 740.9Z" fill="#0093ff"/><path d="M577.6 746.8L583.1 744.6L576.2 741.9L570.7 743.9Z" fill="#008bff"/><path d="M584.4 749.7L589.9 747.2L583.1 744.6L577.6 746.8Z" fill="#0084ff"/><path d="M591.3 752.4L596.8 749.8L589.9 747.2L584.4 749.7Z" fill="#007eff"/><path d="M598.1 755.2L603.7 752.3L596.8 749.8L591.3 752.4Z" fill="#0079ff"/><path class="b" d="M461.5 692.4L467.1 693.9L460.1 690.2L454.5 688.5Z" fill="#00ff84"/><path class="a" d="M468.4 696.3L474.1 697.5L467.1 693.9L461.5 692.4Z" fill="#00ff98"/><path class="a" d="M475.4 700.1L481 701.2L474.1 697.5L468.4 696.3Z" fill="#00ffac"/><path class="a" d="M482.4 703.9L488 704.8L481 701.2L475.4 700.1Z" fill="#00ffbf"/><path class="a" d="M489.3 707.6L494.9 708.3L488 704.8L482.4 703.9Z" fill="#00ffd1"/><path class="a" d="M496.2 711.3L501.8 711.8L494.9 708.3L489.3 707.6Z" fill="#00ffe3"/><path class="a" d="M503.2 715L508.7 715.2L501.8 711.8L496.2 711.3Z" fill="#00fff4"/><path class="a" d="M510.1 718.6L515.6 718.6L508.7 715.2L503.2 715Z" fill="#00faff"/><path class="a" d="M517 722.1L522.5 722L515.6 718.6L510.1 718.6Z" fill="#00ebff"/><path d="M523.9 725.7L529.4 725.3L522.5 722L517 722.1Z" fill="#00dcff"/><path d="M530.8 729.1L536.3 728.5L529.4 725.3L523.9 725.7Z" fill="#00ceff"/><path d="M537.7 732.5L543.2 731.7L536.3 728.5L530.8 729.1Z" fill="#00c1ff"/><path d="M544.6 735.9L550.1 734.8L543.2 731.7L537.7 732.5Z" fill="#00b5ff"/><path d="M551.4 739.2L557 737.9L550.1 734.8L544.6 735.9Z" fill="#00a9ff"/><path d="M558.3 742.4L563.8 740.9L557 737.9L551.4 739.2Z" fill="#009eff"/><path d="M565.2 745.6L570.7 743.9L563.8 740.9L558.3 742.4Z" fill="#0094ff"/><path d="M572 748.7L577.6 746.8L570.7 743.9L565.2 745.6Z" fill="#008aff"/><path d="M578.9 751.8L584.4 749.7L577.6 746.8L572 748.7Z" fill="#0081ff"/><path d="M585.8 754.8L591.3 752.4L584.4 749.7L578.9 751.8Z" fill="#0079ff"/><path d="M592.6 757.8L598.1 755.2L591.3 752.4L585.8 754.8Z" fill="#0072ff"/><path class="b" d="M455.8 690.7L461.5 692.4L454.5 688.5L448.8 686.6Z" fill="#00ff5f"/><path class="b" d="M462.8 694.7L468.4 696.3L461.5 692.4L455.8 690.7Z" fill="#00ff76"/><path class="a" d="M469.8 698.8L475.4 700.1L468.4 696.3L462.8 694.7Z" fill="#00ff8c"/><path class="a" d="M476.8 702.8L482.4 703.9L475.4 700.1L469.8 698.8Z" fill="#00ffa1"/><path class="a" d="M483.7 706.7L489.3 707.6L482.4 703.9L476.8 702.8Z" fill="#00ffb6"/><path class="a" d="M490.7 710.6L496.2 711.3L489.3 707.6L483.7 706.7Z" fill="#00ffca"/><path class="a" d="M497.6 714.5L503.2 715L496.2 711.3L490.7 710.6Z" fill="#00ffdd"/><path class="a" d="M504.5 718.3L510.1 718.6L503.2 715L497.6 714.5Z" fill="#00ffef"/><path class="a" d="M511.5 722.1L517 722.1L510.1 718.6L504.5 718.3Z" fill="#00fdff"/><path class="a" d="M518.4 725.8L523.9 725.7L517 722.1L511.5 722.1Z" fill="#00edff"/><path d="M525.3 729.5L530.8 729.1L523.9 725.7L518.4 725.8Z" fill="#00ddff"/><path d="M532.2 733.1L537.7 732.5L530.8 729.1L525.3 729.5Z" fill="#00ceff"/><path d="M539.1 736.6L544.6 735.9L537.7 732.5L532.2 733.1Z" fill="#00bfff"/><path d="M545.9 740.2L551.4 739.2L544.6 735.9L539.1 736.6Z" fill="#00b1ff"/><path d="M552.8 743.6L558.3 742.4L551.4 739.2L545.9 740.2Z" fill="#00a4ff"/><path d="M559.7 747.1L565.2 745.6L558.3 742.4L552.8 743.6Z" fill="#0098ff"/><path d="M566.5 750.4L572 748.7L565.2 745.6L559.7 747.1Z" fill="#008cff"/><path d="M573.4 753.7L578.9 751.8L572 748.7L566.5 750.4Z" fill="#0081ff"/><path d="M580.2 757L585.8 754.8L578.9 751.8L573.4 753.7Z" fill="#0077ff"/><path d="M587.1 760.2L592.6 757.8L585.8 754.8L580.2 757Z" fill="#006dff"/><path class="b" d="M450.1 688.7L455.8 690.7L448.8 686.6L443.1 684.4Z" fill="#00ff38"/><path class="b" d="M457.1 692.9L462.8 694.7L455.8 690.7L450.1 688.7Z" fill="#00ff51"/><path class="a" d="M464.1 697.2L469.8 698.8L462.8 694.7L457.1 692.9Z" fill="#00ff69"/><path class="a" d="M471.1 701.4L476.8 702.8L469.8 698.8L464.1 697.2Z" fill="#00ff80"/><path class="a" d="M478.1 705.5L483.7 706.7L476.8 702.8L471.1 701.4Z" fill="#00ff97"/><path class="a" d="M485.1 709.6L490.7 710.6L483.7 706.7L478.1 705.5Z" fill="#00ffad"/><path class="a" d="M492 713.7L497.6 714.5L490.7 710.6L485.1 709.6Z" fill="#00ffc2"/><path class="a" d="M499 717.7L504.5 718.3L497.6 714.5L492 713.7Z" fill="#00ffd7"/><path class="a" d="M505.9 721.7L511.5 722.1L504.5 718.3L499 717.7Z" fill="#00ffeb"/><path class="a" d="M512.8 725.6L518.4 725.8L511.5 722.1L505.9 721.7Z" fill="#00fffe"/><path class="a" d="M519.7 729.5L525.3 729.5L518.4 725.8L512.8 725.6Z" fill="#00eeff"/><path d="M526.6 733.4L532.2 733.1L525.3 729.5L519.7 729.5Z" fill="#00ddff"/><path d="M533.5 737.2L539.1 736.6L532.2 733.1L526.6 733.4Z" fill="#00ccff"/><path d="M540.4 740.9L545.9 740.2L539.1 736.6L533.5 737.2Z" fill="#00bcff"/><path d="M547.3 744.6L552.8 743.6L545.9 740.2L540.4 740.9Z" fill="#00adff"/><path d="M554.2 748.2L559.7 747.1L552.8 743.6L547.3 744.6Z" fill="#009fff"/><path d="M561 751.8L566.5 750.4L559.7 747.1L554.2 748.2Z" fill="#0091ff"/><path d="M567.9 755.4L573.4 753.7L566.5 750.4L561 751.8Z" fill="#0084ff"/><path d="M574.7 758.8L580.2 757L573.4 753.7L567.9 755.4Z" fill="#0077ff"/><path d="M581.6 762.3L587.1 760.2L580.2 757L574.7 758.8Z" fill="#006bff"/><path class="b" d="M444.4 686.4L450.1 688.7L443.1 684.4L437.4 681.9Z" fill="#00ff0e"/><path class="b" d="M451.5 690.9L457.1 692.9L450.1 688.7L444.4 686.4Z" fill="#00ff29"/><path class="b" d="M458.5 695.3L464.1 697.2L457.1 692.9L451.5 690.9Z" fill="#00ff43"/><path class="a" d="M465.5 699.7L471.1 701.4L464.1 697.2L458.5 695.3Z" fill="#00ff5d"/><path class="a" d="M472.5 704.1L478.1 705.5L471.1 701.4L465.5 699.7Z" fill="#00ff76"/><path class="a" d="M479.5 708.4L485.1 709.6L478.1 705.5L472.5 704.1Z" fill="#00ff8e"/><path class="a" d="M486.4 712.7L492 713.7L485.1 709.6L479.5 708.4Z" fill="#00ffa5"/><path class="a" d="M493.4 716.9L499 717.7L492 713.7L486.4 712.7Z" fill="#00ffbc"/><path class="a" d="M500.3 721.1L505.9 721.7L499 717.7L493.4 716.9Z" fill="#00ffd2"/><path class="a" d="M507.3 725.2L512.8 725.6L505.9 721.7L500.3 721.1Z" fill="#00ffe7"/><path class="a" d="M514.2 729.3L519.7 729.5L512.8 725.6L507.3 725.2Z" fill="#00fffc"/><path d="M521.1 733.4L526.6 733.4L519.7 729.5L514.2 729.3Z" fill="#00efff"/><path d="M528 737.4L533.5 737.2L526.6 733.4L521.1 733.4Z" fill="#00dcff"/><path d="M534.9 741.4L540.4 740.9L533.5 737.2L528 737.4Z" fill="#00caff"/><path d="M541.8 745.3L547.3 744.6L540.4 740.9L534.9 741.4Z" fill="#00b9ff"/><path d="M548.7 749.1L554.2 748.2L547.3 744.6L541.8 745.3Z" fill="#00a8ff"/><path d="M555.5 753L561 751.8L554.2 748.2L548.7 749.1Z" fill="#0098ff"/><path d="M562.4 756.7L567.9 755.4L561 751.8L555.5 753Z" fill="#0089ff"/><path d="M569.2 760.4L574.7 758.8L567.9 755.4L562.4 756.7Z" fill="#007aff"/><path d="M576.1 764.1L581.6 762.3L574.7 758.8L569.2 760.4Z" fill="#006dff"/><path class="b" d="M438.7 683.8L444.4 686.4L437.4 681.9L431.6 679.1Z" fill="#1bff00"/><path class="b" d="M445.8 688.5L451.5 690.9L444.4 686.4L438.7 683.8Z" fill="#02ff00"/><path class="b" d="M452.8 693.2L458.5 695.3L451.5 690.9L445.8 688.5Z" fill="#00ff1b"/><path class="b" d="M459.8 697.8L465.5 699.7L458.5 695.3L452.8 693.2Z" fill="#00ff36"/><path class="a" d="M466.9 702.3L472.5 704.1L465.5 699.7L459.8 697.8Z" fill="#00ff51"/><path class="a" d="M473.9 706.8L479.5 708.4L472.5 704.1L466.9 702.3Z" fill="#00ff6c"/><path class="a" d="M480.8 711.3L486.4 712.7L479.5 708.4L473.9 706.8Z" fill="#00ff85"/><path class="a" d="M487.8 715.8L493.4 716.9L486.4 712.7L480.8 711.3Z" fill="#00ff9e"/><path class="a" d="M494.8 720.2L500.3 721.1L493.4 716.9L487.8 715.8Z" fill="#00ffb6"/><path class="a" d="M501.7 724.5L507.3 725.2L500.3 721.1L494.8 720.2Z" fill="#00ffce"/><path class="a" d="M508.6 728.9L514.2 729.3L507.3 725.2L501.7 724.5Z" fill="#00ffe4"/><path class="a" d="M515.6 733.1L521.1 733.4L514.2 729.3L508.6 728.9Z" fill="#00fffb"/><path d="M522.5 737.4L528 737.4L521.1 733.4L515.6 733.1Z" fill="#00efff"/><path d="M529.4 741.5L534.9 741.4L528 737.4L522.5 737.4Z" fill="#00dbff"/><path d="M536.3 745.7L541.8 745.3L534.9 741.4L529.4 741.5Z" fill="#00c7ff"/><path d="M543.2 749.8L548.7 749.1L541.8 745.3L536.3 745.7Z" fill="#00b4ff"/><path d="M550 753.8L555.5 753L548.7 749.1L543.2 749.8Z" fill="#00a2ff"/><path d="M556.9 757.8L562.4 756.7L555.5 753L550 753.8Z" fill="#0091ff"/><path d="M563.7 761.8L569.2 760.4L562.4 756.7L556.9 757.8Z" fill="#0080ff"/><path d="M570.6 765.6L576.1 764.1L569.2 760.4L563.7 761.8Z" fill="#0071ff"/><path class="b" d="M432.9 681L438.7 683.8L431.6 679.1L425.8 676.1Z" fill="#45ff00"/><path class="b" d="M440 685.9L445.8 688.5L438.7 683.8L432.9 681Z" fill="#2aff00"/><path class="b" d="M447.1 690.7L452.8 693.2L445.8 688.5L440 685.9Z" fill="#0fff00"/><path class="b" d="M454.2 695.5L459.8 697.8L452.8 693.2L447.1 690.7Z" fill="#00ff0d"/><path class="a" d="M461.2 700.3L466.9 702.3L459.8 697.8L454.2 695.5Z" fill="#00ff2a"/><path class="a" d="M468.2 705L473.9 706.8L466.9 702.3L461.2 700.3Z" fill="#00ff47"/><path class="a" d="M475.2 709.7L480.8 711.3L473.9 706.8L468.2 705Z" fill="#00ff62"/><path class="a" d="M482.2 714.4L487.8 715.8L480.8 711.3L475.2 709.7Z" fill="#00ff7d"/><path class="a" d="M489.2 719L494.8 720.2L487.8 715.8L482.2 714.4Z" fill="#00ff98"/><path class="a" d="M496.1 723.6L501.7 724.5L494.8 720.2L489.2 719Z" fill="#00ffb1"/><path class="a" d="M503.1 728.1L508.6 728.9L501.7 724.5L496.1 723.6Z" fill="#00ffca"/><path class="a" d="M510 732.6L515.6 733.1L508.6 728.9L503.1 728.1Z" fill="#00ffe2"/><path class="a" d="M516.9 737.1L522.5 737.4L515.6 733.1L510 732.6Z" fill="#00fffa"/><path d="M523.9 741.5L529.4 741.5L522.5 737.4L516.9 737.1Z" fill="#00eeff"/><path d="M530.8 745.8L536.3 745.7L529.4 741.5L523.9 741.5Z" fill="#00d8ff"/><path d="M537.6 750.1L543.2 749.8L536.3 745.7L530.8 745.8Z" fill="#00c4ff"/><path d="M544.5 754.4L550 753.8L543.2 749.8L537.6 750.1Z" fill="#00afff"/><path d="M551.4 758.6L556.9 757.8L550 753.8L544.5 754.4Z" fill="#009cff"/><path d="M558.3 762.8L563.7 761.8L556.9 757.8L551.4 758.6Z" fill="#0089ff"/><path d="M565.1 766.9L570.6 765.6L563.7 761.8L558.3 762.8Z" fill="#0077ff"/><path class="b" d="M427.2 677.9L432.9 681L425.8 676.1L420 672.8Z" fill="#72ff00"/><path class="b" d="M434.3 683L440 685.9L432.9 681L427.2 677.9Z" fill="#54ff00"/><path class="b" d="M441.4 688L447.1 690.7L440 685.9L434.3 683Z" fill="#38ff00"/><path class="b" d="M448.4 693L454.2 695.5L447.1 690.7L441.4 688Z" fill="#1bff00"/><path class="b" d="M455.5 698L461.2 700.3L454.2 695.5L448.4 693Z" fill="#00ff00"/><path class="a" d="M462.5 702.9L468.2 705L461.2 700.3L455.5 698Z" fill="#00ff1f"/><path class="a" d="M469.6 707.8L475.2 709.7L468.2 705L462.5 702.9Z" fill="#00ff3d"/><path class="a" d="M476.6 712.7L482.2 714.4L475.2 709.7L469.6 707.8Z" fill="#00ff5a"/><path class="a" d="M483.6 717.5L489.2 719L482.2 714.4L476.6 712.7Z" fill="#00ff76"/><path class="a" d="M490.5 722.3L496.1 723.6L489.2 719L483.6 717.5Z" fill="#00ff92"/><path class="a" d="M497.5 727.1L503.1 728.1L496.1 723.6L490.5 722.3Z" fill="#00ffad"/><path class="a" d="M504.5 731.8L510 732.6L503.1 728.1L497.5 727.1Z" fill="#00ffc7"/><path class="a" d="M511.4 736.5L516.9 737.1L510 732.6L504.5 731.8Z" fill="#00ffe1"/><path d="M518.3 741.1L523.9 741.5L516.9 737.1L511.4 736.5Z" fill="#00fffa"/><path d="M525.2 745.7L530.8 745.8L523.9 741.5L518.3 741.1Z" fill="#00ecff"/><path d="M532.1 750.2L537.6 750.1L530.8 745.8L525.2 745.7Z" fill="#00d5ff"/><path d="M539 754.7L544.5 754.4L537.6 750.1L532.1 750.2Z" fill="#00bfff"/><path d="M545.9 759.2L551.4 758.6L544.5 754.4L539 754.7Z" fill="#00aaff"/><path d="M552.8 763.6L558.3 762.8L551.4 758.6L545.9 759.2Z" fill="#0095ff"/><path d="M559.6 767.9L565.1 766.9L558.3 762.8L552.8 763.6Z" fill="#0081ff"/><path class="b" d="M421.4 674.5L427.2 677.9L420 672.8L414.2 669.3Z" fill="#a1ff00"/><path class="b" d="M428.5 679.8L434.3 683L427.2 677.9L421.4 674.5Z" fill="#82ff00"/><path class="b" d="M435.6 685L441.4 688L434.3 683L428.5 679.8Z" fill="#63ff00"/><path class="b" d="M442.7 690.3L448.4 693L441.4 688L435.6 685Z" fill="#45ff00"/><path class="b" d="M449.8 695.4L455.5 698L448.4 693L442.7 690.3Z" fill="#27ff00"/><path class="b" d="M456.9 700.6L462.5 702.9L455.5 698L449.8 695.4Z" fill="#0aff00"/><path class="a" d="M463.9 705.7L469.6 707.8L462.5 702.9L456.9 700.6Z" fill="#00ff14"/><path class="a" d="M470.9 710.8L476.6 712.7L469.6 707.8L463.9 705.7Z" fill="#00ff33"/><path class="a" d="M477.9 715.8L483.6 717.5L476.6 712.7L470.9 710.8Z" fill="#00ff52"/><path class="a" d="M484.9 720.8L490.5 722.3L483.6 717.5L477.9 715.8Z" fill="#00ff70"/><path class="a" d="M491.9 725.8L497.5 727.1L490.5 722.3L484.9 720.8Z" fill="#00ff8d"/><path class="a" d="M498.9 730.7L504.5 731.8L497.5 727.1L491.9 725.8Z" fill="#00ffaa"/><path class="a" d="M505.8 735.6L511.4 736.5L504.5 731.8L498.9 730.7Z" fill="#00ffc5"/><path class="a" d="M512.8 740.4L518.3 741.1L511.4 736.5L505.8 735.6Z" fill="#00ffe1"/><path d="M519.7 745.2L525.2 745.7L518.3 741.1L512.8 740.4Z" fill="#00fffb"/><path d="M526.6 750L532.1 750.2L525.2 745.7L519.7 745.2Z" fill="#00eaff"/><path d="M533.5 754.7L539 754.7L532.1 750.2L526.6 750Z" fill="#00d2ff"/><path d="M540.4 759.4L545.9 759.2L539 754.7L533.5 754.7Z" fill="#00baff"/><path d="M547.3 764L552.8 763.6L545.9 759.2L540.4 759.4Z" fill="#00a3ff"/><path d="M554.1 768.6L559.6 767.9L552.8 763.6L547.3 764Z" fill="#008dff"/><path class="b" d="M415.5 670.9L421.4 674.5L414.2 669.3L408.3 665.4Z" fill="#d3ff00"/><path class="b" d="M422.7 676.3L428.5 679.8L421.4 674.5L415.5 670.9Z" fill="#b1ff00"/><path class="b" d="M429.8 681.8L435.6 685L428.5 679.8L422.7 676.3Z" fill="#91ff00"/><path class="b" d="M437 687.2L442.7 690.3L435.6 685L429.8 681.8Z" fill="#71ff00"/><path class="b" d="M444.1 692.6L449.8 695.4L442.7 690.3L437 687.2Z" fill="#51ff00"/><path class="b" d="M451.2 697.9L456.9 700.6L449.8 695.4L444.1 692.6Z" fill="#33ff00"/><path class="b" d="M458.2 703.2L463.9 705.7L456.9 700.6L451.2 697.9Z" fill="#15ff00"/><path class="a" d="M465.3 708.5L470.9 710.8L463.9 705.7L458.2 703.2Z" fill="#00ff0a"/><path class="a" d="M472.3 713.8L477.9 715.8L470.9 710.8L465.3 708.5Z" fill="#00ff2b"/><path class="a" d="M479.3 719L484.9 720.8L477.9 715.8L472.3 713.8Z" fill="#00ff4b"/><path class="a" d="M486.3 724.2L491.9 725.8L484.9 720.8L479.3 719Z" fill="#00ff6a"/><path class="a" d="M493.3 729.3L498.9 730.7L491.9 725.8L486.3 724.2Z" fill="#00ff89"/><path class="a" d="M500.3 734.4L505.8 735.6L498.9 730.7L493.3 729.3Z" fill="#00ffa7"/><path class="a" d="M507.2 739.5L512.8 740.4L505.8 735.6L500.3 734.4Z" fill="#00ffc4"/><path class="a" d="M514.2 744.5L519.7 745.2L512.8 740.4L507.2 739.5Z" fill="#00ffe1"/><path d="M521.1 749.5L526.6 750L519.7 745.2L514.2 744.5Z" fill="#00fffc"/><path d="M528 754.5L533.5 754.7L526.6 750L521.1 749.5Z" fill="#00e7ff"/><path d="M534.9 759.4L540.4 759.4L533.5 754.7L528 754.5Z" fill="#00cdff"/><path d="M541.8 764.2L547.3 764L540.4 759.4L534.9 759.4Z" fill="#00b4ff"/><path d="M548.6 769.1L554.1 768.6L547.3 764L541.8 764.2Z" fill="#009cff"/><path class="b" d="M409.6 666.9L415.5 670.9L408.3 665.4L402.4 661.3Z" fill="#fff800"/><path class="b" d="M416.8 672.6L422.7 676.3L415.5 670.9L409.6 666.9Z" fill="#e4ff00"/><path class="b" d="M424 678.2L429.8 681.8L422.7 676.3L416.8 672.6Z" fill="#c1ff00"/><path class="b" d="M431.2 683.8L437 687.2L429.8 681.8L424 678.2Z" fill="#9fff00"/><path class="b" d="M438.3 689.4L444.1 692.6L437 687.2L431.2 683.8Z" fill="#7eff00"/><path class="b" d="M445.4 695L451.2 697.9L444.1 692.6L438.3 689.4Z" fill="#5dff00"/><path class="b" d="M452.5 700.5L458.2 703.2L451.2 697.9L445.4 695Z" fill="#3dff00"/><path class="a" d="M459.6 706L465.3 708.5L458.2 703.2L452.5 700.5Z" fill="#1eff00"/><path class="a" d="M466.6 711.4L472.3 713.8L465.3 708.5L459.6 706Z" fill="#00ff01"/><path class="a" d="M473.7 716.9L479.3 719L472.3 713.8L466.6 711.4Z" fill="#00ff23"/><path class="a" d="M480.7 722.3L486.3 724.2L479.3 719L473.7 716.9Z" fill="#00ff45"/><path class="a" d="M487.7 727.6L493.3 729.3L486.3 724.2L480.7 722.3Z" fill="#00ff65"/><path class="a" d="M494.7 733L500.3 734.4L493.3 729.3L487.7 727.6Z" fill="#00ff86"/><path class="a" d="M501.6 738.3L507.2 739.5L500.3 734.4L494.7 733Z" fill="#00ffa5"/><path class="a" d="M508.6 743.5L514.2 744.5L507.2 739.5L501.6 738.3Z" fill="#00ffc4"/><path class="a" d="M515.5 748.7L521.1 749.5L514.2 744.5L508.6 743.5Z" fill="#00ffe2"/><path d="M522.4 753.9L528 754.5L521.1 749.5L515.5 748.7Z" fill="#00ffff"/><path d="M529.4 759.1L534.9 759.4L528 754.5L522.4 753.9Z" fill="#00e3ff"/><path d="M536.2 764.1L541.8 764.2L534.9 759.4L529.4 759.1Z" fill="#00c8ff"/><path d="M543.1 769.2L548.6 769.1L541.8 764.2L536.2 764.1Z" fill="#00aeff"/><path class="b" d="M403.7 662.7L409.6 666.9L402.4 661.3L396.5 656.8Z" fill="#ffc200"/><path class="b" d="M411 668.6L416.8 672.6L409.6 666.9L403.7 662.7Z" fill="#ffe600"/><path class="b" d="M418.2 674.4L424 678.2L416.8 672.6L411 668.6Z" fill="#f4ff00"/><path class="b" d="M425.4 680.2L431.2 683.8L424 678.2L418.2 674.4Z" fill="#d0ff00"/><path class="b" d="M432.5 686L438.3 689.4L431.2 683.8L425.4 680.2Z" fill="#adff00"/><path class="b" d="M439.7 691.7L445.4 695L438.3 689.4L432.5 686Z" fill="#8aff00"/><path class="b" d="M446.8 697.5L452.5 700.5L445.4 695L439.7 691.7Z" fill="#69ff00"/><path class="b" d="M453.9 703.2L459.6 706L452.5 700.5L446.8 697.5Z" fill="#47ff00"/><path class="a" d="M461 708.8L466.6 711.4L459.6 706L453.9 703.2Z" fill="#27ff00"/><path class="a" d="M468 714.5L473.7 716.9L466.6 711.4L461 708.8Z" fill="#07ff00"/><path class="a" d="M475.1 720.1L480.7 722.3L473.7 716.9L468 714.5Z" fill="#00ff1c"/><path class="a" d="M482.1 725.7L487.7 727.6L480.7 722.3L475.1 720.1Z" fill="#00ff3f"/><path class="a" d="M489.1 731.2L494.7 733L487.7 727.6L482.1 725.7Z" fill="#00ff61"/><path class="a" d="M496.1 736.7L501.6 738.3L494.7 733L489.1 731.2Z" fill="#00ff83"/><path class="a" d="M503 742.2L508.6 743.5L501.6 738.3L496.1 736.7Z" fill="#00ffa4"/><path class="a" d="M510 747.7L515.5 748.7L508.6 743.5L503 742.2Z" fill="#00ffc4"/><path d="M516.9 753.1L522.4 753.9L515.5 748.7L510 747.7Z" fill="#00ffe3"/><path d="M523.8 758.4L529.4 759.1L522.4 753.9L516.9 753.1Z" fill="#00fcff"/><path d="M530.7 763.8L536.2 764.1L529.4 759.1L523.8 758.4Z" fill="#00dfff"/><path d="M537.6 769.1L543.1 769.2L536.2 764.1L530.7 763.8Z" fill="#00c3ff"/><path class="b" d="M397.8 658.2L403.7 662.7L396.5 656.8L390.5 652.1Z" fill="#ff8a00"/><path class="b" d="M405.1 664.2L411 668.6L403.7 662.7L397.8 658.2Z" fill="#ffb000"/><path class="b" d="M412.3 670.3L418.2 674.4L411 668.6L405.1 664.2Z" fill="#ffd600"/><path class="b" d="M419.5 676.3L425.4 680.2L418.2 674.4L412.3 670.3Z" fill="#fffb00"/><path class="b" d="M426.7 682.2L432.5 686L425.4 680.2L419.5 676.3Z" fill="#dfff00"/><path class="b" d="M433.9 688.2L439.7 691.7L432.5 686L426.7 682.2Z" fill="#baff00"/><path class="b" d="M441 694.1L446.8 697.5L439.7 691.7L433.9 688.2Z" fill="#96ff00"/><path class="b" d="M448.1 700L453.9 703.2L446.8 697.5L441 694.1Z" fill="#73ff00"/><path class="b" d="M455.2 705.9L461 708.8L453.9 703.2L448.1 700Z" fill="#51ff00"/><path class="a" d="M462.3 711.8L468 714.5L461 708.8L455.2 705.9Z" fill="#2fff00"/><path class="a" d="M469.4 717.6L475.1 720.1L468 714.5L462.3 711.8Z" fill="#0dff00"/><path class="a" d="M476.4 723.4L482.1 725.7L475.1 720.1L469.4 717.6Z" fill="#00ff16"/><path class="a" d="M483.5 729.2L489.1 731.2L482.1 725.7L476.4 723.4Z" fill="#00ff3a"/><path class="a" d="M490.5 734.9L496.1 736.7L489.1 731.2L483.5 729.2Z" fill="#00ff5e"/><path class="a" d="M497.4 740.6L503 742.2L496.1 736.7L490.5 734.9Z" fill="#00ff81"/><path class="a" d="M504.4 746.3L510 747.7L503 742.2L497.4 740.6Z" fill="#00ffa3"/><path class="a" d="M511.4 751.9L516.9 753.1L510 747.7L504.4 746.3Z" fill="#00ffc5"/><path d="M518.3 757.5L523.8 758.4L516.9 753.1L511.4 751.9Z" fill="#00ffe6"/><path d="M525.2 763.1L530.7 763.8L523.8 758.4L518.3 757.5Z" fill="#00f8ff"/><path d="M532.1 768.6L537.6 769.1L530.7 763.8L525.2 763.1Z" fill="#00daff"/><path class="b" d="M391.8 653.4L397.8 658.2L390.5 652.1L384.5 647.1Z" fill="#ff5000"/><path class="b" d="M399.1 659.6L405.1 664.2L397.8 658.2L391.8 653.4Z" fill="#ff7800"/><path class="b" d="M406.4 665.8L412.3 670.3L405.1 664.2L399.1 659.6Z" fill="#ff9f00"/><path class="b" d="M413.6 672L419.5 676.3L412.3 670.3L406.4 665.8Z" fill="#ffc600"/><path class="b" d="M420.9 678.2L426.7 682.2L419.5 676.3L413.6 672Z" fill="#ffec00"/><path class="b" d="M428.1 684.4L433.9 688.2L426.7 682.2L420.9 678.2Z" fill="#ecff00"/><path class="b" d="M435.2 690.5L441 694.1L433.9 688.2L428.1 684.4Z" fill="#c7ff00"/><path class="b" d="M442.4 696.6L448.1 700L441 694.1L435.2 690.5Z" fill="#a2ff00"/><path class="b" d="M449.5 702.7L455.2 705.9L448.1 700L442.4 696.6Z" fill="#7dff00"/><path class="b" d="M456.6 708.8L462.3 711.8L455.2 705.9L449.5 702.7Z" fill="#59ff00"/><path class="a" d="M463.7 714.8L469.4 717.6L462.3 711.8L456.6 708.8Z" fill="#36ff00"/><path class="a" d="M470.8 720.9L476.4 723.4L469.4 717.6L463.7 714.8Z" fill="#14ff00"/><path class="a" d="M477.8 726.8L483.5 729.2L476.4 723.4L470.8 720.9Z" fill="#00ff10"/><path class="a" d="M484.8 732.8L490.5 734.9L483.5 729.2L477.8 726.8Z" fill="#00ff36"/><path class="a" d="M491.8 738.7L497.4 740.6L490.5 734.9L484.8 732.8Z" fill="#00ff5b"/><path class="a" d="M498.8 744.6L504.4 746.3L497.4 740.6L491.8 738.7Z" fill="#00ff80"/><path class="a" d="M505.8 750.5L511.4 751.9L504.4 746.3L498.8 744.6Z" fill="#00ffa3"/><path class="a" d="M512.7 756.3L518.3 757.5L511.4 751.9L505.8 750.5Z" fill="#00ffc6"/><path d="M519.7 762.1L525.2 763.1L518.3 757.5L512.7 756.3Z" fill="#00ffe9"/><path d="M526.6 767.9L532.1 768.6L525.2 763.1L519.7 762.1Z" fill="#00f4ff"/></g><path d="M526.6 767.9L532.1 768.6L537.6 769.1L543.1 769.2L548.6 769.1L554.1 768.6L559.6 767.9L565.1 766.9L570.6 765.6L576.1 764.1L581.6 762.3L587.1 760.2L592.6 757.8L598.1 755.2L603.7 752.3L609.2 749.1L614.8 745.7L620.3 742.1L625.9 738.2L631.5 734.1L637.2 729.7L642.8 725.1L648.5 720.2L654.2 715.2L659.9 709.8L665.6 704.3L665.6 704.3L658.6 704.3L651.6 704.2L644.6 704.1L637.6 703.8L630.6 703.5L623.7 703.1L616.7 702.7L609.8 702.1L602.8 701.5L595.9 700.9L589 700.1L582 699.3L575.1 698.4L568.2 697.5L561.3 696.5L554.4 695.4L547.5 694.2L540.7 693L533.8 691.8L526.9 690.4L526.9 690.4L521.4 691.7L515.8 692.8L510.3 693.7L504.8 694.3L499.2 694.6L493.7 694.7L488.1 694.6L482.6 694.2L477 693.6L471.4 692.7L465.8 691.6L460.1 690.2L454.5 688.5L448.8 686.6L443.1 684.4L437.4 681.9L431.6 679.1L425.8 676.1L420 672.8L414.2 669.3L408.3 665.4L402.4 661.3L396.5 656.8L390.5 652.1L384.5 647.1L384.5 647.1L391.8 653.4L399.1 659.6L406.4 665.8L413.6 672L420.9 678.2L428.1 684.4L435.2 690.5L442.4 696.6L449.5 702.7L456.6 708.8L463.7 714.8L470.8 720.9L477.8 726.8L484.8 732.8L491.8 738.7L498.8 744.6L505.8 750.5L512.7 756.3L519.7 762.1L526.6 767.9Z" fill="none" stroke="#1a1a1a" stroke-width="0.6" stroke-linejoin="round"/><circle cx="384.4" cy="646.3" r="2.5" fill="#bf0000" stroke="#700" stroke-width="0.5"/><circle cx="526.6" cy="720" r="2.5" fill="#bf0000" stroke="#700" stroke-width="0.5"/><circle cx="526.5" cy="767.1" r="2.5" fill="#bf0000" stroke="#700" stroke-width="0.5"/><circle cx="666" cy="706.4" r="2.6" fill="#ffd0d0" stroke="#777" stroke-width="0.6"/><circle cx="390.2" cy="752.7" r="1.1" fill="#000"/><text x="386.9" y="758.3" text-anchor="end" class="tk">150</text><circle cx="388.5" cy="722.2" r="1.1" fill="#000"/><text x="385.2" y="727.8" text-anchor="end" class="tk">200</text><circle cx="386.9" cy="691.7" r="1.1" fill="#000"/><text x="383.6" y="697.3" text-anchor="end" class="tk">250</text><circle cx="385.2" cy="661.1" r="1.1" fill="#000"/><text x="381.9" y="666.7" text-anchor="end" class="tk">300</text><circle cx="383.6" cy="630.6" r="1.1" fill="#000"/><text x="380.3" y="636.2" text-anchor="end" class="tk">350</text><circle cx="392.2" cy="790.6" r="1.1" fill="#000"/><text transform="translate(385.8 798) rotate(-28)" text-anchor="middle" class="tk">30</text><circle cx="425.8" cy="804.6" r="1.1" fill="#000"/><text transform="translate(419.4 812) rotate(-28)" text-anchor="middle" class="tk">25</text><circle cx="459.4" cy="818.5" r="1.1" fill="#000"/><text transform="translate(453 825.9) rotate(-28)" text-anchor="middle" class="tk">20</text><circle cx="492.9" cy="832.4" r="1.1" fill="#000"/><text transform="translate(486.5 839.8) rotate(-28)" text-anchor="middle" class="tk">15</text><circle cx="526.5" cy="846.4" r="1.1" fill="#000"/><text transform="translate(520.1 853.8) rotate(-28)" text-anchor="middle" class="tk">10</text><circle cx="526.5" cy="846.4" r="1.1" fill="#000"/><text transform="translate(531.4 855.8) rotate(-28)" text-anchor="middle" class="tk">40</text><circle cx="560.1" cy="832.5" r="1.1" fill="#000"/><text transform="translate(565 841.9) rotate(-28)" text-anchor="middle" class="tk">45</text><circle cx="593.8" cy="818.6" r="1.1" fill="#000"/><text transform="translate(598.6 828) rotate(-28)" text-anchor="middle" class="tk">50</text><circle cx="627.4" cy="804.7" r="1.1" fill="#000"/><text transform="translate(632.3 814.1) rotate(-28)" text-anchor="middle" class="tk">55</text><circle cx="661" cy="790.8" r="1.1" fill="#000"/><text transform="translate(665.9 800.2) rotate(-28)" text-anchor="middle" class="tk">60</text><text transform="translate(433.4 838) rotate(24.5) skewX(20) scale(1.143 1)" text-anchor="middle" font-size="11.6" font-weight="bold">X<tspan font-size="7.6" dy="2.3">3</tspan><tspan dy="-2.3">: SDC (mg)</tspan></text><text transform="translate(616.8 840.1) rotate(-23.5) skewX(-18) scale(1.110 1)" text-anchor="middle" font-size="11.6" font-weight="bold">X<tspan font-size="7.6" dy="2.3">2</tspan><tspan dy="-2.3">: Span 60 (mg)</tspan></text><text transform="translate(356.9 702.7) rotate(-93) scale(1.117 1)" text-anchor="middle" font-size="11.2" font-weight="bold">Y<tspan font-size="7.3" dy="2.2">2</tspan><tspan dy="-2.2">: Vesicle size (nm)</tspan></text></g></svg></div></body></html>
